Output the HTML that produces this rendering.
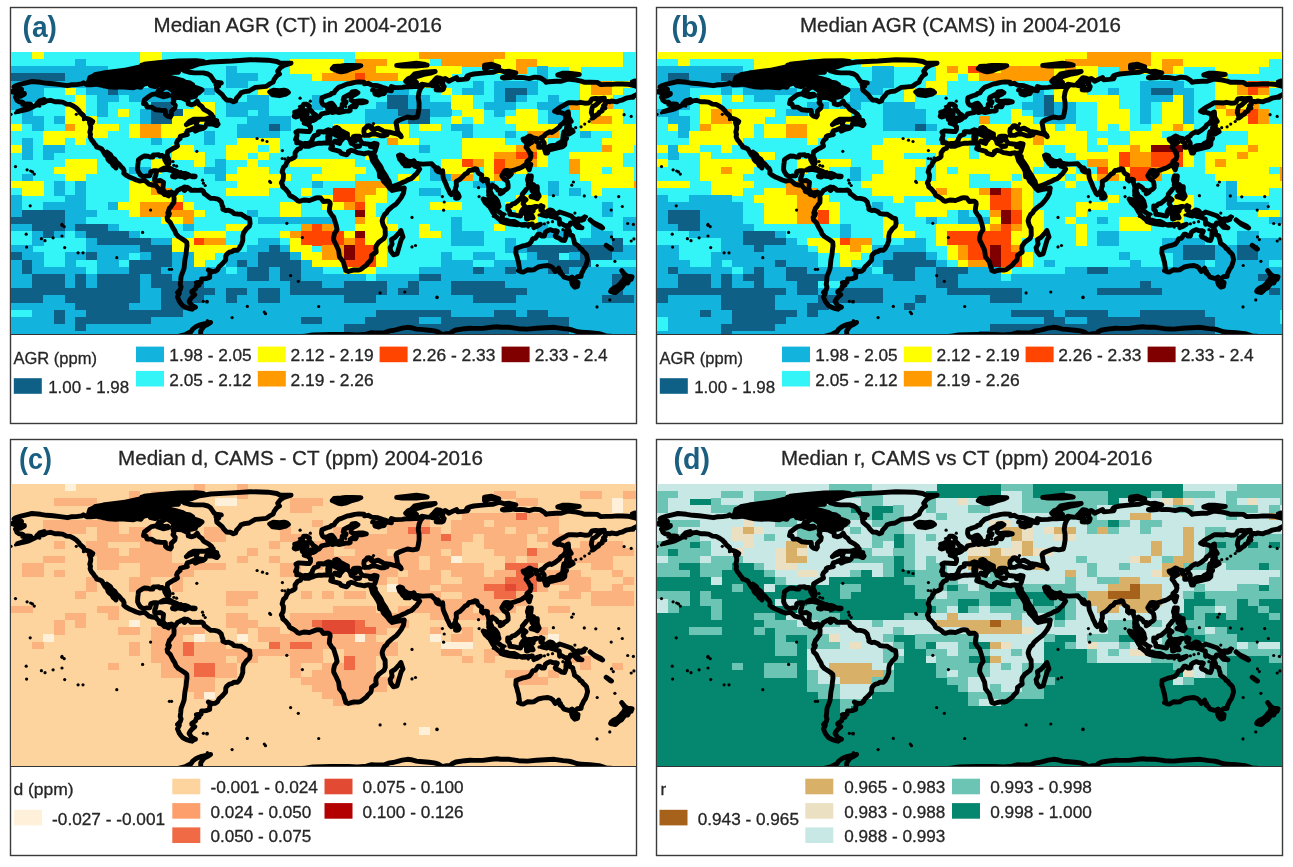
<!DOCTYPE html>
<html><head><meta charset="utf-8"><title>Median AGR maps</title>
<style>html,body{margin:0;padding:0;background:#fff;}body{width:1293px;height:867px;overflow:hidden;}svg{display:block;}</style>
</head><body>
<svg width="1293" height="867" viewBox="0 0 1293 867">
<rect x="0" y="0" width="1293" height="867" fill="#ffffff"/>
<rect x="10.5" y="7.5" width="626" height="416" fill="#fff" stroke="#3a3a3a" stroke-width="1.4"/>
<rect x="656.5" y="7.5" width="626" height="416" fill="#fff" stroke="#3a3a3a" stroke-width="1.4"/>
<rect x="10.5" y="439.5" width="626" height="416" fill="#fff" stroke="#3a3a3a" stroke-width="1.4"/>
<rect x="656.5" y="439.5" width="626" height="416" fill="#fff" stroke="#3a3a3a" stroke-width="1.4"/>
<defs><clipPath id="clipa"><rect x="11" y="52" width="625" height="282"/></clipPath><clipPath id="clipb"><rect x="657" y="52" width="625" height="282"/></clipPath><clipPath id="clipc"><rect x="11" y="484" width="625" height="282"/></clipPath><clipPath id="clipd"><rect x="657" y="484" width="625" height="282"/></clipPath></defs>
<g clip-path="url(#clipa)">
<g shape-rendering="crispEdges"><rect x="11" y="52" width="625" height="282" fill="#33f5f8"/>
<rect x="32.48" y="52.00" width="11.04" height="7.46" fill="#ffff00"/>
<rect x="139.88" y="52.00" width="21.78" height="7.46" fill="#ffff00"/>
<rect x="354.68" y="52.00" width="64.74" height="7.46" fill="#ffff00"/>
<rect x="419.12" y="52.00" width="86.22" height="7.46" fill="#ff9a00"/>
<rect x="505.04" y="52.00" width="118.44" height="7.46" fill="#ffff00"/>
<rect x="75.44" y="59.16" width="11.04" height="7.46" fill="#12b4de"/>
<rect x="139.88" y="59.16" width="21.78" height="7.46" fill="#ffff00"/>
<rect x="290.24" y="59.16" width="54.00" height="7.46" fill="#ffff00"/>
<rect x="354.68" y="59.16" width="32.52" height="7.46" fill="#ff9a00"/>
<rect x="386.90" y="59.16" width="43.26" height="7.46" fill="#ffff00"/>
<rect x="440.60" y="59.16" width="54.00" height="7.46" fill="#ff9a00"/>
<rect x="494.30" y="59.16" width="21.78" height="7.46" fill="#ffff00"/>
<rect x="515.78" y="59.16" width="21.78" height="7.46" fill="#ff9a00"/>
<rect x="537.26" y="59.16" width="86.22" height="7.46" fill="#ffff00"/>
<rect x="11.00" y="66.32" width="96.96" height="7.46" fill="#12b4de"/>
<rect x="139.88" y="66.32" width="21.78" height="7.46" fill="#ffff00"/>
<rect x="225.80" y="66.32" width="11.04" height="7.46" fill="#12b4de"/>
<rect x="290.24" y="66.32" width="43.26" height="7.46" fill="#ffff00"/>
<rect x="333.20" y="66.32" width="43.26" height="7.46" fill="#ff9a00"/>
<rect x="376.16" y="66.32" width="86.22" height="7.46" fill="#ffff00"/>
<rect x="494.30" y="66.32" width="21.78" height="7.46" fill="#ffff00"/>
<rect x="515.78" y="66.32" width="11.04" height="7.46" fill="#ff9a00"/>
<rect x="537.26" y="66.32" width="11.04" height="7.46" fill="#12b4de"/>
<rect x="569.48" y="66.32" width="11.04" height="7.46" fill="#ffff00"/>
<rect x="11.00" y="73.48" width="54.00" height="7.46" fill="#0e6087"/>
<rect x="64.70" y="73.48" width="54.00" height="7.46" fill="#12b4de"/>
<rect x="161.36" y="73.48" width="11.04" height="7.46" fill="#12b4de"/>
<rect x="225.80" y="73.48" width="32.52" height="7.46" fill="#12b4de"/>
<rect x="311.72" y="73.48" width="11.04" height="7.46" fill="#ffff00"/>
<rect x="322.46" y="73.48" width="32.52" height="7.46" fill="#ff9a00"/>
<rect x="354.68" y="73.48" width="11.04" height="7.46" fill="#ff4500"/>
<rect x="365.42" y="73.48" width="32.52" height="7.46" fill="#ff9a00"/>
<rect x="397.64" y="73.48" width="54.00" height="7.46" fill="#ffff00"/>
<rect x="537.26" y="73.48" width="11.04" height="7.46" fill="#12b4de"/>
<rect x="11.00" y="80.64" width="96.96" height="7.46" fill="#12b4de"/>
<rect x="107.66" y="80.64" width="11.04" height="7.46" fill="#0e6087"/>
<rect x="118.40" y="80.64" width="11.04" height="7.46" fill="#12b4de"/>
<rect x="161.36" y="80.64" width="21.78" height="7.46" fill="#12b4de"/>
<rect x="225.80" y="80.64" width="21.78" height="7.46" fill="#12b4de"/>
<rect x="408.38" y="80.64" width="32.52" height="7.46" fill="#ffff00"/>
<rect x="472.82" y="80.64" width="11.04" height="7.46" fill="#12b4de"/>
<rect x="494.30" y="80.64" width="43.26" height="7.46" fill="#12b4de"/>
<rect x="580.22" y="80.64" width="11.04" height="7.46" fill="#ffff00"/>
<rect x="590.96" y="80.64" width="21.78" height="7.46" fill="#ff9a00"/>
<rect x="612.44" y="80.64" width="23.86" height="7.46" fill="#ffff00"/>
<rect x="11.00" y="87.80" width="32.52" height="7.46" fill="#12b4de"/>
<rect x="64.70" y="87.80" width="11.04" height="7.46" fill="#ffff00"/>
<rect x="86.18" y="87.80" width="21.78" height="7.46" fill="#12b4de"/>
<rect x="107.66" y="87.80" width="11.04" height="7.46" fill="#0e6087"/>
<rect x="118.40" y="87.80" width="64.74" height="7.46" fill="#12b4de"/>
<rect x="204.32" y="87.80" width="11.04" height="7.46" fill="#12b4de"/>
<rect x="258.02" y="87.80" width="11.04" height="7.46" fill="#ffff00"/>
<rect x="376.16" y="87.80" width="32.52" height="7.46" fill="#12b4de"/>
<rect x="440.60" y="87.80" width="11.04" height="7.46" fill="#ffff00"/>
<rect x="462.08" y="87.80" width="21.78" height="7.46" fill="#12b4de"/>
<rect x="494.30" y="87.80" width="11.04" height="7.46" fill="#12b4de"/>
<rect x="505.04" y="87.80" width="21.78" height="7.46" fill="#0e6087"/>
<rect x="526.52" y="87.80" width="11.04" height="7.46" fill="#12b4de"/>
<rect x="580.22" y="87.80" width="11.04" height="7.46" fill="#ffff00"/>
<rect x="590.96" y="87.80" width="21.78" height="7.46" fill="#ff9a00"/>
<rect x="612.44" y="87.80" width="11.04" height="7.46" fill="#ffff00"/>
<rect x="11.00" y="94.96" width="32.52" height="7.46" fill="#12b4de"/>
<rect x="75.44" y="94.96" width="11.04" height="7.46" fill="#ffff00"/>
<rect x="96.92" y="94.96" width="21.78" height="7.46" fill="#12b4de"/>
<rect x="129.14" y="94.96" width="43.26" height="7.46" fill="#12b4de"/>
<rect x="247.28" y="94.96" width="21.78" height="7.46" fill="#12b4de"/>
<rect x="311.72" y="94.96" width="11.04" height="7.46" fill="#12b4de"/>
<rect x="386.90" y="94.96" width="21.78" height="7.46" fill="#0e6087"/>
<rect x="408.38" y="94.96" width="21.78" height="7.46" fill="#12b4de"/>
<rect x="451.34" y="94.96" width="21.78" height="7.46" fill="#ffff00"/>
<rect x="494.30" y="94.96" width="11.04" height="7.46" fill="#12b4de"/>
<rect x="505.04" y="94.96" width="11.04" height="7.46" fill="#0e6087"/>
<rect x="515.78" y="94.96" width="11.04" height="7.46" fill="#12b4de"/>
<rect x="548.00" y="94.96" width="11.04" height="7.46" fill="#12b4de"/>
<rect x="580.22" y="94.96" width="32.52" height="7.46" fill="#ffff00"/>
<rect x="11.00" y="102.12" width="11.04" height="7.46" fill="#12b4de"/>
<rect x="64.70" y="102.12" width="21.78" height="7.46" fill="#ffff00"/>
<rect x="96.92" y="102.12" width="11.04" height="7.46" fill="#12b4de"/>
<rect x="150.62" y="102.12" width="21.78" height="7.46" fill="#0e6087"/>
<rect x="193.58" y="102.12" width="21.78" height="7.46" fill="#ffff00"/>
<rect x="225.80" y="102.12" width="43.26" height="7.46" fill="#12b4de"/>
<rect x="311.72" y="102.12" width="11.04" height="7.46" fill="#12b4de"/>
<rect x="376.16" y="102.12" width="11.04" height="7.46" fill="#12b4de"/>
<rect x="386.90" y="102.12" width="21.78" height="7.46" fill="#0e6087"/>
<rect x="408.38" y="102.12" width="43.26" height="7.46" fill="#12b4de"/>
<rect x="451.34" y="102.12" width="21.78" height="7.46" fill="#ffff00"/>
<rect x="483.56" y="102.12" width="32.52" height="7.46" fill="#12b4de"/>
<rect x="537.26" y="102.12" width="32.52" height="7.46" fill="#12b4de"/>
<rect x="569.48" y="102.12" width="11.04" height="7.46" fill="#ff9a00"/>
<rect x="580.22" y="102.12" width="21.78" height="7.46" fill="#ffff00"/>
<rect x="601.70" y="102.12" width="11.04" height="7.46" fill="#ff9a00"/>
<rect x="21.74" y="109.28" width="11.04" height="7.46" fill="#12b4de"/>
<rect x="64.70" y="109.28" width="21.78" height="7.46" fill="#ffff00"/>
<rect x="96.92" y="109.28" width="11.04" height="7.46" fill="#12b4de"/>
<rect x="118.40" y="109.28" width="11.04" height="7.46" fill="#ffff00"/>
<rect x="139.88" y="109.28" width="11.04" height="7.46" fill="#12b4de"/>
<rect x="150.62" y="109.28" width="32.52" height="7.46" fill="#0e6087"/>
<rect x="182.84" y="109.28" width="32.52" height="7.46" fill="#ffff00"/>
<rect x="225.80" y="109.28" width="21.78" height="7.46" fill="#12b4de"/>
<rect x="258.02" y="109.28" width="11.04" height="7.46" fill="#12b4de"/>
<rect x="365.42" y="109.28" width="32.52" height="7.46" fill="#12b4de"/>
<rect x="397.64" y="109.28" width="32.52" height="7.46" fill="#0e6087"/>
<rect x="429.86" y="109.28" width="21.78" height="7.46" fill="#12b4de"/>
<rect x="462.08" y="109.28" width="21.78" height="7.46" fill="#ffff00"/>
<rect x="494.30" y="109.28" width="11.04" height="7.46" fill="#12b4de"/>
<rect x="515.78" y="109.28" width="21.78" height="7.46" fill="#ffff00"/>
<rect x="548.00" y="109.28" width="21.78" height="7.46" fill="#12b4de"/>
<rect x="580.22" y="109.28" width="43.26" height="7.46" fill="#ffff00"/>
<rect x="21.74" y="116.44" width="21.78" height="7.46" fill="#12b4de"/>
<rect x="53.96" y="116.44" width="11.04" height="7.46" fill="#12b4de"/>
<rect x="64.70" y="116.44" width="32.52" height="7.46" fill="#ffff00"/>
<rect x="139.88" y="116.44" width="11.04" height="7.46" fill="#12b4de"/>
<rect x="150.62" y="116.44" width="21.78" height="7.46" fill="#0e6087"/>
<rect x="172.10" y="116.44" width="32.52" height="7.46" fill="#ffff00"/>
<rect x="247.28" y="116.44" width="43.26" height="7.46" fill="#12b4de"/>
<rect x="365.42" y="116.44" width="43.26" height="7.46" fill="#12b4de"/>
<rect x="408.38" y="116.44" width="21.78" height="7.46" fill="#0e6087"/>
<rect x="451.34" y="116.44" width="11.04" height="7.46" fill="#ffff00"/>
<rect x="472.82" y="116.44" width="11.04" height="7.46" fill="#ffff00"/>
<rect x="505.04" y="116.44" width="32.52" height="7.46" fill="#ffff00"/>
<rect x="548.00" y="116.44" width="21.78" height="7.46" fill="#12b4de"/>
<rect x="580.22" y="116.44" width="11.04" height="7.46" fill="#ffff00"/>
<rect x="590.96" y="116.44" width="21.78" height="7.46" fill="#ff9a00"/>
<rect x="612.44" y="116.44" width="11.04" height="7.46" fill="#ffff00"/>
<rect x="11.00" y="123.60" width="11.04" height="7.46" fill="#ffff00"/>
<rect x="32.48" y="123.60" width="11.04" height="7.46" fill="#12b4de"/>
<rect x="64.70" y="123.60" width="11.04" height="7.46" fill="#ff9a00"/>
<rect x="75.44" y="123.60" width="43.26" height="7.46" fill="#ffff00"/>
<rect x="129.14" y="123.60" width="11.04" height="7.46" fill="#ffff00"/>
<rect x="139.88" y="123.60" width="21.78" height="7.46" fill="#ff9a00"/>
<rect x="161.36" y="123.60" width="32.52" height="7.46" fill="#ffff00"/>
<rect x="236.54" y="123.60" width="32.52" height="7.46" fill="#12b4de"/>
<rect x="268.76" y="123.60" width="11.04" height="7.46" fill="#0e6087"/>
<rect x="279.50" y="123.60" width="11.04" height="7.46" fill="#12b4de"/>
<rect x="333.20" y="123.60" width="75.48" height="7.46" fill="#ffff00"/>
<rect x="419.12" y="123.60" width="21.78" height="7.46" fill="#ffff00"/>
<rect x="451.34" y="123.60" width="21.78" height="7.46" fill="#12b4de"/>
<rect x="515.78" y="123.60" width="43.26" height="7.46" fill="#ffff00"/>
<rect x="580.22" y="123.60" width="56.08" height="7.46" fill="#ffff00"/>
<rect x="43.22" y="130.76" width="64.74" height="7.46" fill="#ffff00"/>
<rect x="129.14" y="130.76" width="11.04" height="7.46" fill="#ffff00"/>
<rect x="139.88" y="130.76" width="21.78" height="7.46" fill="#ff9a00"/>
<rect x="161.36" y="130.76" width="21.78" height="7.46" fill="#ffff00"/>
<rect x="204.32" y="130.76" width="11.04" height="7.46" fill="#12b4de"/>
<rect x="236.54" y="130.76" width="43.26" height="7.46" fill="#12b4de"/>
<rect x="343.94" y="130.76" width="64.74" height="7.46" fill="#ffff00"/>
<rect x="462.08" y="130.76" width="11.04" height="7.46" fill="#12b4de"/>
<rect x="505.04" y="130.76" width="11.04" height="7.46" fill="#12b4de"/>
<rect x="526.52" y="130.76" width="32.52" height="7.46" fill="#ff9a00"/>
<rect x="580.22" y="130.76" width="11.04" height="7.46" fill="#12b4de"/>
<rect x="612.44" y="130.76" width="23.86" height="7.46" fill="#ffff00"/>
<rect x="21.74" y="137.92" width="11.04" height="7.46" fill="#12b4de"/>
<rect x="43.22" y="137.92" width="21.78" height="7.46" fill="#ffff00"/>
<rect x="75.44" y="137.92" width="11.04" height="7.46" fill="#ffff00"/>
<rect x="150.62" y="137.92" width="11.04" height="7.46" fill="#12b4de"/>
<rect x="204.32" y="137.92" width="11.04" height="7.46" fill="#12b4de"/>
<rect x="236.54" y="137.92" width="43.26" height="7.46" fill="#ffff00"/>
<rect x="386.90" y="137.92" width="11.04" height="7.46" fill="#ff9a00"/>
<rect x="397.64" y="137.92" width="21.78" height="7.46" fill="#ffff00"/>
<rect x="462.08" y="137.92" width="43.26" height="7.46" fill="#ffff00"/>
<rect x="526.52" y="137.92" width="11.04" height="7.46" fill="#ff9a00"/>
<rect x="537.26" y="137.92" width="11.04" height="7.46" fill="#ffff00"/>
<rect x="601.70" y="137.92" width="34.60" height="7.46" fill="#ffff00"/>
<rect x="11.00" y="145.08" width="11.04" height="7.46" fill="#ffff00"/>
<rect x="21.74" y="145.08" width="11.04" height="7.46" fill="#12b4de"/>
<rect x="43.22" y="145.08" width="21.78" height="7.46" fill="#12b4de"/>
<rect x="172.10" y="145.08" width="21.78" height="7.46" fill="#ffff00"/>
<rect x="225.80" y="145.08" width="32.52" height="7.46" fill="#ffff00"/>
<rect x="268.76" y="145.08" width="11.04" height="7.46" fill="#ffff00"/>
<rect x="419.12" y="145.08" width="11.04" height="7.46" fill="#12b4de"/>
<rect x="462.08" y="145.08" width="54.00" height="7.46" fill="#ffff00"/>
<rect x="515.78" y="145.08" width="21.78" height="7.46" fill="#ff9a00"/>
<rect x="537.26" y="145.08" width="11.04" height="7.46" fill="#ffff00"/>
<rect x="601.70" y="145.08" width="11.04" height="7.46" fill="#ff9a00"/>
<rect x="612.44" y="145.08" width="21.78" height="7.46" fill="#ffff00"/>
<rect x="21.74" y="152.24" width="11.04" height="7.46" fill="#12b4de"/>
<rect x="43.22" y="152.24" width="11.04" height="7.46" fill="#12b4de"/>
<rect x="172.10" y="152.24" width="32.52" height="7.46" fill="#ffff00"/>
<rect x="225.80" y="152.24" width="21.78" height="7.46" fill="#ffff00"/>
<rect x="258.02" y="152.24" width="11.04" height="7.46" fill="#ffff00"/>
<rect x="365.42" y="152.24" width="11.04" height="7.46" fill="#ffff00"/>
<rect x="462.08" y="152.24" width="32.52" height="7.46" fill="#ffff00"/>
<rect x="494.30" y="152.24" width="21.78" height="7.46" fill="#ff9a00"/>
<rect x="515.78" y="152.24" width="21.78" height="7.46" fill="#ff4500"/>
<rect x="537.26" y="152.24" width="11.04" height="7.46" fill="#ffff00"/>
<rect x="569.48" y="152.24" width="54.00" height="7.46" fill="#ffff00"/>
<rect x="64.70" y="159.40" width="32.52" height="7.46" fill="#ffff00"/>
<rect x="150.62" y="159.40" width="21.78" height="7.46" fill="#ffff00"/>
<rect x="193.58" y="159.40" width="11.04" height="7.46" fill="#ffff00"/>
<rect x="215.06" y="159.40" width="11.04" height="7.46" fill="#12b4de"/>
<rect x="247.28" y="159.40" width="11.04" height="7.46" fill="#ffff00"/>
<rect x="290.24" y="159.40" width="64.74" height="7.46" fill="#ffff00"/>
<rect x="440.60" y="159.40" width="21.78" height="7.46" fill="#ffff00"/>
<rect x="462.08" y="159.40" width="11.04" height="7.46" fill="#ff4500"/>
<rect x="472.82" y="159.40" width="11.04" height="7.46" fill="#ff9a00"/>
<rect x="483.56" y="159.40" width="11.04" height="7.46" fill="#ffff00"/>
<rect x="494.30" y="159.40" width="11.04" height="7.46" fill="#ff4500"/>
<rect x="505.04" y="159.40" width="32.52" height="7.46" fill="#ff9a00"/>
<rect x="537.26" y="159.40" width="11.04" height="7.46" fill="#ffff00"/>
<rect x="569.48" y="159.40" width="11.04" height="7.46" fill="#ff9a00"/>
<rect x="580.22" y="159.40" width="43.26" height="7.46" fill="#ffff00"/>
<rect x="53.96" y="166.56" width="43.26" height="7.46" fill="#ffff00"/>
<rect x="129.14" y="166.56" width="21.78" height="7.46" fill="#12b4de"/>
<rect x="150.62" y="166.56" width="11.04" height="7.46" fill="#ffff00"/>
<rect x="204.32" y="166.56" width="21.78" height="7.46" fill="#12b4de"/>
<rect x="236.54" y="166.56" width="32.52" height="7.46" fill="#ffff00"/>
<rect x="322.46" y="166.56" width="43.26" height="7.46" fill="#ffff00"/>
<rect x="429.86" y="166.56" width="11.04" height="7.46" fill="#12b4de"/>
<rect x="440.60" y="166.56" width="32.52" height="7.46" fill="#ffff00"/>
<rect x="483.56" y="166.56" width="11.04" height="7.46" fill="#ffff00"/>
<rect x="494.30" y="166.56" width="11.04" height="7.46" fill="#ff4500"/>
<rect x="505.04" y="166.56" width="11.04" height="7.46" fill="#ff9a00"/>
<rect x="515.78" y="166.56" width="11.04" height="7.46" fill="#ffff00"/>
<rect x="569.48" y="166.56" width="11.04" height="7.46" fill="#ff9a00"/>
<rect x="580.22" y="166.56" width="21.78" height="7.46" fill="#ffff00"/>
<rect x="612.44" y="166.56" width="21.78" height="7.46" fill="#ffff00"/>
<rect x="21.74" y="173.72" width="11.04" height="7.46" fill="#12b4de"/>
<rect x="64.70" y="173.72" width="21.78" height="7.46" fill="#ffff00"/>
<rect x="215.06" y="173.72" width="11.04" height="7.46" fill="#12b4de"/>
<rect x="225.80" y="173.72" width="64.74" height="7.46" fill="#ffff00"/>
<rect x="311.72" y="173.72" width="43.26" height="7.46" fill="#ffff00"/>
<rect x="397.64" y="173.72" width="21.78" height="7.46" fill="#ffff00"/>
<rect x="429.86" y="173.72" width="21.78" height="7.46" fill="#12b4de"/>
<rect x="451.34" y="173.72" width="21.78" height="7.46" fill="#ff9a00"/>
<rect x="483.56" y="173.72" width="11.04" height="7.46" fill="#ffff00"/>
<rect x="494.30" y="173.72" width="11.04" height="7.46" fill="#ff9a00"/>
<rect x="580.22" y="173.72" width="54.00" height="7.46" fill="#ffff00"/>
<rect x="11.00" y="180.88" width="32.52" height="7.46" fill="#ffff00"/>
<rect x="53.96" y="180.88" width="11.04" height="7.46" fill="#12b4de"/>
<rect x="75.44" y="180.88" width="11.04" height="7.46" fill="#12b4de"/>
<rect x="129.14" y="180.88" width="21.78" height="7.46" fill="#ffff00"/>
<rect x="150.62" y="180.88" width="11.04" height="7.46" fill="#ff9a00"/>
<rect x="236.54" y="180.88" width="43.26" height="7.46" fill="#ffff00"/>
<rect x="311.72" y="180.88" width="11.04" height="7.46" fill="#12b4de"/>
<rect x="354.68" y="180.88" width="32.52" height="7.46" fill="#ff9a00"/>
<rect x="472.82" y="180.88" width="21.78" height="7.46" fill="#12b4de"/>
<rect x="548.00" y="180.88" width="11.04" height="7.46" fill="#12b4de"/>
<rect x="590.96" y="180.88" width="43.26" height="7.46" fill="#ffff00"/>
<rect x="633.92" y="180.88" width="2.38" height="7.46" fill="#ff9a00"/>
<rect x="21.74" y="188.04" width="21.78" height="7.46" fill="#ffff00"/>
<rect x="53.96" y="188.04" width="11.04" height="7.46" fill="#12b4de"/>
<rect x="75.44" y="188.04" width="11.04" height="7.46" fill="#12b4de"/>
<rect x="129.14" y="188.04" width="21.78" height="7.46" fill="#ffff00"/>
<rect x="150.62" y="188.04" width="21.78" height="7.46" fill="#ff9a00"/>
<rect x="225.80" y="188.04" width="43.26" height="7.46" fill="#ffff00"/>
<rect x="300.98" y="188.04" width="11.04" height="7.46" fill="#ffff00"/>
<rect x="333.20" y="188.04" width="21.78" height="7.46" fill="#ff4500"/>
<rect x="354.68" y="188.04" width="21.78" height="7.46" fill="#ff9a00"/>
<rect x="376.16" y="188.04" width="11.04" height="7.46" fill="#ffff00"/>
<rect x="419.12" y="188.04" width="21.78" height="7.46" fill="#12b4de"/>
<rect x="548.00" y="188.04" width="11.04" height="7.46" fill="#12b4de"/>
<rect x="569.48" y="188.04" width="11.04" height="7.46" fill="#12b4de"/>
<rect x="590.96" y="188.04" width="11.04" height="7.46" fill="#ffff00"/>
<rect x="11.00" y="195.20" width="11.04" height="7.46" fill="#12b4de"/>
<rect x="64.70" y="195.20" width="21.78" height="7.46" fill="#12b4de"/>
<rect x="129.14" y="195.20" width="54.00" height="7.46" fill="#ffff00"/>
<rect x="322.46" y="195.20" width="11.04" height="7.46" fill="#ffff00"/>
<rect x="333.20" y="195.20" width="21.78" height="7.46" fill="#ff4500"/>
<rect x="354.68" y="195.20" width="11.04" height="7.46" fill="#ff9a00"/>
<rect x="365.42" y="195.20" width="21.78" height="7.46" fill="#ffff00"/>
<rect x="515.78" y="195.20" width="32.52" height="7.46" fill="#ffff00"/>
<rect x="11.00" y="202.36" width="11.04" height="7.46" fill="#12b4de"/>
<rect x="43.22" y="202.36" width="43.26" height="7.46" fill="#12b4de"/>
<rect x="107.66" y="202.36" width="11.04" height="7.46" fill="#12b4de"/>
<rect x="118.40" y="202.36" width="21.78" height="7.46" fill="#ffff00"/>
<rect x="139.88" y="202.36" width="32.52" height="7.46" fill="#ff9a00"/>
<rect x="172.10" y="202.36" width="11.04" height="7.46" fill="#ff4500"/>
<rect x="182.84" y="202.36" width="11.04" height="7.46" fill="#ffff00"/>
<rect x="279.50" y="202.36" width="21.78" height="7.46" fill="#ffff00"/>
<rect x="322.46" y="202.36" width="21.78" height="7.46" fill="#ffff00"/>
<rect x="343.94" y="202.36" width="11.04" height="7.46" fill="#ff9a00"/>
<rect x="354.68" y="202.36" width="11.04" height="7.46" fill="#ff4500"/>
<rect x="365.42" y="202.36" width="11.04" height="7.46" fill="#ffff00"/>
<rect x="429.86" y="202.36" width="32.52" height="7.46" fill="#ffff00"/>
<rect x="505.04" y="202.36" width="43.26" height="7.46" fill="#ffff00"/>
<rect x="601.70" y="202.36" width="11.04" height="7.46" fill="#12b4de"/>
<rect x="11.00" y="209.52" width="11.04" height="7.46" fill="#12b4de"/>
<rect x="21.74" y="209.52" width="43.26" height="7.46" fill="#0e6087"/>
<rect x="64.70" y="209.52" width="32.52" height="7.46" fill="#12b4de"/>
<rect x="129.14" y="209.52" width="11.04" height="7.46" fill="#ffff00"/>
<rect x="139.88" y="209.52" width="54.00" height="7.46" fill="#ff9a00"/>
<rect x="193.58" y="209.52" width="11.04" height="7.46" fill="#ffff00"/>
<rect x="247.28" y="209.52" width="11.04" height="7.46" fill="#12b4de"/>
<rect x="279.50" y="209.52" width="21.78" height="7.46" fill="#ffff00"/>
<rect x="354.68" y="209.52" width="11.04" height="7.46" fill="#800000"/>
<rect x="365.42" y="209.52" width="11.04" height="7.46" fill="#ffff00"/>
<rect x="515.78" y="209.52" width="32.52" height="7.46" fill="#ffff00"/>
<rect x="601.70" y="209.52" width="11.04" height="7.46" fill="#12b4de"/>
<rect x="11.00" y="216.68" width="54.00" height="7.46" fill="#0e6087"/>
<rect x="64.70" y="216.68" width="21.78" height="7.46" fill="#12b4de"/>
<rect x="161.36" y="216.68" width="21.78" height="7.46" fill="#ffff00"/>
<rect x="182.84" y="216.68" width="11.04" height="7.46" fill="#ff9a00"/>
<rect x="258.02" y="216.68" width="75.48" height="7.46" fill="#12b4de"/>
<rect x="354.68" y="216.68" width="11.04" height="7.46" fill="#ff9a00"/>
<rect x="365.42" y="216.68" width="21.78" height="7.46" fill="#ffff00"/>
<rect x="451.34" y="216.68" width="11.04" height="7.46" fill="#12b4de"/>
<rect x="526.52" y="216.68" width="11.04" height="7.46" fill="#ffff00"/>
<rect x="623.18" y="216.68" width="13.12" height="7.46" fill="#12b4de"/>
<rect x="11.00" y="223.84" width="21.78" height="7.46" fill="#12b4de"/>
<rect x="32.48" y="223.84" width="32.52" height="7.46" fill="#0e6087"/>
<rect x="64.70" y="223.84" width="11.04" height="7.46" fill="#12b4de"/>
<rect x="75.44" y="223.84" width="32.52" height="7.46" fill="#0e6087"/>
<rect x="107.66" y="223.84" width="11.04" height="7.46" fill="#12b4de"/>
<rect x="182.84" y="223.84" width="11.04" height="7.46" fill="#12b4de"/>
<rect x="225.80" y="223.84" width="21.78" height="7.46" fill="#ffff00"/>
<rect x="300.98" y="223.84" width="11.04" height="7.46" fill="#ff9a00"/>
<rect x="311.72" y="223.84" width="11.04" height="7.46" fill="#ff4500"/>
<rect x="322.46" y="223.84" width="11.04" height="7.46" fill="#ff9a00"/>
<rect x="354.68" y="223.84" width="43.26" height="7.46" fill="#ffff00"/>
<rect x="419.12" y="223.84" width="11.04" height="7.46" fill="#ffff00"/>
<rect x="451.34" y="223.84" width="11.04" height="7.46" fill="#12b4de"/>
<rect x="494.30" y="223.84" width="11.04" height="7.46" fill="#ffff00"/>
<rect x="537.26" y="223.84" width="11.04" height="7.46" fill="#12b4de"/>
<rect x="590.96" y="223.84" width="11.04" height="7.46" fill="#12b4de"/>
<rect x="623.18" y="223.84" width="13.12" height="7.46" fill="#12b4de"/>
<rect x="32.48" y="231.00" width="11.04" height="7.46" fill="#12b4de"/>
<rect x="43.22" y="231.00" width="11.04" height="7.46" fill="#0e6087"/>
<rect x="53.96" y="231.00" width="11.04" height="7.46" fill="#12b4de"/>
<rect x="75.44" y="231.00" width="11.04" height="7.46" fill="#12b4de"/>
<rect x="86.18" y="231.00" width="43.26" height="7.46" fill="#0e6087"/>
<rect x="129.14" y="231.00" width="11.04" height="7.46" fill="#12b4de"/>
<rect x="193.58" y="231.00" width="32.52" height="7.46" fill="#ffff00"/>
<rect x="279.50" y="231.00" width="11.04" height="7.46" fill="#ffff00"/>
<rect x="290.24" y="231.00" width="11.04" height="7.46" fill="#ff9a00"/>
<rect x="300.98" y="231.00" width="43.26" height="7.46" fill="#ff4500"/>
<rect x="343.94" y="231.00" width="11.04" height="7.46" fill="#ffff00"/>
<rect x="354.68" y="231.00" width="11.04" height="7.46" fill="#800000"/>
<rect x="365.42" y="231.00" width="21.78" height="7.46" fill="#ffff00"/>
<rect x="419.12" y="231.00" width="21.78" height="7.46" fill="#ffff00"/>
<rect x="451.34" y="231.00" width="32.52" height="7.46" fill="#12b4de"/>
<rect x="537.26" y="231.00" width="32.52" height="7.46" fill="#12b4de"/>
<rect x="590.96" y="231.00" width="21.78" height="7.46" fill="#12b4de"/>
<rect x="32.48" y="238.16" width="11.04" height="7.46" fill="#12b4de"/>
<rect x="86.18" y="238.16" width="11.04" height="7.46" fill="#12b4de"/>
<rect x="96.92" y="238.16" width="54.00" height="7.46" fill="#0e6087"/>
<rect x="150.62" y="238.16" width="21.78" height="7.46" fill="#12b4de"/>
<rect x="172.10" y="238.16" width="21.78" height="7.46" fill="#ffff00"/>
<rect x="193.58" y="238.16" width="11.04" height="7.46" fill="#ff4500"/>
<rect x="204.32" y="238.16" width="21.78" height="7.46" fill="#ff9a00"/>
<rect x="258.02" y="238.16" width="21.78" height="7.46" fill="#12b4de"/>
<rect x="290.24" y="238.16" width="11.04" height="7.46" fill="#ffff00"/>
<rect x="300.98" y="238.16" width="43.26" height="7.46" fill="#ff4500"/>
<rect x="343.94" y="238.16" width="11.04" height="7.46" fill="#ff9a00"/>
<rect x="354.68" y="238.16" width="11.04" height="7.46" fill="#ff4500"/>
<rect x="365.42" y="238.16" width="21.78" height="7.46" fill="#ffff00"/>
<rect x="451.34" y="238.16" width="32.52" height="7.46" fill="#12b4de"/>
<rect x="505.04" y="238.16" width="11.04" height="7.46" fill="#12b4de"/>
<rect x="580.22" y="238.16" width="32.52" height="7.46" fill="#12b4de"/>
<rect x="612.44" y="238.16" width="11.04" height="7.46" fill="#0e6087"/>
<rect x="11.00" y="245.32" width="21.78" height="7.46" fill="#12b4de"/>
<rect x="86.18" y="245.32" width="54.00" height="7.46" fill="#12b4de"/>
<rect x="139.88" y="245.32" width="32.52" height="7.46" fill="#0e6087"/>
<rect x="172.10" y="245.32" width="64.74" height="7.46" fill="#ffff00"/>
<rect x="247.28" y="245.32" width="21.78" height="7.46" fill="#12b4de"/>
<rect x="268.76" y="245.32" width="11.04" height="7.46" fill="#0e6087"/>
<rect x="279.50" y="245.32" width="11.04" height="7.46" fill="#12b4de"/>
<rect x="290.24" y="245.32" width="21.78" height="7.46" fill="#ffff00"/>
<rect x="322.46" y="245.32" width="21.78" height="7.46" fill="#ff9a00"/>
<rect x="343.94" y="245.32" width="11.04" height="7.46" fill="#800000"/>
<rect x="354.68" y="245.32" width="21.78" height="7.46" fill="#ff4500"/>
<rect x="376.16" y="245.32" width="11.04" height="7.46" fill="#ffff00"/>
<rect x="505.04" y="245.32" width="21.78" height="7.46" fill="#12b4de"/>
<rect x="526.52" y="245.32" width="96.96" height="7.46" fill="#0e6087"/>
<rect x="623.18" y="245.32" width="13.12" height="7.46" fill="#12b4de"/>
<rect x="11.00" y="252.48" width="11.04" height="7.46" fill="#0e6087"/>
<rect x="21.74" y="252.48" width="21.78" height="7.46" fill="#12b4de"/>
<rect x="64.70" y="252.48" width="21.78" height="7.46" fill="#12b4de"/>
<rect x="86.18" y="252.48" width="11.04" height="7.46" fill="#0e6087"/>
<rect x="96.92" y="252.48" width="32.52" height="7.46" fill="#12b4de"/>
<rect x="139.88" y="252.48" width="11.04" height="7.46" fill="#12b4de"/>
<rect x="150.62" y="252.48" width="21.78" height="7.46" fill="#0e6087"/>
<rect x="172.10" y="252.48" width="21.78" height="7.46" fill="#12b4de"/>
<rect x="193.58" y="252.48" width="21.78" height="7.46" fill="#ffff00"/>
<rect x="225.80" y="252.48" width="32.52" height="7.46" fill="#12b4de"/>
<rect x="258.02" y="252.48" width="32.52" height="7.46" fill="#0e6087"/>
<rect x="290.24" y="252.48" width="11.04" height="7.46" fill="#12b4de"/>
<rect x="300.98" y="252.48" width="21.78" height="7.46" fill="#ffff00"/>
<rect x="322.46" y="252.48" width="21.78" height="7.46" fill="#ff9a00"/>
<rect x="343.94" y="252.48" width="11.04" height="7.46" fill="#800000"/>
<rect x="354.68" y="252.48" width="21.78" height="7.46" fill="#ff4500"/>
<rect x="376.16" y="252.48" width="11.04" height="7.46" fill="#ffff00"/>
<rect x="440.60" y="252.48" width="11.04" height="7.46" fill="#12b4de"/>
<rect x="472.82" y="252.48" width="21.78" height="7.46" fill="#12b4de"/>
<rect x="526.52" y="252.48" width="11.04" height="7.46" fill="#12b4de"/>
<rect x="537.26" y="252.48" width="21.78" height="7.46" fill="#0e6087"/>
<rect x="569.48" y="252.48" width="11.04" height="7.46" fill="#12b4de"/>
<rect x="580.22" y="252.48" width="32.52" height="7.46" fill="#0e6087"/>
<rect x="612.44" y="252.48" width="23.86" height="7.46" fill="#12b4de"/>
<rect x="11.00" y="259.64" width="11.04" height="7.46" fill="#12b4de"/>
<rect x="21.74" y="259.64" width="11.04" height="7.46" fill="#0e6087"/>
<rect x="32.48" y="259.64" width="11.04" height="7.46" fill="#12b4de"/>
<rect x="64.70" y="259.64" width="11.04" height="7.46" fill="#12b4de"/>
<rect x="96.92" y="259.64" width="21.78" height="7.46" fill="#12b4de"/>
<rect x="129.14" y="259.64" width="43.26" height="7.46" fill="#0e6087"/>
<rect x="172.10" y="259.64" width="21.78" height="7.46" fill="#12b4de"/>
<rect x="193.58" y="259.64" width="11.04" height="7.46" fill="#ffff00"/>
<rect x="225.80" y="259.64" width="11.04" height="7.46" fill="#12b4de"/>
<rect x="236.54" y="259.64" width="11.04" height="7.46" fill="#0e6087"/>
<rect x="247.28" y="259.64" width="11.04" height="7.46" fill="#12b4de"/>
<rect x="258.02" y="259.64" width="43.26" height="7.46" fill="#0e6087"/>
<rect x="300.98" y="259.64" width="11.04" height="7.46" fill="#12b4de"/>
<rect x="311.72" y="259.64" width="32.52" height="7.46" fill="#ffff00"/>
<rect x="343.94" y="259.64" width="32.52" height="7.46" fill="#ff4500"/>
<rect x="376.16" y="259.64" width="11.04" height="7.46" fill="#ffff00"/>
<rect x="440.60" y="259.64" width="32.52" height="7.46" fill="#12b4de"/>
<rect x="494.30" y="259.64" width="54.00" height="7.46" fill="#12b4de"/>
<rect x="548.00" y="259.64" width="43.26" height="7.46" fill="#0e6087"/>
<rect x="11.00" y="266.80" width="11.04" height="7.46" fill="#12b4de"/>
<rect x="21.74" y="266.80" width="11.04" height="7.46" fill="#0e6087"/>
<rect x="32.48" y="266.80" width="54.00" height="7.46" fill="#12b4de"/>
<rect x="96.92" y="266.80" width="32.52" height="7.46" fill="#12b4de"/>
<rect x="129.14" y="266.80" width="32.52" height="7.46" fill="#0e6087"/>
<rect x="161.36" y="266.80" width="64.74" height="7.46" fill="#12b4de"/>
<rect x="236.54" y="266.80" width="11.04" height="7.46" fill="#12b4de"/>
<rect x="247.28" y="266.80" width="21.78" height="7.46" fill="#0e6087"/>
<rect x="268.76" y="266.80" width="11.04" height="7.46" fill="#12b4de"/>
<rect x="279.50" y="266.80" width="21.78" height="7.46" fill="#0e6087"/>
<rect x="300.98" y="266.80" width="21.78" height="7.46" fill="#12b4de"/>
<rect x="343.94" y="266.80" width="32.52" height="7.46" fill="#ffff00"/>
<rect x="419.12" y="266.80" width="54.00" height="7.46" fill="#12b4de"/>
<rect x="472.82" y="266.80" width="11.04" height="7.46" fill="#0e6087"/>
<rect x="483.56" y="266.80" width="21.78" height="7.46" fill="#12b4de"/>
<rect x="505.04" y="266.80" width="11.04" height="7.46" fill="#0e6087"/>
<rect x="515.78" y="266.80" width="32.52" height="7.46" fill="#12b4de"/>
<rect x="548.00" y="266.80" width="21.78" height="7.46" fill="#0e6087"/>
<rect x="569.48" y="266.80" width="66.82" height="7.46" fill="#12b4de"/>
<rect x="11.00" y="273.96" width="21.78" height="7.46" fill="#12b4de"/>
<rect x="32.48" y="273.96" width="32.52" height="7.46" fill="#0e6087"/>
<rect x="64.70" y="273.96" width="11.04" height="7.46" fill="#12b4de"/>
<rect x="75.44" y="273.96" width="11.04" height="7.46" fill="#0e6087"/>
<rect x="86.18" y="273.96" width="11.04" height="7.46" fill="#12b4de"/>
<rect x="96.92" y="273.96" width="43.26" height="7.46" fill="#0e6087"/>
<rect x="139.88" y="273.96" width="11.04" height="7.46" fill="#12b4de"/>
<rect x="150.62" y="273.96" width="21.78" height="7.46" fill="#0e6087"/>
<rect x="172.10" y="273.96" width="75.48" height="7.46" fill="#12b4de"/>
<rect x="247.28" y="273.96" width="21.78" height="7.46" fill="#0e6087"/>
<rect x="268.76" y="273.96" width="11.04" height="7.46" fill="#12b4de"/>
<rect x="279.50" y="273.96" width="21.78" height="7.46" fill="#0e6087"/>
<rect x="300.98" y="273.96" width="64.74" height="7.46" fill="#12b4de"/>
<rect x="376.16" y="273.96" width="43.26" height="7.46" fill="#12b4de"/>
<rect x="419.12" y="273.96" width="21.78" height="7.46" fill="#0e6087"/>
<rect x="440.60" y="273.96" width="172.14" height="7.46" fill="#12b4de"/>
<rect x="612.44" y="273.96" width="11.04" height="7.46" fill="#0e6087"/>
<rect x="623.18" y="273.96" width="13.12" height="7.46" fill="#12b4de"/>
<rect x="11.00" y="281.12" width="21.78" height="7.46" fill="#12b4de"/>
<rect x="32.48" y="281.12" width="32.52" height="7.46" fill="#0e6087"/>
<rect x="64.70" y="281.12" width="11.04" height="7.46" fill="#12b4de"/>
<rect x="75.44" y="281.12" width="11.04" height="7.46" fill="#0e6087"/>
<rect x="86.18" y="281.12" width="11.04" height="7.46" fill="#12b4de"/>
<rect x="96.92" y="281.12" width="43.26" height="7.46" fill="#0e6087"/>
<rect x="139.88" y="281.12" width="11.04" height="7.46" fill="#12b4de"/>
<rect x="150.62" y="281.12" width="54.00" height="7.46" fill="#0e6087"/>
<rect x="204.32" y="281.12" width="86.22" height="7.46" fill="#12b4de"/>
<rect x="290.24" y="281.12" width="32.52" height="7.46" fill="#0e6087"/>
<rect x="322.46" y="281.12" width="21.78" height="7.46" fill="#12b4de"/>
<rect x="343.94" y="281.12" width="43.26" height="7.46" fill="#0e6087"/>
<rect x="386.90" y="281.12" width="21.78" height="7.46" fill="#12b4de"/>
<rect x="408.38" y="281.12" width="11.04" height="7.46" fill="#0e6087"/>
<rect x="419.12" y="281.12" width="32.52" height="7.46" fill="#12b4de"/>
<rect x="451.34" y="281.12" width="54.00" height="7.46" fill="#0e6087"/>
<rect x="505.04" y="281.12" width="107.70" height="7.46" fill="#12b4de"/>
<rect x="612.44" y="281.12" width="11.04" height="7.46" fill="#0e6087"/>
<rect x="623.18" y="281.12" width="13.12" height="7.46" fill="#12b4de"/>
<rect x="11.00" y="288.28" width="129.18" height="7.46" fill="#0e6087"/>
<rect x="139.88" y="288.28" width="21.78" height="7.46" fill="#12b4de"/>
<rect x="161.36" y="288.28" width="54.00" height="7.46" fill="#0e6087"/>
<rect x="215.06" y="288.28" width="11.04" height="7.46" fill="#12b4de"/>
<rect x="225.80" y="288.28" width="21.78" height="7.46" fill="#0e6087"/>
<rect x="247.28" y="288.28" width="11.04" height="7.46" fill="#12b4de"/>
<rect x="258.02" y="288.28" width="21.78" height="7.46" fill="#0e6087"/>
<rect x="279.50" y="288.28" width="11.04" height="7.46" fill="#12b4de"/>
<rect x="290.24" y="288.28" width="96.96" height="7.46" fill="#0e6087"/>
<rect x="386.90" y="288.28" width="11.04" height="7.46" fill="#12b4de"/>
<rect x="397.64" y="288.28" width="21.78" height="7.46" fill="#0e6087"/>
<rect x="419.12" y="288.28" width="32.52" height="7.46" fill="#12b4de"/>
<rect x="451.34" y="288.28" width="75.48" height="7.46" fill="#0e6087"/>
<rect x="526.52" y="288.28" width="86.22" height="7.46" fill="#12b4de"/>
<rect x="612.44" y="288.28" width="11.04" height="7.46" fill="#0e6087"/>
<rect x="623.18" y="288.28" width="13.12" height="7.46" fill="#12b4de"/>
<rect x="11.00" y="295.44" width="32.52" height="7.46" fill="#0e6087"/>
<rect x="43.22" y="295.44" width="21.78" height="7.46" fill="#12b4de"/>
<rect x="64.70" y="295.44" width="75.48" height="7.46" fill="#0e6087"/>
<rect x="139.88" y="295.44" width="21.78" height="7.46" fill="#12b4de"/>
<rect x="161.36" y="295.44" width="43.26" height="7.46" fill="#0e6087"/>
<rect x="204.32" y="295.44" width="21.78" height="7.46" fill="#12b4de"/>
<rect x="225.80" y="295.44" width="11.04" height="7.46" fill="#0e6087"/>
<rect x="236.54" y="295.44" width="21.78" height="7.46" fill="#12b4de"/>
<rect x="258.02" y="295.44" width="21.78" height="7.46" fill="#0e6087"/>
<rect x="279.50" y="295.44" width="64.74" height="7.46" fill="#12b4de"/>
<rect x="343.94" y="295.44" width="32.52" height="7.46" fill="#0e6087"/>
<rect x="376.16" y="295.44" width="96.96" height="7.46" fill="#12b4de"/>
<rect x="472.82" y="295.44" width="43.26" height="7.46" fill="#0e6087"/>
<rect x="515.78" y="295.44" width="86.22" height="7.46" fill="#12b4de"/>
<rect x="601.70" y="295.44" width="32.52" height="7.46" fill="#0e6087"/>
<rect x="633.92" y="295.44" width="2.38" height="7.46" fill="#12b4de"/>
<rect x="11.00" y="302.60" width="64.74" height="7.46" fill="#12b4de"/>
<rect x="75.44" y="302.60" width="54.00" height="7.46" fill="#0e6087"/>
<rect x="129.14" y="302.60" width="32.52" height="7.46" fill="#12b4de"/>
<rect x="161.36" y="302.60" width="32.52" height="7.46" fill="#0e6087"/>
<rect x="193.58" y="302.60" width="442.72" height="7.46" fill="#12b4de"/>
<rect x="32.48" y="309.76" width="21.78" height="7.46" fill="#12b4de"/>
<rect x="53.96" y="309.76" width="11.04" height="7.46" fill="#0e6087"/>
<rect x="64.70" y="309.76" width="21.78" height="7.46" fill="#12b4de"/>
<rect x="86.18" y="309.76" width="96.96" height="7.46" fill="#0e6087"/>
<rect x="182.84" y="309.76" width="193.62" height="7.46" fill="#12b4de"/>
<rect x="376.16" y="309.76" width="75.48" height="7.46" fill="#0e6087"/>
<rect x="451.34" y="309.76" width="43.26" height="7.46" fill="#12b4de"/>
<rect x="494.30" y="309.76" width="21.78" height="7.46" fill="#0e6087"/>
<rect x="515.78" y="309.76" width="11.04" height="7.46" fill="#12b4de"/>
<rect x="526.52" y="309.76" width="21.78" height="7.46" fill="#0e6087"/>
<rect x="548.00" y="309.76" width="88.30" height="7.46" fill="#12b4de"/>
<rect x="11.00" y="316.92" width="43.26" height="7.46" fill="#12b4de"/>
<rect x="53.96" y="316.92" width="11.04" height="7.46" fill="#0e6087"/>
<rect x="64.70" y="316.92" width="11.04" height="7.46" fill="#12b4de"/>
<rect x="75.44" y="316.92" width="75.48" height="7.46" fill="#0e6087"/>
<rect x="150.62" y="316.92" width="150.66" height="7.46" fill="#12b4de"/>
<rect x="300.98" y="316.92" width="21.78" height="7.46" fill="#0e6087"/>
<rect x="322.46" y="316.92" width="43.26" height="7.46" fill="#12b4de"/>
<rect x="365.42" y="316.92" width="54.00" height="7.46" fill="#0e6087"/>
<rect x="419.12" y="316.92" width="21.78" height="7.46" fill="#12b4de"/>
<rect x="440.60" y="316.92" width="129.18" height="7.46" fill="#0e6087"/>
<rect x="569.48" y="316.92" width="66.82" height="7.46" fill="#12b4de"/>
<rect x="11.00" y="324.08" width="64.74" height="7.46" fill="#12b4de"/>
<rect x="75.44" y="324.08" width="11.04" height="7.46" fill="#0e6087"/>
<rect x="86.18" y="324.08" width="258.06" height="7.46" fill="#12b4de"/>
<rect x="343.94" y="324.08" width="225.84" height="7.46" fill="#0e6087"/>
<rect x="569.48" y="324.08" width="66.82" height="7.46" fill="#12b4de"/>
<rect x="11.00" y="331.24" width="333.24" height="3.06" fill="#12b4de"/>
<rect x="343.94" y="331.24" width="225.84" height="3.06" fill="#0e6087"/>
<rect x="569.48" y="331.24" width="66.82" height="3.06" fill="#12b4de"/></g>
<path fill="#000" stroke="none" d="M85.3,83.3L88.9,76.7L94.2,72.2L106.8,69.9L124.7,67.8L140.8,64.2L151.5,62.4L161.2,61.3L178.4,60.6L198.1,61.1L194.5,64.2L187.3,66.9L178.4,69.5L173.0,71.7L169.4,74.9L176.6,77.6L183.7,80.3L190.9,83.5L194.5,86.5L201.6,89.6L202.0,91.0L198.1,93.7L195.4,96.4L190.9,97.3L184.6,95.5L180.2,94.1L173.0,93.7L167.6,90.1L162.3,87.4L155.1,86.4L147.9,85.7L142.6,86.9L133.6,87.4L124.7,86.4L115.7,86.9L106.8,86.5L97.8,85.1L90.7,84.6L85.3,83.3ZM332.3,68.6L334.1,66.5L341.3,66.0L345.7,65.4L352.0,65.4L360.9,65.6L357.4,67.2L352.0,68.6L346.6,70.8L341.3,71.9L337.7,71.0L332.3,68.6ZM396.7,65.4L405.7,64.5L416.4,63.3L423.6,64.2L427.2,65.1L416.4,66.0L402.1,66.1L396.7,65.4ZM484.5,68.6L491.6,66.5L498.8,66.9L491.6,64.2L484.5,65.1L484.5,68.6ZM557.8,74.9L563.2,73.1L568.6,73.1L579.3,74.4L574.0,75.3L566.8,77.1L557.8,74.9ZM528.5,176.0L531.4,176.0L531.0,179.6L530.1,183.6L534.6,185.9L533.3,184.5L528.5,183.2L527.4,179.6L528.5,176.0ZM531.0,196.6L534.6,194.8L537.3,191.6L539.2,196.1L537.3,198.8L534.6,197.5L531.0,196.6ZM532.8,188.6L534.6,187.1L537.3,186.8L537.3,190.4L535.5,191.3L533.3,192.5L531.9,190.4L532.8,188.6ZM405.7,81.2L408.4,78.5L411.1,77.6L412.9,75.8L414.6,74.0L420.0,72.8L423.6,72.2L435.2,71.5L430.8,73.1L425.4,74.0L420.0,75.6L416.4,76.7L412.9,79.4L412.9,80.3L416.4,82.4L411.1,82.8L407.5,82.6L405.7,81.2Z"/>
<path fill="none" stroke="#000" stroke-width="4.9" stroke-linejoin="round" stroke-linecap="round" d="M11.9,91.7L15.5,90.7L21.6,89.4L18.2,88.2L14.0,86.9L15.5,85.8L20.8,84.2L26.2,82.8L31.9,81.5L40.5,82.3L46.8,83.3L53.1,83.7L60.2,84.6L67.4,85.7L71.0,84.8L76.3,84.6L81.7,83.9L83.5,82.8L87.1,84.8L90.7,84.8L96.0,84.2L103.2,85.7L108.6,86.9L115.7,87.4L121.1,86.7L126.5,87.4L133.6,87.8L137.2,86.5L140.8,87.4L142.6,84.8L144.4,80.5L147.9,82.1L150.6,85.7L155.1,86.5L159.6,84.2L165.8,84.8L166.7,86.5L162.3,89.2L158.7,90.1L156.9,93.7L151.5,94.6L147.9,97.3L144.4,100.0L143.5,103.6L146.1,104.1L147.0,107.1L151.5,107.1L156.0,109.8L160.5,110.2L165.3,110.5L165.5,114.3L167.6,116.1L170.3,117.0L171.4,115.2L171.2,111.6L174.8,108.0L175.3,105.3L173.0,102.7L173.9,100.9L173.0,97.5L178.4,97.6L181.9,97.8L185.5,99.6L188.2,100.9L188.2,103.9L191.8,104.8L194.5,103.9L197.2,101.2L199.0,104.4L201.6,106.2L203.4,108.9L205.2,110.2L208.8,112.1L211.5,114.3L212.7,116.4L210.6,117.2L205.2,119.3L198.1,119.3L193.6,119.3L190.0,121.1L186.4,124.7L189.1,123.2L194.5,121.5L197.2,121.8L196.3,123.6L196.6,125.4L197.5,126.5L201.6,127.2L203.4,127.5L205.2,126.8L203.4,128.3L199.0,129.3L195.4,131.1L194.1,129.5L197.2,128.1L193.6,128.3L190.9,129.7L187.3,130.9L186.4,133.1L187.3,134.5L184.6,135.1L181.1,136.0L180.2,136.5L180.2,138.5L178.7,139.5L177.5,140.8L176.6,142.9L177.5,146.2L175.7,147.2L173.0,148.5L170.8,149.9L167.6,151.9L167.1,155.5L168.3,158.7L169.4,161.7L168.7,164.1L167.6,164.1L166.2,162.4L164.8,159.9L164.4,157.3L162.3,155.5L159.9,156.0L158.7,154.7L156.0,154.9L153.3,154.9L152.8,157.1L150.6,157.1L147.9,156.2L144.4,156.0L142.6,156.9L139.9,158.5L138.4,159.8L138.1,163.0L137.7,166.2L137.6,169.8L138.6,172.1L140.4,174.8L143.5,176.6L147.0,175.9L149.7,175.7L150.4,173.7L150.8,171.6L154.2,170.7L156.9,170.7L156.3,172.8L155.6,176.0L154.7,177.8L154.6,180.5L156.9,180.9L160.5,180.5L163.5,182.3L163.2,185.9L162.8,188.6L164.0,191.3L166.7,193.1L169.4,192.5L171.2,192.0L173.9,193.4L174.2,194.5L173.7,195.6L172.5,194.3L171.2,193.1L169.8,193.9L168.5,195.9L166.7,194.8L164.4,194.5L162.3,192.3L159.2,191.3L159.0,189.1L156.9,186.8L156.0,185.5L152.4,185.0L148.8,184.1L146.1,181.4L143.5,180.3L139.9,181.1L136.3,180.0L133.6,178.7L130.0,177.3L125.9,175.0L123.8,173.4L124.1,170.7L123.2,168.7L121.4,167.1L119.3,164.4L116.8,162.3L114.8,159.4L111.8,157.4L110.3,154.4L107.1,152.2L107.7,154.9L109.8,157.8L112.1,160.8L113.4,163.0L114.8,166.0L115.9,168.0L115.2,167.1L113.0,165.3L111.8,162.8L109.5,161.2L108.0,159.4L107.1,156.4L105.0,154.6L103.9,152.6L103.0,151.0L101.8,149.0L100.5,148.3L98.7,147.6L96.7,147.2L96.2,145.6L94.4,143.6L93.3,141.9L92.4,140.8L91.2,139.4L90.1,136.8L90.5,134.3L89.8,132.2L90.7,128.6L90.7,126.3L89.4,122.5L92.1,122.9L92.8,121.5L90.7,120.0L88.0,118.8L84.4,117.9L83.5,115.5L79.9,112.5L79.0,110.7L76.3,108.0L73.7,106.2L70.1,104.4L66.5,104.1L62.6,102.1L58.4,101.8L54.9,101.8L50.4,100.3L46.8,100.9L44.1,102.5L40.9,103.2L41.4,100.9L44.1,99.6L39.6,100.9L37.9,102.7L37.0,103.6L37.9,104.8L35.2,105.7L32.5,107.1L28.9,108.9L25.3,109.8L21.7,110.7L17.6,111.6L20.8,110.7L24.4,108.9L28.0,106.2L30.5,104.1L27.1,103.9L22.6,104.3L22.6,102.1L19.1,101.8L16.9,100.3L16.4,98.7L15.5,97.3L18.2,96.0L20.8,96.2L24.4,94.1L24.4,93.5L20.8,93.5L15.5,93.7L14.4,92.5L11.9,91.7M656.3,91.7L659.9,90.7L666.0,89.4L662.6,88.2L658.4,86.9L659.9,85.8L665.2,84.2L670.6,82.8L676.3,81.5L684.9,82.3L691.2,83.3L697.5,83.7L704.6,84.6L711.8,85.7L715.4,84.8L720.7,84.6L726.1,83.9L727.9,82.8L731.5,84.8L735.1,84.8L740.4,84.2L747.6,85.7L753.0,86.9L760.1,87.4L765.5,86.7L770.9,87.4L778.0,87.8L781.6,86.5L785.2,87.4L787.0,84.8L788.8,80.5L792.3,82.1L795.0,85.7L799.5,86.5L804.0,84.2L810.2,84.8L811.1,86.5L806.7,89.2L803.1,90.1L801.3,93.7L795.9,94.6L792.3,97.3L788.8,100.0L787.9,103.6L790.5,104.1L791.4,107.1L795.9,107.1L800.4,109.8L804.9,110.2L809.7,110.5L809.9,114.3L812.0,116.1L814.7,117.0L815.8,115.2L815.6,111.6L819.2,108.0L819.7,105.3L817.4,102.7L818.3,100.9L817.4,97.5L822.8,97.6L826.3,97.8L829.9,99.6L832.6,100.9L832.6,103.9L836.2,104.8L838.9,103.9L841.6,101.2L843.4,104.4L846.0,106.2L847.8,108.9L849.6,110.2L853.2,112.1L855.9,114.3L857.1,116.4L855.0,117.2L849.6,119.3L842.5,119.3L838.0,119.3L834.4,121.1L830.8,124.7L833.5,123.2L838.9,121.5L841.6,121.8L840.7,123.6L841.0,125.4L841.9,126.5L846.0,127.2L847.8,127.5L849.6,126.8L847.8,128.3L843.4,129.3L839.8,131.1L838.5,129.5L841.6,128.1L838.0,128.3L835.3,129.7L831.7,130.9L830.8,133.1L831.7,134.5L829.0,135.1L825.5,136.0L824.6,136.5L824.6,138.5L823.1,139.5L821.9,140.8L821.0,142.9L821.9,146.2L820.1,147.2L817.4,148.5L815.2,149.9L812.0,151.9L811.5,155.5L812.7,158.7L813.8,161.7L813.1,164.1L812.0,164.1L810.6,162.4L809.2,159.9L808.8,157.3L806.7,155.5L804.3,156.0L803.1,154.7L800.4,154.9L797.7,154.9L797.2,157.1L795.0,157.1L792.3,156.2L788.8,156.0L787.0,156.9L784.3,158.5L782.8,159.8L782.5,163.0L782.1,166.2L782.0,169.8L783.0,172.1L784.8,174.8L787.9,176.6L791.4,175.9L794.1,175.7L794.8,173.7L795.2,171.6L798.6,170.7L801.3,170.7L800.7,172.8L800.0,176.0L799.1,177.8L799.0,180.5L801.3,180.9L804.9,180.5L807.9,182.3L807.6,185.9L807.2,188.6L808.4,191.3L811.1,193.1L813.8,192.5L815.6,192.0L818.3,193.4L818.6,194.5L818.1,195.6L816.9,194.3L815.6,193.1L814.2,193.9L812.9,195.9L811.1,194.8L808.8,194.5L806.7,192.3L803.6,191.3L803.4,189.1L801.3,186.8L800.4,185.5L796.8,185.0L793.2,184.1L790.5,181.4L787.9,180.3L784.3,181.1L780.7,180.0L778.0,178.7L774.4,177.3L770.3,175.0L768.2,173.4L768.5,170.7L767.6,168.7L765.8,167.1L763.7,164.4L761.2,162.3L759.2,159.4L756.2,157.4L754.7,154.4L751.5,152.2L752.1,154.9L754.2,157.8L756.5,160.8L757.8,163.0L759.2,166.0L760.3,168.0L759.6,167.1L757.4,165.3L756.2,162.8L753.9,161.2L752.4,159.4L751.5,156.4L749.4,154.6L748.3,152.6L747.4,151.0L746.2,149.0L744.9,148.3L743.1,147.6L741.1,147.2L740.6,145.6L738.8,143.6L737.7,141.9L736.8,140.8L735.6,139.4L734.5,136.8L734.9,134.3L734.2,132.2L735.1,128.6L735.1,126.3L733.8,122.5L736.5,122.9L737.2,121.5L735.1,120.0L732.4,118.8L728.8,117.9L727.9,115.5L724.3,112.5L723.4,110.7L720.7,108.0L718.1,106.2L714.5,104.4L710.9,104.1L707.0,102.1L702.8,101.8L699.3,101.8L694.8,100.3L691.2,100.9L688.5,102.5L685.3,103.2L685.8,100.9L688.5,99.6L684.0,100.9L682.2,102.7L681.4,103.6L682.2,104.8L679.6,105.7L676.9,107.1L673.3,108.9L669.7,109.8L666.1,110.7L662.0,111.6L665.2,110.7L668.8,108.9L672.4,106.2L674.9,104.1L671.5,103.9L667.0,104.3L667.0,102.1L663.5,101.8L661.3,100.3L660.8,98.7L659.9,97.3L662.6,96.0L665.2,96.2L668.8,94.1L668.8,93.5L665.2,93.5L659.9,93.7L658.8,92.5L656.3,91.7M181.9,69.2L190.9,66.9L198.1,64.2L210.6,62.0L232.1,61.0L250.0,59.7L267.9,60.2L276.8,61.5L280.4,63.3L291.1,63.1L284.0,65.4L280.4,67.8L277.7,71.3L279.5,74.0L276.8,75.8L274.1,79.4L273.2,82.1L269.7,83.9L266.1,86.4L258.9,87.1L255.3,87.4L249.1,91.0L244.6,91.6L241.0,92.8L239.2,95.5L236.5,98.2L235.6,100.9L233.3,101.8L230.3,100.3L226.7,100.0L224.0,97.3L222.2,94.6L219.5,92.3L216.8,90.1L216.5,87.4L218.6,86.2L216.0,84.8L221.3,83.0L216.0,82.1L214.2,81.2L212.4,78.5L210.6,75.8L207.9,74.0L203.4,72.9L194.5,72.9L189.1,72.2L184.6,71.0L181.9,69.2M202.0,89.9L199.0,92.8L196.3,94.1L195.4,96.4L190.9,97.3L184.6,95.5L181.1,93.7L176.6,94.1L173.0,93.7L178.4,91.9L181.1,90.1L181.9,88.7L176.6,87.1L171.2,85.3L165.8,84.2L160.5,83.5L154.2,82.6L152.4,81.2L157.8,79.4L160.5,77.2L169.4,77.2L176.6,79.0L181.9,80.3L185.5,82.1L190.0,83.0L192.7,84.8L193.6,86.9L199.8,88.9L202.0,89.9M178.4,72.2L169.4,72.6L160.5,72.2L153.3,71.3L156.0,69.5L147.9,66.9L144.4,64.2L160.5,62.4L178.4,61.0L196.3,60.6L203.4,61.5L194.5,64.2L187.3,66.0L178.4,67.8L173.0,70.4L178.4,72.2M151.5,67.8L141.7,65.1L147.9,63.8L156.9,66.0L151.5,67.8M169.4,75.8L158.7,75.8L147.9,75.3L140.8,72.6L147.9,71.7L155.1,72.0L165.8,73.5L169.4,75.8M102.3,83.9L103.2,81.4L106.8,79.6L112.1,78.5L119.3,78.8L123.8,78.5L125.6,80.8L131.8,82.6L129.1,85.1L122.9,85.3L118.4,86.4L110.3,86.5L103.2,85.7L102.3,83.9M88.9,80.6L89.8,77.6L94.2,75.8L101.4,76.3L105.0,77.6L105.9,79.7L99.6,81.4L95.1,81.5L88.9,80.6M103.2,73.1L112.1,72.4L124.7,73.3L122.0,75.3L115.7,75.8L110.3,75.8L103.2,74.6L103.2,73.1M126.5,72.2L137.2,71.7L138.1,74.6L133.6,75.3L126.5,74.6L126.5,72.2M139.0,81.2L133.6,80.3L130.0,79.0L130.9,77.1L138.1,76.7L139.9,78.8L139.0,81.2M144.4,80.3L141.7,78.5L141.7,76.7L150.6,76.7L149.7,78.5L146.1,80.3L144.4,80.3M139.0,86.5L135.4,85.7L138.1,84.2L140.8,84.8L139.0,86.5M158.7,95.0L167.6,94.1L168.5,95.5L163.2,96.8L157.8,95.0L156.9,93.7L158.7,91.9L161.4,92.3L158.7,95.0M206.5,124.0L212.4,124.0L216.8,125.6L218.1,124.1L216.8,122.3L216.8,120.6L213.3,119.8L213.3,117.0L210.6,118.8L207.9,121.5L206.5,124.0M272.3,94.6L269.7,91.9L273.2,90.3L279.5,90.7L284.0,90.1L286.7,90.8L288.4,92.5L285.8,94.1L279.5,95.7L275.0,95.0L272.3,94.6M174.2,194.5L175.1,193.8L177.5,190.4L180.2,189.1L182.8,188.0L184.6,187.0L185.2,189.5L184.3,190.5L185.5,189.5L187.3,187.3L190.0,189.1L190.9,190.4L194.5,190.2L198.1,190.4L201.6,190.0L203.4,191.3L204.3,193.9L206.1,194.8L208.8,197.0L210.6,198.4L214.2,198.4L217.7,199.1L219.5,200.2L221.3,202.0L222.2,205.6L223.1,207.4L222.8,209.2L225.8,210.6L228.5,210.2L232.1,211.8L233.9,213.6L237.4,214.0L241.0,214.2L243.7,215.8L246.4,217.8L249.6,218.6L250.1,223.5L249.4,226.2L246.4,228.9L244.6,231.5L243.7,232.4L242.8,236.0L242.8,240.5L241.6,244.1L240.1,246.8L239.2,248.5L237.4,250.3L233.9,250.3L232.1,251.6L229.4,252.1L226.7,254.4L225.8,256.2L225.6,260.2L223.1,262.9L221.3,264.7L219.0,266.8L217.7,269.5L215.4,271.3L212.4,271.6L210.2,270.7L208.3,270.0L210.6,272.7L209.7,274.5L209.7,277.5L206.1,278.6L201.6,279.0L201.1,282.2L196.3,282.6L198.1,284.9L199.0,285.2L196.3,286.1L195.7,288.8L191.8,291.5L191.8,292.4L194.8,294.7L191.8,297.4L190.4,299.0L189.1,301.5L190.0,302.8L191.8,305.5L195.4,307.3L193.9,307.6L192.1,309.2L189.1,308.5L186.4,307.6L182.8,305.8L181.1,303.7L179.3,301.3L177.5,296.9L179.3,293.3L177.5,292.4L180.2,289.7L181.1,287.0L180.2,284.3L180.7,280.8L181.1,276.3L182.8,271.8L184.1,268.2L184.6,262.9L185.0,259.3L186.1,253.9L186.4,250.3L187.0,245.9L186.8,242.3L184.6,240.5L181.9,238.7L178.4,236.5L176.0,233.9L174.8,230.6L173.0,228.0L170.3,222.6L167.6,219.9L167.1,217.4L168.9,215.2L169.4,213.6L167.8,213.1L168.5,211.0L169.4,208.3L171.2,206.5L172.1,204.7L173.9,202.4L174.1,198.4L173.7,195.6M160.6,170.0L164.0,168.2L165.8,167.8L168.9,168.0L171.2,168.9L173.9,170.3L177.1,171.6L179.8,173.0L176.9,173.5L173.9,173.5L174.8,172.5L172.1,170.7L168.5,169.8L166.2,169.4L163.2,169.8L160.6,170.0M179.4,176.0L182.5,173.5L185.5,173.5L188.2,174.6L190.2,175.9L187.3,176.6L185.2,177.7L182.8,176.6L179.4,176.4L179.4,176.0M172.5,176.2L176.0,176.6L175.1,177.1L172.6,176.6L172.5,176.2M192.3,176.0L195.2,176.2L195.0,176.9L192.3,176.9L192.3,176.0M371.0,155.6L374.0,159.4L375.3,156.4L375.4,158.9L377.9,162.6L379.2,164.4L381.0,167.1L382.4,170.7L384.2,173.4L386.0,176.0L387.8,179.6L389.0,181.1L390.3,186.6L393.2,186.2L396.7,185.0L399.4,184.1L403.0,182.3L405.7,181.2L408.4,179.6L411.1,178.7L412.9,177.3L414.6,175.3L416.1,174.3L417.3,172.6L419.7,169.1L417.9,167.1L414.6,166.2L413.6,165.1L413.4,162.1L412.0,163.5L409.3,165.8L406.6,165.8L405.0,165.8L404.8,163.5L403.9,162.6L403.0,163.5L402.1,162.3L401.2,160.8L399.6,159.0L398.5,155.6L400.3,154.9L402.5,155.8L403.5,158.0L404.8,159.2L407.5,160.8L409.3,161.4L412.0,161.5L413.8,160.7L415.5,163.2L419.1,163.7L422.7,164.1L427.2,163.9L431.7,163.7L432.5,164.8L434.3,166.6L435.2,167.1L437.0,168.4L437.9,168.0L438.5,168.9L435.9,169.2L436.5,170.5L437.9,171.6L439.7,172.1L442.0,171.0L442.6,170.7L442.9,173.4L442.9,175.2L443.3,177.8L444.7,181.4L446.0,184.1L446.9,186.8L448.1,189.1L449.2,191.6L450.1,193.4L451.3,194.7L452.6,193.2L454.0,192.5L454.6,190.7L455.5,190.7L455.6,187.7L456.4,185.9L456.2,181.4L457.6,180.7L459.9,179.4L462.1,177.3L464.8,174.3L467.4,173.0L468.2,171.6L469.2,170.5L471.0,170.3L471.9,169.8L473.7,170.0L474.8,168.7L476.9,169.1L477.8,172.1L479.1,173.7L481.8,175.2L481.4,179.6L483.2,180.9L485.4,179.1L487.5,179.6L487.3,182.3L488.4,185.0L488.9,187.7L488.6,191.3L488.9,194.5L488.6,195.2L490.7,197.5L492.2,200.2L492.9,202.9L493.9,204.2L496.1,205.8L497.9,206.8L499.1,206.7L498.4,204.2L497.7,201.1L495.6,198.1L494.3,197.0L492.3,196.1L491.6,193.9L490.2,191.3L490.5,188.6L491.6,186.2L492.5,185.0L493.2,186.4L494.8,186.4L497.0,188.6L497.9,190.2L499.7,190.5L500.6,190.4L500.2,193.8L501.5,193.1L503.2,192.2L504.1,190.5L506.8,189.1L508.1,187.7L508.1,185.0L507.5,181.8L505.9,180.0L504.1,179.1L502.7,177.3L501.8,175.7L503.4,173.0L505.0,170.7L506.8,170.5L509.0,170.7L509.5,172.8L510.4,171.2L511.3,170.9L514.0,170.1L516.7,169.2L519.4,168.4L522.0,167.1L524.7,165.3L526.7,163.5L526.9,161.5L528.3,160.5L530.1,159.0L531.0,155.8L530.1,154.0L530.8,153.3L529.2,151.9L528.3,150.1L526.0,147.2L526.5,145.6L528.3,144.7L530.1,143.5L531.9,142.4L530.1,142.0L528.3,141.7L526.3,142.8L524.7,141.1L523.5,140.1L523.1,139.0L524.7,139.0L526.5,137.9L528.3,136.7L529.6,136.0L531.4,136.8L530.1,138.5L530.6,139.4L531.9,138.5L533.7,137.9L535.8,138.3L536.9,138.6L536.4,140.2L536.4,141.7L539.0,142.9L538.7,145.6L538.7,147.4L540.8,147.2L542.6,146.5L544.1,146.0L544.2,144.7L544.2,142.9L542.6,140.6L541.7,138.3L540.8,137.9L544.4,135.8L544.8,134.9L546.6,133.4L548.0,132.7L549.8,131.8L551.6,132.6L554.3,130.9L557.0,129.0L559.6,126.8L560.5,125.0L563.2,123.2L564.1,122.3L565.7,119.7L565.7,117.0L565.0,114.3L563.2,113.4L560.5,112.5L558.7,111.6L557.8,112.5L554.6,111.2L557.8,108.9L561.4,106.6L564.1,105.3L566.8,103.6L568.6,102.8L573.1,102.8L577.5,103.0L580.2,102.3L584.7,103.2L588.3,103.0L590.1,102.1L591.9,98.9L595.4,98.5L599.0,98.7L604.4,98.2L599.9,100.9L595.4,105.3L592.8,106.2L591.9,108.9L591.3,112.5L592.4,115.2L593.1,117.9L595.4,116.1L596.3,115.2L598.7,113.8L599.0,112.5L602.2,110.9L602.6,108.4L604.9,108.0L603.5,105.9L605.3,104.4L605.3,101.9L608.0,101.4L609.8,101.8L611.5,101.0L616.9,101.8L620.5,100.3L622.3,100.0L625.9,98.2L630.3,97.3L633.0,97.3L633.4,96.2L636.6,94.6L638.4,93.2L642.0,93.7L645.6,93.9L647.3,92.8L650.9,91.9L653.3,90.8L649.1,89.6L645.6,89.2L640.2,88.3L636.6,86.5L634.8,85.8L627.7,84.2L622.3,84.0L616.9,83.9L611.5,84.4L606.2,84.4L600.8,84.6L597.2,82.4L590.1,82.1L584.7,82.3L581.1,81.2L574.0,79.7L568.6,79.0L561.4,81.2L556.1,81.2L548.9,81.7L546.2,82.4L544.4,80.3L541.7,78.7L539.9,77.6L534.6,77.2L529.2,78.7L523.8,77.6L520.3,77.4L515.8,77.6L513.1,77.2L510.4,76.7L511.3,77.6L507.7,77.8L504.1,78.1L502.4,77.6L505.9,76.7L513.1,73.8L515.8,72.8L509.5,71.3L504.1,71.7L499.3,70.1L493.4,72.2L488.0,72.6L482.7,73.1L473.7,74.0L470.1,74.9L467.4,75.8L466.6,77.1L468.3,77.6L467.4,78.8L463.0,79.4L457.6,79.7L456.7,77.6L452.2,79.6L448.7,81.2L446.9,79.4L445.1,78.5L444.2,78.8L442.9,79.9L442.9,82.4L442.4,84.8L444.2,86.5L443.3,89.2L441.5,90.1L439.7,89.4L438.8,90.1L436.1,89.8L437.9,86.5L435.2,86.5L433.4,85.3L431.7,83.0L433.4,81.5L435.2,79.4L437.0,77.6L439.7,78.1L441.5,78.8L442.4,80.3L440.6,82.1L442.4,81.2L436.1,83.0L435.2,84.2L432.5,85.7L430.8,85.1L427.2,85.1L421.8,84.2L418.2,86.5L414.6,86.5L410.2,86.9L407.5,86.5L402.1,87.4L395.0,87.6L391.4,86.5L390.5,88.0L391.4,90.8L387.8,90.1L385.1,90.7L384.2,93.5L380.6,94.2L378.8,95.0L375.3,94.2L374.9,93.7L377.1,91.9L372.6,90.1L375.3,90.7L380.6,91.0L386.0,90.7L386.0,88.3L382.4,87.4L377.9,85.7L371.7,85.1L368.1,83.3L364.5,83.9L364.0,82.3L358.8,81.9L354.7,82.4L350.2,83.5L346.6,84.2L343.0,85.7L341.3,86.4L338.6,87.4L337.7,88.3L335.0,91.0L334.1,92.8L331.8,93.3L330.5,94.6L327.8,95.5L325.1,96.4L321.9,97.8L321.6,100.0L321.6,101.8L322.6,104.1L324.2,105.3L326.9,105.2L329.6,103.6L331.6,103.2L332.3,103.6L333.7,105.3L335.0,107.1L335.5,109.6L338.2,109.8L341.3,108.6L342.2,106.2L342.2,104.4L345.7,103.2L346.1,101.8L343.2,100.0L343.9,97.5L347.5,95.5L351.1,93.7L352.0,91.9L355.6,91.4L357.9,92.8L356.5,93.7L352.9,95.5L351.1,97.3L351.1,100.0L352.9,101.4L355.6,101.4L359.2,101.0L362.7,100.9L366.3,101.8L362.7,102.7L359.2,102.7L355.6,102.8L354.7,104.4L356.3,105.5L355.6,106.8L354.7,106.8L352.0,106.1L350.2,107.5L350.2,110.4L348.4,111.1L345.7,111.1L341.3,112.0L338.6,112.5L335.9,111.6L332.3,112.5L330.5,111.6L330.2,110.7L331.1,108.6L331.4,105.9L327.3,107.5L328.0,109.8L328.0,112.7L325.1,113.2L321.6,113.8L320.7,115.2L318.9,117.2L317.1,117.7L315.5,119.3L313.0,120.6L310.1,120.2L309.9,122.0L307.2,121.8L304.6,122.2L304.2,123.2L308.1,124.5L310.5,126.8L310.5,129.5L309.4,131.5L307.2,131.5L303.7,131.3L298.3,130.9L296.0,132.2L296.7,133.1L297.0,135.8L295.6,139.4L296.9,139.9L296.7,142.9L299.4,142.6L301.3,143.3L302.6,144.7L304.7,143.5L308.9,143.5L310.8,141.9L312.1,140.2L312.6,138.5L314.2,135.8L318.3,134.2L318.3,131.8L321.6,131.7L324.2,132.0L326.0,130.8L328.4,129.7L330.5,130.4L331.4,132.2L332.3,133.1L335.0,134.7L338.0,136.1L340.5,137.6L340.7,141.1L342.2,139.4L343.0,138.5L343.0,136.7L345.7,137.4L344.8,136.5L341.3,134.9L338.6,133.6L337.3,133.1L334.6,129.9L334.6,128.1L337.0,127.4L337.0,128.3L338.6,128.3L340.4,130.4L343.0,131.7L345.7,133.1L347.5,134.0L347.3,136.7L348.4,138.1L350.4,140.6L351.1,143.3L352.9,143.8L353.8,142.0L353.8,141.1L355.6,140.8L353.4,138.5L353.4,136.7L355.6,136.1L359.2,136.1L360.1,136.7L359.5,137.7L360.1,140.2L361.3,142.0L362.7,143.3L367.2,144.0L370.8,144.5L374.4,143.3L377.1,143.8L376.7,145.6L376.2,147.4L375.3,150.4L374.0,153.1L370.4,153.1M-273.4,155.6L-270.4,159.4L-269.1,156.4L-269.0,158.9L-266.4,162.6L-265.2,164.4L-263.4,167.1L-262.0,170.7L-260.2,173.4L-258.4,176.0L-256.6,179.6L-255.4,181.1L-254.1,186.6L-251.2,186.2L-247.7,185.0L-245.0,184.1L-241.4,182.3L-238.7,181.2L-236.0,179.6L-233.3,178.7L-231.5,177.3L-229.8,175.3L-228.3,174.3L-227.1,172.6L-224.7,169.1L-226.5,167.1L-229.8,166.2L-230.8,165.1L-231.0,162.1L-232.4,163.5L-235.1,165.8L-237.8,165.8L-239.4,165.8L-239.6,163.5L-240.5,162.6L-241.4,163.5L-242.3,162.3L-243.2,160.8L-244.8,159.0L-245.9,155.6L-244.1,154.9L-241.9,155.8L-240.9,158.0L-239.6,159.2L-236.9,160.8L-235.1,161.4L-232.4,161.5L-230.7,160.7L-228.9,163.2L-225.3,163.7L-221.7,164.1L-217.2,163.9L-212.8,163.7L-211.9,164.8L-210.1,166.6L-209.2,167.1L-207.4,168.4L-206.5,168.0L-205.9,168.9L-208.5,169.2L-207.9,170.5L-206.5,171.6L-204.7,172.1L-202.4,171.0L-201.8,170.7L-201.5,173.4L-201.5,175.2L-201.1,177.8L-199.7,181.4L-198.4,184.1L-197.5,186.8L-196.3,189.1L-195.2,191.6L-194.3,193.4L-193.1,194.7L-191.8,193.2L-190.4,192.5L-189.8,190.7L-188.9,190.7L-188.8,187.7L-188.0,185.9L-188.2,181.4L-186.8,180.7L-184.5,179.4L-182.3,177.3L-179.6,174.3L-177.0,173.0L-176.2,171.6L-175.2,170.5L-173.4,170.3L-172.5,169.8L-170.7,170.0L-169.6,168.7L-167.5,169.1L-166.6,172.1L-165.3,173.7L-162.6,175.2L-163.0,179.6L-161.2,180.9L-159.1,179.1L-156.9,179.6L-157.1,182.3L-156.0,185.0L-155.5,187.7L-155.8,191.3L-155.5,194.5L-155.8,195.2L-153.7,197.5L-152.2,200.2L-151.5,202.9L-150.5,204.2L-148.3,205.8L-146.5,206.8L-145.3,206.7L-146.0,204.2L-146.7,201.1L-148.8,198.1L-150.1,197.0L-152.1,196.1L-152.8,193.9L-154.2,191.3L-153.9,188.6L-152.8,186.2L-151.9,185.0L-151.2,186.4L-149.6,186.4L-147.4,188.6L-146.5,190.2L-144.7,190.5L-143.8,190.4L-144.2,193.8L-142.9,193.1L-141.2,192.2L-140.3,190.5L-137.6,189.1L-136.3,187.7L-136.3,185.0L-136.9,181.8L-138.5,180.0L-140.3,179.1L-141.7,177.3L-142.6,175.7L-141.0,173.0L-139.4,170.7L-137.6,170.5L-135.4,170.7L-134.9,172.8L-134.0,171.2L-133.1,170.9L-130.4,170.1L-127.7,169.2L-125.0,168.4L-122.4,167.1L-119.7,165.3L-117.7,163.5L-117.5,161.5L-116.1,160.5L-114.3,159.0L-113.4,155.8L-114.3,154.0L-113.6,153.3L-115.2,151.9L-116.1,150.1L-118.4,147.2L-117.9,145.6L-116.1,144.7L-114.3,143.5L-112.5,142.4L-114.3,142.0L-116.1,141.7L-118.1,142.8L-119.7,141.1L-120.9,140.1L-121.3,139.0L-119.7,139.0L-117.9,137.9L-116.1,136.7L-114.8,136.0L-113.0,136.8L-114.3,138.5L-113.8,139.4L-112.5,138.5L-110.7,137.9L-108.6,138.3L-107.5,138.6L-108.0,140.2L-108.0,141.7L-105.4,142.9L-105.7,145.6L-105.7,147.4L-103.6,147.2L-101.8,146.5L-100.3,146.0L-100.2,144.7L-100.2,142.9L-101.8,140.6L-102.7,138.3L-103.6,137.9L-100.0,135.8L-99.6,134.9L-97.8,133.4L-96.4,132.7L-94.6,131.8L-92.8,132.6L-90.1,130.9L-87.5,129.0L-84.8,126.8L-83.9,125.0L-81.2,123.2L-80.3,122.3L-78.7,119.7L-78.7,117.0L-79.4,114.3L-81.2,113.4L-83.9,112.5L-85.7,111.6L-86.6,112.5L-89.8,111.2L-86.6,108.9L-83.0,106.6L-80.3,105.3L-77.6,103.6L-75.8,102.8L-71.3,102.8L-66.9,103.0L-64.2,102.3L-59.7,103.2L-56.1,103.0L-54.3,102.1L-52.5,98.9L-49.0,98.5L-45.4,98.7L-40.0,98.2L-44.5,100.9L-49.0,105.3L-51.6,106.2L-52.5,108.9L-53.1,112.5L-52.0,115.2L-51.3,117.9L-49.0,116.1L-48.1,115.2L-45.7,113.8L-45.4,112.5L-42.2,110.9L-41.8,108.4L-39.5,108.0L-40.9,105.9L-39.1,104.4L-39.1,101.9L-36.4,101.4L-34.6,101.8L-32.9,101.0L-27.5,101.8L-23.9,100.3L-22.1,100.0L-18.5,98.2L-14.1,97.3L-11.4,97.3L-11.0,96.2L-7.8,94.6L-6.0,93.2L-2.4,93.7L1.2,93.9L2.9,92.8L6.5,91.9L8.9,90.8L4.7,89.6L1.2,89.2L-4.2,88.3L-7.8,86.5L-9.6,85.8L-16.7,84.2L-22.1,84.0L-27.5,83.9L-32.9,84.4L-38.2,84.4L-43.6,84.6L-47.2,82.4L-54.3,82.1L-59.7,82.3L-63.3,81.2L-70.4,79.7L-75.8,79.0L-83.0,81.2L-88.3,81.2L-95.5,81.7L-98.2,82.4L-100.0,80.3L-102.7,78.7L-104.5,77.6L-109.8,77.2L-115.2,78.7L-120.6,77.6L-124.1,77.4L-128.6,77.6L-131.3,77.2L-134.0,76.7L-133.1,77.6L-136.7,77.8L-140.3,78.1L-142.0,77.6L-138.5,76.7L-131.3,73.8L-128.6,72.8L-134.9,71.3L-140.3,71.7L-145.1,70.1L-151.0,72.2L-156.4,72.6L-161.7,73.1L-170.7,74.0L-174.3,74.9L-177.0,75.8L-177.8,77.1L-176.1,77.6L-177.0,78.8L-181.4,79.4L-186.8,79.7L-187.7,77.6L-192.2,79.6L-195.7,81.2L-197.5,79.4L-199.3,78.5L-200.2,78.8L-201.5,79.9L-201.5,82.4L-202.0,84.8L-200.2,86.5L-201.1,89.2L-202.9,90.1L-204.7,89.4L-205.6,90.1L-208.3,89.8L-206.5,86.5L-209.2,86.5L-211.0,85.3L-212.8,83.0L-211.0,81.5L-209.2,79.4L-207.4,77.6L-204.7,78.1L-202.9,78.8L-202.0,80.3L-203.8,82.1L-202.0,81.2L-208.3,83.0L-209.2,84.2L-211.9,85.7L-213.6,85.1L-217.2,85.1L-222.6,84.2L-226.2,86.5L-229.8,86.5L-234.2,86.9L-236.9,86.5L-242.3,87.4L-249.4,87.6L-253.0,86.5L-253.9,88.0L-253.0,90.8L-256.6,90.1L-259.3,90.7L-260.2,93.5L-263.8,94.2L-265.6,95.0L-269.1,94.2L-269.5,93.7L-267.3,91.9L-271.8,90.1L-269.1,90.7L-263.8,91.0L-258.4,90.7L-258.4,88.3L-262.0,87.4L-266.4,85.7L-272.7,85.1L-276.3,83.3L-279.9,83.9L-280.4,82.3L-285.6,81.9L-289.7,82.4L-294.2,83.5L-297.8,84.2L-301.4,85.7L-303.1,86.4L-305.8,87.4L-306.7,88.3L-309.4,91.0L-310.3,92.8L-312.6,93.3L-313.9,94.6L-316.6,95.5L-319.3,96.4L-322.5,97.8L-322.8,100.0L-322.8,101.8L-321.8,104.1L-320.2,105.3L-317.5,105.2L-314.8,103.6L-312.8,103.2L-312.1,103.6L-310.7,105.3L-309.4,107.1L-308.9,109.6L-306.2,109.8L-303.1,108.6L-302.2,106.2L-302.2,104.4L-298.7,103.2L-298.3,101.8L-301.2,100.0L-300.5,97.5L-296.9,95.5L-293.3,93.7L-292.4,91.9L-288.8,91.4L-286.5,92.8L-287.9,93.7L-291.5,95.5L-293.3,97.3L-293.3,100.0L-291.5,101.4L-288.8,101.4L-285.2,101.0L-281.7,100.9L-278.1,101.8L-281.7,102.7L-285.2,102.7L-288.8,102.8L-289.7,104.4L-288.1,105.5L-288.8,106.8L-289.7,106.8L-292.4,106.1L-294.2,107.5L-294.2,110.4L-296.0,111.1L-298.7,111.1L-303.1,112.0L-305.8,112.5L-308.5,111.6L-312.1,112.5L-313.9,111.6L-314.2,110.7L-313.3,108.6L-313.0,105.9L-317.1,107.5L-316.4,109.8L-316.4,112.7L-319.3,113.2L-322.8,113.8L-323.7,115.2L-325.5,117.2L-327.3,117.7L-328.9,119.3L-331.4,120.6L-334.3,120.2L-334.5,122.0L-337.2,121.8L-339.8,122.2L-340.2,123.2L-336.3,124.5L-333.9,126.8L-333.9,129.5L-335.0,131.5L-337.2,131.5L-340.7,131.3L-346.1,130.9L-348.4,132.2L-347.7,133.1L-347.4,135.8L-348.8,139.4L-347.5,139.9L-347.7,142.9L-345.0,142.6L-343.1,143.3L-341.8,144.7L-339.7,143.5L-335.5,143.5L-333.6,141.9L-332.3,140.2L-331.8,138.5L-330.2,135.8L-326.1,134.2L-326.1,131.8L-322.8,131.7L-320.2,132.0L-318.4,130.8L-316.0,129.7L-313.9,130.4L-313.0,132.2L-312.1,133.1L-309.4,134.7L-306.4,136.1L-303.9,137.6L-303.7,141.1L-302.2,139.4L-301.4,138.5L-301.4,136.7L-298.7,137.4L-299.6,136.5L-303.1,134.9L-305.8,133.6L-307.1,133.1L-309.8,129.9L-309.8,128.1L-307.4,127.4L-307.4,128.3L-305.8,128.3L-304.0,130.4L-301.4,131.7L-298.7,133.1L-296.9,134.0L-297.1,136.7L-296.0,138.1L-294.0,140.6L-293.3,143.3L-291.5,143.8L-290.6,142.0L-290.6,141.1L-288.8,140.8L-291.0,138.5L-291.0,136.7L-288.8,136.1L-285.2,136.1L-284.4,136.7L-284.9,137.7L-284.4,140.2L-283.1,142.0L-281.7,143.3L-277.2,144.0L-273.6,144.5L-270.0,143.3L-267.3,143.8L-267.7,145.6L-268.2,147.4L-269.1,150.4L-270.4,153.1L-274.0,153.1M364.5,135.4L363.8,131.3L364.2,129.0L366.0,127.7L367.2,125.9L369.0,125.7L371.7,126.8L370.8,127.9L372.6,129.5L374.4,129.5L376.2,128.6L378.1,128.1L379.7,129.1L381.5,129.9L383.9,131.5L387.1,134.7L384.2,135.8L380.6,135.8L377.1,134.5L375.3,134.0L371.7,134.0L369.0,135.4L364.5,135.4M371.0,155.6L372.6,160.8L374.4,163.5L376.2,166.2L377.9,168.9L379.2,171.6L379.6,176.9L381.7,176.9L383.7,181.4L385.1,182.7L387.3,185.0L389.9,188.6L392.3,190.5L396.7,189.3L400.3,188.9L404.3,188.0L403.9,190.4L403.5,193.1L401.2,197.5L398.5,201.1L395.9,204.2L393.7,205.6L391.4,207.4L387.8,210.6L386.9,212.6L384.6,214.5L382.8,218.1L382.1,220.8L383.0,224.4L384.2,227.1L385.1,228.0L385.3,235.1L384.2,238.2L382.4,239.6L378.8,242.3L376.2,245.9L375.8,248.5L376.2,252.1L373.5,253.9L371.5,255.5L371.3,258.4L370.8,260.2L368.1,262.7L366.3,265.2L362.7,267.9L360.1,269.7L358.4,270.0L353.8,270.0L352.0,270.4L348.4,271.5L345.6,270.4L345.4,268.2L344.8,267.3L343.4,262.0L342.2,260.4L340.0,257.5L339.5,257.0L338.6,250.2L336.2,245.0L333.7,240.1L333.7,237.4L334.6,233.3L337.1,229.7L336.2,225.3L334.6,220.1L333.7,217.2L331.4,214.5L329.3,211.0L329.6,207.4L330.2,204.2L330.0,202.4L328.2,201.1L326.0,201.3L323.4,201.5L321.6,199.1L320.7,197.9L318.0,197.7L316.2,197.9L314.4,198.6L310.8,200.0L309.0,200.6L307.2,200.2L303.7,200.0L299.2,201.3L297.4,200.6L295.6,198.8L292.9,197.0L290.2,195.7L289.3,194.8L288.8,193.1L288.1,192.2L286.7,190.4L284.9,188.6L282.7,186.8L282.5,185.0L281.3,182.8L282.2,181.4L283.1,179.6L283.4,176.9L283.4,174.3L282.1,171.9L282.7,169.8L283.6,167.1L285.8,165.3L286.7,162.6L289.0,159.8L292.0,158.7L294.4,157.3L295.1,156.4L295.1,152.8L296.5,151.0L297.4,149.6L300.4,148.3L301.3,146.5L302.1,145.1L303.1,144.9L304.6,146.2L309.0,146.3L310.8,145.4L312.6,144.9L315.3,143.8L318.0,143.3L321.6,143.3L324.2,142.9L327.8,143.1L330.2,142.4L331.1,142.4L332.3,143.3L331.4,144.7L332.5,146.2L330.9,147.8L330.7,148.7L333.2,149.7L336.2,150.3L339.8,151.3L340.9,153.1L343.9,154.2L346.6,154.9L348.6,152.8L348.4,151.5L351.1,150.3L353.8,150.8L357.4,152.6L360.9,153.1L364.5,153.9L366.3,153.1L369.0,152.8L370.4,153.1L371.0,155.6M400.9,230.6L403.0,236.9L401.2,239.6L399.4,245.9L397.1,253.9L393.5,254.8L390.8,251.2L390.1,247.6L392.1,244.1L391.4,239.6L395.0,237.4L398.4,233.7L400.9,230.6M455.6,198.1L455.5,194.8L456.0,191.6L458.1,193.9L459.2,196.6L458.0,198.1L456.0,198.4L455.6,198.1M302.4,119.5L307.2,118.4L315.1,117.5L315.7,114.8L313.2,113.4L312.3,112.1L309.8,109.6L308.9,106.8L309.4,106.1L306.7,104.3L303.7,104.3L302.4,106.6L302.6,108.9L303.8,110.4L307.2,110.9L306.5,112.0L307.2,113.8L304.4,113.8L305.3,115.5L303.1,116.6L307.1,117.2L304.6,117.9L302.4,119.5M301.9,115.7L301.5,112.7L302.4,111.4L299.5,110.2L297.4,111.6L294.7,112.1L295.1,113.8L294.2,116.3L295.4,117.0L297.9,116.4L301.9,115.7M329.4,132.2L329.6,134.0L329.1,135.1L328.0,134.2L329.4,132.2M330.0,135.8L329.8,139.0L327.8,139.4L327.7,136.5L330.0,135.8M334.8,141.1L340.5,140.8L339.6,143.5L335.0,141.9L334.8,141.1M354.7,145.6L359.7,146.2L356.5,146.5L354.7,145.6M370.4,146.5L374.4,145.4L373.1,147.0L370.4,146.5M545.7,153.1L547.5,153.0L548.7,149.7L551.6,149.4L554.4,148.7L557.5,147.8L560.9,147.0L562.9,146.5L564.8,144.7L565.0,140.6L566.6,138.5L565.9,135.2L563.2,134.9L563.0,137.6L562.7,140.2L560.5,142.4L558.4,143.3L556.1,145.3L550.7,145.6L547.1,147.6L544.6,149.6L545.7,153.1M563.2,135.1L565.4,134.3L568.9,134.0L573.1,131.7L572.2,130.0L566.6,127.7L566.1,131.3L563.9,131.7L563.2,135.1M566.8,126.8L569.5,125.9L568.6,121.5L571.3,121.5L568.6,117.0L568.4,112.0L567.2,112.5L566.8,117.9L566.8,126.8M529.2,169.8L530.8,164.4L529.2,164.1L527.6,167.1L529.2,169.8M507.2,174.8L510.4,173.2L511.3,174.1L508.6,176.6L507.2,174.8M528.5,176.0L531.4,176.0L531.0,179.6L530.1,183.6L534.6,185.9L533.3,184.5L528.5,183.2L527.4,179.6L528.5,176.0M531.0,196.6L534.6,194.8L537.3,191.6L539.2,196.1L537.3,198.8L534.6,197.5L531.0,196.6M532.8,188.6L534.6,187.1L537.3,186.8L537.3,190.4L535.5,191.3L533.3,192.5L531.9,190.4L532.8,188.6M528.3,185.0L530.1,185.9L529.6,187.3L528.3,185.0M522.4,194.1L526.5,189.1L525.6,190.4L522.4,194.1M483.2,199.1L487.1,199.9L491.6,204.7L494.3,206.5L497.9,211.0L502.4,214.5L502.4,219.5L499.7,219.7L495.7,216.3L492.5,211.8L489.3,206.1L485.4,202.9L483.2,199.1M500.9,221.3L502.4,219.9L506.5,220.3L510.4,221.5L514.2,221.5L517.6,223.1L517.4,224.7L509.5,223.8L503.2,222.4L500.9,221.3M518.5,224.0L521.2,224.9L524.7,224.4L527.4,224.7L532.4,224.0L527.4,225.1L522.0,225.3L518.5,224.0M533.9,227.6L536.4,225.6L540.5,224.2L537.3,226.2L533.9,227.6M507.7,205.9L510.4,206.1L512.2,204.2L514.9,203.4L519.4,199.7L522.0,196.6L526.0,199.7L523.8,201.5L523.1,203.8L525.4,207.4L522.9,209.2L521.2,211.8L520.6,216.0L517.6,215.6L514.9,214.9L512.2,214.5L509.9,214.4L509.5,211.0L507.7,209.2L507.7,205.9M526.5,219.0L526.5,215.4L525.3,214.0L527.1,209.2L528.3,207.4L531.9,207.4L535.5,206.5L536.7,206.5L533.7,208.3L529.2,208.3L528.7,211.0L530.1,211.0L533.3,210.8L530.3,212.6L531.9,215.4L533.1,217.8L530.1,217.6L528.7,214.2L528.0,219.0L526.5,219.0M540.8,205.6L541.7,207.4L543.0,206.5L541.7,209.2L542.6,210.6L540.8,210.1L540.8,205.6M541.7,214.9L546.7,216.0L544.4,214.9L541.7,214.9M547.1,211.5L549.8,209.9L552.5,210.6L555.2,215.1L559.6,212.0L565.0,213.8L571.3,216.0L573.6,218.6L576.6,219.9L577.2,222.6L578.4,225.3L581.1,227.6L582.0,227.8L577.5,227.2L574.0,223.5L570.4,222.9L569.5,225.6L566.8,225.6L565.0,225.6L561.4,223.5L559.6,224.2L559.3,219.0L554.3,217.2L550.7,216.3L548.9,214.2L551.6,213.3L548.9,212.7L547.1,211.5M578.1,219.0L582.0,219.0L584.7,216.9L583.8,219.5L581.1,220.4L578.1,219.0M590.1,219.9L593.6,222.6L597.2,224.4L600.8,226.2L602.6,228.0L599.0,226.2L595.4,224.4L590.1,219.9M516.1,248.5L515.8,253.0L517.0,256.6L517.6,259.3L518.5,262.0L519.5,269.1L518.5,270.6L521.2,271.8L523.7,272.0L527.4,269.8L531.0,270.0L533.7,269.8L536.4,268.2L538.2,267.0L543.5,265.9L548.0,265.5L550.7,266.4L552.7,267.7L555.2,271.5L556.1,270.9L558.7,268.2L559.5,270.9L560.5,271.5L560.0,272.9L562.3,274.5L562.9,275.9L564.1,277.2L566.8,277.9L569.5,278.6L572.0,277.0L573.1,278.1L574.7,279.2L576.6,277.5L577.5,276.8L581.1,276.3L581.5,273.6L582.5,271.8L583.4,269.7L585.6,266.4L586.5,263.8L587.6,259.6L586.5,254.8L585.6,253.6L582.9,251.2L582.0,249.4L580.2,248.5L578.4,245.9L574.5,243.2L574.0,240.5L573.1,237.8L572.7,235.7L570.4,234.8L569.5,234.2L569.5,231.5L568.2,228.9L567.7,228.3L566.8,229.7L566.1,231.5L565.9,234.2L565.9,236.9L564.6,240.5L561.8,240.1L558.7,238.0L556.1,236.9L555.2,236.0L555.9,234.2L557.3,231.2L555.7,230.6L552.5,230.6L550.0,229.6L547.1,231.0L545.3,232.4L544.4,236.0L541.7,236.0L539.9,234.2L538.2,234.2L536.4,236.9L535.5,238.3L532.8,238.7L531.4,241.4L529.2,244.2L525.6,245.3L522.0,246.2L518.5,247.6L516.1,248.5M571.6,282.0L578.1,282.4L577.5,286.5L574.9,287.2L572.5,284.7L571.6,282.0M621.7,270.7L625.0,274.5L627.5,276.3L632.1,276.6L631.1,279.3L629.3,280.0L627.7,283.1L625.3,283.1L626.2,281.1L623.7,279.3L625.1,277.2L624.4,274.5L621.7,270.7M621.7,281.7L624.4,283.8L622.8,286.1L621.7,287.6L618.7,289.5L615.5,292.6L610.6,291.5L611.2,290.2L613.9,287.9L617.8,286.1L620.5,283.4L621.7,281.7M606.2,245.3L611.5,249.1L610.6,248.9L606.2,245.3M332.3,68.6L334.1,66.5L341.3,66.0L345.7,65.4L352.0,65.4L360.9,65.6L357.4,67.2L352.0,68.6L346.6,70.8L341.3,71.9L337.7,71.0L332.3,68.6M405.7,81.2L408.4,78.5L411.1,77.6L412.9,75.8L414.6,74.0L420.0,72.8L423.6,72.2L435.2,71.5L430.8,73.1L425.4,74.0L420.0,75.6L416.4,76.7L412.9,79.4L412.9,80.3L416.4,82.4L411.1,82.8L407.5,82.6L405.7,81.2M396.7,65.4L405.7,64.5L416.4,63.3L423.6,64.2L427.2,65.1L416.4,66.0L402.1,66.1L396.7,65.4M484.5,68.6L491.6,66.5L498.8,66.9L491.6,64.2L484.5,65.1L484.5,68.6M557.8,74.9L563.2,73.1L568.6,73.1L579.3,74.4L574.0,75.3L566.8,77.1L557.8,74.9M632.3,82.1L638.4,81.7L634.8,81.0L632.3,82.1M-13.2,348.8L26.2,348.8L35.2,347.0L44.1,346.1L53.1,344.3L62.0,343.4L79.9,342.2L97.8,341.6L115.7,342.5L128.2,339.8L133.6,339.8L142.6,339.5L151.5,339.8L160.5,340.2L169.4,340.7L176.6,338.0L178.4,336.3L185.5,334.5L190.9,331.8L192.7,329.1L196.3,326.4L199.0,325.2L201.6,324.3L208.8,322.8L210.6,322.5L207.9,324.3L204.3,325.9L202.5,328.2L200.7,330.9L200.7,334.5L202.5,338.0L203.4,341.6L214.2,347.0L232.1,348.8L250.0,348.8L264.3,345.2L276.8,341.6L285.8,339.8L294.7,337.1L303.7,336.3L312.6,335.0L321.6,334.8L330.5,334.5L339.5,334.5L348.4,334.5L357.4,335.0L366.3,334.1L371.7,332.7L375.3,333.0L384.2,332.7L389.6,330.9L393.2,330.5L398.5,329.1L402.1,328.2L407.5,327.3L411.1,327.7L416.4,329.1L420.0,329.4L429.0,330.3L434.3,330.9L437.9,331.8L441.5,334.1L443.3,334.5L446.9,333.6L450.4,333.6L452.2,331.8L455.8,330.0L464.8,328.7L470.1,328.2L473.7,328.4L482.7,328.4L491.6,327.3L497.0,326.8L500.6,327.3L509.5,327.3L518.5,328.7L527.4,329.1L536.4,328.2L545.3,327.7L554.3,327.3L563.2,328.6L568.6,329.1L572.2,330.0L577.5,331.8L581.1,332.1L590.1,332.7L599.0,333.6L604.4,335.4L608.0,336.3L611.5,336.3L616.9,337.1L617.8,338.9L616.9,340.7L611.5,343.4L608.0,347.0L613.3,348.8L634.8,348.8L638.4,348.8M631.2,348.8L670.6,348.8L679.6,347.0L688.5,346.1L697.5,344.3L706.4,343.4L724.3,342.2L742.2,341.6L760.1,342.5L772.6,339.8L778.0,339.8L787.0,339.5L795.9,339.8L804.9,340.2L813.8,340.7L821.0,338.0L822.8,336.3L829.9,334.5L835.3,331.8L837.1,329.1L840.7,326.4L843.4,325.2L846.0,324.3L853.2,322.8L855.0,322.5L852.3,324.3L848.7,325.9L846.9,328.2L845.1,330.9L845.1,334.5L846.9,338.0L847.8,341.6L858.6,347.0L876.5,348.8L894.4,348.8L908.7,345.2L921.2,341.6L930.2,339.8L939.1,337.1L948.1,336.3L957.0,335.0L966.0,334.8L974.9,334.5L983.9,334.5L992.8,334.5L1001.8,335.0L1010.7,334.1L1016.1,332.7L1019.7,333.0L1028.6,332.7L1034.0,330.9L1037.6,330.5L1042.9,329.1L1046.5,328.2L1051.9,327.3L1055.5,327.7L1060.8,329.1L1064.4,329.4L1073.4,330.3L1078.7,330.9L1082.3,331.8L1085.9,334.1L1087.7,334.5L1091.3,333.6L1094.8,333.6L1096.6,331.8L1100.2,330.0L1109.2,328.7L1114.5,328.2L1118.1,328.4L1127.1,328.4L1136.0,327.3L1141.4,326.8L1145.0,327.3L1153.9,327.3L1162.9,328.7L1171.8,329.1L1180.8,328.2L1189.7,327.7L1198.7,327.3L1207.6,328.6L1213.0,329.1L1216.6,330.0L1221.9,331.8L1225.5,332.1L1234.5,332.7L1243.4,333.6L1248.8,335.4L1252.4,336.3L1255.9,336.3L1261.3,337.1L1262.2,338.9L1261.3,340.7L1255.9,343.4L1252.4,347.0L1257.7,348.8L1279.2,348.8L1282.8,348.8M423.6,85.1L420.9,87.8L419.1,91.9L418.2,97.3L419.1,102.7L419.1,108.0L418.2,113.4L417.3,117.0L412.9,117.9L407.5,117.0L403.9,118.2L399.4,120.0L396.7,121.5L396.0,122.9L396.7,125.9L397.1,129.0L397.6,131.7L399.1,133.6L400.7,135.4L401.2,136.7L399.4,134.9L396.7,134.0L393.2,133.1L389.6,132.2L386.9,131.8L384.2,131.5"/>
<g fill="#000"><circle cx="30.7" cy="171.0" r="1.6"/><circle cx="34.3" cy="174.1" r="1.6"/><circle cx="27.1" cy="169.8" r="1.6"/><circle cx="32.5" cy="171.9" r="1.6"/><circle cx="207.0" cy="301.7" r="1.9"/><circle cx="203.4" cy="301.3" r="1.6"/><circle cx="247.3" cy="306.4" r="1.6"/><circle cx="437.0" cy="297.4" r="1.8"/><circle cx="404.8" cy="292.0" r="1.6"/><circle cx="380.1" cy="292.9" r="1.6"/><circle cx="318.7" cy="306.5" r="1.6"/><circle cx="290.6" cy="275.6" r="1.6"/><circle cx="302.4" cy="237.6" r="1.6"/><circle cx="286.8" cy="223.3" r="1.6"/><circle cx="262.5" cy="140.2" r="1.6"/><circle cx="267.0" cy="141.5" r="1.6"/><circle cx="257.1" cy="138.5" r="1.6"/><circle cx="284.9" cy="158.9" r="1.6"/><circle cx="282.2" cy="158.5" r="1.6"/><circle cx="288.1" cy="157.8" r="1.6"/><circle cx="282.4" cy="150.6" r="1.6"/><circle cx="269.7" cy="181.4" r="1.6"/><circle cx="270.6" cy="182.5" r="1.6"/><circle cx="196.8" cy="151.3" r="1.6"/><circle cx="415.5" cy="245.5" r="1.6"/><circle cx="412.0" cy="246.9" r="1.6"/><circle cx="412.0" cy="217.4" r="1.6"/><circle cx="444.2" cy="202.0" r="1.6"/><circle cx="443.6" cy="210.2" r="1.6"/><circle cx="442.4" cy="196.6" r="1.6"/><circle cx="631.2" cy="241.0" r="1.6"/><circle cx="633.9" cy="238.9" r="1.6"/><circle cx="649.1" cy="233.9" r="1.6"/><circle cx="643.4" cy="247.1" r="1.6"/><circle cx="45.0" cy="240.7" r="1.6"/><circle cx="62.0" cy="225.3" r="1.6"/><circle cx="26.6" cy="247.1" r="1.6"/><circle cx="573.4" cy="182.0" r="1.6"/><circle cx="571.8" cy="185.2" r="1.6"/><circle cx="611.5" cy="236.9" r="1.6"/><circle cx="613.3" cy="239.6" r="1.6"/><circle cx="611.2" cy="210.1" r="1.6"/><circle cx="622.3" cy="206.5" r="1.6"/><circle cx="618.7" cy="196.6" r="1.6"/><circle cx="595.8" cy="196.8" r="1.6"/><circle cx="584.3" cy="195.9" r="1.6"/><circle cx="553.4" cy="195.7" r="1.6"/><circle cx="150.6" cy="210.1" r="1.6"/><circle cx="116.8" cy="257.7" r="1.6"/><circle cx="169.4" cy="269.3" r="1.6"/><circle cx="171.6" cy="269.3" r="1.6"/><circle cx="203.4" cy="183.2" r="1.6"/><circle cx="202.5" cy="180.2" r="1.6"/><circle cx="202.9" cy="190.4" r="1.6"/><circle cx="173.9" cy="165.3" r="1.6"/><circle cx="176.6" cy="166.2" r="1.6"/><circle cx="173.0" cy="161.5" r="1.6"/><circle cx="181.1" cy="171.6" r="1.6"/><circle cx="205.2" cy="185.5" r="1.6"/><circle cx="76.3" cy="114.3" r="1.6"/><circle cx="83.5" cy="119.7" r="1.6"/><circle cx="39.6" cy="106.2" r="1.6"/><circle cx="8.3" cy="107.1" r="1.6"/><circle cx="652.7" cy="107.1" r="1.6"/><circle cx="15.5" cy="112.9" r="1.6"/><circle cx="659.9" cy="112.9" r="1.6"/><circle cx="11.0" cy="114.3" r="1.6"/><circle cx="655.4" cy="114.3" r="1.6"/><circle cx="649.1" cy="115.2" r="1.6"/><circle cx="642.0" cy="116.4" r="1.6"/><circle cx="637.5" cy="116.6" r="1.6"/><circle cx="631.2" cy="116.4" r="1.6"/><circle cx="624.1" cy="114.7" r="1.6"/><circle cx="9.2" cy="95.5" r="1.6"/><circle cx="653.6" cy="95.5" r="1.6"/><circle cx="5.6" cy="95.7" r="1.6"/><circle cx="650.0" cy="95.7" r="1.6"/><circle cx="581.1" cy="126.8" r="1.6"/><circle cx="575.7" cy="127.7" r="1.6"/><circle cx="584.7" cy="124.1" r="1.6"/><circle cx="589.2" cy="121.5" r="1.6"/><circle cx="591.0" cy="119.1" r="1.6"/><circle cx="283.1" cy="91.9" r="1.6"/><circle cx="300.1" cy="98.2" r="1.6"/><circle cx="310.3" cy="101.2" r="1.6"/><circle cx="307.2" cy="103.6" r="1.6"/><circle cx="301.0" cy="106.2" r="1.6"/><circle cx="299.5" cy="106.6" r="1.6"/><circle cx="329.6" cy="109.8" r="1.6"/><circle cx="332.3" cy="109.8" r="1.6"/><circle cx="334.1" cy="110.2" r="1.6"/><circle cx="345.7" cy="106.6" r="1.6"/><circle cx="342.2" cy="108.0" r="1.6"/><circle cx="338.7" cy="87.1" r="1.6"/><circle cx="373.5" cy="123.6" r="1.6"/><circle cx="503.2" cy="213.3" r="1.6"/><circle cx="505.0" cy="214.2" r="1.6"/><circle cx="552.5" cy="221.7" r="1.6"/><circle cx="548.0" cy="222.6" r="1.6"/><circle cx="560.5" cy="223.1" r="1.6"/><circle cx="539.0" cy="215.1" r="1.6"/><circle cx="555.2" cy="212.0" r="1.6"/><circle cx="528.3" cy="227.1" r="1.6"/><circle cx="522.9" cy="224.2" r="1.6"/><circle cx="515.8" cy="221.7" r="1.6"/><circle cx="574.9" cy="213.1" r="1.6"/><circle cx="586.5" cy="216.7" r="1.6"/><circle cx="565.4" cy="213.8" r="1.6"/><circle cx="536.4" cy="205.6" r="1.6"/><circle cx="493.4" cy="216.3" r="1.6"/><circle cx="303.7" cy="144.7" r="1.6"/><circle cx="458.5" cy="195.7" r="1.6"/><circle cx="478.5" cy="187.7" r="1.6"/><circle cx="479.1" cy="196.6" r="1.6"/><circle cx="487.1" cy="205.6" r="1.6"/><circle cx="488.0" cy="206.5" r="1.6"/><circle cx="142.6" cy="232.4" r="1.6"/><circle cx="64.7" cy="247.6" r="1.6"/><circle cx="62.0" cy="236.0" r="1.6"/><circle cx="53.1" cy="237.8" r="1.6"/><circle cx="41.4" cy="238.7" r="1.6"/><circle cx="30.2" cy="205.8" r="1.6"/><circle cx="26.2" cy="234.2" r="1.6"/><circle cx="78.1" cy="252.8" r="1.6"/><circle cx="83.0" cy="252.8" r="1.6"/><circle cx="639.3" cy="158.7" r="1.6"/><circle cx="649.7" cy="163.0" r="1.6"/><circle cx="15.5" cy="166.6" r="1.6"/><circle cx="659.9" cy="166.6" r="1.6"/><circle cx="562.9" cy="229.7" r="1.6"/><circle cx="544.4" cy="223.8" r="1.6"/><circle cx="62.0" cy="224.4" r="1.6"/><circle cx="64.2" cy="226.7" r="1.6"/><circle cx="627.7" cy="223.5" r="1.6"/><circle cx="633.4" cy="224.4" r="1.6"/><circle cx="622.3" cy="287.2" r="1.6"/><circle cx="641.1" cy="287.9" r="1.6"/><circle cx="609.8" cy="299.9" r="1.6"/><circle cx="597.0" cy="306.9" r="1.6"/><circle cx="614.9" cy="261.3" r="1.6"/><circle cx="597.2" cy="265.5" r="1.6"/><circle cx="510.1" cy="327.7" r="1.6"/><circle cx="298.3" cy="281.3" r="1.6"/><circle cx="265.5" cy="313.7" r="1.6"/><circle cx="264.3" cy="312.1" r="1.6"/><circle cx="232.1" cy="317.6" r="1.6"/><circle cx="207.4" cy="320.5" r="1.6"/></g>
</g>
<line x1="11" y1="334.5" x2="636" y2="334.5" stroke="#333" stroke-width="1.2"/>
<g clip-path="url(#clipb)">
<g shape-rendering="crispEdges"><rect x="657" y="52" width="625" height="282" fill="#33f5f8"/>
<rect x="657.00" y="52.00" width="429.90" height="7.46" fill="#ffff00"/>
<rect x="1086.60" y="52.00" width="64.74" height="7.46" fill="#ff9a00"/>
<rect x="1151.04" y="52.00" width="131.26" height="7.46" fill="#ffff00"/>
<rect x="678.48" y="59.16" width="11.04" height="7.46" fill="#ffff00"/>
<rect x="753.66" y="59.16" width="54.00" height="7.46" fill="#ffff00"/>
<rect x="861.06" y="59.16" width="204.36" height="7.46" fill="#ffff00"/>
<rect x="1065.12" y="59.16" width="86.22" height="7.46" fill="#ff9a00"/>
<rect x="1151.04" y="59.16" width="11.04" height="7.46" fill="#ffff00"/>
<rect x="1161.78" y="59.16" width="21.78" height="7.46" fill="#ff9a00"/>
<rect x="1183.26" y="59.16" width="86.22" height="7.46" fill="#ffff00"/>
<rect x="657.00" y="66.32" width="86.22" height="7.46" fill="#12b4de"/>
<rect x="753.66" y="66.32" width="54.00" height="7.46" fill="#ffff00"/>
<rect x="871.80" y="66.32" width="21.78" height="7.46" fill="#12b4de"/>
<rect x="936.24" y="66.32" width="11.04" height="7.46" fill="#ffff00"/>
<rect x="946.98" y="66.32" width="11.04" height="7.46" fill="#ff9a00"/>
<rect x="957.72" y="66.32" width="11.04" height="7.46" fill="#ffff00"/>
<rect x="968.46" y="66.32" width="21.78" height="7.46" fill="#ff4500"/>
<rect x="989.94" y="66.32" width="11.04" height="7.46" fill="#ffff00"/>
<rect x="1000.68" y="66.32" width="54.00" height="7.46" fill="#ff9a00"/>
<rect x="1054.38" y="66.32" width="11.04" height="7.46" fill="#ffff00"/>
<rect x="1065.12" y="66.32" width="11.04" height="7.46" fill="#ff9a00"/>
<rect x="1075.86" y="66.32" width="21.78" height="7.46" fill="#ffff00"/>
<rect x="1118.82" y="66.32" width="21.78" height="7.46" fill="#ff9a00"/>
<rect x="1140.30" y="66.32" width="21.78" height="7.46" fill="#ffff00"/>
<rect x="1161.78" y="66.32" width="11.04" height="7.46" fill="#ff9a00"/>
<rect x="1172.52" y="66.32" width="11.04" height="7.46" fill="#ffff00"/>
<rect x="1215.48" y="66.32" width="43.26" height="7.46" fill="#ffff00"/>
<rect x="657.00" y="73.48" width="11.04" height="7.46" fill="#12b4de"/>
<rect x="667.74" y="73.48" width="21.78" height="7.46" fill="#0e6087"/>
<rect x="689.22" y="73.48" width="32.52" height="7.46" fill="#12b4de"/>
<rect x="721.44" y="73.48" width="32.52" height="7.46" fill="#0e6087"/>
<rect x="753.66" y="73.48" width="21.78" height="7.46" fill="#ffff00"/>
<rect x="871.80" y="73.48" width="21.78" height="7.46" fill="#12b4de"/>
<rect x="936.24" y="73.48" width="21.78" height="7.46" fill="#ffff00"/>
<rect x="968.46" y="73.48" width="11.04" height="7.46" fill="#ffff00"/>
<rect x="979.20" y="73.48" width="75.48" height="7.46" fill="#ff9a00"/>
<rect x="1054.38" y="73.48" width="43.26" height="7.46" fill="#ffff00"/>
<rect x="1215.48" y="73.48" width="11.04" height="7.46" fill="#ffff00"/>
<rect x="657.00" y="80.64" width="118.44" height="7.46" fill="#12b4de"/>
<rect x="861.06" y="80.64" width="32.52" height="7.46" fill="#12b4de"/>
<rect x="925.50" y="80.64" width="21.78" height="7.46" fill="#ffff00"/>
<rect x="1054.38" y="80.64" width="32.52" height="7.46" fill="#ffff00"/>
<rect x="1140.30" y="80.64" width="43.26" height="7.46" fill="#12b4de"/>
<rect x="1215.48" y="80.64" width="21.78" height="7.46" fill="#ffff00"/>
<rect x="1236.96" y="80.64" width="11.04" height="7.46" fill="#ff9a00"/>
<rect x="1247.70" y="80.64" width="21.78" height="7.46" fill="#ff4500"/>
<rect x="1269.18" y="80.64" width="13.12" height="7.46" fill="#ffff00"/>
<rect x="657.00" y="87.80" width="32.52" height="7.46" fill="#12b4de"/>
<rect x="721.44" y="87.80" width="11.04" height="7.46" fill="#12b4de"/>
<rect x="742.92" y="87.80" width="54.00" height="7.46" fill="#12b4de"/>
<rect x="850.32" y="87.80" width="32.52" height="7.46" fill="#12b4de"/>
<rect x="904.02" y="87.80" width="11.04" height="7.46" fill="#ffff00"/>
<rect x="925.50" y="87.80" width="21.78" height="7.46" fill="#ffff00"/>
<rect x="1032.90" y="87.80" width="11.04" height="7.46" fill="#12b4de"/>
<rect x="1054.38" y="87.80" width="32.52" height="7.46" fill="#ffff00"/>
<rect x="1108.08" y="87.80" width="11.04" height="7.46" fill="#12b4de"/>
<rect x="1140.30" y="87.80" width="11.04" height="7.46" fill="#12b4de"/>
<rect x="1151.04" y="87.80" width="21.78" height="7.46" fill="#0e6087"/>
<rect x="1172.52" y="87.80" width="21.78" height="7.46" fill="#12b4de"/>
<rect x="1215.48" y="87.80" width="21.78" height="7.46" fill="#ffff00"/>
<rect x="1236.96" y="87.80" width="11.04" height="7.46" fill="#ff9a00"/>
<rect x="1247.70" y="87.80" width="11.04" height="7.46" fill="#ff4500"/>
<rect x="1258.44" y="87.80" width="11.04" height="7.46" fill="#ff9a00"/>
<rect x="667.74" y="94.96" width="21.78" height="7.46" fill="#12b4de"/>
<rect x="699.96" y="94.96" width="21.78" height="7.46" fill="#ffff00"/>
<rect x="732.18" y="94.96" width="11.04" height="7.46" fill="#ffff00"/>
<rect x="753.66" y="94.96" width="21.78" height="7.46" fill="#12b4de"/>
<rect x="850.32" y="94.96" width="21.78" height="7.46" fill="#12b4de"/>
<rect x="904.02" y="94.96" width="11.04" height="7.46" fill="#ffff00"/>
<rect x="1032.90" y="94.96" width="11.04" height="7.46" fill="#12b4de"/>
<rect x="1043.64" y="94.96" width="11.04" height="7.46" fill="#0e6087"/>
<rect x="1054.38" y="94.96" width="64.74" height="7.46" fill="#ffff00"/>
<rect x="1140.30" y="94.96" width="32.52" height="7.46" fill="#12b4de"/>
<rect x="1172.52" y="94.96" width="11.04" height="7.46" fill="#ffff00"/>
<rect x="1183.26" y="94.96" width="11.04" height="7.46" fill="#12b4de"/>
<rect x="1215.48" y="94.96" width="54.00" height="7.46" fill="#ffff00"/>
<rect x="667.74" y="102.12" width="21.78" height="7.46" fill="#12b4de"/>
<rect x="699.96" y="102.12" width="21.78" height="7.46" fill="#ffff00"/>
<rect x="807.36" y="102.12" width="21.78" height="7.46" fill="#12b4de"/>
<rect x="839.58" y="102.12" width="21.78" height="7.46" fill="#12b4de"/>
<rect x="882.54" y="102.12" width="32.52" height="7.46" fill="#12b4de"/>
<rect x="1022.16" y="102.12" width="21.78" height="7.46" fill="#12b4de"/>
<rect x="1043.64" y="102.12" width="11.04" height="7.46" fill="#0e6087"/>
<rect x="1054.38" y="102.12" width="21.78" height="7.46" fill="#12b4de"/>
<rect x="1097.34" y="102.12" width="21.78" height="7.46" fill="#ffff00"/>
<rect x="1140.30" y="102.12" width="11.04" height="7.46" fill="#12b4de"/>
<rect x="1161.78" y="102.12" width="21.78" height="7.46" fill="#ffff00"/>
<rect x="1183.26" y="102.12" width="11.04" height="7.46" fill="#12b4de"/>
<rect x="1215.48" y="102.12" width="11.04" height="7.46" fill="#ff9a00"/>
<rect x="1226.22" y="102.12" width="21.78" height="7.46" fill="#ffff00"/>
<rect x="1247.70" y="102.12" width="11.04" height="7.46" fill="#ff9a00"/>
<rect x="657.00" y="109.28" width="21.78" height="7.46" fill="#12b4de"/>
<rect x="699.96" y="109.28" width="11.04" height="7.46" fill="#ffff00"/>
<rect x="710.70" y="109.28" width="21.78" height="7.46" fill="#ff9a00"/>
<rect x="732.18" y="109.28" width="43.26" height="7.46" fill="#ffff00"/>
<rect x="785.88" y="109.28" width="21.78" height="7.46" fill="#12b4de"/>
<rect x="818.10" y="109.28" width="32.52" height="7.46" fill="#ffff00"/>
<rect x="882.54" y="109.28" width="43.26" height="7.46" fill="#12b4de"/>
<rect x="1011.42" y="109.28" width="11.04" height="7.46" fill="#ffff00"/>
<rect x="1032.90" y="109.28" width="11.04" height="7.46" fill="#12b4de"/>
<rect x="1043.64" y="109.28" width="11.04" height="7.46" fill="#0e6087"/>
<rect x="1054.38" y="109.28" width="21.78" height="7.46" fill="#12b4de"/>
<rect x="1097.34" y="109.28" width="32.52" height="7.46" fill="#ffff00"/>
<rect x="1140.30" y="109.28" width="11.04" height="7.46" fill="#12b4de"/>
<rect x="1161.78" y="109.28" width="21.78" height="7.46" fill="#ffff00"/>
<rect x="1183.26" y="109.28" width="11.04" height="7.46" fill="#12b4de"/>
<rect x="1215.48" y="109.28" width="11.04" height="7.46" fill="#ffff00"/>
<rect x="1226.22" y="109.28" width="21.78" height="7.46" fill="#ff9a00"/>
<rect x="1247.70" y="109.28" width="11.04" height="7.46" fill="#ff4500"/>
<rect x="1258.44" y="109.28" width="11.04" height="7.46" fill="#ff9a00"/>
<rect x="667.74" y="116.44" width="21.78" height="7.46" fill="#12b4de"/>
<rect x="699.96" y="116.44" width="11.04" height="7.46" fill="#ffff00"/>
<rect x="710.70" y="116.44" width="21.78" height="7.46" fill="#ff9a00"/>
<rect x="732.18" y="116.44" width="32.52" height="7.46" fill="#ffff00"/>
<rect x="785.88" y="116.44" width="64.74" height="7.46" fill="#ffff00"/>
<rect x="882.54" y="116.44" width="43.26" height="7.46" fill="#12b4de"/>
<rect x="979.20" y="116.44" width="11.04" height="7.46" fill="#ff9a00"/>
<rect x="1011.42" y="116.44" width="21.78" height="7.46" fill="#ffff00"/>
<rect x="1043.64" y="116.44" width="32.52" height="7.46" fill="#12b4de"/>
<rect x="1097.34" y="116.44" width="32.52" height="7.46" fill="#ffff00"/>
<rect x="1140.30" y="116.44" width="11.04" height="7.46" fill="#12b4de"/>
<rect x="1161.78" y="116.44" width="21.78" height="7.46" fill="#ffff00"/>
<rect x="1183.26" y="116.44" width="11.04" height="7.46" fill="#12b4de"/>
<rect x="1215.48" y="116.44" width="32.52" height="7.46" fill="#ffff00"/>
<rect x="1247.70" y="116.44" width="11.04" height="7.46" fill="#ff4500"/>
<rect x="1258.44" y="116.44" width="11.04" height="7.46" fill="#ff9a00"/>
<rect x="667.74" y="123.60" width="11.04" height="7.46" fill="#ffff00"/>
<rect x="678.48" y="123.60" width="11.04" height="7.46" fill="#12b4de"/>
<rect x="699.96" y="123.60" width="11.04" height="7.46" fill="#ff9a00"/>
<rect x="710.70" y="123.60" width="43.26" height="7.46" fill="#ffff00"/>
<rect x="764.40" y="123.60" width="21.78" height="7.46" fill="#ffff00"/>
<rect x="785.88" y="123.60" width="21.78" height="7.46" fill="#ff9a00"/>
<rect x="807.36" y="123.60" width="32.52" height="7.46" fill="#ffff00"/>
<rect x="882.54" y="123.60" width="32.52" height="7.46" fill="#12b4de"/>
<rect x="914.76" y="123.60" width="11.04" height="7.46" fill="#0e6087"/>
<rect x="925.50" y="123.60" width="11.04" height="7.46" fill="#12b4de"/>
<rect x="979.20" y="123.60" width="75.48" height="7.46" fill="#ffff00"/>
<rect x="1065.12" y="123.60" width="11.04" height="7.46" fill="#ffff00"/>
<rect x="1097.34" y="123.60" width="11.04" height="7.46" fill="#ffff00"/>
<rect x="1118.82" y="123.60" width="11.04" height="7.46" fill="#ffff00"/>
<rect x="1151.04" y="123.60" width="21.78" height="7.46" fill="#ffff00"/>
<rect x="1172.52" y="123.60" width="11.04" height="7.46" fill="#ff9a00"/>
<rect x="1183.26" y="123.60" width="11.04" height="7.46" fill="#ffff00"/>
<rect x="1215.48" y="123.60" width="66.82" height="7.46" fill="#ffff00"/>
<rect x="678.48" y="130.76" width="11.04" height="7.46" fill="#12b4de"/>
<rect x="689.22" y="130.76" width="64.74" height="7.46" fill="#ffff00"/>
<rect x="764.40" y="130.76" width="21.78" height="7.46" fill="#ffff00"/>
<rect x="785.88" y="130.76" width="21.78" height="7.46" fill="#ff9a00"/>
<rect x="807.36" y="130.76" width="21.78" height="7.46" fill="#ffff00"/>
<rect x="979.20" y="130.76" width="54.00" height="7.46" fill="#ffff00"/>
<rect x="1032.90" y="130.76" width="11.04" height="7.46" fill="#ff9a00"/>
<rect x="1043.64" y="130.76" width="43.26" height="7.46" fill="#ffff00"/>
<rect x="1129.56" y="130.76" width="32.52" height="7.46" fill="#ffff00"/>
<rect x="1247.70" y="130.76" width="34.60" height="7.46" fill="#ffff00"/>
<rect x="689.22" y="137.92" width="54.00" height="7.46" fill="#ffff00"/>
<rect x="807.36" y="137.92" width="11.04" height="7.46" fill="#ffff00"/>
<rect x="882.54" y="137.92" width="43.26" height="7.46" fill="#ffff00"/>
<rect x="946.98" y="137.92" width="86.22" height="7.46" fill="#ffff00"/>
<rect x="1032.90" y="137.92" width="11.04" height="7.46" fill="#ff9a00"/>
<rect x="1043.64" y="137.92" width="43.26" height="7.46" fill="#ffff00"/>
<rect x="1097.34" y="137.92" width="11.04" height="7.46" fill="#ffff00"/>
<rect x="1129.56" y="137.92" width="54.00" height="7.46" fill="#ffff00"/>
<rect x="1247.70" y="137.92" width="34.60" height="7.46" fill="#ffff00"/>
<rect x="657.00" y="145.08" width="11.04" height="7.46" fill="#ffff00"/>
<rect x="667.74" y="145.08" width="11.04" height="7.46" fill="#12b4de"/>
<rect x="678.48" y="145.08" width="21.78" height="7.46" fill="#ffff00"/>
<rect x="721.44" y="145.08" width="11.04" height="7.46" fill="#ffff00"/>
<rect x="871.80" y="145.08" width="96.96" height="7.46" fill="#ffff00"/>
<rect x="979.20" y="145.08" width="64.74" height="7.46" fill="#ffff00"/>
<rect x="1065.12" y="145.08" width="21.78" height="7.46" fill="#ffff00"/>
<rect x="1108.08" y="145.08" width="21.78" height="7.46" fill="#ffff00"/>
<rect x="1129.56" y="145.08" width="11.04" height="7.46" fill="#ff9a00"/>
<rect x="1140.30" y="145.08" width="11.04" height="7.46" fill="#ffff00"/>
<rect x="1151.04" y="145.08" width="32.52" height="7.46" fill="#800000"/>
<rect x="1183.26" y="145.08" width="11.04" height="7.46" fill="#ffff00"/>
<rect x="1226.22" y="145.08" width="21.78" height="7.46" fill="#ffff00"/>
<rect x="1247.70" y="145.08" width="11.04" height="7.46" fill="#ff9a00"/>
<rect x="1258.44" y="145.08" width="23.86" height="7.46" fill="#ffff00"/>
<rect x="667.74" y="152.24" width="11.04" height="7.46" fill="#12b4de"/>
<rect x="699.96" y="152.24" width="11.04" height="7.46" fill="#ffff00"/>
<rect x="753.66" y="152.24" width="21.78" height="7.46" fill="#ffff00"/>
<rect x="871.80" y="152.24" width="32.52" height="7.46" fill="#ffff00"/>
<rect x="936.24" y="152.24" width="32.52" height="7.46" fill="#ffff00"/>
<rect x="979.20" y="152.24" width="64.74" height="7.46" fill="#ffff00"/>
<rect x="1075.86" y="152.24" width="43.26" height="7.46" fill="#ffff00"/>
<rect x="1118.82" y="152.24" width="11.04" height="7.46" fill="#ff4500"/>
<rect x="1129.56" y="152.24" width="21.78" height="7.46" fill="#ff9a00"/>
<rect x="1151.04" y="152.24" width="32.52" height="7.46" fill="#ff4500"/>
<rect x="1183.26" y="152.24" width="11.04" height="7.46" fill="#ffff00"/>
<rect x="1204.74" y="152.24" width="32.52" height="7.46" fill="#ffff00"/>
<rect x="1236.96" y="152.24" width="11.04" height="7.46" fill="#ff9a00"/>
<rect x="1247.70" y="152.24" width="34.60" height="7.46" fill="#ffff00"/>
<rect x="657.00" y="159.40" width="11.04" height="7.46" fill="#ffff00"/>
<rect x="699.96" y="159.40" width="64.74" height="7.46" fill="#ffff00"/>
<rect x="796.62" y="159.40" width="54.00" height="7.46" fill="#ffff00"/>
<rect x="882.54" y="159.40" width="43.26" height="7.46" fill="#ffff00"/>
<rect x="936.24" y="159.40" width="107.70" height="7.46" fill="#ffff00"/>
<rect x="1086.60" y="159.40" width="21.78" height="7.46" fill="#ff9a00"/>
<rect x="1108.08" y="159.40" width="11.04" height="7.46" fill="#ffff00"/>
<rect x="1118.82" y="159.40" width="11.04" height="7.46" fill="#ff4500"/>
<rect x="1129.56" y="159.40" width="21.78" height="7.46" fill="#ff9a00"/>
<rect x="1151.04" y="159.40" width="32.52" height="7.46" fill="#ff4500"/>
<rect x="1183.26" y="159.40" width="11.04" height="7.46" fill="#ffff00"/>
<rect x="1204.74" y="159.40" width="11.04" height="7.46" fill="#ffff00"/>
<rect x="1215.48" y="159.40" width="11.04" height="7.46" fill="#ff9a00"/>
<rect x="1226.22" y="159.40" width="56.08" height="7.46" fill="#ffff00"/>
<rect x="699.96" y="166.56" width="21.78" height="7.46" fill="#ffff00"/>
<rect x="721.44" y="166.56" width="11.04" height="7.46" fill="#ff9a00"/>
<rect x="732.18" y="166.56" width="21.78" height="7.46" fill="#ffff00"/>
<rect x="796.62" y="166.56" width="11.04" height="7.46" fill="#ffff00"/>
<rect x="818.10" y="166.56" width="11.04" height="7.46" fill="#ffff00"/>
<rect x="850.32" y="166.56" width="11.04" height="7.46" fill="#12b4de"/>
<rect x="882.54" y="166.56" width="32.52" height="7.46" fill="#ffff00"/>
<rect x="936.24" y="166.56" width="11.04" height="7.46" fill="#ffff00"/>
<rect x="957.72" y="166.56" width="75.48" height="7.46" fill="#ffff00"/>
<rect x="1065.12" y="166.56" width="11.04" height="7.46" fill="#ffff00"/>
<rect x="1097.34" y="166.56" width="11.04" height="7.46" fill="#ff4500"/>
<rect x="1108.08" y="166.56" width="21.78" height="7.46" fill="#ffff00"/>
<rect x="1129.56" y="166.56" width="21.78" height="7.46" fill="#ff4500"/>
<rect x="1151.04" y="166.56" width="11.04" height="7.46" fill="#ff9a00"/>
<rect x="1161.78" y="166.56" width="11.04" height="7.46" fill="#ffff00"/>
<rect x="1204.74" y="166.56" width="64.74" height="7.46" fill="#ffff00"/>
<rect x="1279.92" y="166.56" width="2.38" height="7.46" fill="#ff9a00"/>
<rect x="699.96" y="173.72" width="43.26" height="7.46" fill="#ffff00"/>
<rect x="850.32" y="173.72" width="11.04" height="7.46" fill="#12b4de"/>
<rect x="871.80" y="173.72" width="43.26" height="7.46" fill="#ffff00"/>
<rect x="936.24" y="173.72" width="32.52" height="7.46" fill="#ffff00"/>
<rect x="989.94" y="173.72" width="21.78" height="7.46" fill="#ffff00"/>
<rect x="1022.16" y="173.72" width="43.26" height="7.46" fill="#ffff00"/>
<rect x="1075.86" y="173.72" width="21.78" height="7.46" fill="#ffff00"/>
<rect x="1097.34" y="173.72" width="21.78" height="7.46" fill="#ff9a00"/>
<rect x="1118.82" y="173.72" width="11.04" height="7.46" fill="#ffff00"/>
<rect x="1129.56" y="173.72" width="21.78" height="7.46" fill="#ff4500"/>
<rect x="1151.04" y="173.72" width="11.04" height="7.46" fill="#ff9a00"/>
<rect x="1215.48" y="173.72" width="64.74" height="7.46" fill="#ffff00"/>
<rect x="1279.92" y="173.72" width="2.38" height="7.46" fill="#ff9a00"/>
<rect x="657.00" y="180.88" width="32.52" height="7.46" fill="#ffff00"/>
<rect x="710.70" y="180.88" width="43.26" height="7.46" fill="#ffff00"/>
<rect x="785.88" y="180.88" width="21.78" height="7.46" fill="#ff9a00"/>
<rect x="861.06" y="180.88" width="107.70" height="7.46" fill="#ffff00"/>
<rect x="1011.42" y="180.88" width="32.52" height="7.46" fill="#ffff00"/>
<rect x="1065.12" y="180.88" width="11.04" height="7.46" fill="#ffff00"/>
<rect x="1226.22" y="180.88" width="11.04" height="7.46" fill="#12b4de"/>
<rect x="1236.96" y="180.88" width="45.34" height="7.46" fill="#ffff00"/>
<rect x="710.70" y="188.04" width="32.52" height="7.46" fill="#ffff00"/>
<rect x="764.40" y="188.04" width="21.78" height="7.46" fill="#ffff00"/>
<rect x="785.88" y="188.04" width="32.52" height="7.46" fill="#ff9a00"/>
<rect x="871.80" y="188.04" width="64.74" height="7.46" fill="#ffff00"/>
<rect x="936.24" y="188.04" width="11.04" height="7.46" fill="#ff9a00"/>
<rect x="946.98" y="188.04" width="32.52" height="7.46" fill="#ffff00"/>
<rect x="979.20" y="188.04" width="11.04" height="7.46" fill="#ff9a00"/>
<rect x="989.94" y="188.04" width="11.04" height="7.46" fill="#800000"/>
<rect x="1000.68" y="188.04" width="11.04" height="7.46" fill="#ff4500"/>
<rect x="1011.42" y="188.04" width="11.04" height="7.46" fill="#ff9a00"/>
<rect x="1022.16" y="188.04" width="11.04" height="7.46" fill="#ffff00"/>
<rect x="1226.22" y="188.04" width="11.04" height="7.46" fill="#12b4de"/>
<rect x="1236.96" y="188.04" width="32.52" height="7.46" fill="#ffff00"/>
<rect x="657.00" y="195.20" width="11.04" height="7.46" fill="#12b4de"/>
<rect x="689.22" y="195.20" width="43.26" height="7.46" fill="#12b4de"/>
<rect x="753.66" y="195.20" width="43.26" height="7.46" fill="#ffff00"/>
<rect x="796.62" y="195.20" width="21.78" height="7.46" fill="#ff9a00"/>
<rect x="818.10" y="195.20" width="11.04" height="7.46" fill="#ffff00"/>
<rect x="893.28" y="195.20" width="11.04" height="7.46" fill="#ffff00"/>
<rect x="936.24" y="195.20" width="54.00" height="7.46" fill="#ffff00"/>
<rect x="989.94" y="195.20" width="21.78" height="7.46" fill="#ff4500"/>
<rect x="1011.42" y="195.20" width="11.04" height="7.46" fill="#ff9a00"/>
<rect x="1022.16" y="195.20" width="11.04" height="7.46" fill="#ffff00"/>
<rect x="1108.08" y="195.20" width="11.04" height="7.46" fill="#ffff00"/>
<rect x="1172.52" y="195.20" width="21.78" height="7.46" fill="#ffff00"/>
<rect x="1226.22" y="195.20" width="11.04" height="7.46" fill="#12b4de"/>
<rect x="657.00" y="202.36" width="86.22" height="7.46" fill="#12b4de"/>
<rect x="764.40" y="202.36" width="32.52" height="7.46" fill="#ffff00"/>
<rect x="796.62" y="202.36" width="21.78" height="7.46" fill="#ff9a00"/>
<rect x="818.10" y="202.36" width="21.78" height="7.46" fill="#ffff00"/>
<rect x="871.80" y="202.36" width="11.04" height="7.46" fill="#12b4de"/>
<rect x="914.76" y="202.36" width="75.48" height="7.46" fill="#ffff00"/>
<rect x="989.94" y="202.36" width="21.78" height="7.46" fill="#ff4500"/>
<rect x="1011.42" y="202.36" width="11.04" height="7.46" fill="#ff9a00"/>
<rect x="1022.16" y="202.36" width="11.04" height="7.46" fill="#ffff00"/>
<rect x="1075.86" y="202.36" width="32.52" height="7.46" fill="#ffff00"/>
<rect x="1172.52" y="202.36" width="21.78" height="7.46" fill="#ffff00"/>
<rect x="1226.22" y="202.36" width="43.26" height="7.46" fill="#12b4de"/>
<rect x="657.00" y="209.52" width="11.04" height="7.46" fill="#12b4de"/>
<rect x="667.74" y="209.52" width="32.52" height="7.46" fill="#0e6087"/>
<rect x="699.96" y="209.52" width="43.26" height="7.46" fill="#12b4de"/>
<rect x="764.40" y="209.52" width="32.52" height="7.46" fill="#ffff00"/>
<rect x="796.62" y="209.52" width="21.78" height="7.46" fill="#ff9a00"/>
<rect x="818.10" y="209.52" width="11.04" height="7.46" fill="#ff4500"/>
<rect x="828.84" y="209.52" width="11.04" height="7.46" fill="#ffff00"/>
<rect x="914.76" y="209.52" width="32.52" height="7.46" fill="#ffff00"/>
<rect x="957.72" y="209.52" width="11.04" height="7.46" fill="#12b4de"/>
<rect x="989.94" y="209.52" width="11.04" height="7.46" fill="#ff9a00"/>
<rect x="1000.68" y="209.52" width="11.04" height="7.46" fill="#800000"/>
<rect x="1011.42" y="209.52" width="11.04" height="7.46" fill="#ff4500"/>
<rect x="1022.16" y="209.52" width="21.78" height="7.46" fill="#ffff00"/>
<rect x="1075.86" y="209.52" width="11.04" height="7.46" fill="#ffff00"/>
<rect x="1172.52" y="209.52" width="21.78" height="7.46" fill="#ffff00"/>
<rect x="1258.44" y="209.52" width="21.78" height="7.46" fill="#ffff00"/>
<rect x="657.00" y="216.68" width="11.04" height="7.46" fill="#12b4de"/>
<rect x="667.74" y="216.68" width="32.52" height="7.46" fill="#0e6087"/>
<rect x="699.96" y="216.68" width="43.26" height="7.46" fill="#12b4de"/>
<rect x="764.40" y="216.68" width="32.52" height="7.46" fill="#ffff00"/>
<rect x="796.62" y="216.68" width="21.78" height="7.46" fill="#ff9a00"/>
<rect x="818.10" y="216.68" width="11.04" height="7.46" fill="#ff4500"/>
<rect x="828.84" y="216.68" width="11.04" height="7.46" fill="#ffff00"/>
<rect x="882.54" y="216.68" width="11.04" height="7.46" fill="#ffff00"/>
<rect x="925.50" y="216.68" width="11.04" height="7.46" fill="#12b4de"/>
<rect x="957.72" y="216.68" width="32.52" height="7.46" fill="#12b4de"/>
<rect x="989.94" y="216.68" width="11.04" height="7.46" fill="#ffff00"/>
<rect x="1000.68" y="216.68" width="11.04" height="7.46" fill="#800000"/>
<rect x="1011.42" y="216.68" width="11.04" height="7.46" fill="#ff4500"/>
<rect x="1022.16" y="216.68" width="21.78" height="7.46" fill="#ffff00"/>
<rect x="1065.12" y="216.68" width="11.04" height="7.46" fill="#ffff00"/>
<rect x="1097.34" y="216.68" width="11.04" height="7.46" fill="#12b4de"/>
<rect x="1118.82" y="216.68" width="32.52" height="7.46" fill="#ffff00"/>
<rect x="1172.52" y="216.68" width="11.04" height="7.46" fill="#ffff00"/>
<rect x="1269.18" y="216.68" width="13.12" height="7.46" fill="#12b4de"/>
<rect x="657.00" y="223.84" width="21.78" height="7.46" fill="#12b4de"/>
<rect x="678.48" y="223.84" width="21.78" height="7.46" fill="#0e6087"/>
<rect x="699.96" y="223.84" width="54.00" height="7.46" fill="#12b4de"/>
<rect x="839.58" y="223.84" width="11.04" height="7.46" fill="#12b4de"/>
<rect x="882.54" y="223.84" width="21.78" height="7.46" fill="#ffff00"/>
<rect x="936.24" y="223.84" width="54.00" height="7.46" fill="#ffff00"/>
<rect x="989.94" y="223.84" width="11.04" height="7.46" fill="#ff9a00"/>
<rect x="1000.68" y="223.84" width="11.04" height="7.46" fill="#ff4500"/>
<rect x="1011.42" y="223.84" width="11.04" height="7.46" fill="#ff9a00"/>
<rect x="1022.16" y="223.84" width="21.78" height="7.46" fill="#ffff00"/>
<rect x="1075.86" y="223.84" width="11.04" height="7.46" fill="#ffff00"/>
<rect x="1118.82" y="223.84" width="32.52" height="7.46" fill="#ffff00"/>
<rect x="689.22" y="231.00" width="54.00" height="7.46" fill="#12b4de"/>
<rect x="742.92" y="231.00" width="32.52" height="7.46" fill="#0e6087"/>
<rect x="775.14" y="231.00" width="11.04" height="7.46" fill="#12b4de"/>
<rect x="839.58" y="231.00" width="11.04" height="7.46" fill="#12b4de"/>
<rect x="882.54" y="231.00" width="32.52" height="7.46" fill="#ffff00"/>
<rect x="936.24" y="231.00" width="11.04" height="7.46" fill="#ffff00"/>
<rect x="946.98" y="231.00" width="64.74" height="7.46" fill="#ff4500"/>
<rect x="1011.42" y="231.00" width="32.52" height="7.46" fill="#ffff00"/>
<rect x="1075.86" y="231.00" width="11.04" height="7.46" fill="#ffff00"/>
<rect x="1097.34" y="231.00" width="21.78" height="7.46" fill="#12b4de"/>
<rect x="1236.96" y="231.00" width="21.78" height="7.46" fill="#12b4de"/>
<rect x="721.44" y="238.16" width="21.78" height="7.46" fill="#12b4de"/>
<rect x="742.92" y="238.16" width="43.26" height="7.46" fill="#0e6087"/>
<rect x="785.88" y="238.16" width="11.04" height="7.46" fill="#12b4de"/>
<rect x="807.36" y="238.16" width="32.52" height="7.46" fill="#ffff00"/>
<rect x="839.58" y="238.16" width="11.04" height="7.46" fill="#ff4500"/>
<rect x="850.32" y="238.16" width="21.78" height="7.46" fill="#ff9a00"/>
<rect x="904.02" y="238.16" width="21.78" height="7.46" fill="#12b4de"/>
<rect x="936.24" y="238.16" width="11.04" height="7.46" fill="#ffff00"/>
<rect x="946.98" y="238.16" width="64.74" height="7.46" fill="#ff4500"/>
<rect x="1011.42" y="238.16" width="11.04" height="7.46" fill="#ffff00"/>
<rect x="1075.86" y="238.16" width="11.04" height="7.46" fill="#ffff00"/>
<rect x="1097.34" y="238.16" width="21.78" height="7.46" fill="#12b4de"/>
<rect x="1161.78" y="238.16" width="43.26" height="7.46" fill="#12b4de"/>
<rect x="1236.96" y="238.16" width="45.34" height="7.46" fill="#12b4de"/>
<rect x="657.00" y="245.32" width="21.78" height="7.46" fill="#12b4de"/>
<rect x="721.44" y="245.32" width="32.52" height="7.46" fill="#12b4de"/>
<rect x="753.66" y="245.32" width="11.04" height="7.46" fill="#0e6087"/>
<rect x="764.40" y="245.32" width="43.26" height="7.46" fill="#12b4de"/>
<rect x="818.10" y="245.32" width="32.52" height="7.46" fill="#ffff00"/>
<rect x="850.32" y="245.32" width="11.04" height="7.46" fill="#ff9a00"/>
<rect x="861.06" y="245.32" width="11.04" height="7.46" fill="#ffff00"/>
<rect x="871.80" y="245.32" width="54.00" height="7.46" fill="#12b4de"/>
<rect x="946.98" y="245.32" width="11.04" height="7.46" fill="#ffff00"/>
<rect x="957.72" y="245.32" width="11.04" height="7.46" fill="#ff9a00"/>
<rect x="968.46" y="245.32" width="21.78" height="7.46" fill="#ff4500"/>
<rect x="989.94" y="245.32" width="11.04" height="7.46" fill="#800000"/>
<rect x="1000.68" y="245.32" width="11.04" height="7.46" fill="#ff4500"/>
<rect x="1011.42" y="245.32" width="11.04" height="7.46" fill="#ff9a00"/>
<rect x="1161.78" y="245.32" width="21.78" height="7.46" fill="#12b4de"/>
<rect x="1183.26" y="245.32" width="32.52" height="7.46" fill="#0e6087"/>
<rect x="1215.48" y="245.32" width="21.78" height="7.46" fill="#12b4de"/>
<rect x="1236.96" y="245.32" width="21.78" height="7.46" fill="#0e6087"/>
<rect x="1258.44" y="245.32" width="23.86" height="7.46" fill="#12b4de"/>
<rect x="657.00" y="252.48" width="21.78" height="7.46" fill="#12b4de"/>
<rect x="710.70" y="252.48" width="107.70" height="7.46" fill="#12b4de"/>
<rect x="839.58" y="252.48" width="21.78" height="7.46" fill="#ffff00"/>
<rect x="871.80" y="252.48" width="21.78" height="7.46" fill="#12b4de"/>
<rect x="893.28" y="252.48" width="32.52" height="7.46" fill="#0e6087"/>
<rect x="925.50" y="252.48" width="11.04" height="7.46" fill="#12b4de"/>
<rect x="946.98" y="252.48" width="11.04" height="7.46" fill="#ffff00"/>
<rect x="957.72" y="252.48" width="11.04" height="7.46" fill="#ff9a00"/>
<rect x="968.46" y="252.48" width="21.78" height="7.46" fill="#ff4500"/>
<rect x="989.94" y="252.48" width="11.04" height="7.46" fill="#800000"/>
<rect x="1000.68" y="252.48" width="21.78" height="7.46" fill="#ff4500"/>
<rect x="1022.16" y="252.48" width="11.04" height="7.46" fill="#ffff00"/>
<rect x="1118.82" y="252.48" width="11.04" height="7.46" fill="#12b4de"/>
<rect x="1172.52" y="252.48" width="11.04" height="7.46" fill="#12b4de"/>
<rect x="1183.26" y="252.48" width="32.52" height="7.46" fill="#0e6087"/>
<rect x="1215.48" y="252.48" width="21.78" height="7.46" fill="#12b4de"/>
<rect x="1236.96" y="252.48" width="21.78" height="7.46" fill="#0e6087"/>
<rect x="1258.44" y="252.48" width="23.86" height="7.46" fill="#12b4de"/>
<rect x="657.00" y="259.64" width="32.52" height="7.46" fill="#12b4de"/>
<rect x="710.70" y="259.64" width="11.04" height="7.46" fill="#12b4de"/>
<rect x="732.18" y="259.64" width="43.26" height="7.46" fill="#12b4de"/>
<rect x="775.14" y="259.64" width="11.04" height="7.46" fill="#0e6087"/>
<rect x="785.88" y="259.64" width="32.52" height="7.46" fill="#12b4de"/>
<rect x="839.58" y="259.64" width="11.04" height="7.46" fill="#ffff00"/>
<rect x="871.80" y="259.64" width="11.04" height="7.46" fill="#12b4de"/>
<rect x="882.54" y="259.64" width="54.00" height="7.46" fill="#0e6087"/>
<rect x="936.24" y="259.64" width="11.04" height="7.46" fill="#12b4de"/>
<rect x="957.72" y="259.64" width="11.04" height="7.46" fill="#ffff00"/>
<rect x="968.46" y="259.64" width="21.78" height="7.46" fill="#ff9a00"/>
<rect x="989.94" y="259.64" width="11.04" height="7.46" fill="#800000"/>
<rect x="1000.68" y="259.64" width="21.78" height="7.46" fill="#ff4500"/>
<rect x="1022.16" y="259.64" width="11.04" height="7.46" fill="#ffff00"/>
<rect x="1043.64" y="259.64" width="11.04" height="7.46" fill="#12b4de"/>
<rect x="1129.56" y="259.64" width="11.04" height="7.46" fill="#12b4de"/>
<rect x="1172.52" y="259.64" width="32.52" height="7.46" fill="#12b4de"/>
<rect x="1215.48" y="259.64" width="54.00" height="7.46" fill="#12b4de"/>
<rect x="657.00" y="266.80" width="11.04" height="7.46" fill="#12b4de"/>
<rect x="667.74" y="266.80" width="11.04" height="7.46" fill="#0e6087"/>
<rect x="678.48" y="266.80" width="54.00" height="7.46" fill="#12b4de"/>
<rect x="742.92" y="266.80" width="11.04" height="7.46" fill="#12b4de"/>
<rect x="753.66" y="266.80" width="11.04" height="7.46" fill="#0e6087"/>
<rect x="764.40" y="266.80" width="21.78" height="7.46" fill="#12b4de"/>
<rect x="785.88" y="266.80" width="21.78" height="7.46" fill="#0e6087"/>
<rect x="807.36" y="266.80" width="64.74" height="7.46" fill="#12b4de"/>
<rect x="882.54" y="266.80" width="32.52" height="7.46" fill="#0e6087"/>
<rect x="914.76" y="266.80" width="21.78" height="7.46" fill="#12b4de"/>
<rect x="936.24" y="266.80" width="32.52" height="7.46" fill="#0e6087"/>
<rect x="968.46" y="266.80" width="32.52" height="7.46" fill="#12b4de"/>
<rect x="1000.68" y="266.80" width="11.04" height="7.46" fill="#ffff00"/>
<rect x="1065.12" y="266.80" width="21.78" height="7.46" fill="#12b4de"/>
<rect x="1086.60" y="266.80" width="21.78" height="7.46" fill="#0e6087"/>
<rect x="1108.08" y="266.80" width="174.22" height="7.46" fill="#12b4de"/>
<rect x="657.00" y="273.96" width="21.78" height="7.46" fill="#12b4de"/>
<rect x="678.48" y="273.96" width="32.52" height="7.46" fill="#0e6087"/>
<rect x="710.70" y="273.96" width="11.04" height="7.46" fill="#12b4de"/>
<rect x="721.44" y="273.96" width="11.04" height="7.46" fill="#0e6087"/>
<rect x="732.18" y="273.96" width="11.04" height="7.46" fill="#12b4de"/>
<rect x="742.92" y="273.96" width="21.78" height="7.46" fill="#0e6087"/>
<rect x="764.40" y="273.96" width="21.78" height="7.46" fill="#12b4de"/>
<rect x="785.88" y="273.96" width="43.26" height="7.46" fill="#0e6087"/>
<rect x="828.84" y="273.96" width="64.74" height="7.46" fill="#12b4de"/>
<rect x="893.28" y="273.96" width="21.78" height="7.46" fill="#0e6087"/>
<rect x="914.76" y="273.96" width="21.78" height="7.46" fill="#12b4de"/>
<rect x="936.24" y="273.96" width="21.78" height="7.46" fill="#0e6087"/>
<rect x="957.72" y="273.96" width="43.26" height="7.46" fill="#12b4de"/>
<rect x="1011.42" y="273.96" width="247.32" height="7.46" fill="#12b4de"/>
<rect x="1258.44" y="273.96" width="11.04" height="7.46" fill="#0e6087"/>
<rect x="1269.18" y="273.96" width="13.12" height="7.46" fill="#12b4de"/>
<rect x="657.00" y="281.12" width="21.78" height="7.46" fill="#12b4de"/>
<rect x="678.48" y="281.12" width="32.52" height="7.46" fill="#0e6087"/>
<rect x="710.70" y="281.12" width="11.04" height="7.46" fill="#12b4de"/>
<rect x="721.44" y="281.12" width="11.04" height="7.46" fill="#0e6087"/>
<rect x="732.18" y="281.12" width="21.78" height="7.46" fill="#12b4de"/>
<rect x="753.66" y="281.12" width="11.04" height="7.46" fill="#0e6087"/>
<rect x="764.40" y="281.12" width="32.52" height="7.46" fill="#12b4de"/>
<rect x="796.62" y="281.12" width="21.78" height="7.46" fill="#0e6087"/>
<rect x="839.58" y="281.12" width="96.96" height="7.46" fill="#12b4de"/>
<rect x="936.24" y="281.12" width="21.78" height="7.46" fill="#0e6087"/>
<rect x="957.72" y="281.12" width="182.88" height="7.46" fill="#12b4de"/>
<rect x="1140.30" y="281.12" width="11.04" height="7.46" fill="#0e6087"/>
<rect x="1151.04" y="281.12" width="131.26" height="7.46" fill="#12b4de"/>
<rect x="657.00" y="288.28" width="129.18" height="7.46" fill="#0e6087"/>
<rect x="785.88" y="288.28" width="11.04" height="7.46" fill="#12b4de"/>
<rect x="796.62" y="288.28" width="21.78" height="7.46" fill="#0e6087"/>
<rect x="818.10" y="288.28" width="21.78" height="7.46" fill="#12b4de"/>
<rect x="839.58" y="288.28" width="43.26" height="7.46" fill="#0e6087"/>
<rect x="882.54" y="288.28" width="64.74" height="7.46" fill="#12b4de"/>
<rect x="946.98" y="288.28" width="75.48" height="7.46" fill="#0e6087"/>
<rect x="1022.16" y="288.28" width="75.48" height="7.46" fill="#12b4de"/>
<rect x="1097.34" y="288.28" width="64.74" height="7.46" fill="#0e6087"/>
<rect x="1161.78" y="288.28" width="107.70" height="7.46" fill="#12b4de"/>
<rect x="1269.18" y="288.28" width="11.04" height="7.46" fill="#0e6087"/>
<rect x="1279.92" y="288.28" width="2.38" height="7.46" fill="#12b4de"/>
<rect x="657.00" y="295.44" width="11.04" height="7.46" fill="#0e6087"/>
<rect x="667.74" y="295.44" width="54.00" height="7.46" fill="#12b4de"/>
<rect x="721.44" y="295.44" width="54.00" height="7.46" fill="#0e6087"/>
<rect x="775.14" y="295.44" width="43.26" height="7.46" fill="#12b4de"/>
<rect x="818.10" y="295.44" width="64.74" height="7.46" fill="#0e6087"/>
<rect x="882.54" y="295.44" width="32.52" height="7.46" fill="#12b4de"/>
<rect x="914.76" y="295.44" width="11.04" height="7.46" fill="#0e6087"/>
<rect x="925.50" y="295.44" width="64.74" height="7.46" fill="#12b4de"/>
<rect x="989.94" y="295.44" width="32.52" height="7.46" fill="#0e6087"/>
<rect x="1022.16" y="295.44" width="260.14" height="7.46" fill="#12b4de"/>
<rect x="657.00" y="302.60" width="64.74" height="7.46" fill="#12b4de"/>
<rect x="721.44" y="302.60" width="54.00" height="7.46" fill="#0e6087"/>
<rect x="775.14" y="302.60" width="32.52" height="7.46" fill="#12b4de"/>
<rect x="807.36" y="302.60" width="21.78" height="7.46" fill="#0e6087"/>
<rect x="828.84" y="302.60" width="75.48" height="7.46" fill="#12b4de"/>
<rect x="904.02" y="302.60" width="11.04" height="7.46" fill="#0e6087"/>
<rect x="914.76" y="302.60" width="367.54" height="7.46" fill="#12b4de"/>
<rect x="657.00" y="309.76" width="43.26" height="7.46" fill="#12b4de"/>
<rect x="699.96" y="309.76" width="11.04" height="7.46" fill="#0e6087"/>
<rect x="710.70" y="309.76" width="21.78" height="7.46" fill="#12b4de"/>
<rect x="732.18" y="309.76" width="64.74" height="7.46" fill="#0e6087"/>
<rect x="796.62" y="309.76" width="11.04" height="7.46" fill="#12b4de"/>
<rect x="807.36" y="309.76" width="11.04" height="7.46" fill="#0e6087"/>
<rect x="818.10" y="309.76" width="193.62" height="7.46" fill="#12b4de"/>
<rect x="1011.42" y="309.76" width="43.26" height="7.46" fill="#0e6087"/>
<rect x="1054.38" y="309.76" width="11.04" height="7.46" fill="#12b4de"/>
<rect x="1065.12" y="309.76" width="43.26" height="7.46" fill="#0e6087"/>
<rect x="1108.08" y="309.76" width="32.52" height="7.46" fill="#12b4de"/>
<rect x="1140.30" y="309.76" width="64.74" height="7.46" fill="#0e6087"/>
<rect x="1204.74" y="309.76" width="75.48" height="7.46" fill="#12b4de"/>
<rect x="667.74" y="316.92" width="64.74" height="7.46" fill="#12b4de"/>
<rect x="732.18" y="316.92" width="54.00" height="7.46" fill="#0e6087"/>
<rect x="785.88" y="316.92" width="258.06" height="7.46" fill="#12b4de"/>
<rect x="1043.64" y="316.92" width="21.78" height="7.46" fill="#0e6087"/>
<rect x="1065.12" y="316.92" width="21.78" height="7.46" fill="#12b4de"/>
<rect x="1086.60" y="316.92" width="129.18" height="7.46" fill="#0e6087"/>
<rect x="1215.48" y="316.92" width="64.74" height="7.46" fill="#12b4de"/>
<rect x="667.74" y="324.08" width="54.00" height="7.46" fill="#12b4de"/>
<rect x="721.44" y="324.08" width="54.00" height="7.46" fill="#0e6087"/>
<rect x="775.14" y="324.08" width="215.10" height="7.46" fill="#12b4de"/>
<rect x="989.94" y="324.08" width="225.84" height="7.46" fill="#0e6087"/>
<rect x="1215.48" y="324.08" width="66.82" height="7.46" fill="#12b4de"/>
<rect x="657.00" y="331.24" width="64.74" height="3.06" fill="#12b4de"/>
<rect x="721.44" y="331.24" width="11.04" height="3.06" fill="#0e6087"/>
<rect x="732.18" y="331.24" width="247.32" height="3.06" fill="#12b4de"/>
<rect x="979.20" y="331.24" width="236.58" height="3.06" fill="#0e6087"/>
<rect x="1215.48" y="331.24" width="66.82" height="3.06" fill="#12b4de"/></g>
<path fill="#000" stroke="none" d="M731.3,83.3L734.9,76.7L740.2,72.2L752.8,69.9L770.7,67.8L786.8,64.2L797.5,62.4L807.2,61.3L824.4,60.6L844.1,61.1L840.5,64.2L833.3,66.9L824.4,69.5L819.0,71.7L815.4,74.9L822.6,77.6L829.7,80.3L836.9,83.5L840.5,86.5L847.6,89.6L848.0,91.0L844.1,93.7L841.4,96.4L836.9,97.3L830.6,95.5L826.2,94.1L819.0,93.7L813.6,90.1L808.3,87.4L801.1,86.4L793.9,85.7L788.6,86.9L779.6,87.4L770.7,86.4L761.7,86.9L752.8,86.5L743.8,85.1L736.7,84.6L731.3,83.3ZM978.3,68.6L980.1,66.5L987.3,66.0L991.7,65.4L998.0,65.4L1006.9,65.6L1003.4,67.2L998.0,68.6L992.6,70.8L987.3,71.9L983.7,71.0L978.3,68.6ZM1042.7,65.4L1051.7,64.5L1062.4,63.3L1069.6,64.2L1073.2,65.1L1062.4,66.0L1048.1,66.1L1042.7,65.4ZM1130.5,68.6L1137.6,66.5L1144.8,66.9L1137.6,64.2L1130.5,65.1L1130.5,68.6ZM1203.8,74.9L1209.2,73.1L1214.6,73.1L1225.3,74.4L1220.0,75.3L1212.8,77.1L1203.8,74.9ZM1174.5,176.0L1177.4,176.0L1177.0,179.6L1176.1,183.6L1180.6,185.9L1179.3,184.5L1174.5,183.2L1173.4,179.6L1174.5,176.0ZM1177.0,196.6L1180.6,194.8L1183.3,191.6L1185.2,196.1L1183.3,198.8L1180.6,197.5L1177.0,196.6ZM1178.8,188.6L1180.6,187.1L1183.3,186.8L1183.3,190.4L1181.5,191.3L1179.3,192.5L1177.9,190.4L1178.8,188.6ZM1051.7,81.2L1054.4,78.5L1057.1,77.6L1058.9,75.8L1060.6,74.0L1066.0,72.8L1069.6,72.2L1081.2,71.5L1076.8,73.1L1071.4,74.0L1066.0,75.6L1062.4,76.7L1058.9,79.4L1058.9,80.3L1062.4,82.4L1057.1,82.8L1053.5,82.6L1051.7,81.2Z"/>
<path fill="none" stroke="#000" stroke-width="4.9" stroke-linejoin="round" stroke-linecap="round" d="M657.9,91.7L661.5,90.7L667.6,89.4L664.2,88.2L660.0,86.9L661.5,85.8L666.8,84.2L672.2,82.8L677.9,81.5L686.5,82.3L692.8,83.3L699.1,83.7L706.2,84.6L713.4,85.7L717.0,84.8L722.3,84.6L727.7,83.9L729.5,82.8L733.1,84.8L736.7,84.8L742.0,84.2L749.2,85.7L754.6,86.9L761.7,87.4L767.1,86.7L772.5,87.4L779.6,87.8L783.2,86.5L786.8,87.4L788.6,84.8L790.4,80.5L793.9,82.1L796.6,85.7L801.1,86.5L805.6,84.2L811.8,84.8L812.7,86.5L808.3,89.2L804.7,90.1L802.9,93.7L797.5,94.6L793.9,97.3L790.4,100.0L789.5,103.6L792.1,104.1L793.0,107.1L797.5,107.1L802.0,109.8L806.5,110.2L811.3,110.5L811.5,114.3L813.6,116.1L816.3,117.0L817.4,115.2L817.2,111.6L820.8,108.0L821.3,105.3L819.0,102.7L819.9,100.9L819.0,97.5L824.4,97.6L827.9,97.8L831.5,99.6L834.2,100.9L834.2,103.9L837.8,104.8L840.5,103.9L843.2,101.2L845.0,104.4L847.6,106.2L849.4,108.9L851.2,110.2L854.8,112.1L857.5,114.3L858.7,116.4L856.6,117.2L851.2,119.3L844.1,119.3L839.6,119.3L836.0,121.1L832.4,124.7L835.1,123.2L840.5,121.5L843.2,121.8L842.3,123.6L842.6,125.4L843.5,126.5L847.6,127.2L849.4,127.5L851.2,126.8L849.4,128.3L845.0,129.3L841.4,131.1L840.1,129.5L843.2,128.1L839.6,128.3L836.9,129.7L833.3,130.9L832.4,133.1L833.3,134.5L830.6,135.1L827.0,136.0L826.2,136.5L826.2,138.5L824.7,139.5L823.5,140.8L822.6,142.9L823.5,146.2L821.7,147.2L819.0,148.5L816.8,149.9L813.6,151.9L813.1,155.5L814.3,158.7L815.4,161.7L814.7,164.1L813.6,164.1L812.2,162.4L810.8,159.9L810.4,157.3L808.3,155.5L805.9,156.0L804.7,154.7L802.0,154.9L799.3,154.9L798.8,157.1L796.6,157.1L793.9,156.2L790.4,156.0L788.6,156.9L785.9,158.5L784.4,159.8L784.1,163.0L783.7,166.2L783.6,169.8L784.6,172.1L786.4,174.8L789.5,176.6L793.0,175.9L795.7,175.7L796.4,173.7L796.8,171.6L800.2,170.7L802.9,170.7L802.3,172.8L801.6,176.0L800.7,177.8L800.6,180.5L802.9,180.9L806.5,180.5L809.5,182.3L809.1,185.9L808.8,188.6L810.0,191.3L812.7,193.1L815.4,192.5L817.2,192.0L819.9,193.4L820.2,194.5L819.7,195.6L818.5,194.3L817.2,193.1L815.8,193.9L814.5,195.9L812.7,194.8L810.4,194.5L808.3,192.3L805.2,191.3L805.0,189.1L802.9,186.8L802.0,185.5L798.4,185.0L794.8,184.1L792.1,181.4L789.5,180.3L785.9,181.1L782.3,180.0L779.6,178.7L776.0,177.3L771.9,175.0L769.8,173.4L770.1,170.7L769.2,168.7L767.4,167.1L765.3,164.4L762.8,162.3L760.8,159.4L757.8,157.4L756.3,154.4L753.1,152.2L753.7,154.9L755.8,157.8L758.1,160.8L759.4,163.0L760.8,166.0L761.9,168.0L761.2,167.1L759.0,165.3L757.8,162.8L755.5,161.2L754.0,159.4L753.1,156.4L751.0,154.6L749.9,152.6L749.0,151.0L747.8,149.0L746.5,148.3L744.7,147.6L742.7,147.2L742.2,145.6L740.4,143.6L739.3,141.9L738.4,140.8L737.2,139.4L736.1,136.8L736.5,134.3L735.8,132.2L736.7,128.6L736.7,126.3L735.4,122.5L738.1,122.9L738.8,121.5L736.7,120.0L734.0,118.8L730.4,117.9L729.5,115.5L725.9,112.5L725.0,110.7L722.3,108.0L719.6,106.2L716.1,104.4L712.5,104.1L708.6,102.1L704.4,101.8L700.9,101.8L696.4,100.3L692.8,100.9L690.1,102.5L686.9,103.2L687.4,100.9L690.1,99.6L685.6,100.9L683.9,102.7L683.0,103.6L683.9,104.8L681.2,105.7L678.5,107.1L674.9,108.9L671.3,109.8L667.7,110.7L663.6,111.6L666.8,110.7L670.4,108.9L674.0,106.2L676.5,104.1L673.1,103.9L668.6,104.3L668.6,102.1L665.1,101.8L662.9,100.3L662.4,98.7L661.5,97.3L664.2,96.0L666.8,96.2L670.4,94.1L670.4,93.5L666.8,93.5L661.5,93.7L660.4,92.5L657.9,91.7M1302.3,91.7L1305.9,90.7L1312.0,89.4L1308.6,88.2L1304.4,86.9L1305.9,85.8L1311.2,84.2L1316.6,82.8L1322.3,81.5L1330.9,82.3L1337.2,83.3L1343.5,83.7L1350.6,84.6L1357.8,85.7L1361.4,84.8L1366.7,84.6L1372.1,83.9L1373.9,82.8L1377.5,84.8L1381.1,84.8L1386.4,84.2L1393.6,85.7L1399.0,86.9L1406.1,87.4L1411.5,86.7L1416.9,87.4L1424.0,87.8L1427.6,86.5L1431.2,87.4L1433.0,84.8L1434.8,80.5L1438.3,82.1L1441.0,85.7L1445.5,86.5L1450.0,84.2L1456.2,84.8L1457.1,86.5L1452.7,89.2L1449.1,90.1L1447.3,93.7L1441.9,94.6L1438.3,97.3L1434.8,100.0L1433.9,103.6L1436.5,104.1L1437.4,107.1L1441.9,107.1L1446.4,109.8L1450.9,110.2L1455.7,110.5L1455.9,114.3L1458.0,116.1L1460.7,117.0L1461.8,115.2L1461.6,111.6L1465.2,108.0L1465.7,105.3L1463.4,102.7L1464.3,100.9L1463.4,97.5L1468.8,97.6L1472.3,97.8L1475.9,99.6L1478.6,100.9L1478.6,103.9L1482.2,104.8L1484.9,103.9L1487.6,101.2L1489.3,104.4L1492.0,106.2L1493.8,108.9L1495.6,110.2L1499.2,112.1L1501.9,114.3L1503.1,116.4L1501.0,117.2L1495.6,119.3L1488.5,119.3L1484.0,119.3L1480.4,121.1L1476.8,124.7L1479.5,123.2L1484.9,121.5L1487.6,121.8L1486.7,123.6L1487.0,125.4L1487.9,126.5L1492.0,127.2L1493.8,127.5L1495.6,126.8L1493.8,128.3L1489.3,129.3L1485.8,131.1L1484.5,129.5L1487.6,128.1L1484.0,128.3L1481.3,129.7L1477.7,130.9L1476.8,133.1L1477.7,134.5L1475.0,135.1L1471.5,136.0L1470.6,136.5L1470.6,138.5L1469.1,139.5L1467.9,140.8L1467.0,142.9L1467.9,146.2L1466.1,147.2L1463.4,148.5L1461.2,149.9L1458.0,151.9L1457.5,155.5L1458.7,158.7L1459.8,161.7L1459.1,164.1L1458.0,164.1L1456.6,162.4L1455.2,159.9L1454.8,157.3L1452.7,155.5L1450.3,156.0L1449.1,154.7L1446.4,154.9L1443.7,154.9L1443.2,157.1L1441.0,157.1L1438.3,156.2L1434.8,156.0L1433.0,156.9L1430.3,158.5L1428.8,159.8L1428.5,163.0L1428.1,166.2L1428.0,169.8L1429.0,172.1L1430.8,174.8L1433.9,176.6L1437.4,175.9L1440.1,175.7L1440.8,173.7L1441.2,171.6L1444.6,170.7L1447.3,170.7L1446.7,172.8L1446.0,176.0L1445.1,177.8L1445.0,180.5L1447.3,180.9L1450.9,180.5L1453.9,182.3L1453.6,185.9L1453.2,188.6L1454.4,191.3L1457.1,193.1L1459.8,192.5L1461.6,192.0L1464.3,193.4L1464.6,194.5L1464.1,195.6L1462.9,194.3L1461.6,193.1L1460.2,193.9L1458.9,195.9L1457.1,194.8L1454.8,194.5L1452.7,192.3L1449.6,191.3L1449.4,189.1L1447.3,186.8L1446.4,185.5L1442.8,185.0L1439.2,184.1L1436.5,181.4L1433.9,180.3L1430.3,181.1L1426.7,180.0L1424.0,178.7L1420.4,177.3L1416.3,175.0L1414.2,173.4L1414.5,170.7L1413.6,168.7L1411.8,167.1L1409.7,164.4L1407.2,162.3L1405.2,159.4L1402.2,157.4L1400.7,154.4L1397.5,152.2L1398.1,154.9L1400.2,157.8L1402.5,160.8L1403.8,163.0L1405.2,166.0L1406.3,168.0L1405.6,167.1L1403.4,165.3L1402.2,162.8L1399.8,161.2L1398.4,159.4L1397.5,156.4L1395.4,154.6L1394.3,152.6L1393.4,151.0L1392.2,149.0L1390.9,148.3L1389.1,147.6L1387.1,147.2L1386.6,145.6L1384.8,143.6L1383.7,141.9L1382.8,140.8L1381.6,139.4L1380.5,136.8L1380.9,134.3L1380.2,132.2L1381.1,128.6L1381.1,126.3L1379.8,122.5L1382.5,122.9L1383.2,121.5L1381.1,120.0L1378.4,118.8L1374.8,117.9L1373.9,115.5L1370.3,112.5L1369.4,110.7L1366.7,108.0L1364.1,106.2L1360.5,104.4L1356.9,104.1L1353.0,102.1L1348.8,101.8L1345.3,101.8L1340.8,100.3L1337.2,100.9L1334.5,102.5L1331.3,103.2L1331.8,100.9L1334.5,99.6L1330.0,100.9L1328.2,102.7L1327.4,103.6L1328.2,104.8L1325.6,105.7L1322.9,107.1L1319.3,108.9L1315.7,109.8L1312.1,110.7L1308.0,111.6L1311.2,110.7L1314.8,108.9L1318.4,106.2L1320.9,104.1L1317.5,103.9L1313.0,104.3L1313.0,102.1L1309.5,101.8L1307.3,100.3L1306.8,98.7L1305.9,97.3L1308.6,96.0L1311.2,96.2L1314.8,94.1L1314.8,93.5L1311.2,93.5L1305.9,93.7L1304.8,92.5L1302.3,91.7M827.9,69.2L836.9,66.9L844.1,64.2L856.6,62.0L878.1,61.0L896.0,59.7L913.9,60.2L922.8,61.5L926.4,63.3L937.1,63.1L930.0,65.4L926.4,67.8L923.7,71.3L925.5,74.0L922.8,75.8L920.1,79.4L919.2,82.1L915.7,83.9L912.1,86.4L904.9,87.1L901.3,87.4L895.1,91.0L890.6,91.6L887.0,92.8L885.2,95.5L882.5,98.2L881.6,100.9L879.3,101.8L876.3,100.3L872.7,100.0L870.0,97.3L868.2,94.6L865.5,92.3L862.9,90.1L862.5,87.4L864.6,86.2L862.0,84.8L867.3,83.0L862.0,82.1L860.2,81.2L858.4,78.5L856.6,75.8L853.9,74.0L849.4,72.9L840.5,72.9L835.1,72.2L830.6,71.0L827.9,69.2M848.0,89.9L845.0,92.8L842.3,94.1L841.4,96.4L836.9,97.3L830.6,95.5L827.0,93.7L822.6,94.1L819.0,93.7L824.4,91.9L827.0,90.1L827.9,88.7L822.6,87.1L817.2,85.3L811.8,84.2L806.5,83.5L800.2,82.6L798.4,81.2L803.8,79.4L806.5,77.2L815.4,77.2L822.6,79.0L827.9,80.3L831.5,82.1L836.0,83.0L838.7,84.8L839.6,86.9L845.8,88.9L848.0,89.9M824.4,72.2L815.4,72.6L806.5,72.2L799.3,71.3L802.0,69.5L793.9,66.9L790.4,64.2L806.5,62.4L824.4,61.0L842.3,60.6L849.4,61.5L840.5,64.2L833.3,66.0L824.4,67.8L819.0,70.4L824.4,72.2M797.5,67.8L787.7,65.1L793.9,63.8L802.9,66.0L797.5,67.8M815.4,75.8L804.7,75.8L793.9,75.3L786.8,72.6L793.9,71.7L801.1,72.0L811.8,73.5L815.4,75.8M748.3,83.9L749.2,81.4L752.8,79.6L758.1,78.5L765.3,78.8L769.8,78.5L771.6,80.8L777.8,82.6L775.1,85.1L768.9,85.3L764.4,86.4L756.3,86.5L749.2,85.7L748.3,83.9M734.9,80.6L735.8,77.6L740.2,75.8L747.4,76.3L751.0,77.6L751.9,79.7L745.6,81.4L741.1,81.5L734.9,80.6M749.2,73.1L758.1,72.4L770.7,73.3L768.0,75.3L761.7,75.8L756.3,75.8L749.2,74.6L749.2,73.1M772.5,72.2L783.2,71.7L784.1,74.6L779.6,75.3L772.5,74.6L772.5,72.2M785.0,81.2L779.6,80.3L776.0,79.0L776.9,77.1L784.1,76.7L785.9,78.8L785.0,81.2M790.4,80.3L787.7,78.5L787.7,76.7L796.6,76.7L795.7,78.5L792.1,80.3L790.4,80.3M785.0,86.5L781.4,85.7L784.1,84.2L786.8,84.8L785.0,86.5M804.7,95.0L813.6,94.1L814.5,95.5L809.1,96.8L803.8,95.0L802.9,93.7L804.7,91.9L807.4,92.3L804.7,95.0M852.5,124.0L858.4,124.0L862.9,125.6L864.1,124.1L862.9,122.3L862.9,120.6L859.3,119.8L859.3,117.0L856.6,118.8L853.9,121.5L852.5,124.0M918.3,94.6L915.7,91.9L919.2,90.3L925.5,90.7L930.0,90.1L932.7,90.8L934.5,92.5L931.8,94.1L925.5,95.7L921.0,95.0L918.3,94.6M820.2,194.5L821.1,193.8L823.5,190.4L826.2,189.1L828.8,188.0L830.6,187.0L831.2,189.5L830.3,190.5L831.5,189.5L833.3,187.3L836.0,189.1L836.9,190.4L840.5,190.2L844.1,190.4L847.6,190.0L849.4,191.3L850.3,193.9L852.1,194.8L854.8,197.0L856.6,198.4L860.2,198.4L863.7,199.1L865.5,200.2L867.3,202.0L868.2,205.6L869.1,207.4L868.8,209.2L871.8,210.6L874.5,210.2L878.1,211.8L879.9,213.6L883.4,214.0L887.0,214.2L889.7,215.8L892.4,217.8L895.6,218.6L896.1,223.5L895.4,226.2L892.4,228.9L890.6,231.5L889.7,232.4L888.8,236.0L888.8,240.5L887.6,244.1L886.1,246.8L885.2,248.5L883.4,250.3L879.9,250.3L878.1,251.6L875.4,252.1L872.7,254.4L871.8,256.2L871.6,260.2L869.1,262.9L867.3,264.7L865.0,266.8L863.7,269.5L861.4,271.3L858.4,271.6L856.2,270.7L854.3,270.0L856.6,272.7L855.7,274.5L855.7,277.5L852.1,278.6L847.6,279.0L847.1,282.2L842.3,282.6L844.1,284.9L845.0,285.2L842.3,286.1L841.7,288.8L837.8,291.5L837.8,292.4L840.8,294.7L837.8,297.4L836.4,299.0L835.1,301.5L836.0,302.8L837.8,305.5L841.4,307.3L839.9,307.6L838.1,309.2L835.1,308.5L832.4,307.6L828.8,305.8L827.0,303.7L825.3,301.3L823.5,296.9L825.3,293.3L823.5,292.4L826.2,289.7L827.0,287.0L826.2,284.3L826.7,280.8L827.0,276.3L828.8,271.8L830.1,268.2L830.6,262.9L831.0,259.3L832.1,253.9L832.4,250.3L833.0,245.9L832.8,242.3L830.6,240.5L827.9,238.7L824.4,236.5L822.0,233.9L820.8,230.6L819.0,228.0L816.3,222.6L813.6,219.9L813.1,217.4L814.9,215.2L815.4,213.6L813.8,213.1L814.5,211.0L815.4,208.3L817.2,206.5L818.1,204.7L819.9,202.4L820.1,198.4L819.7,195.6M806.6,170.0L810.0,168.2L811.8,167.8L814.9,168.0L817.2,168.9L819.9,170.3L823.1,171.6L825.8,173.0L822.9,173.5L819.9,173.5L820.8,172.5L818.1,170.7L814.5,169.8L812.2,169.4L809.1,169.8L806.6,170.0M825.4,176.0L828.5,173.5L831.5,173.5L834.2,174.6L836.2,175.9L833.3,176.6L831.2,177.7L828.8,176.6L825.4,176.4L825.4,176.0M818.5,176.2L822.0,176.6L821.1,177.1L818.6,176.6L818.5,176.2M838.3,176.0L841.2,176.2L841.0,176.9L838.3,176.9L838.3,176.0M1017.0,155.6L1020.0,159.4L1021.3,156.4L1021.4,158.9L1024.0,162.6L1025.2,164.4L1027.0,167.1L1028.4,170.7L1030.2,173.4L1032.0,176.0L1033.8,179.6L1035.0,181.1L1036.3,186.6L1039.2,186.2L1042.7,185.0L1045.4,184.1L1049.0,182.3L1051.7,181.2L1054.4,179.6L1057.1,178.7L1058.9,177.3L1060.6,175.3L1062.1,174.3L1063.3,172.6L1065.7,169.1L1063.9,167.1L1060.6,166.2L1059.6,165.1L1059.4,162.1L1058.0,163.5L1055.3,165.8L1052.6,165.8L1051.0,165.8L1050.8,163.5L1049.9,162.6L1049.0,163.5L1048.1,162.3L1047.2,160.8L1045.6,159.0L1044.5,155.6L1046.3,154.9L1048.5,155.8L1049.5,158.0L1050.8,159.2L1053.5,160.8L1055.3,161.4L1058.0,161.5L1059.8,160.7L1061.5,163.2L1065.1,163.7L1068.7,164.1L1073.2,163.9L1077.7,163.7L1078.5,164.8L1080.3,166.6L1081.2,167.1L1083.0,168.4L1083.9,168.0L1084.5,168.9L1081.9,169.2L1082.5,170.5L1083.9,171.6L1085.7,172.1L1088.0,171.0L1088.6,170.7L1088.9,173.4L1088.9,175.2L1089.3,177.8L1090.7,181.4L1092.0,184.1L1092.9,186.8L1094.1,189.1L1095.2,191.6L1096.1,193.4L1097.3,194.7L1098.6,193.2L1100.0,192.5L1100.6,190.7L1101.5,190.7L1101.6,187.7L1102.4,185.9L1102.2,181.4L1103.6,180.7L1105.9,179.4L1108.1,177.3L1110.8,174.3L1113.5,173.0L1114.2,171.6L1115.2,170.5L1117.0,170.3L1117.9,169.8L1119.7,170.0L1120.8,168.7L1122.9,169.1L1123.8,172.1L1125.1,173.7L1127.8,175.2L1127.4,179.6L1129.2,180.9L1131.3,179.1L1133.5,179.6L1133.3,182.3L1134.4,185.0L1134.9,187.7L1134.6,191.3L1134.9,194.5L1134.6,195.2L1136.7,197.5L1138.2,200.2L1138.9,202.9L1139.9,204.2L1142.1,205.8L1143.9,206.8L1145.1,206.7L1144.4,204.2L1143.7,201.1L1141.6,198.1L1140.3,197.0L1138.3,196.1L1137.6,193.9L1136.2,191.3L1136.5,188.6L1137.6,186.2L1138.5,185.0L1139.2,186.4L1140.8,186.4L1143.0,188.6L1143.9,190.2L1145.7,190.5L1146.6,190.4L1146.2,193.8L1147.5,193.1L1149.2,192.2L1150.1,190.5L1152.8,189.1L1154.1,187.7L1154.1,185.0L1153.5,181.8L1151.9,180.0L1150.1,179.1L1148.7,177.3L1147.8,175.7L1149.4,173.0L1151.0,170.7L1152.8,170.5L1155.0,170.7L1155.5,172.8L1156.4,171.2L1157.3,170.9L1160.0,170.1L1162.7,169.2L1165.4,168.4L1168.0,167.1L1170.7,165.3L1172.7,163.5L1172.9,161.5L1174.3,160.5L1176.1,159.0L1177.0,155.8L1176.1,154.0L1176.8,153.3L1175.2,151.9L1174.3,150.1L1172.0,147.2L1172.5,145.6L1174.3,144.7L1176.1,143.5L1177.9,142.4L1176.1,142.0L1174.3,141.7L1172.3,142.8L1170.7,141.1L1169.5,140.1L1169.1,139.0L1170.7,139.0L1172.5,137.9L1174.3,136.7L1175.6,136.0L1177.4,136.8L1176.1,138.5L1176.6,139.4L1177.9,138.5L1179.7,137.9L1181.8,138.3L1182.9,138.6L1182.4,140.2L1182.4,141.7L1185.0,142.9L1184.7,145.6L1184.7,147.4L1186.8,147.2L1188.6,146.5L1190.1,146.0L1190.2,144.7L1190.2,142.9L1188.6,140.6L1187.7,138.3L1186.8,137.9L1190.4,135.8L1190.8,134.9L1192.6,133.4L1194.0,132.7L1195.8,131.8L1197.6,132.6L1200.3,130.9L1203.0,129.0L1205.6,126.8L1206.5,125.0L1209.2,123.2L1210.1,122.3L1211.7,119.7L1211.7,117.0L1211.0,114.3L1209.2,113.4L1206.5,112.5L1204.7,111.6L1203.8,112.5L1200.6,111.2L1203.8,108.9L1207.4,106.6L1210.1,105.3L1212.8,103.6L1214.6,102.8L1219.1,102.8L1223.5,103.0L1226.2,102.3L1230.7,103.2L1234.3,103.0L1236.1,102.1L1237.9,98.9L1241.4,98.5L1245.0,98.7L1250.4,98.2L1245.9,100.9L1241.4,105.3L1238.8,106.2L1237.9,108.9L1237.3,112.5L1238.4,115.2L1239.1,117.9L1241.4,116.1L1242.3,115.2L1244.7,113.8L1245.0,112.5L1248.2,110.9L1248.6,108.4L1250.9,108.0L1249.5,105.9L1251.3,104.4L1251.3,101.9L1254.0,101.4L1255.8,101.8L1257.5,101.0L1262.9,101.8L1266.5,100.3L1268.3,100.0L1271.9,98.2L1276.3,97.3L1279.0,97.3L1279.4,96.2L1282.6,94.6L1284.4,93.2L1288.0,93.7L1291.6,93.9L1293.3,92.8L1296.9,91.9L1299.3,90.8L1295.1,89.6L1291.6,89.2L1286.2,88.3L1282.6,86.5L1280.8,85.8L1273.7,84.2L1268.3,84.0L1262.9,83.9L1257.5,84.4L1252.2,84.4L1246.8,84.6L1243.2,82.4L1236.1,82.1L1230.7,82.3L1227.1,81.2L1220.0,79.7L1214.6,79.0L1207.4,81.2L1202.1,81.2L1194.9,81.7L1192.2,82.4L1190.4,80.3L1187.7,78.7L1185.9,77.6L1180.6,77.2L1175.2,78.7L1169.8,77.6L1166.3,77.4L1161.8,77.6L1159.1,77.2L1156.4,76.7L1157.3,77.6L1153.7,77.8L1150.1,78.1L1148.4,77.6L1151.9,76.7L1159.1,73.8L1161.8,72.8L1155.5,71.3L1150.1,71.7L1145.3,70.1L1139.4,72.2L1134.0,72.6L1128.7,73.1L1119.7,74.0L1116.1,74.9L1113.5,75.8L1112.6,77.1L1114.3,77.6L1113.5,78.8L1109.0,79.4L1103.6,79.7L1102.7,77.6L1098.2,79.6L1094.7,81.2L1092.9,79.4L1091.1,78.5L1090.2,78.8L1088.9,79.9L1088.9,82.4L1088.4,84.8L1090.2,86.5L1089.3,89.2L1087.5,90.1L1085.7,89.4L1084.8,90.1L1082.1,89.8L1083.9,86.5L1081.2,86.5L1079.4,85.3L1077.7,83.0L1079.4,81.5L1081.2,79.4L1083.0,77.6L1085.7,78.1L1087.5,78.8L1088.4,80.3L1086.6,82.1L1088.4,81.2L1082.1,83.0L1081.2,84.2L1078.5,85.7L1076.8,85.1L1073.2,85.1L1067.8,84.2L1064.2,86.5L1060.6,86.5L1056.2,86.9L1053.5,86.5L1048.1,87.4L1041.0,87.6L1037.4,86.5L1036.5,88.0L1037.4,90.8L1033.8,90.1L1031.1,90.7L1030.2,93.5L1026.6,94.2L1024.8,95.0L1021.3,94.2L1020.9,93.7L1023.1,91.9L1018.6,90.1L1021.3,90.7L1026.6,91.0L1032.0,90.7L1032.0,88.3L1028.4,87.4L1024.0,85.7L1017.7,85.1L1014.1,83.3L1010.5,83.9L1010.0,82.3L1004.8,81.9L1000.7,82.4L996.2,83.5L992.6,84.2L989.0,85.7L987.3,86.4L984.6,87.4L983.7,88.3L981.0,91.0L980.1,92.8L977.8,93.3L976.5,94.6L973.8,95.5L971.1,96.4L967.9,97.8L967.6,100.0L967.6,101.8L968.6,104.1L970.2,105.3L972.9,105.2L975.6,103.6L977.6,103.2L978.3,103.6L979.7,105.3L981.0,107.1L981.5,109.6L984.2,109.8L987.3,108.6L988.2,106.2L988.2,104.4L991.7,103.2L992.1,101.8L989.2,100.0L989.9,97.5L993.5,95.5L997.1,93.7L998.0,91.9L1001.6,91.4L1003.9,92.8L1002.5,93.7L998.9,95.5L997.1,97.3L997.1,100.0L998.9,101.4L1001.6,101.4L1005.2,101.0L1008.7,100.9L1012.3,101.8L1008.7,102.7L1005.2,102.7L1001.6,102.8L1000.7,104.4L1002.3,105.5L1001.6,106.8L1000.7,106.8L998.0,106.1L996.2,107.5L996.2,110.4L994.4,111.1L991.7,111.1L987.3,112.0L984.6,112.5L981.9,111.6L978.3,112.5L976.5,111.6L976.2,110.7L977.1,108.6L977.4,105.9L973.3,107.5L974.0,109.8L974.0,112.7L971.1,113.2L967.6,113.8L966.7,115.2L964.9,117.2L963.1,117.7L961.5,119.3L959.0,120.6L956.1,120.2L955.9,122.0L953.2,121.8L950.6,122.2L950.2,123.2L954.1,124.5L956.5,126.8L956.5,129.5L955.4,131.5L953.2,131.5L949.7,131.3L944.3,130.9L942.0,132.2L942.7,133.1L943.0,135.8L941.6,139.4L942.9,139.9L942.7,142.9L945.4,142.6L947.3,143.3L948.6,144.7L950.7,143.5L954.9,143.5L956.8,141.9L958.1,140.2L958.6,138.5L960.2,135.8L964.3,134.2L964.3,131.8L967.6,131.7L970.2,132.0L972.0,130.8L974.4,129.7L976.5,130.4L977.4,132.2L978.3,133.1L981.0,134.7L984.0,136.1L986.5,137.6L986.7,141.1L988.2,139.4L989.0,138.5L989.0,136.7L991.7,137.4L990.8,136.5L987.3,134.9L984.6,133.6L983.3,133.1L980.6,129.9L980.6,128.1L983.0,127.4L983.0,128.3L984.6,128.3L986.4,130.4L989.0,131.7L991.7,133.1L993.5,134.0L993.3,136.7L994.4,138.1L996.4,140.6L997.1,143.3L998.9,143.8L999.8,142.0L999.8,141.1L1001.6,140.8L999.4,138.5L999.4,136.7L1001.6,136.1L1005.2,136.1L1006.0,136.7L1005.5,137.7L1006.0,140.2L1007.3,142.0L1008.7,143.3L1013.2,144.0L1016.8,144.5L1020.4,143.3L1023.1,143.8L1022.7,145.6L1022.2,147.4L1021.3,150.4L1020.0,153.1L1016.4,153.1M372.6,155.6L375.6,159.4L376.9,156.4L377.0,158.9L379.6,162.6L380.8,164.4L382.6,167.1L384.0,170.7L385.8,173.4L387.6,176.0L389.4,179.6L390.6,181.1L391.9,186.6L394.8,186.2L398.3,185.0L401.0,184.1L404.6,182.3L407.3,181.2L410.0,179.6L412.7,178.7L414.5,177.3L416.2,175.3L417.7,174.3L418.9,172.6L421.3,169.1L419.5,167.1L416.2,166.2L415.2,165.1L415.0,162.1L413.6,163.5L410.9,165.8L408.2,165.8L406.6,165.8L406.4,163.5L405.5,162.6L404.6,163.5L403.7,162.3L402.8,160.8L401.2,159.0L400.1,155.6L401.9,154.9L404.1,155.8L405.1,158.0L406.4,159.2L409.1,160.8L410.9,161.4L413.6,161.5L415.4,160.7L417.1,163.2L420.7,163.7L424.3,164.1L428.8,163.9L433.2,163.7L434.1,164.8L435.9,166.6L436.8,167.1L438.6,168.4L439.5,168.0L440.1,168.9L437.5,169.2L438.1,170.5L439.5,171.6L441.3,172.1L443.6,171.0L444.2,170.7L444.5,173.4L444.5,175.2L444.9,177.8L446.3,181.4L447.6,184.1L448.5,186.8L449.7,189.1L450.8,191.6L451.7,193.4L452.9,194.7L454.2,193.2L455.6,192.5L456.2,190.7L457.1,190.7L457.2,187.7L458.0,185.9L457.8,181.4L459.2,180.7L461.5,179.4L463.7,177.3L466.4,174.3L469.0,173.0L469.8,171.6L470.8,170.5L472.6,170.3L473.5,169.8L475.3,170.0L476.4,168.7L478.5,169.1L479.4,172.1L480.7,173.7L483.4,175.2L483.0,179.6L484.8,180.9L486.9,179.1L489.1,179.6L488.9,182.3L490.0,185.0L490.5,187.7L490.2,191.3L490.5,194.5L490.2,195.2L492.3,197.5L493.8,200.2L494.5,202.9L495.5,204.2L497.7,205.8L499.5,206.8L500.7,206.7L500.0,204.2L499.3,201.1L497.2,198.1L495.9,197.0L493.9,196.1L493.2,193.9L491.8,191.3L492.1,188.6L493.2,186.2L494.1,185.0L494.8,186.4L496.4,186.4L498.6,188.6L499.5,190.2L501.3,190.5L502.2,190.4L501.8,193.8L503.1,193.1L504.9,192.2L505.7,190.5L508.4,189.1L509.7,187.7L509.7,185.0L509.1,181.8L507.5,180.0L505.7,179.1L504.3,177.3L503.4,175.7L505.0,173.0L506.6,170.7L508.4,170.5L510.6,170.7L511.1,172.8L512.0,171.2L512.9,170.9L515.6,170.1L518.3,169.2L521.0,168.4L523.6,167.1L526.3,165.3L528.3,163.5L528.5,161.5L529.9,160.5L531.7,159.0L532.6,155.8L531.7,154.0L532.4,153.3L530.8,151.9L529.9,150.1L527.6,147.2L528.1,145.6L529.9,144.7L531.7,143.5L533.5,142.4L531.7,142.0L529.9,141.7L527.9,142.8L526.3,141.1L525.1,140.1L524.7,139.0L526.3,139.0L528.1,137.9L529.9,136.7L531.2,136.0L533.0,136.8L531.7,138.5L532.2,139.4L533.5,138.5L535.3,137.9L537.4,138.3L538.5,138.6L538.0,140.2L538.0,141.7L540.6,142.9L540.3,145.6L540.3,147.4L542.4,147.2L544.2,146.5L545.7,146.0L545.8,144.7L545.8,142.9L544.2,140.6L543.3,138.3L542.4,137.9L546.0,135.8L546.4,134.9L548.2,133.4L549.6,132.7L551.4,131.8L553.2,132.6L555.9,130.9L558.5,129.0L561.2,126.8L562.1,125.0L564.8,123.2L565.7,122.3L567.3,119.7L567.3,117.0L566.6,114.3L564.8,113.4L562.1,112.5L560.3,111.6L559.4,112.5L556.2,111.2L559.4,108.9L563.0,106.6L565.7,105.3L568.4,103.6L570.2,102.8L574.7,102.8L579.1,103.0L581.8,102.3L586.3,103.2L589.9,103.0L591.7,102.1L593.5,98.9L597.0,98.5L600.6,98.7L606.0,98.2L601.5,100.9L597.0,105.3L594.4,106.2L593.5,108.9L592.9,112.5L594.0,115.2L594.7,117.9L597.0,116.1L597.9,115.2L600.3,113.8L600.6,112.5L603.8,110.9L604.2,108.4L606.5,108.0L605.1,105.9L606.9,104.4L606.9,101.9L609.6,101.4L611.4,101.8L613.1,101.0L618.5,101.8L622.1,100.3L623.9,100.0L627.5,98.2L631.9,97.3L634.6,97.3L635.0,96.2L638.2,94.6L640.0,93.2L643.6,93.7L647.2,93.9L648.9,92.8L652.5,91.9L654.9,90.8L650.7,89.6L647.2,89.2L641.8,88.3L638.2,86.5L636.4,85.8L629.3,84.2L623.9,84.0L618.5,83.9L613.1,84.4L607.8,84.4L602.4,84.6L598.8,82.4L591.7,82.1L586.3,82.3L582.7,81.2L575.6,79.7L570.2,79.0L563.0,81.2L557.7,81.2L550.5,81.7L547.8,82.4L546.0,80.3L543.3,78.7L541.5,77.6L536.2,77.2L530.8,78.7L525.4,77.6L521.9,77.4L517.4,77.6L514.7,77.2L512.0,76.7L512.9,77.6L509.3,77.8L505.7,78.1L504.0,77.6L507.5,76.7L514.7,73.8L517.4,72.8L511.1,71.3L505.7,71.7L500.9,70.1L495.0,72.2L489.6,72.6L484.3,73.1L475.3,74.0L471.7,74.9L469.0,75.8L468.2,77.1L469.9,77.6L469.0,78.8L464.6,79.4L459.2,79.7L458.3,77.6L453.8,79.6L450.3,81.2L448.5,79.4L446.7,78.5L445.8,78.8L444.5,79.9L444.5,82.4L444.0,84.8L445.8,86.5L444.9,89.2L443.1,90.1L441.3,89.4L440.4,90.1L437.7,89.8L439.5,86.5L436.8,86.5L435.0,85.3L433.2,83.0L435.0,81.5L436.8,79.4L438.6,77.6L441.3,78.1L443.1,78.8L444.0,80.3L442.2,82.1L444.0,81.2L437.7,83.0L436.8,84.2L434.1,85.7L432.4,85.1L428.8,85.1L423.4,84.2L419.8,86.5L416.2,86.5L411.8,86.9L409.1,86.5L403.7,87.4L396.6,87.6L393.0,86.5L392.1,88.0L393.0,90.8L389.4,90.1L386.7,90.7L385.8,93.5L382.2,94.2L380.4,95.0L376.9,94.2L376.5,93.7L378.7,91.9L374.2,90.1L376.9,90.7L382.2,91.0L387.6,90.7L387.6,88.3L384.0,87.4L379.6,85.7L373.3,85.1L369.7,83.3L366.1,83.9L365.6,82.3L360.4,81.9L356.3,82.4L351.8,83.5L348.2,84.2L344.6,85.7L342.9,86.4L340.2,87.4L339.3,88.3L336.6,91.0L335.7,92.8L333.4,93.3L332.1,94.6L329.4,95.5L326.7,96.4L323.5,97.8L323.2,100.0L323.2,101.8L324.2,104.1L325.8,105.3L328.5,105.2L331.2,103.6L333.2,103.2L333.9,103.6L335.3,105.3L336.6,107.1L337.1,109.6L339.8,109.8L342.9,108.6L343.8,106.2L343.8,104.4L347.3,103.2L347.7,101.8L344.8,100.0L345.5,97.5L349.1,95.5L352.7,93.7L353.6,91.9L357.2,91.4L359.5,92.8L358.1,93.7L354.5,95.5L352.7,97.3L352.7,100.0L354.5,101.4L357.2,101.4L360.8,101.0L364.3,100.9L367.9,101.8L364.3,102.7L360.8,102.7L357.2,102.8L356.3,104.4L357.9,105.5L357.2,106.8L356.3,106.8L353.6,106.1L351.8,107.5L351.8,110.4L350.0,111.1L347.3,111.1L342.9,112.0L340.2,112.5L337.5,111.6L333.9,112.5L332.1,111.6L331.8,110.7L332.7,108.6L333.0,105.9L328.9,107.5L329.6,109.8L329.6,112.7L326.7,113.2L323.2,113.8L322.3,115.2L320.5,117.2L318.7,117.7L317.1,119.3L314.6,120.6L311.7,120.2L311.5,122.0L308.8,121.8L306.2,122.2L305.8,123.2L309.7,124.5L312.1,126.8L312.1,129.5L311.0,131.5L308.8,131.5L305.3,131.3L299.9,130.9L297.6,132.2L298.3,133.1L298.6,135.8L297.2,139.4L298.5,139.9L298.3,142.9L301.0,142.6L302.9,143.3L304.2,144.7L306.3,143.5L310.5,143.5L312.4,141.9L313.7,140.2L314.2,138.5L315.8,135.8L319.9,134.2L319.9,131.8L323.2,131.7L325.8,132.0L327.6,130.8L330.0,129.7L332.1,130.4L333.0,132.2L333.9,133.1L336.6,134.7L339.6,136.1L342.1,137.6L342.3,141.1L343.8,139.4L344.6,138.5L344.6,136.7L347.3,137.4L346.4,136.5L342.9,134.9L340.2,133.6L338.9,133.1L336.2,129.9L336.2,128.1L338.6,127.4L338.6,128.3L340.2,128.3L342.0,130.4L344.6,131.7L347.3,133.1L349.1,134.0L348.9,136.7L350.0,138.1L352.0,140.6L352.7,143.3L354.5,143.8L355.4,142.0L355.4,141.1L357.2,140.8L355.0,138.5L355.0,136.7L357.2,136.1L360.8,136.1L361.6,136.7L361.1,137.7L361.6,140.2L362.9,142.0L364.3,143.3L368.8,144.0L372.4,144.5L376.0,143.3L378.7,143.8L378.3,145.6L377.8,147.4L376.9,150.4L375.6,153.1L372.0,153.1M1010.5,135.4L1009.8,131.3L1010.2,129.0L1012.0,127.7L1013.2,125.9L1015.0,125.7L1017.7,126.8L1016.8,127.9L1018.6,129.5L1020.4,129.5L1022.2,128.6L1024.1,128.1L1025.7,129.1L1027.5,129.9L1029.9,131.5L1033.1,134.7L1030.2,135.8L1026.6,135.8L1023.1,134.5L1021.3,134.0L1017.7,134.0L1015.0,135.4L1010.5,135.4M1017.0,155.6L1018.6,160.8L1020.4,163.5L1022.2,166.2L1024.0,168.9L1025.2,171.6L1025.6,176.9L1027.7,176.9L1029.7,181.4L1031.1,182.7L1033.3,185.0L1035.9,188.6L1038.3,190.5L1042.7,189.3L1046.3,188.9L1050.3,188.0L1049.9,190.4L1049.5,193.1L1047.2,197.5L1044.5,201.1L1041.8,204.2L1039.7,205.6L1037.4,207.4L1033.8,210.6L1032.9,212.6L1030.6,214.5L1028.8,218.1L1028.1,220.8L1029.0,224.4L1030.2,227.1L1031.1,228.0L1031.3,235.1L1030.2,238.2L1028.4,239.6L1024.8,242.3L1022.2,245.9L1021.8,248.5L1022.2,252.1L1019.5,253.9L1017.5,255.5L1017.3,258.4L1016.8,260.2L1014.1,262.7L1012.3,265.2L1008.7,267.9L1006.0,269.7L1004.4,270.0L999.8,270.0L998.0,270.4L994.4,271.5L991.6,270.4L991.4,268.2L990.8,267.3L989.4,262.0L988.2,260.4L986.0,257.5L985.5,257.0L984.6,250.2L982.2,245.0L979.7,240.1L979.7,237.4L980.6,233.3L983.1,229.7L982.2,225.3L980.6,220.1L979.7,217.2L977.4,214.5L975.3,211.0L975.6,207.4L976.2,204.2L976.0,202.4L974.2,201.1L972.0,201.3L969.4,201.5L967.6,199.1L966.7,197.9L964.0,197.7L962.2,197.9L960.4,198.6L956.8,200.0L955.0,200.6L953.2,200.2L949.7,200.0L945.2,201.3L943.4,200.6L941.6,198.8L938.9,197.0L936.2,195.7L935.3,194.8L934.8,193.1L934.1,192.2L932.7,190.4L930.9,188.6L928.7,186.8L928.5,185.0L927.3,182.8L928.2,181.4L929.1,179.6L929.4,176.9L929.4,174.3L928.1,171.9L928.7,169.8L929.6,167.1L931.8,165.3L932.7,162.6L935.0,159.8L938.0,158.7L940.4,157.3L941.1,156.4L941.1,152.8L942.5,151.0L943.4,149.6L946.4,148.3L947.3,146.5L948.1,145.1L949.1,144.9L950.6,146.2L955.0,146.3L956.8,145.4L958.6,144.9L961.3,143.8L964.0,143.3L967.6,143.3L970.2,142.9L973.8,143.1L976.2,142.4L977.1,142.4L978.3,143.3L977.4,144.7L978.5,146.2L976.9,147.8L976.7,148.7L979.2,149.7L982.2,150.3L985.8,151.3L986.9,153.1L989.9,154.2L992.6,154.9L994.6,152.8L994.4,151.5L997.1,150.3L999.8,150.8L1003.4,152.6L1006.9,153.1L1010.5,153.9L1012.3,153.1L1015.0,152.8L1016.4,153.1L1017.0,155.6M1046.9,230.6L1049.0,236.9L1047.2,239.6L1045.4,245.9L1043.1,253.9L1039.5,254.8L1036.8,251.2L1036.1,247.6L1038.1,244.1L1037.4,239.6L1041.0,237.4L1044.4,233.7L1046.9,230.6M1101.6,198.1L1101.5,194.8L1102.0,191.6L1104.1,193.9L1105.2,196.6L1104.0,198.1L1102.0,198.4L1101.6,198.1M948.4,119.5L953.2,118.4L961.1,117.5L961.7,114.8L959.2,113.4L958.3,112.1L955.8,109.6L954.9,106.8L955.4,106.1L952.7,104.3L949.7,104.3L948.4,106.6L948.6,108.9L949.8,110.4L953.2,110.9L952.5,112.0L953.2,113.8L950.4,113.8L951.3,115.5L949.1,116.6L953.1,117.2L950.6,117.9L948.4,119.5M947.9,115.7L947.5,112.7L948.4,111.4L945.5,110.2L943.4,111.6L940.7,112.1L941.1,113.8L940.2,116.3L941.4,117.0L943.9,116.4L947.9,115.7M975.4,132.2L975.6,134.0L975.1,135.1L974.0,134.2L975.4,132.2M976.0,135.8L975.8,139.0L973.8,139.4L973.7,136.5L976.0,135.8M980.8,141.1L986.5,140.8L985.6,143.5L981.0,141.9L980.8,141.1M1000.7,145.6L1005.7,146.2L1002.5,146.5L1000.7,145.6M1016.4,146.5L1020.4,145.4L1019.1,147.0L1016.4,146.5M1191.7,153.1L1193.5,153.0L1194.7,149.7L1197.6,149.4L1200.4,148.7L1203.5,147.8L1206.9,147.0L1208.9,146.5L1210.8,144.7L1211.0,140.6L1212.6,138.5L1211.9,135.2L1209.2,134.9L1209.0,137.6L1208.7,140.2L1206.5,142.4L1204.4,143.3L1202.1,145.3L1196.7,145.6L1193.1,147.6L1190.6,149.6L1191.7,153.1M1209.2,135.1L1211.4,134.3L1214.9,134.0L1219.1,131.7L1218.2,130.0L1212.6,127.7L1212.1,131.3L1209.9,131.7L1209.2,135.1M1212.8,126.8L1215.5,125.9L1214.6,121.5L1217.3,121.5L1214.6,117.0L1214.4,112.0L1213.2,112.5L1212.8,117.9L1212.8,126.8M1175.2,169.8L1176.8,164.4L1175.2,164.1L1173.6,167.1L1175.2,169.8M1153.2,174.8L1156.4,173.2L1157.3,174.1L1154.6,176.6L1153.2,174.8M1174.5,176.0L1177.4,176.0L1177.0,179.6L1176.1,183.6L1180.6,185.9L1179.3,184.5L1174.5,183.2L1173.4,179.6L1174.5,176.0M1177.0,196.6L1180.6,194.8L1183.3,191.6L1185.2,196.1L1183.3,198.8L1180.6,197.5L1177.0,196.6M1178.8,188.6L1180.6,187.1L1183.3,186.8L1183.3,190.4L1181.5,191.3L1179.3,192.5L1177.9,190.4L1178.8,188.6M1174.3,185.0L1176.1,185.9L1175.6,187.3L1174.3,185.0M1168.4,194.1L1172.5,189.1L1171.6,190.4L1168.4,194.1M1129.2,199.1L1133.1,199.9L1137.6,204.7L1140.3,206.5L1143.9,211.0L1148.4,214.5L1148.4,219.5L1145.7,219.7L1141.7,216.3L1138.5,211.8L1135.3,206.1L1131.3,202.9L1129.2,199.1M1146.9,221.3L1148.4,219.9L1152.5,220.3L1156.4,221.5L1160.2,221.5L1163.6,223.1L1163.4,224.7L1155.5,223.8L1149.2,222.4L1146.9,221.3M1164.5,224.0L1167.2,224.9L1170.7,224.4L1173.4,224.7L1178.4,224.0L1173.4,225.1L1168.0,225.3L1164.5,224.0M1179.9,227.6L1182.4,225.6L1186.5,224.2L1183.3,226.2L1179.9,227.6M1153.7,205.9L1156.4,206.1L1158.2,204.2L1160.9,203.4L1165.4,199.7L1168.0,196.6L1172.0,199.7L1169.8,201.5L1169.1,203.8L1171.4,207.4L1168.9,209.2L1167.2,211.8L1166.6,216.0L1163.6,215.6L1160.9,214.9L1158.2,214.5L1155.9,214.4L1155.5,211.0L1153.7,209.2L1153.7,205.9M1172.5,219.0L1172.5,215.4L1171.3,214.0L1173.1,209.2L1174.3,207.4L1177.9,207.4L1181.5,206.5L1182.7,206.5L1179.7,208.3L1175.2,208.3L1174.7,211.0L1176.1,211.0L1179.3,210.8L1176.3,212.6L1177.9,215.4L1179.1,217.8L1176.1,217.6L1174.7,214.2L1174.0,219.0L1172.5,219.0M1186.8,205.6L1187.7,207.4L1189.0,206.5L1187.7,209.2L1188.6,210.6L1186.8,210.1L1186.8,205.6M1187.7,214.9L1192.7,216.0L1190.4,214.9L1187.7,214.9M1193.1,211.5L1195.8,209.9L1198.5,210.6L1201.2,215.1L1205.6,212.0L1211.0,213.8L1217.3,216.0L1219.6,218.6L1222.6,219.9L1223.2,222.6L1224.4,225.3L1227.1,227.6L1228.0,227.8L1223.5,227.2L1220.0,223.5L1216.4,222.9L1215.5,225.6L1212.8,225.6L1211.0,225.6L1207.4,223.5L1205.6,224.2L1205.3,219.0L1200.3,217.2L1196.7,216.3L1194.9,214.2L1197.6,213.3L1194.9,212.7L1193.1,211.5M1224.1,219.0L1228.0,219.0L1230.7,216.9L1229.8,219.5L1227.1,220.4L1224.1,219.0M1236.1,219.9L1239.6,222.6L1243.2,224.4L1246.8,226.2L1248.6,228.0L1245.0,226.2L1241.4,224.4L1236.1,219.9M1162.1,248.5L1161.8,253.0L1163.0,256.6L1163.6,259.3L1164.5,262.0L1165.5,269.1L1164.5,270.6L1167.2,271.8L1169.7,272.0L1173.4,269.8L1177.0,270.0L1179.7,269.8L1182.4,268.2L1184.2,267.0L1189.5,265.9L1194.0,265.5L1196.7,266.4L1198.7,267.7L1201.2,271.5L1202.1,270.9L1204.7,268.2L1205.5,270.9L1206.5,271.5L1206.0,272.9L1208.3,274.5L1208.9,275.9L1210.1,277.2L1212.8,277.9L1215.5,278.6L1218.0,277.0L1219.1,278.1L1220.7,279.2L1222.6,277.5L1223.5,276.8L1227.1,276.3L1227.5,273.6L1228.5,271.8L1229.4,269.7L1231.6,266.4L1232.5,263.8L1233.6,259.6L1232.5,254.8L1231.6,253.6L1228.9,251.2L1228.0,249.4L1226.2,248.5L1224.4,245.9L1220.5,243.2L1220.0,240.5L1219.1,237.8L1218.7,235.7L1216.4,234.8L1215.5,234.2L1215.5,231.5L1214.2,228.9L1213.7,228.3L1212.8,229.7L1212.1,231.5L1211.9,234.2L1211.9,236.9L1210.6,240.5L1207.8,240.1L1204.7,238.0L1202.1,236.9L1201.2,236.0L1201.9,234.2L1203.3,231.2L1201.7,230.6L1198.5,230.6L1196.0,229.6L1193.1,231.0L1191.3,232.4L1190.4,236.0L1187.7,236.0L1185.9,234.2L1184.2,234.2L1182.4,236.9L1181.5,238.3L1178.8,238.7L1177.4,241.4L1175.2,244.2L1171.6,245.3L1168.0,246.2L1164.5,247.6L1162.1,248.5M1217.6,282.0L1224.1,282.4L1223.5,286.5L1220.8,287.2L1218.5,284.7L1217.6,282.0M1267.7,270.7L1271.0,274.5L1273.5,276.3L1278.1,276.6L1277.1,279.3L1275.3,280.0L1273.7,283.1L1271.3,283.1L1272.2,281.1L1269.7,279.3L1271.1,277.2L1270.4,274.5L1267.7,270.7M1267.7,281.7L1270.4,283.8L1268.8,286.1L1267.7,287.6L1264.7,289.5L1261.5,292.6L1256.7,291.5L1257.2,290.2L1259.9,287.9L1263.8,286.1L1266.5,283.4L1267.7,281.7M1252.2,245.3L1257.5,249.1L1256.7,248.9L1252.2,245.3M978.3,68.6L980.1,66.5L987.3,66.0L991.7,65.4L998.0,65.4L1006.9,65.6L1003.4,67.2L998.0,68.6L992.6,70.8L987.3,71.9L983.7,71.0L978.3,68.6M1051.7,81.2L1054.4,78.5L1057.1,77.6L1058.9,75.8L1060.6,74.0L1066.0,72.8L1069.6,72.2L1081.2,71.5L1076.8,73.1L1071.4,74.0L1066.0,75.6L1062.4,76.7L1058.9,79.4L1058.9,80.3L1062.4,82.4L1057.1,82.8L1053.5,82.6L1051.7,81.2M1042.7,65.4L1051.7,64.5L1062.4,63.3L1069.6,64.2L1073.2,65.1L1062.4,66.0L1048.1,66.1L1042.7,65.4M1130.5,68.6L1137.6,66.5L1144.8,66.9L1137.6,64.2L1130.5,65.1L1130.5,68.6M1203.8,74.9L1209.2,73.1L1214.6,73.1L1225.3,74.4L1220.0,75.3L1212.8,77.1L1203.8,74.9M1278.3,82.1L1284.4,81.7L1280.8,81.0L1278.3,82.1M632.8,348.8L672.2,348.8L681.2,347.0L690.1,346.1L699.1,344.3L708.0,343.4L725.9,342.2L743.8,341.6L761.7,342.5L774.2,339.8L779.6,339.8L788.6,339.5L797.5,339.8L806.5,340.2L815.4,340.7L822.6,338.0L824.4,336.3L831.5,334.5L836.9,331.8L838.7,329.1L842.3,326.4L845.0,325.2L847.6,324.3L854.8,322.8L856.6,322.5L853.9,324.3L850.3,325.9L848.5,328.2L846.7,330.9L846.7,334.5L848.5,338.0L849.4,341.6L860.2,347.0L878.1,348.8L896.0,348.8L910.3,345.2L922.8,341.6L931.8,339.8L940.7,337.1L949.7,336.3L958.6,335.0L967.6,334.8L976.5,334.5L985.5,334.5L994.4,334.5L1003.4,335.0L1012.3,334.1L1017.7,332.7L1021.3,333.0L1030.2,332.7L1035.6,330.9L1039.2,330.5L1044.5,329.1L1048.1,328.2L1053.5,327.3L1057.1,327.7L1062.4,329.1L1066.0,329.4L1075.0,330.3L1080.3,330.9L1083.9,331.8L1087.5,334.1L1089.3,334.5L1092.9,333.6L1096.4,333.6L1098.2,331.8L1101.8,330.0L1110.8,328.7L1116.1,328.2L1119.7,328.4L1128.7,328.4L1137.6,327.3L1143.0,326.8L1146.6,327.3L1155.5,327.3L1164.5,328.7L1173.4,329.1L1182.4,328.2L1191.3,327.7L1200.3,327.3L1209.2,328.6L1214.6,329.1L1218.2,330.0L1223.5,331.8L1227.1,332.1L1236.1,332.7L1245.0,333.6L1250.4,335.4L1254.0,336.3L1257.5,336.3L1262.9,337.1L1263.8,338.9L1262.9,340.7L1257.5,343.4L1254.0,347.0L1259.3,348.8L1280.8,348.8L1284.4,348.8M1277.2,348.8L1316.6,348.8L1325.6,347.0L1334.5,346.1L1343.5,344.3L1352.4,343.4L1370.3,342.2L1388.2,341.6L1406.1,342.5L1418.6,339.8L1424.0,339.8L1433.0,339.5L1441.9,339.8L1450.9,340.2L1459.8,340.7L1467.0,338.0L1468.8,336.3L1475.9,334.5L1481.3,331.8L1483.1,329.1L1486.7,326.4L1489.3,325.2L1492.0,324.3L1499.2,322.8L1501.0,322.5L1498.3,324.3L1494.7,325.9L1492.9,328.2L1491.1,330.9L1491.1,334.5L1492.9,338.0L1493.8,341.6L1504.6,347.0L1522.5,348.8L1540.4,348.8L1554.7,345.2L1567.2,341.6L1576.2,339.8L1585.1,337.1L1594.1,336.3L1603.0,335.0L1612.0,334.8L1620.9,334.5L1629.9,334.5L1638.8,334.5L1647.8,335.0L1656.7,334.1L1662.1,332.7L1665.7,333.0L1674.6,332.7L1680.0,330.9L1683.6,330.5L1688.9,329.1L1692.5,328.2L1697.9,327.3L1701.5,327.7L1706.8,329.1L1710.4,329.4L1719.4,330.3L1724.7,330.9L1728.3,331.8L1731.9,334.1L1733.7,334.5L1737.3,333.6L1740.8,333.6L1742.6,331.8L1746.2,330.0L1755.2,328.7L1760.5,328.2L1764.1,328.4L1773.1,328.4L1782.0,327.3L1787.4,326.8L1791.0,327.3L1799.9,327.3L1808.9,328.7L1817.8,329.1L1826.8,328.2L1835.7,327.7L1844.7,327.3L1853.6,328.6L1859.0,329.1L1862.6,330.0L1867.9,331.8L1871.5,332.1L1880.5,332.7L1889.4,333.6L1894.8,335.4L1898.4,336.3L1901.9,336.3L1907.3,337.1L1908.2,338.9L1907.3,340.7L1901.9,343.4L1898.4,347.0L1903.7,348.8L1925.2,348.8L1928.8,348.8M1069.6,85.1L1066.9,87.8L1065.1,91.9L1064.2,97.3L1065.1,102.7L1065.1,108.0L1064.2,113.4L1063.3,117.0L1058.9,117.9L1053.5,117.0L1049.9,118.2L1045.4,120.0L1042.7,121.5L1042.0,122.9L1042.7,125.9L1043.1,129.0L1043.6,131.7L1045.1,133.6L1046.7,135.4L1047.2,136.7L1045.4,134.9L1042.7,134.0L1039.2,133.1L1035.6,132.2L1032.9,131.8L1030.2,131.5"/>
<g fill="#000"><circle cx="676.7" cy="171.0" r="1.6"/><circle cx="680.3" cy="174.1" r="1.6"/><circle cx="673.1" cy="169.8" r="1.6"/><circle cx="678.5" cy="171.9" r="1.6"/><circle cx="853.0" cy="301.7" r="1.9"/><circle cx="849.4" cy="301.3" r="1.6"/><circle cx="893.3" cy="306.4" r="1.6"/><circle cx="1083.0" cy="297.4" r="1.8"/><circle cx="1050.8" cy="292.0" r="1.6"/><circle cx="1026.1" cy="292.9" r="1.6"/><circle cx="964.7" cy="306.5" r="1.6"/><circle cx="936.6" cy="275.6" r="1.6"/><circle cx="948.4" cy="237.6" r="1.6"/><circle cx="932.8" cy="223.3" r="1.6"/><circle cx="908.5" cy="140.2" r="1.6"/><circle cx="913.0" cy="141.5" r="1.6"/><circle cx="903.1" cy="138.5" r="1.6"/><circle cx="930.9" cy="158.9" r="1.6"/><circle cx="928.2" cy="158.5" r="1.6"/><circle cx="934.1" cy="157.8" r="1.6"/><circle cx="928.4" cy="150.6" r="1.6"/><circle cx="915.7" cy="181.4" r="1.6"/><circle cx="916.5" cy="182.5" r="1.6"/><circle cx="842.8" cy="151.3" r="1.6"/><circle cx="1061.5" cy="245.5" r="1.6"/><circle cx="1058.0" cy="246.9" r="1.6"/><circle cx="1058.0" cy="217.4" r="1.6"/><circle cx="1090.2" cy="202.0" r="1.6"/><circle cx="1089.6" cy="210.2" r="1.6"/><circle cx="1088.4" cy="196.6" r="1.6"/><circle cx="1277.2" cy="241.0" r="1.6"/><circle cx="1279.9" cy="238.9" r="1.6"/><circle cx="1295.1" cy="233.9" r="1.6"/><circle cx="1289.4" cy="247.1" r="1.6"/><circle cx="691.0" cy="240.7" r="1.6"/><circle cx="708.0" cy="225.3" r="1.6"/><circle cx="672.6" cy="247.1" r="1.6"/><circle cx="1219.4" cy="182.0" r="1.6"/><circle cx="1217.8" cy="185.2" r="1.6"/><circle cx="1257.5" cy="236.9" r="1.6"/><circle cx="1259.3" cy="239.6" r="1.6"/><circle cx="1257.2" cy="210.1" r="1.6"/><circle cx="1268.3" cy="206.5" r="1.6"/><circle cx="1264.7" cy="196.6" r="1.6"/><circle cx="1241.8" cy="196.8" r="1.6"/><circle cx="1230.3" cy="195.9" r="1.6"/><circle cx="1199.4" cy="195.7" r="1.6"/><circle cx="796.6" cy="210.1" r="1.6"/><circle cx="762.8" cy="257.7" r="1.6"/><circle cx="815.4" cy="269.3" r="1.6"/><circle cx="817.6" cy="269.3" r="1.6"/><circle cx="849.4" cy="183.2" r="1.6"/><circle cx="848.5" cy="180.2" r="1.6"/><circle cx="848.9" cy="190.4" r="1.6"/><circle cx="819.9" cy="165.3" r="1.6"/><circle cx="822.6" cy="166.2" r="1.6"/><circle cx="819.0" cy="161.5" r="1.6"/><circle cx="827.0" cy="171.6" r="1.6"/><circle cx="851.2" cy="185.5" r="1.6"/><circle cx="722.3" cy="114.3" r="1.6"/><circle cx="729.5" cy="119.7" r="1.6"/><circle cx="685.6" cy="106.2" r="1.6"/><circle cx="654.3" cy="107.1" r="1.6"/><circle cx="1298.7" cy="107.1" r="1.6"/><circle cx="661.5" cy="112.9" r="1.6"/><circle cx="1305.9" cy="112.9" r="1.6"/><circle cx="657.0" cy="114.3" r="1.6"/><circle cx="1301.4" cy="114.3" r="1.6"/><circle cx="1295.1" cy="115.2" r="1.6"/><circle cx="1288.0" cy="116.4" r="1.6"/><circle cx="1283.5" cy="116.6" r="1.6"/><circle cx="1277.2" cy="116.4" r="1.6"/><circle cx="1270.1" cy="114.7" r="1.6"/><circle cx="655.2" cy="95.5" r="1.6"/><circle cx="1299.6" cy="95.5" r="1.6"/><circle cx="651.6" cy="95.7" r="1.6"/><circle cx="1296.0" cy="95.7" r="1.6"/><circle cx="1227.1" cy="126.8" r="1.6"/><circle cx="1221.7" cy="127.7" r="1.6"/><circle cx="1230.7" cy="124.1" r="1.6"/><circle cx="1235.2" cy="121.5" r="1.6"/><circle cx="1237.0" cy="119.1" r="1.6"/><circle cx="929.1" cy="91.9" r="1.6"/><circle cx="946.1" cy="98.2" r="1.6"/><circle cx="956.3" cy="101.2" r="1.6"/><circle cx="953.2" cy="103.6" r="1.6"/><circle cx="947.0" cy="106.2" r="1.6"/><circle cx="945.5" cy="106.6" r="1.6"/><circle cx="975.6" cy="109.8" r="1.6"/><circle cx="978.3" cy="109.8" r="1.6"/><circle cx="980.1" cy="110.2" r="1.6"/><circle cx="991.7" cy="106.6" r="1.6"/><circle cx="988.2" cy="108.0" r="1.6"/><circle cx="984.7" cy="87.1" r="1.6"/><circle cx="1019.5" cy="123.6" r="1.6"/><circle cx="1149.2" cy="213.3" r="1.6"/><circle cx="1151.0" cy="214.2" r="1.6"/><circle cx="1198.5" cy="221.7" r="1.6"/><circle cx="1194.0" cy="222.6" r="1.6"/><circle cx="1206.5" cy="223.1" r="1.6"/><circle cx="1185.0" cy="215.1" r="1.6"/><circle cx="1201.2" cy="212.0" r="1.6"/><circle cx="1174.3" cy="227.1" r="1.6"/><circle cx="1168.9" cy="224.2" r="1.6"/><circle cx="1161.8" cy="221.7" r="1.6"/><circle cx="1220.8" cy="213.1" r="1.6"/><circle cx="1232.5" cy="216.7" r="1.6"/><circle cx="1211.4" cy="213.8" r="1.6"/><circle cx="1182.4" cy="205.6" r="1.6"/><circle cx="1139.4" cy="216.3" r="1.6"/><circle cx="949.7" cy="144.7" r="1.6"/><circle cx="1104.5" cy="195.7" r="1.6"/><circle cx="1124.5" cy="187.7" r="1.6"/><circle cx="1125.1" cy="196.6" r="1.6"/><circle cx="1133.1" cy="205.6" r="1.6"/><circle cx="1134.0" cy="206.5" r="1.6"/><circle cx="788.6" cy="232.4" r="1.6"/><circle cx="710.7" cy="247.6" r="1.6"/><circle cx="708.0" cy="236.0" r="1.6"/><circle cx="699.1" cy="237.8" r="1.6"/><circle cx="687.4" cy="238.7" r="1.6"/><circle cx="676.2" cy="205.8" r="1.6"/><circle cx="672.2" cy="234.2" r="1.6"/><circle cx="724.1" cy="252.8" r="1.6"/><circle cx="729.0" cy="252.8" r="1.6"/><circle cx="1285.3" cy="158.7" r="1.6"/><circle cx="1295.7" cy="163.0" r="1.6"/><circle cx="661.5" cy="166.6" r="1.6"/><circle cx="1305.9" cy="166.6" r="1.6"/><circle cx="1208.9" cy="229.7" r="1.6"/><circle cx="1190.4" cy="223.8" r="1.6"/><circle cx="708.0" cy="224.4" r="1.6"/><circle cx="710.2" cy="226.7" r="1.6"/><circle cx="1273.7" cy="223.5" r="1.6"/><circle cx="1279.4" cy="224.4" r="1.6"/><circle cx="1268.3" cy="287.2" r="1.6"/><circle cx="1287.1" cy="287.9" r="1.6"/><circle cx="1255.8" cy="299.9" r="1.6"/><circle cx="1243.0" cy="306.9" r="1.6"/><circle cx="1260.9" cy="261.3" r="1.6"/><circle cx="1243.2" cy="265.5" r="1.6"/><circle cx="1156.1" cy="327.7" r="1.6"/><circle cx="944.3" cy="281.3" r="1.6"/><circle cx="911.5" cy="313.7" r="1.6"/><circle cx="910.3" cy="312.1" r="1.6"/><circle cx="878.1" cy="317.6" r="1.6"/><circle cx="853.4" cy="320.5" r="1.6"/></g>
</g>
<line x1="657" y1="334.5" x2="1282" y2="334.5" stroke="#333" stroke-width="1.2"/>
<g clip-path="url(#clipc)">
<g shape-rendering="crispEdges"><rect x="11" y="484" width="625" height="282" fill="#fdd49e"/>
<rect x="64.70" y="484.00" width="11.04" height="7.46" fill="#fef0d9"/>
<rect x="193.58" y="484.00" width="11.04" height="7.46" fill="#fcb27e"/>
<rect x="236.54" y="484.00" width="11.04" height="7.46" fill="#fcb27e"/>
<rect x="129.14" y="491.16" width="11.04" height="7.46" fill="#fcb27e"/>
<rect x="150.62" y="491.16" width="11.04" height="7.46" fill="#fcb27e"/>
<rect x="236.54" y="491.16" width="11.04" height="7.46" fill="#fcb27e"/>
<rect x="494.30" y="491.16" width="21.78" height="7.46" fill="#fcb27e"/>
<rect x="580.22" y="491.16" width="21.78" height="7.46" fill="#fcb27e"/>
<rect x="623.18" y="491.16" width="13.12" height="7.46" fill="#fcb27e"/>
<rect x="53.96" y="498.32" width="43.26" height="7.46" fill="#fcb27e"/>
<rect x="129.14" y="498.32" width="11.04" height="7.46" fill="#fcb27e"/>
<rect x="150.62" y="498.32" width="11.04" height="7.46" fill="#fcb27e"/>
<rect x="215.06" y="498.32" width="21.78" height="7.46" fill="#fef0d9"/>
<rect x="290.24" y="498.32" width="32.52" height="7.46" fill="#fcb27e"/>
<rect x="515.78" y="498.32" width="21.78" height="7.46" fill="#fcb27e"/>
<rect x="612.44" y="498.32" width="11.04" height="7.46" fill="#fef0d9"/>
<rect x="290.24" y="505.48" width="21.78" height="7.46" fill="#fcb27e"/>
<rect x="612.44" y="505.48" width="11.04" height="7.46" fill="#fef0d9"/>
<rect x="96.92" y="512.64" width="21.78" height="7.46" fill="#fcb27e"/>
<rect x="408.38" y="512.64" width="11.04" height="7.46" fill="#fcb27e"/>
<rect x="462.08" y="512.64" width="54.00" height="7.46" fill="#fcb27e"/>
<rect x="515.78" y="512.64" width="11.04" height="7.46" fill="#ef6a45"/>
<rect x="526.52" y="512.64" width="32.52" height="7.46" fill="#fcb27e"/>
<rect x="43.22" y="519.80" width="75.48" height="7.46" fill="#fcb27e"/>
<rect x="311.72" y="519.80" width="11.04" height="7.46" fill="#fcb27e"/>
<rect x="386.90" y="519.80" width="43.26" height="7.46" fill="#fcb27e"/>
<rect x="451.34" y="519.80" width="32.52" height="7.46" fill="#fcb27e"/>
<rect x="494.30" y="519.80" width="64.74" height="7.46" fill="#fcb27e"/>
<rect x="43.22" y="526.96" width="43.26" height="7.46" fill="#fcb27e"/>
<rect x="96.92" y="526.96" width="21.78" height="7.46" fill="#fcb27e"/>
<rect x="129.14" y="526.96" width="21.78" height="7.46" fill="#fcb27e"/>
<rect x="204.32" y="526.96" width="21.78" height="7.46" fill="#fcb27e"/>
<rect x="279.50" y="526.96" width="11.04" height="7.46" fill="#fcb27e"/>
<rect x="333.20" y="526.96" width="21.78" height="7.46" fill="#fcb27e"/>
<rect x="386.90" y="526.96" width="21.78" height="7.46" fill="#fcb27e"/>
<rect x="408.38" y="526.96" width="21.78" height="7.46" fill="#ef6a45"/>
<rect x="429.86" y="526.96" width="11.04" height="7.46" fill="#fcb27e"/>
<rect x="451.34" y="526.96" width="54.00" height="7.46" fill="#fcb27e"/>
<rect x="515.78" y="526.96" width="21.78" height="7.46" fill="#fcb27e"/>
<rect x="548.00" y="526.96" width="11.04" height="7.46" fill="#fcb27e"/>
<rect x="96.92" y="534.12" width="54.00" height="7.46" fill="#fcb27e"/>
<rect x="204.32" y="534.12" width="21.78" height="7.46" fill="#fcb27e"/>
<rect x="279.50" y="534.12" width="32.52" height="7.46" fill="#fcb27e"/>
<rect x="322.46" y="534.12" width="118.44" height="7.46" fill="#fcb27e"/>
<rect x="440.60" y="534.12" width="11.04" height="7.46" fill="#ef6a45"/>
<rect x="451.34" y="534.12" width="21.78" height="7.46" fill="#fcb27e"/>
<rect x="483.56" y="534.12" width="43.26" height="7.46" fill="#fcb27e"/>
<rect x="537.26" y="534.12" width="32.52" height="7.46" fill="#fcb27e"/>
<rect x="53.96" y="541.28" width="11.04" height="7.46" fill="#fcb27e"/>
<rect x="86.18" y="541.28" width="21.78" height="7.46" fill="#fcb27e"/>
<rect x="139.88" y="541.28" width="32.52" height="7.46" fill="#fcb27e"/>
<rect x="268.76" y="541.28" width="11.04" height="7.46" fill="#fcb27e"/>
<rect x="300.98" y="541.28" width="32.52" height="7.46" fill="#fcb27e"/>
<rect x="343.94" y="541.28" width="118.44" height="7.46" fill="#fcb27e"/>
<rect x="483.56" y="541.28" width="43.26" height="7.46" fill="#fcb27e"/>
<rect x="548.00" y="541.28" width="21.78" height="7.46" fill="#fcb27e"/>
<rect x="580.22" y="541.28" width="43.26" height="7.46" fill="#fcb27e"/>
<rect x="86.18" y="548.44" width="32.52" height="7.46" fill="#fcb27e"/>
<rect x="129.14" y="548.44" width="43.26" height="7.46" fill="#fcb27e"/>
<rect x="247.28" y="548.44" width="11.04" height="7.46" fill="#fcb27e"/>
<rect x="311.72" y="548.44" width="21.78" height="7.46" fill="#fcb27e"/>
<rect x="354.68" y="548.44" width="32.52" height="7.46" fill="#fcb27e"/>
<rect x="397.64" y="548.44" width="43.26" height="7.46" fill="#fcb27e"/>
<rect x="451.34" y="548.44" width="11.04" height="7.46" fill="#fcb27e"/>
<rect x="494.30" y="548.44" width="32.52" height="7.46" fill="#fcb27e"/>
<rect x="526.52" y="548.44" width="11.04" height="7.46" fill="#ef6a45"/>
<rect x="537.26" y="548.44" width="96.96" height="7.46" fill="#fcb27e"/>
<rect x="43.22" y="555.60" width="21.78" height="7.46" fill="#fcb27e"/>
<rect x="96.92" y="555.60" width="75.48" height="7.46" fill="#fcb27e"/>
<rect x="236.54" y="555.60" width="11.04" height="7.46" fill="#fcb27e"/>
<rect x="268.76" y="555.60" width="11.04" height="7.46" fill="#fcb27e"/>
<rect x="311.72" y="555.60" width="107.70" height="7.46" fill="#fcb27e"/>
<rect x="429.86" y="555.60" width="21.78" height="7.46" fill="#fcb27e"/>
<rect x="451.34" y="555.60" width="11.04" height="7.46" fill="#fef0d9"/>
<rect x="505.04" y="555.60" width="11.04" height="7.46" fill="#fcb27e"/>
<rect x="526.52" y="555.60" width="86.22" height="7.46" fill="#fcb27e"/>
<rect x="21.74" y="562.76" width="21.78" height="7.46" fill="#fcb27e"/>
<rect x="96.92" y="562.76" width="21.78" height="7.46" fill="#fcb27e"/>
<rect x="139.88" y="562.76" width="86.22" height="7.46" fill="#fcb27e"/>
<rect x="279.50" y="562.76" width="21.78" height="7.46" fill="#fcb27e"/>
<rect x="311.72" y="562.76" width="11.04" height="7.46" fill="#fcb27e"/>
<rect x="333.20" y="562.76" width="32.52" height="7.46" fill="#fcb27e"/>
<rect x="386.90" y="562.76" width="32.52" height="7.46" fill="#fcb27e"/>
<rect x="429.86" y="562.76" width="54.00" height="7.46" fill="#fcb27e"/>
<rect x="505.04" y="562.76" width="32.52" height="7.46" fill="#ef6a45"/>
<rect x="590.96" y="562.76" width="21.78" height="7.46" fill="#fcb27e"/>
<rect x="21.74" y="569.92" width="21.78" height="7.46" fill="#fcb27e"/>
<rect x="53.96" y="569.92" width="11.04" height="7.46" fill="#fcb27e"/>
<rect x="139.88" y="569.92" width="54.00" height="7.46" fill="#fcb27e"/>
<rect x="279.50" y="569.92" width="21.78" height="7.46" fill="#fcb27e"/>
<rect x="365.42" y="569.92" width="32.52" height="7.46" fill="#fcb27e"/>
<rect x="408.38" y="569.92" width="32.52" height="7.46" fill="#fcb27e"/>
<rect x="451.34" y="569.92" width="32.52" height="7.46" fill="#fcb27e"/>
<rect x="494.30" y="569.92" width="21.78" height="7.46" fill="#fcb27e"/>
<rect x="515.78" y="569.92" width="21.78" height="7.46" fill="#ef6a45"/>
<rect x="537.26" y="569.92" width="43.26" height="7.46" fill="#fcb27e"/>
<rect x="612.44" y="569.92" width="11.04" height="7.46" fill="#fcb27e"/>
<rect x="86.18" y="577.08" width="11.04" height="7.46" fill="#fcb27e"/>
<rect x="129.14" y="577.08" width="21.78" height="7.46" fill="#fcb27e"/>
<rect x="172.10" y="577.08" width="11.04" height="7.46" fill="#fcb27e"/>
<rect x="376.16" y="577.08" width="11.04" height="7.46" fill="#fcb27e"/>
<rect x="397.64" y="577.08" width="43.26" height="7.46" fill="#fcb27e"/>
<rect x="462.08" y="577.08" width="43.26" height="7.46" fill="#fcb27e"/>
<rect x="505.04" y="577.08" width="32.52" height="7.46" fill="#ef6a45"/>
<rect x="537.26" y="577.08" width="54.00" height="7.46" fill="#fcb27e"/>
<rect x="623.18" y="577.08" width="11.04" height="7.46" fill="#fcb27e"/>
<rect x="86.18" y="584.24" width="11.04" height="7.46" fill="#fcb27e"/>
<rect x="129.14" y="584.24" width="21.78" height="7.46" fill="#fcb27e"/>
<rect x="172.10" y="584.24" width="11.04" height="7.46" fill="#fcb27e"/>
<rect x="386.90" y="584.24" width="11.04" height="7.46" fill="#fef0d9"/>
<rect x="397.64" y="584.24" width="32.52" height="7.46" fill="#fcb27e"/>
<rect x="440.60" y="584.24" width="43.26" height="7.46" fill="#fcb27e"/>
<rect x="483.56" y="584.24" width="21.78" height="7.46" fill="#ef6a45"/>
<rect x="505.04" y="584.24" width="11.04" height="7.46" fill="#e34a33"/>
<rect x="515.78" y="584.24" width="21.78" height="7.46" fill="#ef6a45"/>
<rect x="537.26" y="584.24" width="11.04" height="7.46" fill="#fcb27e"/>
<rect x="569.48" y="584.24" width="21.78" height="7.46" fill="#fcb27e"/>
<rect x="612.44" y="584.24" width="11.04" height="7.46" fill="#fcb27e"/>
<rect x="75.44" y="591.40" width="11.04" height="7.46" fill="#fcb27e"/>
<rect x="225.80" y="591.40" width="32.52" height="7.46" fill="#fcb27e"/>
<rect x="300.98" y="591.40" width="11.04" height="7.46" fill="#fcb27e"/>
<rect x="322.46" y="591.40" width="11.04" height="7.46" fill="#fcb27e"/>
<rect x="343.94" y="591.40" width="21.78" height="7.46" fill="#fcb27e"/>
<rect x="419.12" y="591.40" width="21.78" height="7.46" fill="#fcb27e"/>
<rect x="462.08" y="591.40" width="32.52" height="7.46" fill="#fcb27e"/>
<rect x="494.30" y="591.40" width="21.78" height="7.46" fill="#ef6a45"/>
<rect x="515.78" y="591.40" width="11.04" height="7.46" fill="#fcb27e"/>
<rect x="558.74" y="591.40" width="21.78" height="7.46" fill="#fcb27e"/>
<rect x="590.96" y="591.40" width="43.26" height="7.46" fill="#fcb27e"/>
<rect x="225.80" y="598.56" width="21.78" height="7.46" fill="#fcb27e"/>
<rect x="419.12" y="598.56" width="107.70" height="7.46" fill="#fcb27e"/>
<rect x="590.96" y="598.56" width="43.26" height="7.46" fill="#fcb27e"/>
<rect x="11.00" y="605.72" width="21.78" height="7.46" fill="#fcb27e"/>
<rect x="96.92" y="605.72" width="21.78" height="7.46" fill="#fcb27e"/>
<rect x="333.20" y="605.72" width="43.26" height="7.46" fill="#fcb27e"/>
<rect x="397.64" y="605.72" width="75.48" height="7.46" fill="#fcb27e"/>
<rect x="483.56" y="605.72" width="32.52" height="7.46" fill="#fcb27e"/>
<rect x="548.00" y="605.72" width="21.78" height="7.46" fill="#fcb27e"/>
<rect x="64.70" y="612.88" width="21.78" height="7.46" fill="#fcb27e"/>
<rect x="107.66" y="612.88" width="11.04" height="7.46" fill="#fcb27e"/>
<rect x="225.80" y="612.88" width="21.78" height="7.46" fill="#fcb27e"/>
<rect x="290.24" y="612.88" width="107.70" height="7.46" fill="#fcb27e"/>
<rect x="429.86" y="612.88" width="64.74" height="7.46" fill="#fcb27e"/>
<rect x="53.96" y="620.04" width="11.04" height="7.46" fill="#fcb27e"/>
<rect x="75.44" y="620.04" width="11.04" height="7.46" fill="#fcb27e"/>
<rect x="129.14" y="620.04" width="11.04" height="7.46" fill="#fef0d9"/>
<rect x="225.80" y="620.04" width="32.52" height="7.46" fill="#fcb27e"/>
<rect x="290.24" y="620.04" width="21.78" height="7.46" fill="#fcb27e"/>
<rect x="311.72" y="620.04" width="11.04" height="7.46" fill="#ef6a45"/>
<rect x="322.46" y="620.04" width="32.52" height="7.46" fill="#e34a33"/>
<rect x="354.68" y="620.04" width="11.04" height="7.46" fill="#ef6a45"/>
<rect x="365.42" y="620.04" width="43.26" height="7.46" fill="#fcb27e"/>
<rect x="53.96" y="627.20" width="11.04" height="7.46" fill="#fcb27e"/>
<rect x="118.40" y="627.20" width="21.78" height="7.46" fill="#fcb27e"/>
<rect x="150.62" y="627.20" width="54.00" height="7.46" fill="#fcb27e"/>
<rect x="236.54" y="627.20" width="11.04" height="7.46" fill="#fcb27e"/>
<rect x="258.02" y="627.20" width="21.78" height="7.46" fill="#fcb27e"/>
<rect x="290.24" y="627.20" width="32.52" height="7.46" fill="#fcb27e"/>
<rect x="322.46" y="627.20" width="32.52" height="7.46" fill="#e34a33"/>
<rect x="354.68" y="627.20" width="21.78" height="7.46" fill="#ef6a45"/>
<rect x="376.16" y="627.20" width="11.04" height="7.46" fill="#fcb27e"/>
<rect x="429.86" y="627.20" width="11.04" height="7.46" fill="#fcb27e"/>
<rect x="462.08" y="627.20" width="11.04" height="7.46" fill="#fcb27e"/>
<rect x="537.26" y="627.20" width="11.04" height="7.46" fill="#fcb27e"/>
<rect x="43.22" y="634.36" width="11.04" height="7.46" fill="#fef0d9"/>
<rect x="150.62" y="634.36" width="32.52" height="7.46" fill="#fcb27e"/>
<rect x="193.58" y="634.36" width="11.04" height="7.46" fill="#fef0d9"/>
<rect x="236.54" y="634.36" width="11.04" height="7.46" fill="#fef0d9"/>
<rect x="258.02" y="634.36" width="96.96" height="7.46" fill="#fcb27e"/>
<rect x="354.68" y="634.36" width="11.04" height="7.46" fill="#fef0d9"/>
<rect x="365.42" y="634.36" width="11.04" height="7.46" fill="#fcb27e"/>
<rect x="429.86" y="634.36" width="11.04" height="7.46" fill="#fef0d9"/>
<rect x="451.34" y="634.36" width="21.78" height="7.46" fill="#fcb27e"/>
<rect x="548.00" y="634.36" width="11.04" height="7.46" fill="#fef0d9"/>
<rect x="32.48" y="641.52" width="11.04" height="7.46" fill="#fcb27e"/>
<rect x="129.14" y="641.52" width="11.04" height="7.46" fill="#fcb27e"/>
<rect x="150.62" y="641.52" width="32.52" height="7.46" fill="#fcb27e"/>
<rect x="182.84" y="641.52" width="11.04" height="7.46" fill="#ef6a45"/>
<rect x="193.58" y="641.52" width="32.52" height="7.46" fill="#fcb27e"/>
<rect x="268.76" y="641.52" width="11.04" height="7.46" fill="#ef6a45"/>
<rect x="279.50" y="641.52" width="11.04" height="7.46" fill="#fcb27e"/>
<rect x="290.24" y="641.52" width="21.78" height="7.46" fill="#ef6a45"/>
<rect x="311.72" y="641.52" width="86.22" height="7.46" fill="#fcb27e"/>
<rect x="440.60" y="641.52" width="32.52" height="7.46" fill="#fef0d9"/>
<rect x="129.14" y="648.68" width="11.04" height="7.46" fill="#fcb27e"/>
<rect x="150.62" y="648.68" width="32.52" height="7.46" fill="#fcb27e"/>
<rect x="182.84" y="648.68" width="11.04" height="7.46" fill="#ef6a45"/>
<rect x="193.58" y="648.68" width="129.18" height="7.46" fill="#fcb27e"/>
<rect x="343.94" y="648.68" width="54.00" height="7.46" fill="#fcb27e"/>
<rect x="440.60" y="648.68" width="21.78" height="7.46" fill="#fcb27e"/>
<rect x="483.56" y="648.68" width="21.78" height="7.46" fill="#fcb27e"/>
<rect x="150.62" y="655.84" width="75.48" height="7.46" fill="#fcb27e"/>
<rect x="236.54" y="655.84" width="21.78" height="7.46" fill="#fcb27e"/>
<rect x="290.24" y="655.84" width="32.52" height="7.46" fill="#fcb27e"/>
<rect x="343.94" y="655.84" width="11.04" height="7.46" fill="#ef6a45"/>
<rect x="354.68" y="655.84" width="21.78" height="7.46" fill="#fcb27e"/>
<rect x="462.08" y="655.84" width="11.04" height="7.46" fill="#fcb27e"/>
<rect x="483.56" y="655.84" width="11.04" height="7.46" fill="#fcb27e"/>
<rect x="569.48" y="655.84" width="21.78" height="7.46" fill="#fcb27e"/>
<rect x="107.66" y="663.00" width="11.04" height="7.46" fill="#fcb27e"/>
<rect x="161.36" y="663.00" width="32.52" height="7.46" fill="#fcb27e"/>
<rect x="193.58" y="663.00" width="21.78" height="7.46" fill="#ef6a45"/>
<rect x="215.06" y="663.00" width="21.78" height="7.46" fill="#fcb27e"/>
<rect x="290.24" y="663.00" width="11.04" height="7.46" fill="#fcb27e"/>
<rect x="322.46" y="663.00" width="21.78" height="7.46" fill="#fcb27e"/>
<rect x="343.94" y="663.00" width="11.04" height="7.46" fill="#ef6a45"/>
<rect x="354.68" y="663.00" width="21.78" height="7.46" fill="#fcb27e"/>
<rect x="580.22" y="663.00" width="11.04" height="7.46" fill="#fcb27e"/>
<rect x="612.44" y="663.00" width="11.04" height="7.46" fill="#fcb27e"/>
<rect x="161.36" y="670.16" width="32.52" height="7.46" fill="#fcb27e"/>
<rect x="193.58" y="670.16" width="21.78" height="7.46" fill="#ef6a45"/>
<rect x="215.06" y="670.16" width="21.78" height="7.46" fill="#fcb27e"/>
<rect x="290.24" y="670.16" width="11.04" height="7.46" fill="#fcb27e"/>
<rect x="311.72" y="670.16" width="64.74" height="7.46" fill="#fcb27e"/>
<rect x="505.04" y="670.16" width="32.52" height="7.46" fill="#fcb27e"/>
<rect x="548.00" y="670.16" width="11.04" height="7.46" fill="#fcb27e"/>
<rect x="182.84" y="677.32" width="32.52" height="7.46" fill="#fcb27e"/>
<rect x="300.98" y="677.32" width="96.96" height="7.46" fill="#fcb27e"/>
<rect x="515.78" y="677.32" width="32.52" height="7.46" fill="#fcb27e"/>
<rect x="182.84" y="684.48" width="32.52" height="7.46" fill="#fcb27e"/>
<rect x="311.72" y="684.48" width="75.48" height="7.46" fill="#fcb27e"/>
<rect x="193.58" y="691.64" width="11.04" height="7.46" fill="#fcb27e"/>
<rect x="204.32" y="691.64" width="11.04" height="7.46" fill="#fef0d9"/>
<rect x="322.46" y="691.64" width="43.26" height="7.46" fill="#fcb27e"/>
<rect x="333.20" y="698.80" width="21.78" height="7.46" fill="#fcb27e"/>
<rect x="419.12" y="727.44" width="11.04" height="7.46" fill="#fef0d9"/></g>
<path fill="#000" stroke="none" d="M85.3,515.3L88.9,508.7L94.2,504.2L106.8,501.9L124.7,499.8L140.8,496.2L151.5,494.4L161.2,493.3L178.4,492.6L198.1,493.1L194.5,496.2L187.3,498.9L178.4,501.5L173.0,503.7L169.4,506.9L176.6,509.6L183.7,512.3L190.9,515.5L194.5,518.5L201.6,521.6L202.0,523.0L198.1,525.7L195.4,528.4L190.9,529.3L184.6,527.5L180.2,526.1L173.0,525.7L167.6,522.1L162.3,519.4L155.1,518.4L147.9,517.7L142.6,518.9L133.6,519.4L124.7,518.4L115.7,518.9L106.8,518.5L97.8,517.1L90.7,516.6L85.3,515.3ZM332.3,500.6L334.1,498.5L341.3,498.0L345.7,497.4L352.0,497.4L360.9,497.6L357.4,499.2L352.0,500.6L346.6,502.8L341.3,503.9L337.7,503.0L332.3,500.6ZM396.7,497.4L405.7,496.5L416.4,495.3L423.6,496.2L427.2,497.1L416.4,498.0L402.1,498.1L396.7,497.4ZM484.5,500.6L491.6,498.5L498.8,498.9L491.6,496.2L484.5,497.1L484.5,500.6ZM557.8,506.9L563.2,505.1L568.6,505.1L579.3,506.4L574.0,507.3L566.8,509.1L557.8,506.9ZM528.5,608.0L531.4,608.0L531.0,611.6L530.1,615.6L534.6,617.9L533.3,616.5L528.5,615.2L527.4,611.6L528.5,608.0ZM531.0,628.6L534.6,626.8L537.3,623.6L539.2,628.1L537.3,630.8L534.6,629.5L531.0,628.6ZM532.8,620.6L534.6,619.1L537.3,618.8L537.3,622.4L535.5,623.3L533.3,624.5L531.9,622.4L532.8,620.6ZM405.7,513.2L408.4,510.5L411.1,509.6L412.9,507.8L414.6,506.0L420.0,504.8L423.6,504.2L435.2,503.5L430.8,505.1L425.4,506.0L420.0,507.6L416.4,508.7L412.9,511.4L412.9,512.3L416.4,514.4L411.1,514.8L407.5,514.6L405.7,513.2Z"/>
<path fill="none" stroke="#000" stroke-width="4.9" stroke-linejoin="round" stroke-linecap="round" d="M11.9,523.7L15.5,522.7L21.6,521.4L18.2,520.2L14.0,518.9L15.5,517.8L20.8,516.2L26.2,514.8L31.9,513.5L40.5,514.3L46.8,515.3L53.1,515.7L60.2,516.6L67.4,517.7L71.0,516.8L76.3,516.6L81.7,515.9L83.5,514.8L87.1,516.8L90.7,516.8L96.0,516.2L103.2,517.7L108.6,518.9L115.7,519.4L121.1,518.7L126.5,519.4L133.6,519.8L137.2,518.5L140.8,519.4L142.6,516.8L144.4,512.5L147.9,514.1L150.6,517.7L155.1,518.5L159.6,516.2L165.8,516.8L166.7,518.5L162.3,521.2L158.7,522.1L156.9,525.7L151.5,526.6L147.9,529.3L144.4,532.0L143.5,535.6L146.1,536.1L147.0,539.1L151.5,539.1L156.0,541.8L160.5,542.2L165.3,542.5L165.5,546.3L167.6,548.1L170.3,549.0L171.4,547.2L171.2,543.6L174.8,540.0L175.3,537.3L173.0,534.7L173.9,532.9L173.0,529.5L178.4,529.6L181.9,529.8L185.5,531.6L188.2,532.9L188.2,535.9L191.8,536.8L194.5,535.9L197.2,533.2L199.0,536.4L201.6,538.2L203.4,540.9L205.2,542.2L208.8,544.1L211.5,546.3L212.7,548.4L210.6,549.2L205.2,551.3L198.1,551.3L193.6,551.3L190.0,553.1L186.4,556.7L189.1,555.2L194.5,553.5L197.2,553.8L196.3,555.6L196.6,557.4L197.5,558.5L201.6,559.2L203.4,559.5L205.2,558.8L203.4,560.3L199.0,561.3L195.4,563.1L194.1,561.5L197.2,560.1L193.6,560.3L190.9,561.7L187.3,562.9L186.4,565.1L187.3,566.5L184.6,567.1L181.1,568.0L180.2,568.5L180.2,570.5L178.7,571.5L177.5,572.8L176.6,574.9L177.5,578.2L175.7,579.2L173.0,580.5L170.8,581.9L167.6,583.9L167.1,587.5L168.3,590.7L169.4,593.7L168.7,596.1L167.6,596.1L166.2,594.4L164.8,591.9L164.4,589.3L162.3,587.5L159.9,588.0L158.7,586.7L156.0,586.9L153.3,586.9L152.8,589.1L150.6,589.1L147.9,588.2L144.4,588.0L142.6,588.9L139.9,590.5L138.4,591.8L138.1,595.0L137.7,598.2L137.6,601.8L138.6,604.1L140.4,606.8L143.5,608.6L147.0,607.9L149.7,607.7L150.4,605.7L150.8,603.6L154.2,602.7L156.9,602.7L156.3,604.8L155.6,608.0L154.7,609.8L154.6,612.5L156.9,612.9L160.5,612.5L163.5,614.3L163.2,617.9L162.8,620.6L164.0,623.3L166.7,625.1L169.4,624.5L171.2,624.0L173.9,625.4L174.2,626.5L173.7,627.6L172.5,626.3L171.2,625.1L169.8,625.9L168.5,627.9L166.7,626.8L164.4,626.5L162.3,624.3L159.2,623.3L159.0,621.1L156.9,618.8L156.0,617.5L152.4,617.0L148.8,616.1L146.1,613.4L143.5,612.3L139.9,613.1L136.3,612.0L133.6,610.7L130.0,609.3L125.9,607.0L123.8,605.4L124.1,602.7L123.2,600.7L121.4,599.1L119.3,596.4L116.8,594.3L114.8,591.4L111.8,589.4L110.3,586.4L107.1,584.2L107.7,586.9L109.8,589.8L112.1,592.8L113.4,595.0L114.8,598.0L115.9,600.0L115.2,599.1L113.0,597.3L111.8,594.8L109.5,593.2L108.0,591.4L107.1,588.4L105.0,586.6L103.9,584.6L103.0,583.0L101.8,581.0L100.5,580.3L98.7,579.6L96.7,579.2L96.2,577.6L94.4,575.6L93.3,573.9L92.4,572.8L91.2,571.4L90.1,568.8L90.5,566.3L89.8,564.2L90.7,560.6L90.7,558.3L89.4,554.5L92.1,554.9L92.8,553.5L90.7,552.0L88.0,550.8L84.4,549.9L83.5,547.5L79.9,544.5L79.0,542.7L76.3,540.0L73.7,538.2L70.1,536.4L66.5,536.1L62.6,534.1L58.4,533.8L54.9,533.8L50.4,532.3L46.8,532.9L44.1,534.5L40.9,535.2L41.4,532.9L44.1,531.6L39.6,532.9L37.9,534.7L37.0,535.6L37.9,536.8L35.2,537.7L32.5,539.1L28.9,540.9L25.3,541.8L21.7,542.7L17.6,543.6L20.8,542.7L24.4,540.9L28.0,538.2L30.5,536.1L27.1,535.9L22.6,536.3L22.6,534.1L19.1,533.8L16.9,532.3L16.4,530.7L15.5,529.3L18.2,528.0L20.8,528.2L24.4,526.1L24.4,525.5L20.8,525.5L15.5,525.7L14.4,524.5L11.9,523.7M656.3,523.7L659.9,522.7L666.0,521.4L662.6,520.2L658.4,518.9L659.9,517.8L665.2,516.2L670.6,514.8L676.3,513.5L684.9,514.3L691.2,515.3L697.5,515.7L704.6,516.6L711.8,517.7L715.4,516.8L720.7,516.6L726.1,515.9L727.9,514.8L731.5,516.8L735.1,516.8L740.4,516.2L747.6,517.7L753.0,518.9L760.1,519.4L765.5,518.7L770.9,519.4L778.0,519.8L781.6,518.5L785.2,519.4L787.0,516.8L788.8,512.5L792.3,514.1L795.0,517.7L799.5,518.5L804.0,516.2L810.2,516.8L811.1,518.5L806.7,521.2L803.1,522.1L801.3,525.7L795.9,526.6L792.3,529.3L788.8,532.0L787.9,535.6L790.5,536.1L791.4,539.1L795.9,539.1L800.4,541.8L804.9,542.2L809.7,542.5L809.9,546.3L812.0,548.1L814.7,549.0L815.8,547.2L815.6,543.6L819.2,540.0L819.7,537.3L817.4,534.7L818.3,532.9L817.4,529.5L822.8,529.6L826.3,529.8L829.9,531.6L832.6,532.9L832.6,535.9L836.2,536.8L838.9,535.9L841.6,533.2L843.4,536.4L846.0,538.2L847.8,540.9L849.6,542.2L853.2,544.1L855.9,546.3L857.1,548.4L855.0,549.2L849.6,551.3L842.5,551.3L838.0,551.3L834.4,553.1L830.8,556.7L833.5,555.2L838.9,553.5L841.6,553.8L840.7,555.6L841.0,557.4L841.9,558.5L846.0,559.2L847.8,559.5L849.6,558.8L847.8,560.3L843.4,561.3L839.8,563.1L838.5,561.5L841.6,560.1L838.0,560.3L835.3,561.7L831.7,562.9L830.8,565.1L831.7,566.5L829.0,567.1L825.5,568.0L824.6,568.5L824.6,570.5L823.1,571.5L821.9,572.8L821.0,574.9L821.9,578.2L820.1,579.2L817.4,580.5L815.2,581.9L812.0,583.9L811.5,587.5L812.7,590.7L813.8,593.7L813.1,596.1L812.0,596.1L810.6,594.4L809.2,591.9L808.8,589.3L806.7,587.5L804.3,588.0L803.1,586.7L800.4,586.9L797.7,586.9L797.2,589.1L795.0,589.1L792.3,588.2L788.8,588.0L787.0,588.9L784.3,590.5L782.8,591.8L782.5,595.0L782.1,598.2L782.0,601.8L783.0,604.1L784.8,606.8L787.9,608.6L791.4,607.9L794.1,607.7L794.8,605.7L795.2,603.6L798.6,602.7L801.3,602.7L800.7,604.8L800.0,608.0L799.1,609.8L799.0,612.5L801.3,612.9L804.9,612.5L807.9,614.3L807.6,617.9L807.2,620.6L808.4,623.3L811.1,625.1L813.8,624.5L815.6,624.0L818.3,625.4L818.6,626.5L818.1,627.6L816.9,626.3L815.6,625.1L814.2,625.9L812.9,627.9L811.1,626.8L808.8,626.5L806.7,624.3L803.6,623.3L803.4,621.1L801.3,618.8L800.4,617.5L796.8,617.0L793.2,616.1L790.5,613.4L787.9,612.3L784.3,613.1L780.7,612.0L778.0,610.7L774.4,609.3L770.3,607.0L768.2,605.4L768.5,602.7L767.6,600.7L765.8,599.1L763.7,596.4L761.2,594.3L759.2,591.4L756.2,589.4L754.7,586.4L751.5,584.2L752.1,586.9L754.2,589.8L756.5,592.8L757.8,595.0L759.2,598.0L760.3,600.0L759.6,599.1L757.4,597.3L756.2,594.8L753.9,593.2L752.4,591.4L751.5,588.4L749.4,586.6L748.3,584.6L747.4,583.0L746.2,581.0L744.9,580.3L743.1,579.6L741.1,579.2L740.6,577.6L738.8,575.6L737.7,573.9L736.8,572.8L735.6,571.4L734.5,568.8L734.9,566.3L734.2,564.2L735.1,560.6L735.1,558.3L733.8,554.5L736.5,554.9L737.2,553.5L735.1,552.0L732.4,550.8L728.8,549.9L727.9,547.5L724.3,544.5L723.4,542.7L720.7,540.0L718.1,538.2L714.5,536.4L710.9,536.1L707.0,534.1L702.8,533.8L699.3,533.8L694.8,532.3L691.2,532.9L688.5,534.5L685.3,535.2L685.8,532.9L688.5,531.6L684.0,532.9L682.2,534.7L681.4,535.6L682.2,536.8L679.6,537.7L676.9,539.1L673.3,540.9L669.7,541.8L666.1,542.7L662.0,543.6L665.2,542.7L668.8,540.9L672.4,538.2L674.9,536.1L671.5,535.9L667.0,536.3L667.0,534.1L663.5,533.8L661.3,532.3L660.8,530.7L659.9,529.3L662.6,528.0L665.2,528.2L668.8,526.1L668.8,525.5L665.2,525.5L659.9,525.7L658.8,524.5L656.3,523.7M181.9,501.2L190.9,498.9L198.1,496.2L210.6,494.0L232.1,492.9L250.0,491.7L267.9,492.2L276.8,493.5L280.4,495.3L291.1,495.1L284.0,497.4L280.4,499.8L277.7,503.3L279.5,506.0L276.8,507.8L274.1,511.4L273.2,514.1L269.7,515.9L266.1,518.4L258.9,519.1L255.3,519.4L249.1,523.0L244.6,523.6L241.0,524.8L239.2,527.5L236.5,530.2L235.6,532.9L233.3,533.8L230.3,532.3L226.7,532.0L224.0,529.3L222.2,526.6L219.5,524.3L216.8,522.1L216.5,519.4L218.6,518.2L216.0,516.8L221.3,515.0L216.0,514.1L214.2,513.2L212.4,510.5L210.6,507.8L207.9,506.0L203.4,504.9L194.5,504.9L189.1,504.2L184.6,503.0L181.9,501.2M202.0,521.9L199.0,524.8L196.3,526.1L195.4,528.4L190.9,529.3L184.6,527.5L181.1,525.7L176.6,526.1L173.0,525.7L178.4,523.9L181.1,522.1L181.9,520.7L176.6,519.1L171.2,517.3L165.8,516.2L160.5,515.5L154.2,514.6L152.4,513.2L157.8,511.4L160.5,509.2L169.4,509.2L176.6,511.0L181.9,512.3L185.5,514.1L190.0,515.0L192.7,516.8L193.6,518.9L199.8,520.9L202.0,521.9M178.4,504.2L169.4,504.6L160.5,504.2L153.3,503.3L156.0,501.5L147.9,498.9L144.4,496.2L160.5,494.4L178.4,492.9L196.3,492.6L203.4,493.5L194.5,496.2L187.3,498.0L178.4,499.8L173.0,502.4L178.4,504.2M151.5,499.8L141.7,497.1L147.9,495.8L156.9,498.0L151.5,499.8M169.4,507.8L158.7,507.8L147.9,507.3L140.8,504.6L147.9,503.7L155.1,504.0L165.8,505.5L169.4,507.8M102.3,515.9L103.2,513.4L106.8,511.6L112.1,510.5L119.3,510.9L123.8,510.5L125.6,512.8L131.8,514.6L129.1,517.1L122.9,517.3L118.4,518.4L110.3,518.5L103.2,517.7L102.3,515.9M88.9,512.6L89.8,509.6L94.2,507.8L101.4,508.3L105.0,509.6L105.9,511.7L99.6,513.4L95.1,513.5L88.9,512.6M103.2,505.1L112.1,504.4L124.7,505.3L122.0,507.3L115.7,507.8L110.3,507.8L103.2,506.6L103.2,505.1M126.5,504.2L137.2,503.7L138.1,506.6L133.6,507.3L126.5,506.6L126.5,504.2M139.0,513.2L133.6,512.3L130.0,511.0L130.9,509.1L138.1,508.7L139.9,510.9L139.0,513.2M144.4,512.3L141.7,510.5L141.7,508.7L150.6,508.7L149.7,510.5L146.1,512.3L144.4,512.3M139.0,518.5L135.4,517.7L138.1,516.2L140.8,516.8L139.0,518.5M158.7,527.0L167.6,526.1L168.5,527.5L163.2,528.8L157.8,527.0L156.9,525.7L158.7,523.9L161.4,524.3L158.7,527.0M206.5,556.0L212.4,556.0L216.8,557.6L218.1,556.1L216.8,554.3L216.8,552.6L213.3,551.8L213.3,549.0L210.6,550.8L207.9,553.5L206.5,556.0M272.3,526.6L269.7,523.9L273.2,522.3L279.5,522.7L284.0,522.1L286.7,522.8L288.4,524.5L285.8,526.1L279.5,527.7L275.0,527.0L272.3,526.6M174.2,626.5L175.1,625.8L177.5,622.4L180.2,621.1L182.8,620.0L184.6,619.0L185.2,621.5L184.3,622.5L185.5,621.5L187.3,619.3L190.0,621.1L190.9,622.4L194.5,622.2L198.1,622.4L201.6,622.0L203.4,623.3L204.3,625.9L206.1,626.8L208.8,629.0L210.6,630.4L214.2,630.4L217.7,631.1L219.5,632.2L221.3,634.0L222.2,637.6L223.1,639.4L222.8,641.2L225.8,642.6L228.5,642.2L232.1,643.8L233.9,645.6L237.4,646.0L241.0,646.2L243.7,647.8L246.4,649.8L249.6,650.6L250.1,655.5L249.4,658.2L246.4,660.9L244.6,663.5L243.7,664.4L242.8,668.0L242.8,672.5L241.6,676.1L240.1,678.8L239.2,680.5L237.4,682.3L233.9,682.3L232.1,683.6L229.4,684.1L226.7,686.4L225.8,688.2L225.6,692.2L223.1,694.9L221.3,696.7L219.0,698.8L217.7,701.5L215.4,703.3L212.4,703.6L210.2,702.7L208.3,702.0L210.6,704.7L209.7,706.5L209.7,709.5L206.1,710.6L201.6,711.0L201.1,714.2L196.3,714.6L198.1,716.9L199.0,717.2L196.3,718.1L195.7,720.8L191.8,723.5L191.8,724.4L194.8,726.7L191.8,729.4L190.4,731.0L189.1,733.5L190.0,734.8L191.8,737.5L195.4,739.3L193.9,739.6L192.1,741.2L189.1,740.5L186.4,739.6L182.8,737.8L181.1,735.7L179.3,733.3L177.5,728.9L179.3,725.3L177.5,724.4L180.2,721.7L181.1,719.0L180.2,716.3L180.7,712.8L181.1,708.3L182.8,703.8L184.1,700.2L184.6,694.9L185.0,691.3L186.1,685.9L186.4,682.3L187.0,677.9L186.8,674.3L184.6,672.5L181.9,670.7L178.4,668.5L176.0,665.9L174.8,662.6L173.0,660.0L170.3,654.6L167.6,651.9L167.1,649.4L168.9,647.2L169.4,645.6L167.8,645.1L168.5,643.0L169.4,640.3L171.2,638.5L172.1,636.7L173.9,634.4L174.1,630.4L173.7,627.6M160.6,602.0L164.0,600.2L165.8,599.8L168.9,600.0L171.2,600.9L173.9,602.3L177.1,603.6L179.8,605.0L176.9,605.5L173.9,605.5L174.8,604.5L172.1,602.7L168.5,601.8L166.2,601.4L163.2,601.8L160.6,602.0M179.4,608.0L182.5,605.5L185.5,605.5L188.2,606.6L190.2,607.9L187.3,608.6L185.2,609.7L182.8,608.6L179.4,608.4L179.4,608.0M172.5,608.2L176.0,608.6L175.1,609.1L172.6,608.6L172.5,608.2M192.3,608.0L195.2,608.2L195.0,608.9L192.3,608.9L192.3,608.0M371.0,587.6L374.0,591.4L375.3,588.4L375.4,590.9L377.9,594.6L379.2,596.4L381.0,599.1L382.4,602.7L384.2,605.4L386.0,608.0L387.8,611.6L389.0,613.1L390.3,618.6L393.2,618.2L396.7,617.0L399.4,616.1L403.0,614.3L405.7,613.2L408.4,611.6L411.1,610.7L412.9,609.3L414.6,607.3L416.1,606.3L417.3,604.6L419.7,601.1L417.9,599.1L414.6,598.2L413.6,597.1L413.4,594.1L412.0,595.5L409.3,597.8L406.6,597.8L405.0,597.8L404.8,595.5L403.9,594.6L403.0,595.5L402.1,594.3L401.2,592.8L399.6,591.0L398.5,587.6L400.3,586.9L402.5,587.8L403.5,590.0L404.8,591.2L407.5,592.8L409.3,593.4L412.0,593.5L413.8,592.7L415.5,595.2L419.1,595.7L422.7,596.1L427.2,595.9L431.7,595.7L432.5,596.8L434.3,598.6L435.2,599.1L437.0,600.4L437.9,600.0L438.5,600.9L435.9,601.2L436.5,602.5L437.9,603.6L439.7,604.1L442.0,603.0L442.6,602.7L442.9,605.4L442.9,607.2L443.3,609.8L444.7,613.4L446.0,616.1L446.9,618.8L448.1,621.1L449.2,623.6L450.1,625.4L451.3,626.7L452.6,625.2L454.0,624.5L454.6,622.7L455.5,622.7L455.6,619.7L456.4,617.9L456.2,613.4L457.6,612.7L459.9,611.4L462.1,609.3L464.8,606.3L467.4,605.0L468.2,603.6L469.2,602.5L471.0,602.3L471.9,601.8L473.7,602.0L474.8,600.7L476.9,601.1L477.8,604.1L479.1,605.7L481.8,607.2L481.4,611.6L483.2,612.9L485.4,611.1L487.5,611.6L487.3,614.3L488.4,617.0L488.9,619.7L488.6,623.3L488.9,626.5L488.6,627.2L490.7,629.5L492.2,632.2L492.9,634.9L493.9,636.1L496.1,637.8L497.9,638.8L499.1,638.7L498.4,636.1L497.7,633.1L495.6,630.1L494.3,629.0L492.3,628.1L491.6,625.9L490.2,623.3L490.5,620.6L491.6,618.2L492.5,617.0L493.2,618.4L494.8,618.4L497.0,620.6L497.9,622.2L499.7,622.5L500.6,622.4L500.2,625.8L501.5,625.1L503.2,624.2L504.1,622.5L506.8,621.1L508.1,619.7L508.1,617.0L507.5,613.8L505.9,612.0L504.1,611.1L502.7,609.3L501.8,607.7L503.4,605.0L505.0,602.7L506.8,602.5L509.0,602.7L509.5,604.8L510.4,603.2L511.3,602.9L514.0,602.1L516.7,601.2L519.4,600.4L522.0,599.1L524.7,597.3L526.7,595.5L526.9,593.5L528.3,592.5L530.1,591.0L531.0,587.8L530.1,586.0L530.8,585.3L529.2,583.9L528.3,582.1L526.0,579.2L526.5,577.6L528.3,576.7L530.1,575.5L531.9,574.4L530.1,574.0L528.3,573.7L526.3,574.8L524.7,573.1L523.5,572.1L523.1,571.0L524.7,571.0L526.5,569.9L528.3,568.7L529.6,568.0L531.4,568.8L530.1,570.5L530.6,571.4L531.9,570.5L533.7,569.9L535.8,570.3L536.9,570.6L536.4,572.2L536.4,573.7L539.0,574.9L538.7,577.6L538.7,579.4L540.8,579.2L542.6,578.5L544.1,578.0L544.2,576.7L544.2,574.9L542.6,572.6L541.7,570.3L540.8,569.9L544.4,567.8L544.8,566.9L546.6,565.4L548.0,564.7L549.8,563.8L551.6,564.5L554.3,562.9L557.0,561.0L559.6,558.8L560.5,557.0L563.2,555.2L564.1,554.3L565.7,551.7L565.7,549.0L565.0,546.3L563.2,545.4L560.5,544.5L558.7,543.6L557.8,544.5L554.6,543.2L557.8,540.9L561.4,538.6L564.1,537.3L566.8,535.6L568.6,534.8L573.1,534.8L577.5,535.0L580.2,534.3L584.7,535.2L588.3,535.0L590.1,534.1L591.9,530.9L595.4,530.5L599.0,530.7L604.4,530.2L599.9,532.9L595.4,537.3L592.8,538.2L591.9,540.9L591.3,544.5L592.4,547.2L593.1,549.9L595.4,548.1L596.3,547.2L598.7,545.8L599.0,544.5L602.2,542.9L602.6,540.4L604.9,540.0L603.5,537.9L605.3,536.4L605.3,533.9L608.0,533.4L609.8,533.8L611.5,533.0L616.9,533.8L620.5,532.3L622.3,532.0L625.9,530.2L630.3,529.3L633.0,529.3L633.4,528.2L636.6,526.6L638.4,525.2L642.0,525.7L645.6,525.9L647.3,524.8L650.9,523.9L653.3,522.8L649.1,521.6L645.6,521.2L640.2,520.3L636.6,518.5L634.8,517.8L627.7,516.2L622.3,516.0L616.9,515.9L611.5,516.4L606.2,516.4L600.8,516.6L597.2,514.4L590.1,514.1L584.7,514.3L581.1,513.2L574.0,511.7L568.6,511.0L561.4,513.2L556.1,513.2L548.9,513.7L546.2,514.4L544.4,512.3L541.7,510.7L539.9,509.6L534.6,509.2L529.2,510.7L523.8,509.6L520.3,509.4L515.8,509.6L513.1,509.2L510.4,508.7L511.3,509.6L507.7,509.8L504.1,510.1L502.4,509.6L505.9,508.7L513.1,505.8L515.8,504.8L509.5,503.3L504.1,503.7L499.3,502.1L493.4,504.2L488.0,504.6L482.7,505.1L473.7,506.0L470.1,506.9L467.4,507.8L466.6,509.1L468.3,509.6L467.4,510.9L463.0,511.4L457.6,511.7L456.7,509.6L452.2,511.6L448.7,513.2L446.9,511.4L445.1,510.5L444.2,510.9L442.9,511.9L442.9,514.4L442.4,516.8L444.2,518.5L443.3,521.2L441.5,522.1L439.7,521.4L438.8,522.1L436.1,521.8L437.9,518.5L435.2,518.5L433.4,517.3L431.7,515.0L433.4,513.5L435.2,511.4L437.0,509.6L439.7,510.1L441.5,510.9L442.4,512.3L440.6,514.1L442.4,513.2L436.1,515.0L435.2,516.2L432.5,517.7L430.8,517.1L427.2,517.1L421.8,516.2L418.2,518.5L414.6,518.5L410.2,518.9L407.5,518.5L402.1,519.4L395.0,519.6L391.4,518.5L390.5,520.0L391.4,522.8L387.8,522.1L385.1,522.7L384.2,525.5L380.6,526.2L378.8,527.0L375.3,526.2L374.9,525.7L377.1,523.9L372.6,522.1L375.3,522.7L380.6,523.0L386.0,522.7L386.0,520.3L382.4,519.4L377.9,517.7L371.7,517.1L368.1,515.3L364.5,515.9L364.0,514.3L358.8,513.9L354.7,514.4L350.2,515.5L346.6,516.2L343.0,517.7L341.3,518.4L338.6,519.4L337.7,520.3L335.0,523.0L334.1,524.8L331.8,525.3L330.5,526.6L327.8,527.5L325.1,528.4L321.9,529.8L321.6,532.0L321.6,533.8L322.6,536.1L324.2,537.3L326.9,537.2L329.6,535.6L331.6,535.2L332.3,535.6L333.7,537.3L335.0,539.1L335.5,541.6L338.2,541.8L341.3,540.6L342.2,538.2L342.2,536.4L345.7,535.2L346.1,533.8L343.2,532.0L343.9,529.5L347.5,527.5L351.1,525.7L352.0,523.9L355.6,523.4L357.9,524.8L356.5,525.7L352.9,527.5L351.1,529.3L351.1,532.0L352.9,533.4L355.6,533.4L359.2,533.0L362.7,532.9L366.3,533.8L362.7,534.7L359.2,534.7L355.6,534.8L354.7,536.4L356.3,537.5L355.6,538.8L354.7,538.8L352.0,538.1L350.2,539.5L350.2,542.4L348.4,543.1L345.7,543.1L341.3,544.0L338.6,544.5L335.9,543.6L332.3,544.5L330.5,543.6L330.2,542.7L331.1,540.6L331.4,537.9L327.3,539.5L328.0,541.8L328.0,544.7L325.1,545.2L321.6,545.8L320.7,547.2L318.9,549.2L317.1,549.7L315.5,551.3L313.0,552.6L310.1,552.2L309.9,554.0L307.2,553.8L304.6,554.2L304.2,555.2L308.1,556.5L310.5,558.8L310.5,561.5L309.4,563.5L307.2,563.5L303.7,563.3L298.3,562.9L296.0,564.2L296.7,565.1L297.0,567.8L295.6,571.4L296.9,571.9L296.7,574.9L299.4,574.6L301.3,575.3L302.6,576.7L304.7,575.5L308.9,575.5L310.8,573.9L312.1,572.2L312.6,570.5L314.2,567.8L318.3,566.2L318.3,563.8L321.6,563.7L324.2,564.0L326.0,562.8L328.4,561.7L330.5,562.4L331.4,564.2L332.3,565.1L335.0,566.7L338.0,568.1L340.5,569.6L340.7,573.1L342.2,571.4L343.0,570.5L343.0,568.7L345.7,569.4L344.8,568.5L341.3,566.9L338.6,565.6L337.3,565.1L334.6,561.9L334.6,560.1L337.0,559.4L337.0,560.3L338.6,560.3L340.4,562.4L343.0,563.7L345.7,565.1L347.5,566.0L347.3,568.7L348.4,570.1L350.4,572.6L351.1,575.3L352.9,575.8L353.8,574.0L353.8,573.1L355.6,572.8L353.4,570.5L353.4,568.7L355.6,568.1L359.2,568.1L360.1,568.7L359.5,569.7L360.1,572.2L361.3,574.0L362.7,575.3L367.2,576.0L370.8,576.5L374.4,575.3L377.1,575.8L376.7,577.6L376.2,579.4L375.3,582.5L374.0,585.1L370.4,585.1M-273.4,587.6L-270.4,591.4L-269.1,588.4L-269.0,590.9L-266.4,594.6L-265.2,596.4L-263.4,599.1L-262.0,602.7L-260.2,605.4L-258.4,608.0L-256.6,611.6L-255.4,613.1L-254.1,618.6L-251.2,618.2L-247.7,617.0L-245.0,616.1L-241.4,614.3L-238.7,613.2L-236.0,611.6L-233.3,610.7L-231.5,609.3L-229.8,607.3L-228.3,606.3L-227.1,604.6L-224.7,601.1L-226.5,599.1L-229.8,598.2L-230.8,597.1L-231.0,594.1L-232.4,595.5L-235.1,597.8L-237.8,597.8L-239.4,597.8L-239.6,595.5L-240.5,594.6L-241.4,595.5L-242.3,594.3L-243.2,592.8L-244.8,591.0L-245.9,587.6L-244.1,586.9L-241.9,587.8L-240.9,590.0L-239.6,591.2L-236.9,592.8L-235.1,593.4L-232.4,593.5L-230.7,592.7L-228.9,595.2L-225.3,595.7L-221.7,596.1L-217.2,595.9L-212.8,595.7L-211.9,596.8L-210.1,598.6L-209.2,599.1L-207.4,600.4L-206.5,600.0L-205.9,600.9L-208.5,601.2L-207.9,602.5L-206.5,603.6L-204.7,604.1L-202.4,603.0L-201.8,602.7L-201.5,605.4L-201.5,607.2L-201.1,609.8L-199.7,613.4L-198.4,616.1L-197.5,618.8L-196.3,621.1L-195.2,623.6L-194.3,625.4L-193.1,626.7L-191.8,625.2L-190.4,624.5L-189.8,622.7L-188.9,622.7L-188.8,619.7L-188.0,617.9L-188.2,613.4L-186.8,612.7L-184.5,611.4L-182.3,609.3L-179.6,606.3L-177.0,605.0L-176.2,603.6L-175.2,602.5L-173.4,602.3L-172.5,601.8L-170.7,602.0L-169.6,600.7L-167.5,601.1L-166.6,604.1L-165.3,605.7L-162.6,607.2L-163.0,611.6L-161.2,612.9L-159.1,611.1L-156.9,611.6L-157.1,614.3L-156.0,617.0L-155.5,619.7L-155.8,623.3L-155.5,626.5L-155.8,627.2L-153.7,629.5L-152.2,632.2L-151.5,634.9L-150.5,636.1L-148.3,637.8L-146.5,638.8L-145.3,638.7L-146.0,636.1L-146.7,633.1L-148.8,630.1L-150.1,629.0L-152.1,628.1L-152.8,625.9L-154.2,623.3L-153.9,620.6L-152.8,618.2L-151.9,617.0L-151.2,618.4L-149.6,618.4L-147.4,620.6L-146.5,622.2L-144.7,622.5L-143.8,622.4L-144.2,625.8L-142.9,625.1L-141.2,624.2L-140.3,622.5L-137.6,621.1L-136.3,619.7L-136.3,617.0L-136.9,613.8L-138.5,612.0L-140.3,611.1L-141.7,609.3L-142.6,607.7L-141.0,605.0L-139.4,602.7L-137.6,602.5L-135.4,602.7L-134.9,604.8L-134.0,603.2L-133.1,602.9L-130.4,602.1L-127.7,601.2L-125.0,600.4L-122.4,599.1L-119.7,597.3L-117.7,595.5L-117.5,593.5L-116.1,592.5L-114.3,591.0L-113.4,587.8L-114.3,586.0L-113.6,585.3L-115.2,583.9L-116.1,582.1L-118.4,579.2L-117.9,577.6L-116.1,576.7L-114.3,575.5L-112.5,574.4L-114.3,574.0L-116.1,573.7L-118.1,574.8L-119.7,573.1L-120.9,572.1L-121.3,571.0L-119.7,571.0L-117.9,569.9L-116.1,568.7L-114.8,568.0L-113.0,568.8L-114.3,570.5L-113.8,571.4L-112.5,570.5L-110.7,569.9L-108.6,570.3L-107.5,570.6L-108.0,572.2L-108.0,573.7L-105.4,574.9L-105.7,577.6L-105.7,579.4L-103.6,579.2L-101.8,578.5L-100.3,578.0L-100.2,576.7L-100.2,574.9L-101.8,572.6L-102.7,570.3L-103.6,569.9L-100.0,567.8L-99.6,566.9L-97.8,565.4L-96.4,564.7L-94.6,563.8L-92.8,564.5L-90.1,562.9L-87.5,561.0L-84.8,558.8L-83.9,557.0L-81.2,555.2L-80.3,554.3L-78.7,551.7L-78.7,549.0L-79.4,546.3L-81.2,545.4L-83.9,544.5L-85.7,543.6L-86.6,544.5L-89.8,543.2L-86.6,540.9L-83.0,538.6L-80.3,537.3L-77.6,535.6L-75.8,534.8L-71.3,534.8L-66.9,535.0L-64.2,534.3L-59.7,535.2L-56.1,535.0L-54.3,534.1L-52.5,530.9L-49.0,530.5L-45.4,530.7L-40.0,530.2L-44.5,532.9L-49.0,537.3L-51.6,538.2L-52.5,540.9L-53.1,544.5L-52.0,547.2L-51.3,549.9L-49.0,548.1L-48.1,547.2L-45.7,545.8L-45.4,544.5L-42.2,542.9L-41.8,540.4L-39.5,540.0L-40.9,537.9L-39.1,536.4L-39.1,533.9L-36.4,533.4L-34.6,533.8L-32.9,533.0L-27.5,533.8L-23.9,532.3L-22.1,532.0L-18.5,530.2L-14.1,529.3L-11.4,529.3L-11.0,528.2L-7.8,526.6L-6.0,525.2L-2.4,525.7L1.2,525.9L2.9,524.8L6.5,523.9L8.9,522.8L4.7,521.6L1.2,521.2L-4.2,520.3L-7.8,518.5L-9.6,517.8L-16.7,516.2L-22.1,516.0L-27.5,515.9L-32.9,516.4L-38.2,516.4L-43.6,516.6L-47.2,514.4L-54.3,514.1L-59.7,514.3L-63.3,513.2L-70.4,511.7L-75.8,511.0L-83.0,513.2L-88.3,513.2L-95.5,513.7L-98.2,514.4L-100.0,512.3L-102.7,510.7L-104.5,509.6L-109.8,509.2L-115.2,510.7L-120.6,509.6L-124.1,509.4L-128.6,509.6L-131.3,509.2L-134.0,508.7L-133.1,509.6L-136.7,509.8L-140.3,510.1L-142.0,509.6L-138.5,508.7L-131.3,505.8L-128.6,504.8L-134.9,503.3L-140.3,503.7L-145.1,502.1L-151.0,504.2L-156.4,504.6L-161.7,505.1L-170.7,506.0L-174.3,506.9L-177.0,507.8L-177.8,509.1L-176.1,509.6L-177.0,510.9L-181.4,511.4L-186.8,511.7L-187.7,509.6L-192.2,511.6L-195.7,513.2L-197.5,511.4L-199.3,510.5L-200.2,510.9L-201.5,511.9L-201.5,514.4L-202.0,516.8L-200.2,518.5L-201.1,521.2L-202.9,522.1L-204.7,521.4L-205.6,522.1L-208.3,521.8L-206.5,518.5L-209.2,518.5L-211.0,517.3L-212.8,515.0L-211.0,513.5L-209.2,511.4L-207.4,509.6L-204.7,510.1L-202.9,510.9L-202.0,512.3L-203.8,514.1L-202.0,513.2L-208.3,515.0L-209.2,516.2L-211.9,517.7L-213.6,517.1L-217.2,517.1L-222.6,516.2L-226.2,518.5L-229.8,518.5L-234.2,518.9L-236.9,518.5L-242.3,519.4L-249.4,519.6L-253.0,518.5L-253.9,520.0L-253.0,522.8L-256.6,522.1L-259.3,522.7L-260.2,525.5L-263.8,526.2L-265.6,527.0L-269.1,526.2L-269.5,525.7L-267.3,523.9L-271.8,522.1L-269.1,522.7L-263.8,523.0L-258.4,522.7L-258.4,520.3L-262.0,519.4L-266.4,517.7L-272.7,517.1L-276.3,515.3L-279.9,515.9L-280.4,514.3L-285.6,513.9L-289.7,514.4L-294.2,515.5L-297.8,516.2L-301.4,517.7L-303.1,518.4L-305.8,519.4L-306.7,520.3L-309.4,523.0L-310.3,524.8L-312.6,525.3L-313.9,526.6L-316.6,527.5L-319.3,528.4L-322.5,529.8L-322.8,532.0L-322.8,533.8L-321.8,536.1L-320.2,537.3L-317.5,537.2L-314.8,535.6L-312.8,535.2L-312.1,535.6L-310.7,537.3L-309.4,539.1L-308.9,541.6L-306.2,541.8L-303.1,540.6L-302.2,538.2L-302.2,536.4L-298.7,535.2L-298.3,533.8L-301.2,532.0L-300.5,529.5L-296.9,527.5L-293.3,525.7L-292.4,523.9L-288.8,523.4L-286.5,524.8L-287.9,525.7L-291.5,527.5L-293.3,529.3L-293.3,532.0L-291.5,533.4L-288.8,533.4L-285.2,533.0L-281.7,532.9L-278.1,533.8L-281.7,534.7L-285.2,534.7L-288.8,534.8L-289.7,536.4L-288.1,537.5L-288.8,538.8L-289.7,538.8L-292.4,538.1L-294.2,539.5L-294.2,542.4L-296.0,543.1L-298.7,543.1L-303.1,544.0L-305.8,544.5L-308.5,543.6L-312.1,544.5L-313.9,543.6L-314.2,542.7L-313.3,540.6L-313.0,537.9L-317.1,539.5L-316.4,541.8L-316.4,544.7L-319.3,545.2L-322.8,545.8L-323.7,547.2L-325.5,549.2L-327.3,549.7L-328.9,551.3L-331.4,552.6L-334.3,552.2L-334.5,554.0L-337.2,553.8L-339.8,554.2L-340.2,555.2L-336.3,556.5L-333.9,558.8L-333.9,561.5L-335.0,563.5L-337.2,563.5L-340.7,563.3L-346.1,562.9L-348.4,564.2L-347.7,565.1L-347.4,567.8L-348.8,571.4L-347.5,571.9L-347.7,574.9L-345.0,574.6L-343.1,575.3L-341.8,576.7L-339.7,575.5L-335.5,575.5L-333.6,573.9L-332.3,572.2L-331.8,570.5L-330.2,567.8L-326.1,566.2L-326.1,563.8L-322.8,563.7L-320.2,564.0L-318.4,562.8L-316.0,561.7L-313.9,562.4L-313.0,564.2L-312.1,565.1L-309.4,566.7L-306.4,568.1L-303.9,569.6L-303.7,573.1L-302.2,571.4L-301.4,570.5L-301.4,568.7L-298.7,569.4L-299.6,568.5L-303.1,566.9L-305.8,565.6L-307.1,565.1L-309.8,561.9L-309.8,560.1L-307.4,559.4L-307.4,560.3L-305.8,560.3L-304.0,562.4L-301.4,563.7L-298.7,565.1L-296.9,566.0L-297.1,568.7L-296.0,570.1L-294.0,572.6L-293.3,575.3L-291.5,575.8L-290.6,574.0L-290.6,573.1L-288.8,572.8L-291.0,570.5L-291.0,568.7L-288.8,568.1L-285.2,568.1L-284.4,568.7L-284.9,569.7L-284.4,572.2L-283.1,574.0L-281.7,575.3L-277.2,576.0L-273.6,576.5L-270.0,575.3L-267.3,575.8L-267.7,577.6L-268.2,579.4L-269.1,582.5L-270.4,585.1L-274.0,585.1M364.5,567.4L363.8,563.3L364.2,561.0L366.0,559.7L367.2,557.9L369.0,557.7L371.7,558.8L370.8,559.9L372.6,561.5L374.4,561.5L376.2,560.6L378.1,560.1L379.7,561.1L381.5,561.9L383.9,563.5L387.1,566.7L384.2,567.8L380.6,567.8L377.1,566.5L375.3,566.0L371.7,566.0L369.0,567.4L364.5,567.4M371.0,587.6L372.6,592.8L374.4,595.5L376.2,598.2L377.9,600.9L379.2,603.6L379.6,608.9L381.7,608.9L383.7,613.4L385.1,614.7L387.3,617.0L389.9,620.6L392.3,622.5L396.7,621.3L400.3,620.9L404.3,620.0L403.9,622.4L403.5,625.1L401.2,629.5L398.5,633.1L395.9,636.1L393.7,637.6L391.4,639.4L387.8,642.6L386.9,644.6L384.6,646.5L382.8,650.1L382.1,652.8L383.0,656.4L384.2,659.1L385.1,660.0L385.3,667.1L384.2,670.2L382.4,671.6L378.8,674.3L376.2,677.9L375.8,680.5L376.2,684.1L373.5,685.9L371.5,687.5L371.3,690.4L370.8,692.2L368.1,694.7L366.3,697.2L362.7,699.9L360.1,701.7L358.4,702.0L353.8,702.0L352.0,702.4L348.4,703.5L345.6,702.4L345.4,700.2L344.8,699.3L343.4,694.0L342.2,692.4L340.0,689.5L339.5,689.0L338.6,682.2L336.2,677.0L333.7,672.1L333.7,669.4L334.6,665.3L337.1,661.7L336.2,657.3L334.6,652.1L333.7,649.2L331.4,646.5L329.3,643.0L329.6,639.4L330.2,636.1L330.0,634.4L328.2,633.1L326.0,633.3L323.4,633.5L321.6,631.1L320.7,629.9L318.0,629.7L316.2,629.9L314.4,630.6L310.8,632.0L309.0,632.6L307.2,632.2L303.7,632.0L299.2,633.3L297.4,632.6L295.6,630.8L292.9,629.0L290.2,627.7L289.3,626.8L288.8,625.1L288.1,624.2L286.7,622.4L284.9,620.6L282.7,618.8L282.5,617.0L281.3,614.8L282.2,613.4L283.1,611.6L283.4,608.9L283.4,606.3L282.1,603.9L282.7,601.8L283.6,599.1L285.8,597.3L286.7,594.6L289.0,591.8L292.0,590.7L294.4,589.3L295.1,588.4L295.1,584.8L296.5,583.0L297.4,581.6L300.4,580.3L301.3,578.5L302.1,577.1L303.1,576.9L304.6,578.2L309.0,578.3L310.8,577.4L312.6,576.9L315.3,575.8L318.0,575.3L321.6,575.3L324.2,574.9L327.8,575.1L330.2,574.4L331.1,574.4L332.3,575.3L331.4,576.7L332.5,578.2L330.9,579.8L330.7,580.7L333.2,581.7L336.2,582.3L339.8,583.3L340.9,585.1L343.9,586.2L346.6,586.9L348.6,584.8L348.4,583.5L351.1,582.3L353.8,582.8L357.4,584.6L360.9,585.1L364.5,585.9L366.3,585.1L369.0,584.8L370.4,585.1L371.0,587.6M400.9,662.6L403.0,668.9L401.2,671.6L399.4,677.9L397.1,685.9L393.5,686.8L390.8,683.2L390.1,679.6L392.1,676.1L391.4,671.6L395.0,669.4L398.4,665.7L400.9,662.6M455.6,630.1L455.5,626.8L456.0,623.6L458.1,625.9L459.2,628.6L458.0,630.1L456.0,630.4L455.6,630.1M302.4,551.5L307.2,550.4L315.1,549.5L315.7,546.8L313.2,545.4L312.3,544.1L309.8,541.6L308.9,538.8L309.4,538.1L306.7,536.3L303.7,536.3L302.4,538.6L302.6,540.9L303.8,542.4L307.2,542.9L306.5,544.0L307.2,545.8L304.4,545.8L305.3,547.5L303.1,548.6L307.1,549.2L304.6,549.9L302.4,551.5M301.9,547.7L301.5,544.7L302.4,543.4L299.5,542.2L297.4,543.6L294.7,544.1L295.1,545.8L294.2,548.3L295.4,549.0L297.9,548.4L301.9,547.7M329.4,564.2L329.6,566.0L329.1,567.1L328.0,566.2L329.4,564.2M330.0,567.8L329.8,571.0L327.8,571.4L327.7,568.5L330.0,567.8M334.8,573.1L340.5,572.8L339.6,575.5L335.0,573.9L334.8,573.1M354.7,577.6L359.7,578.2L356.5,578.5L354.7,577.6M370.4,578.5L374.4,577.4L373.1,579.0L370.4,578.5M545.7,585.1L547.5,585.0L548.7,581.7L551.6,581.4L554.4,580.7L557.5,579.8L560.9,579.0L562.9,578.5L564.8,576.7L565.0,572.6L566.6,570.5L565.9,567.2L563.2,566.9L563.0,569.6L562.7,572.2L560.5,574.4L558.4,575.3L556.1,577.3L550.7,577.6L547.1,579.6L544.6,581.6L545.7,585.1M563.2,567.1L565.4,566.3L568.9,566.0L573.1,563.7L572.2,562.0L566.6,559.7L566.1,563.3L563.9,563.7L563.2,567.1M566.8,558.8L569.5,557.9L568.6,553.5L571.3,553.5L568.6,549.0L568.4,544.0L567.2,544.5L566.8,549.9L566.8,558.8M529.2,601.8L530.8,596.4L529.2,596.1L527.6,599.1L529.2,601.8M507.2,606.8L510.4,605.2L511.3,606.1L508.6,608.6L507.2,606.8M528.5,608.0L531.4,608.0L531.0,611.6L530.1,615.6L534.6,617.9L533.3,616.5L528.5,615.2L527.4,611.6L528.5,608.0M531.0,628.6L534.6,626.8L537.3,623.6L539.2,628.1L537.3,630.8L534.6,629.5L531.0,628.6M532.8,620.6L534.6,619.1L537.3,618.8L537.3,622.4L535.5,623.3L533.3,624.5L531.9,622.4L532.8,620.6M528.3,617.0L530.1,617.9L529.6,619.3L528.3,617.0M522.4,626.1L526.5,621.1L525.6,622.4L522.4,626.1M483.2,631.1L487.1,631.9L491.6,636.7L494.3,638.5L497.9,643.0L502.4,646.5L502.4,651.5L499.7,651.7L495.7,648.3L492.5,643.8L489.3,638.1L485.4,634.9L483.2,631.1M500.9,653.3L502.4,651.9L506.5,652.3L510.4,653.5L514.2,653.5L517.6,655.1L517.4,656.7L509.5,655.8L503.2,654.4L500.9,653.3M518.5,656.0L521.2,656.9L524.7,656.4L527.4,656.7L532.4,656.0L527.4,657.1L522.0,657.3L518.5,656.0M533.9,659.6L536.4,657.6L540.5,656.2L537.3,658.2L533.9,659.6M507.7,637.9L510.4,638.1L512.2,636.1L514.9,635.4L519.4,631.7L522.0,628.6L526.0,631.7L523.8,633.5L523.1,635.8L525.4,639.4L522.9,641.2L521.2,643.8L520.6,648.0L517.6,647.6L514.9,646.9L512.2,646.5L509.9,646.4L509.5,643.0L507.7,641.2L507.7,637.9M526.5,651.0L526.5,647.4L525.3,646.0L527.1,641.2L528.3,639.4L531.9,639.4L535.5,638.5L536.7,638.5L533.7,640.3L529.2,640.3L528.7,643.0L530.1,643.0L533.3,642.8L530.3,644.6L531.9,647.4L533.1,649.8L530.1,649.6L528.7,646.2L528.0,651.0L526.5,651.0M540.8,637.6L541.7,639.4L543.0,638.5L541.7,641.2L542.6,642.6L540.8,642.1L540.8,637.6M541.7,646.9L546.7,648.0L544.4,646.9L541.7,646.9M547.1,643.5L549.8,641.9L552.5,642.6L555.2,647.1L559.6,644.0L565.0,645.8L571.3,648.0L573.6,650.6L576.6,651.9L577.2,654.6L578.4,657.3L581.1,659.6L582.0,659.8L577.5,659.2L574.0,655.5L570.4,654.9L569.5,657.6L566.8,657.6L565.0,657.6L561.4,655.5L559.6,656.2L559.3,651.0L554.3,649.2L550.7,648.3L548.9,646.2L551.6,645.3L548.9,644.7L547.1,643.5M578.1,651.0L582.0,651.0L584.7,648.9L583.8,651.5L581.1,652.4L578.1,651.0M590.1,651.9L593.6,654.6L597.2,656.4L600.8,658.2L602.6,660.0L599.0,658.2L595.4,656.4L590.1,651.9M516.1,680.5L515.8,685.0L517.0,688.6L517.6,691.3L518.5,694.0L519.5,701.1L518.5,702.6L521.2,703.8L523.7,704.0L527.4,701.8L531.0,702.0L533.7,701.8L536.4,700.2L538.2,699.0L543.5,697.9L548.0,697.5L550.7,698.4L552.7,699.7L555.2,703.5L556.1,702.9L558.7,700.2L559.5,702.9L560.5,703.5L560.0,704.9L562.3,706.5L562.9,707.9L564.1,709.2L566.8,709.9L569.5,710.6L572.0,709.0L573.1,710.1L574.7,711.2L576.6,709.5L577.5,708.8L581.1,708.3L581.5,705.6L582.5,703.8L583.4,701.7L585.6,698.4L586.5,695.8L587.6,691.6L586.5,686.8L585.6,685.6L582.9,683.2L582.0,681.4L580.2,680.5L578.4,677.9L574.5,675.2L574.0,672.5L573.1,669.8L572.7,667.7L570.4,666.8L569.5,666.2L569.5,663.5L568.2,660.9L567.7,660.3L566.8,661.7L566.1,663.5L565.9,666.2L565.9,668.9L564.6,672.5L561.8,672.1L558.7,670.0L556.1,668.9L555.2,668.0L555.9,666.2L557.3,663.2L555.7,662.6L552.5,662.6L550.0,661.6L547.1,663.0L545.3,664.4L544.4,668.0L541.7,668.0L539.9,666.2L538.2,666.2L536.4,668.9L535.5,670.3L532.8,670.7L531.4,673.4L529.2,676.2L525.6,677.3L522.0,678.2L518.5,679.6L516.1,680.5M571.6,714.0L578.1,714.4L577.5,718.5L574.9,719.2L572.5,716.7L571.6,714.0M621.7,702.7L625.0,706.5L627.5,708.3L632.1,708.6L631.1,711.3L629.3,712.0L627.7,715.1L625.3,715.1L626.2,713.1L623.7,711.3L625.1,709.2L624.4,706.5L621.7,702.7M621.7,713.7L624.4,715.8L622.8,718.1L621.7,719.6L618.7,721.5L615.5,724.6L610.6,723.5L611.2,722.2L613.9,719.9L617.8,718.1L620.5,715.4L621.7,713.7M606.2,677.3L611.5,681.1L610.6,680.9L606.2,677.3M332.3,500.6L334.1,498.5L341.3,498.0L345.7,497.4L352.0,497.4L360.9,497.6L357.4,499.2L352.0,500.6L346.6,502.8L341.3,503.9L337.7,503.0L332.3,500.6M405.7,513.2L408.4,510.5L411.1,509.6L412.9,507.8L414.6,506.0L420.0,504.8L423.6,504.2L435.2,503.5L430.8,505.1L425.4,506.0L420.0,507.6L416.4,508.7L412.9,511.4L412.9,512.3L416.4,514.4L411.1,514.8L407.5,514.6L405.7,513.2M396.7,497.4L405.7,496.5L416.4,495.3L423.6,496.2L427.2,497.1L416.4,498.0L402.1,498.1L396.7,497.4M484.5,500.6L491.6,498.5L498.8,498.9L491.6,496.2L484.5,497.1L484.5,500.6M557.8,506.9L563.2,505.1L568.6,505.1L579.3,506.4L574.0,507.3L566.8,509.1L557.8,506.9M632.3,514.1L638.4,513.7L634.8,513.0L632.3,514.1M-13.2,780.8L26.2,780.8L35.2,779.0L44.1,778.1L53.1,776.3L62.0,775.4L79.9,774.2L97.8,773.6L115.7,774.5L128.2,771.8L133.6,771.8L142.6,771.5L151.5,771.8L160.5,772.2L169.4,772.7L176.6,770.0L178.4,768.3L185.5,766.5L190.9,763.8L192.7,761.1L196.3,758.4L199.0,757.2L201.6,756.3L208.8,754.8L210.6,754.5L207.9,756.3L204.3,757.9L202.5,760.2L200.7,762.9L200.7,766.5L202.5,770.0L203.4,773.6L214.2,779.0L232.1,780.8L250.0,780.8L264.3,777.2L276.8,773.6L285.8,771.8L294.7,769.1L303.7,768.3L312.6,767.0L321.6,766.8L330.5,766.5L339.5,766.5L348.4,766.5L357.4,767.0L366.3,766.1L371.7,764.7L375.3,765.0L384.2,764.7L389.6,762.9L393.2,762.5L398.5,761.1L402.1,760.2L407.5,759.3L411.1,759.7L416.4,761.1L420.0,761.5L429.0,762.3L434.3,762.9L437.9,763.8L441.5,766.1L443.3,766.5L446.9,765.6L450.4,765.6L452.2,763.8L455.8,762.0L464.8,760.7L470.1,760.2L473.7,760.4L482.7,760.4L491.6,759.3L497.0,758.8L500.6,759.3L509.5,759.3L518.5,760.7L527.4,761.1L536.4,760.2L545.3,759.7L554.3,759.3L563.2,760.6L568.6,761.1L572.2,762.0L577.5,763.8L581.1,764.1L590.1,764.7L599.0,765.6L604.4,767.4L608.0,768.3L611.5,768.3L616.9,769.1L617.8,770.9L616.9,772.7L611.5,775.4L608.0,779.0L613.3,780.8L634.8,780.8L638.4,780.8M631.2,780.8L670.6,780.8L679.6,779.0L688.5,778.1L697.5,776.3L706.4,775.4L724.3,774.2L742.2,773.6L760.1,774.5L772.6,771.8L778.0,771.8L787.0,771.5L795.9,771.8L804.9,772.2L813.8,772.7L821.0,770.0L822.8,768.3L829.9,766.5L835.3,763.8L837.1,761.1L840.7,758.4L843.4,757.2L846.0,756.3L853.2,754.8L855.0,754.5L852.3,756.3L848.7,757.9L846.9,760.2L845.1,762.9L845.1,766.5L846.9,770.0L847.8,773.6L858.6,779.0L876.5,780.8L894.4,780.8L908.7,777.2L921.2,773.6L930.2,771.8L939.1,769.1L948.1,768.3L957.0,767.0L966.0,766.8L974.9,766.5L983.9,766.5L992.8,766.5L1001.8,767.0L1010.7,766.1L1016.1,764.7L1019.7,765.0L1028.6,764.7L1034.0,762.9L1037.6,762.5L1042.9,761.1L1046.5,760.2L1051.9,759.3L1055.5,759.7L1060.8,761.1L1064.4,761.5L1073.4,762.3L1078.7,762.9L1082.3,763.8L1085.9,766.1L1087.7,766.5L1091.3,765.6L1094.8,765.6L1096.6,763.8L1100.2,762.0L1109.2,760.7L1114.5,760.2L1118.1,760.4L1127.1,760.4L1136.0,759.3L1141.4,758.8L1145.0,759.3L1153.9,759.3L1162.9,760.7L1171.8,761.1L1180.8,760.2L1189.7,759.7L1198.7,759.3L1207.6,760.6L1213.0,761.1L1216.6,762.0L1221.9,763.8L1225.5,764.1L1234.5,764.7L1243.4,765.6L1248.8,767.4L1252.4,768.3L1255.9,768.3L1261.3,769.1L1262.2,770.9L1261.3,772.7L1255.9,775.4L1252.4,779.0L1257.7,780.8L1279.2,780.8L1282.8,780.8M423.6,517.1L420.9,519.8L419.1,523.9L418.2,529.3L419.1,534.7L419.1,540.0L418.2,545.4L417.3,549.0L412.9,549.9L407.5,549.0L403.9,550.2L399.4,552.0L396.7,553.5L396.0,554.9L396.7,557.9L397.1,561.0L397.6,563.7L399.1,565.6L400.7,567.4L401.2,568.7L399.4,566.9L396.7,566.0L393.2,565.1L389.6,564.2L386.9,563.8L384.2,563.5"/>
<g fill="#000"><circle cx="30.7" cy="603.0" r="1.6"/><circle cx="34.3" cy="606.1" r="1.6"/><circle cx="27.1" cy="601.8" r="1.6"/><circle cx="32.5" cy="603.9" r="1.6"/><circle cx="207.0" cy="733.7" r="1.9"/><circle cx="203.4" cy="733.3" r="1.6"/><circle cx="247.3" cy="738.4" r="1.6"/><circle cx="437.0" cy="729.4" r="1.8"/><circle cx="404.8" cy="724.0" r="1.6"/><circle cx="380.1" cy="724.9" r="1.6"/><circle cx="318.7" cy="738.5" r="1.6"/><circle cx="290.6" cy="707.6" r="1.6"/><circle cx="302.4" cy="669.6" r="1.6"/><circle cx="286.8" cy="655.3" r="1.6"/><circle cx="262.5" cy="572.2" r="1.6"/><circle cx="267.0" cy="573.5" r="1.6"/><circle cx="257.1" cy="570.5" r="1.6"/><circle cx="284.9" cy="590.9" r="1.6"/><circle cx="282.2" cy="590.5" r="1.6"/><circle cx="288.1" cy="589.8" r="1.6"/><circle cx="282.4" cy="582.6" r="1.6"/><circle cx="269.7" cy="613.4" r="1.6"/><circle cx="270.6" cy="614.5" r="1.6"/><circle cx="196.8" cy="583.3" r="1.6"/><circle cx="415.5" cy="677.5" r="1.6"/><circle cx="412.0" cy="678.9" r="1.6"/><circle cx="412.0" cy="649.4" r="1.6"/><circle cx="444.2" cy="634.0" r="1.6"/><circle cx="443.6" cy="642.2" r="1.6"/><circle cx="442.4" cy="628.6" r="1.6"/><circle cx="631.2" cy="673.0" r="1.6"/><circle cx="633.9" cy="670.9" r="1.6"/><circle cx="649.1" cy="665.9" r="1.6"/><circle cx="643.4" cy="679.1" r="1.6"/><circle cx="45.0" cy="672.7" r="1.6"/><circle cx="62.0" cy="657.3" r="1.6"/><circle cx="26.6" cy="679.1" r="1.6"/><circle cx="573.4" cy="614.0" r="1.6"/><circle cx="571.8" cy="617.2" r="1.6"/><circle cx="611.5" cy="668.9" r="1.6"/><circle cx="613.3" cy="671.6" r="1.6"/><circle cx="611.2" cy="642.1" r="1.6"/><circle cx="622.3" cy="638.5" r="1.6"/><circle cx="618.7" cy="628.6" r="1.6"/><circle cx="595.8" cy="628.8" r="1.6"/><circle cx="584.3" cy="627.9" r="1.6"/><circle cx="553.4" cy="627.7" r="1.6"/><circle cx="150.6" cy="642.1" r="1.6"/><circle cx="116.8" cy="689.7" r="1.6"/><circle cx="169.4" cy="701.3" r="1.6"/><circle cx="171.6" cy="701.3" r="1.6"/><circle cx="203.4" cy="615.2" r="1.6"/><circle cx="202.5" cy="612.2" r="1.6"/><circle cx="202.9" cy="622.4" r="1.6"/><circle cx="173.9" cy="597.3" r="1.6"/><circle cx="176.6" cy="598.2" r="1.6"/><circle cx="173.0" cy="593.5" r="1.6"/><circle cx="181.1" cy="603.6" r="1.6"/><circle cx="205.2" cy="617.5" r="1.6"/><circle cx="76.3" cy="546.3" r="1.6"/><circle cx="83.5" cy="551.7" r="1.6"/><circle cx="39.6" cy="538.2" r="1.6"/><circle cx="8.3" cy="539.1" r="1.6"/><circle cx="652.7" cy="539.1" r="1.6"/><circle cx="15.5" cy="544.9" r="1.6"/><circle cx="659.9" cy="544.9" r="1.6"/><circle cx="11.0" cy="546.3" r="1.6"/><circle cx="655.4" cy="546.3" r="1.6"/><circle cx="649.1" cy="547.2" r="1.6"/><circle cx="642.0" cy="548.4" r="1.6"/><circle cx="637.5" cy="548.6" r="1.6"/><circle cx="631.2" cy="548.4" r="1.6"/><circle cx="624.1" cy="546.6" r="1.6"/><circle cx="9.2" cy="527.5" r="1.6"/><circle cx="653.6" cy="527.5" r="1.6"/><circle cx="5.6" cy="527.7" r="1.6"/><circle cx="650.0" cy="527.7" r="1.6"/><circle cx="581.1" cy="558.8" r="1.6"/><circle cx="575.7" cy="559.7" r="1.6"/><circle cx="584.7" cy="556.1" r="1.6"/><circle cx="589.2" cy="553.5" r="1.6"/><circle cx="591.0" cy="551.1" r="1.6"/><circle cx="283.1" cy="523.9" r="1.6"/><circle cx="300.1" cy="530.2" r="1.6"/><circle cx="310.3" cy="533.2" r="1.6"/><circle cx="307.2" cy="535.6" r="1.6"/><circle cx="301.0" cy="538.2" r="1.6"/><circle cx="299.5" cy="538.6" r="1.6"/><circle cx="329.6" cy="541.8" r="1.6"/><circle cx="332.3" cy="541.8" r="1.6"/><circle cx="334.1" cy="542.2" r="1.6"/><circle cx="345.7" cy="538.6" r="1.6"/><circle cx="342.2" cy="540.0" r="1.6"/><circle cx="338.7" cy="519.1" r="1.6"/><circle cx="373.5" cy="555.6" r="1.6"/><circle cx="503.2" cy="645.3" r="1.6"/><circle cx="505.0" cy="646.2" r="1.6"/><circle cx="552.5" cy="653.7" r="1.6"/><circle cx="548.0" cy="654.6" r="1.6"/><circle cx="560.5" cy="655.1" r="1.6"/><circle cx="539.0" cy="647.1" r="1.6"/><circle cx="555.2" cy="644.0" r="1.6"/><circle cx="528.3" cy="659.1" r="1.6"/><circle cx="522.9" cy="656.2" r="1.6"/><circle cx="515.8" cy="653.7" r="1.6"/><circle cx="574.9" cy="645.1" r="1.6"/><circle cx="586.5" cy="648.7" r="1.6"/><circle cx="565.4" cy="645.8" r="1.6"/><circle cx="536.4" cy="637.6" r="1.6"/><circle cx="493.4" cy="648.3" r="1.6"/><circle cx="303.7" cy="576.7" r="1.6"/><circle cx="458.5" cy="627.7" r="1.6"/><circle cx="478.5" cy="619.7" r="1.6"/><circle cx="479.1" cy="628.6" r="1.6"/><circle cx="487.1" cy="637.6" r="1.6"/><circle cx="488.0" cy="638.5" r="1.6"/><circle cx="142.6" cy="664.4" r="1.6"/><circle cx="64.7" cy="679.6" r="1.6"/><circle cx="62.0" cy="668.0" r="1.6"/><circle cx="53.1" cy="669.8" r="1.6"/><circle cx="41.4" cy="670.7" r="1.6"/><circle cx="30.2" cy="637.8" r="1.6"/><circle cx="26.2" cy="666.2" r="1.6"/><circle cx="78.1" cy="684.8" r="1.6"/><circle cx="83.0" cy="684.8" r="1.6"/><circle cx="639.3" cy="590.7" r="1.6"/><circle cx="649.7" cy="595.0" r="1.6"/><circle cx="15.5" cy="598.6" r="1.6"/><circle cx="659.9" cy="598.6" r="1.6"/><circle cx="562.9" cy="661.7" r="1.6"/><circle cx="544.4" cy="655.8" r="1.6"/><circle cx="62.0" cy="656.4" r="1.6"/><circle cx="64.2" cy="658.7" r="1.6"/><circle cx="627.7" cy="655.5" r="1.6"/><circle cx="633.4" cy="656.4" r="1.6"/><circle cx="622.3" cy="719.2" r="1.6"/><circle cx="641.1" cy="719.9" r="1.6"/><circle cx="609.8" cy="731.9" r="1.6"/><circle cx="597.0" cy="738.9" r="1.6"/><circle cx="614.9" cy="693.3" r="1.6"/><circle cx="597.2" cy="697.5" r="1.6"/><circle cx="510.1" cy="759.7" r="1.6"/><circle cx="298.3" cy="713.3" r="1.6"/><circle cx="265.5" cy="745.7" r="1.6"/><circle cx="264.3" cy="744.1" r="1.6"/><circle cx="232.1" cy="749.6" r="1.6"/><circle cx="207.4" cy="752.5" r="1.6"/></g>
</g>
<line x1="11" y1="766.5" x2="636" y2="766.5" stroke="#333" stroke-width="1.2"/>
<g clip-path="url(#clipd)">
<g shape-rendering="crispEdges"><rect x="657" y="484" width="625" height="282" fill="#05866f"/>
<rect x="657.00" y="484.00" width="172.14" height="7.46" fill="#c7e8e4"/>
<rect x="828.84" y="484.00" width="43.26" height="7.46" fill="#6cc4b4"/>
<rect x="871.80" y="484.00" width="64.74" height="7.46" fill="#c7e8e4"/>
<rect x="1000.68" y="484.00" width="32.52" height="7.46" fill="#6cc4b4"/>
<rect x="1183.26" y="484.00" width="54.00" height="7.46" fill="#c7e8e4"/>
<rect x="1236.96" y="484.00" width="45.34" height="7.46" fill="#6cc4b4"/>
<rect x="657.00" y="491.16" width="21.78" height="7.46" fill="#6cc4b4"/>
<rect x="678.48" y="491.16" width="43.26" height="7.46" fill="#c7e8e4"/>
<rect x="721.44" y="491.16" width="21.78" height="7.46" fill="#6cc4b4"/>
<rect x="742.92" y="491.16" width="11.04" height="7.46" fill="#c7e8e4"/>
<rect x="753.66" y="491.16" width="32.52" height="7.46" fill="#6cc4b4"/>
<rect x="785.88" y="491.16" width="32.52" height="7.46" fill="#c7e8e4"/>
<rect x="818.10" y="491.16" width="64.74" height="7.46" fill="#6cc4b4"/>
<rect x="882.54" y="491.16" width="43.26" height="7.46" fill="#c7e8e4"/>
<rect x="1000.68" y="491.16" width="21.78" height="7.46" fill="#c7e8e4"/>
<rect x="1022.16" y="491.16" width="11.04" height="7.46" fill="#6cc4b4"/>
<rect x="1065.12" y="491.16" width="43.26" height="7.46" fill="#6cc4b4"/>
<rect x="1151.04" y="491.16" width="11.04" height="7.46" fill="#6cc4b4"/>
<rect x="1183.26" y="491.16" width="32.52" height="7.46" fill="#6cc4b4"/>
<rect x="1215.48" y="491.16" width="11.04" height="7.46" fill="#c7e8e4"/>
<rect x="1226.22" y="491.16" width="56.08" height="7.46" fill="#6cc4b4"/>
<rect x="657.00" y="498.32" width="11.04" height="7.46" fill="#6cc4b4"/>
<rect x="667.74" y="498.32" width="21.78" height="7.46" fill="#c7e8e4"/>
<rect x="710.70" y="498.32" width="11.04" height="7.46" fill="#6cc4b4"/>
<rect x="721.44" y="498.32" width="32.52" height="7.46" fill="#c7e8e4"/>
<rect x="753.66" y="498.32" width="32.52" height="7.46" fill="#6cc4b4"/>
<rect x="785.88" y="498.32" width="75.48" height="7.46" fill="#c7e8e4"/>
<rect x="861.06" y="498.32" width="21.78" height="7.46" fill="#6cc4b4"/>
<rect x="882.54" y="498.32" width="43.26" height="7.46" fill="#c7e8e4"/>
<rect x="925.50" y="498.32" width="11.04" height="7.46" fill="#6cc4b4"/>
<rect x="936.24" y="498.32" width="21.78" height="7.46" fill="#c7e8e4"/>
<rect x="957.72" y="498.32" width="11.04" height="7.46" fill="#ece0c2"/>
<rect x="968.46" y="498.32" width="54.00" height="7.46" fill="#c7e8e4"/>
<rect x="1022.16" y="498.32" width="86.22" height="7.46" fill="#6cc4b4"/>
<rect x="1118.82" y="498.32" width="43.26" height="7.46" fill="#c7e8e4"/>
<rect x="1161.78" y="498.32" width="11.04" height="7.46" fill="#ece0c2"/>
<rect x="1172.52" y="498.32" width="11.04" height="7.46" fill="#d8b067"/>
<rect x="1183.26" y="498.32" width="11.04" height="7.46" fill="#ece0c2"/>
<rect x="1194.00" y="498.32" width="32.52" height="7.46" fill="#c7e8e4"/>
<rect x="1226.22" y="498.32" width="11.04" height="7.46" fill="#6cc4b4"/>
<rect x="1236.96" y="498.32" width="11.04" height="7.46" fill="#c7e8e4"/>
<rect x="1247.70" y="498.32" width="11.04" height="7.46" fill="#ece0c2"/>
<rect x="1258.44" y="498.32" width="21.78" height="7.46" fill="#c7e8e4"/>
<rect x="1279.92" y="498.32" width="2.38" height="7.46" fill="#6cc4b4"/>
<rect x="657.00" y="505.48" width="11.04" height="7.46" fill="#6cc4b4"/>
<rect x="667.74" y="505.48" width="43.26" height="7.46" fill="#c7e8e4"/>
<rect x="710.70" y="505.48" width="86.22" height="7.46" fill="#6cc4b4"/>
<rect x="796.62" y="505.48" width="11.04" height="7.46" fill="#c7e8e4"/>
<rect x="807.36" y="505.48" width="43.26" height="7.46" fill="#6cc4b4"/>
<rect x="861.06" y="505.48" width="11.04" height="7.46" fill="#6cc4b4"/>
<rect x="893.28" y="505.48" width="11.04" height="7.46" fill="#6cc4b4"/>
<rect x="904.02" y="505.48" width="21.78" height="7.46" fill="#c7e8e4"/>
<rect x="925.50" y="505.48" width="11.04" height="7.46" fill="#6cc4b4"/>
<rect x="936.24" y="505.48" width="32.52" height="7.46" fill="#c7e8e4"/>
<rect x="968.46" y="505.48" width="21.78" height="7.46" fill="#6cc4b4"/>
<rect x="989.94" y="505.48" width="32.52" height="7.46" fill="#c7e8e4"/>
<rect x="1022.16" y="505.48" width="75.48" height="7.46" fill="#6cc4b4"/>
<rect x="1097.34" y="505.48" width="75.48" height="7.46" fill="#c7e8e4"/>
<rect x="1172.52" y="505.48" width="21.78" height="7.46" fill="#6cc4b4"/>
<rect x="1194.00" y="505.48" width="21.78" height="7.46" fill="#c7e8e4"/>
<rect x="1215.48" y="505.48" width="43.26" height="7.46" fill="#6cc4b4"/>
<rect x="1258.44" y="505.48" width="11.04" height="7.46" fill="#c7e8e4"/>
<rect x="1269.18" y="505.48" width="11.04" height="7.46" fill="#6cc4b4"/>
<rect x="1279.92" y="505.48" width="2.38" height="7.46" fill="#c7e8e4"/>
<rect x="657.00" y="512.64" width="86.22" height="7.46" fill="#c7e8e4"/>
<rect x="742.92" y="512.64" width="11.04" height="7.46" fill="#ece0c2"/>
<rect x="753.66" y="512.64" width="21.78" height="7.46" fill="#c7e8e4"/>
<rect x="775.14" y="512.64" width="21.78" height="7.46" fill="#6cc4b4"/>
<rect x="796.62" y="512.64" width="11.04" height="7.46" fill="#c7e8e4"/>
<rect x="807.36" y="512.64" width="64.74" height="7.46" fill="#6cc4b4"/>
<rect x="882.54" y="512.64" width="21.78" height="7.46" fill="#6cc4b4"/>
<rect x="904.02" y="512.64" width="32.52" height="7.46" fill="#c7e8e4"/>
<rect x="936.24" y="512.64" width="11.04" height="7.46" fill="#6cc4b4"/>
<rect x="946.98" y="512.64" width="107.70" height="7.46" fill="#c7e8e4"/>
<rect x="1054.38" y="512.64" width="43.26" height="7.46" fill="#6cc4b4"/>
<rect x="1097.34" y="512.64" width="32.52" height="7.46" fill="#c7e8e4"/>
<rect x="1129.56" y="512.64" width="21.78" height="7.46" fill="#d8b067"/>
<rect x="1151.04" y="512.64" width="75.48" height="7.46" fill="#c7e8e4"/>
<rect x="1226.22" y="512.64" width="11.04" height="7.46" fill="#6cc4b4"/>
<rect x="1236.96" y="512.64" width="32.52" height="7.46" fill="#c7e8e4"/>
<rect x="1269.18" y="512.64" width="13.12" height="7.46" fill="#d8b067"/>
<rect x="657.00" y="519.80" width="43.26" height="7.46" fill="#6cc4b4"/>
<rect x="699.96" y="519.80" width="43.26" height="7.46" fill="#c7e8e4"/>
<rect x="742.92" y="519.80" width="11.04" height="7.46" fill="#ece0c2"/>
<rect x="753.66" y="519.80" width="21.78" height="7.46" fill="#c7e8e4"/>
<rect x="775.14" y="519.80" width="21.78" height="7.46" fill="#6cc4b4"/>
<rect x="796.62" y="519.80" width="11.04" height="7.46" fill="#c7e8e4"/>
<rect x="807.36" y="519.80" width="21.78" height="7.46" fill="#6cc4b4"/>
<rect x="828.84" y="519.80" width="11.04" height="7.46" fill="#c7e8e4"/>
<rect x="839.58" y="519.80" width="11.04" height="7.46" fill="#6cc4b4"/>
<rect x="850.32" y="519.80" width="21.78" height="7.46" fill="#c7e8e4"/>
<rect x="871.80" y="519.80" width="32.52" height="7.46" fill="#6cc4b4"/>
<rect x="904.02" y="519.80" width="86.22" height="7.46" fill="#c7e8e4"/>
<rect x="989.94" y="519.80" width="21.78" height="7.46" fill="#ece0c2"/>
<rect x="1011.42" y="519.80" width="75.48" height="7.46" fill="#c7e8e4"/>
<rect x="1086.60" y="519.80" width="21.78" height="7.46" fill="#6cc4b4"/>
<rect x="1118.82" y="519.80" width="11.04" height="7.46" fill="#6cc4b4"/>
<rect x="1129.56" y="519.80" width="11.04" height="7.46" fill="#c7e8e4"/>
<rect x="1140.30" y="519.80" width="21.78" height="7.46" fill="#6cc4b4"/>
<rect x="1161.78" y="519.80" width="120.52" height="7.46" fill="#c7e8e4"/>
<rect x="657.00" y="526.96" width="11.04" height="7.46" fill="#c7e8e4"/>
<rect x="667.74" y="526.96" width="11.04" height="7.46" fill="#6cc4b4"/>
<rect x="678.48" y="526.96" width="54.00" height="7.46" fill="#c7e8e4"/>
<rect x="732.18" y="526.96" width="11.04" height="7.46" fill="#ece0c2"/>
<rect x="742.92" y="526.96" width="11.04" height="7.46" fill="#d8b067"/>
<rect x="753.66" y="526.96" width="11.04" height="7.46" fill="#ece0c2"/>
<rect x="764.40" y="526.96" width="32.52" height="7.46" fill="#c7e8e4"/>
<rect x="796.62" y="526.96" width="21.78" height="7.46" fill="#6cc4b4"/>
<rect x="818.10" y="526.96" width="32.52" height="7.46" fill="#c7e8e4"/>
<rect x="850.32" y="526.96" width="11.04" height="7.46" fill="#6cc4b4"/>
<rect x="861.06" y="526.96" width="21.78" height="7.46" fill="#c7e8e4"/>
<rect x="882.54" y="526.96" width="21.78" height="7.46" fill="#6cc4b4"/>
<rect x="904.02" y="526.96" width="96.96" height="7.46" fill="#c7e8e4"/>
<rect x="1000.68" y="526.96" width="21.78" height="7.46" fill="#d8b067"/>
<rect x="1022.16" y="526.96" width="11.04" height="7.46" fill="#ece0c2"/>
<rect x="1032.90" y="526.96" width="11.04" height="7.46" fill="#c7e8e4"/>
<rect x="1043.64" y="526.96" width="11.04" height="7.46" fill="#ece0c2"/>
<rect x="1054.38" y="526.96" width="21.78" height="7.46" fill="#d8b067"/>
<rect x="1075.86" y="526.96" width="11.04" height="7.46" fill="#c7e8e4"/>
<rect x="1086.60" y="526.96" width="11.04" height="7.46" fill="#6cc4b4"/>
<rect x="1097.34" y="526.96" width="11.04" height="7.46" fill="#d8b067"/>
<rect x="1108.08" y="526.96" width="11.04" height="7.46" fill="#6cc4b4"/>
<rect x="1118.82" y="526.96" width="21.78" height="7.46" fill="#c7e8e4"/>
<rect x="1140.30" y="526.96" width="11.04" height="7.46" fill="#6cc4b4"/>
<rect x="1151.04" y="526.96" width="32.52" height="7.46" fill="#c7e8e4"/>
<rect x="1183.26" y="526.96" width="11.04" height="7.46" fill="#d8b067"/>
<rect x="1194.00" y="526.96" width="11.04" height="7.46" fill="#c7e8e4"/>
<rect x="1204.74" y="526.96" width="21.78" height="7.46" fill="#6cc4b4"/>
<rect x="1226.22" y="526.96" width="56.08" height="7.46" fill="#c7e8e4"/>
<rect x="657.00" y="534.12" width="21.78" height="7.46" fill="#c7e8e4"/>
<rect x="678.48" y="534.12" width="21.78" height="7.46" fill="#6cc4b4"/>
<rect x="699.96" y="534.12" width="32.52" height="7.46" fill="#c7e8e4"/>
<rect x="732.18" y="534.12" width="21.78" height="7.46" fill="#ece0c2"/>
<rect x="753.66" y="534.12" width="11.04" height="7.46" fill="#c7e8e4"/>
<rect x="764.40" y="534.12" width="11.04" height="7.46" fill="#6cc4b4"/>
<rect x="775.14" y="534.12" width="21.78" height="7.46" fill="#c7e8e4"/>
<rect x="796.62" y="534.12" width="21.78" height="7.46" fill="#6cc4b4"/>
<rect x="818.10" y="534.12" width="54.00" height="7.46" fill="#c7e8e4"/>
<rect x="871.80" y="534.12" width="21.78" height="7.46" fill="#6cc4b4"/>
<rect x="904.02" y="534.12" width="11.04" height="7.46" fill="#6cc4b4"/>
<rect x="914.76" y="534.12" width="11.04" height="7.46" fill="#c7e8e4"/>
<rect x="925.50" y="534.12" width="11.04" height="7.46" fill="#6cc4b4"/>
<rect x="936.24" y="534.12" width="75.48" height="7.46" fill="#c7e8e4"/>
<rect x="1011.42" y="534.12" width="11.04" height="7.46" fill="#d8b067"/>
<rect x="1022.16" y="534.12" width="11.04" height="7.46" fill="#ece0c2"/>
<rect x="1032.90" y="534.12" width="21.78" height="7.46" fill="#c7e8e4"/>
<rect x="1054.38" y="534.12" width="21.78" height="7.46" fill="#ece0c2"/>
<rect x="1075.86" y="534.12" width="107.70" height="7.46" fill="#c7e8e4"/>
<rect x="1183.26" y="534.12" width="11.04" height="7.46" fill="#d8b067"/>
<rect x="1194.00" y="534.12" width="11.04" height="7.46" fill="#c7e8e4"/>
<rect x="1204.74" y="534.12" width="77.56" height="7.46" fill="#6cc4b4"/>
<rect x="657.00" y="541.28" width="32.52" height="7.46" fill="#6cc4b4"/>
<rect x="699.96" y="541.28" width="11.04" height="7.46" fill="#6cc4b4"/>
<rect x="710.70" y="541.28" width="32.52" height="7.46" fill="#c7e8e4"/>
<rect x="742.92" y="541.28" width="11.04" height="7.46" fill="#ece0c2"/>
<rect x="753.66" y="541.28" width="32.52" height="7.46" fill="#c7e8e4"/>
<rect x="785.88" y="541.28" width="21.78" height="7.46" fill="#d8b067"/>
<rect x="807.36" y="541.28" width="64.74" height="7.46" fill="#c7e8e4"/>
<rect x="871.80" y="541.28" width="11.04" height="7.46" fill="#6cc4b4"/>
<rect x="882.54" y="541.28" width="11.04" height="7.46" fill="#c7e8e4"/>
<rect x="904.02" y="541.28" width="11.04" height="7.46" fill="#6cc4b4"/>
<rect x="914.76" y="541.28" width="54.00" height="7.46" fill="#c7e8e4"/>
<rect x="968.46" y="541.28" width="21.78" height="7.46" fill="#ece0c2"/>
<rect x="989.94" y="541.28" width="21.78" height="7.46" fill="#c7e8e4"/>
<rect x="1011.42" y="541.28" width="11.04" height="7.46" fill="#ece0c2"/>
<rect x="1022.16" y="541.28" width="11.04" height="7.46" fill="#d8b067"/>
<rect x="1032.90" y="541.28" width="118.44" height="7.46" fill="#c7e8e4"/>
<rect x="1151.04" y="541.28" width="11.04" height="7.46" fill="#d8b067"/>
<rect x="1161.78" y="541.28" width="21.78" height="7.46" fill="#c7e8e4"/>
<rect x="1183.26" y="541.28" width="11.04" height="7.46" fill="#d8b067"/>
<rect x="1194.00" y="541.28" width="11.04" height="7.46" fill="#c7e8e4"/>
<rect x="1204.74" y="541.28" width="11.04" height="7.46" fill="#6cc4b4"/>
<rect x="1226.22" y="541.28" width="21.78" height="7.46" fill="#6cc4b4"/>
<rect x="1258.44" y="541.28" width="11.04" height="7.46" fill="#6cc4b4"/>
<rect x="1279.92" y="541.28" width="2.38" height="7.46" fill="#6cc4b4"/>
<rect x="657.00" y="548.44" width="11.04" height="7.46" fill="#6cc4b4"/>
<rect x="678.48" y="548.44" width="32.52" height="7.46" fill="#6cc4b4"/>
<rect x="710.70" y="548.44" width="21.78" height="7.46" fill="#c7e8e4"/>
<rect x="732.18" y="548.44" width="11.04" height="7.46" fill="#ece0c2"/>
<rect x="742.92" y="548.44" width="32.52" height="7.46" fill="#c7e8e4"/>
<rect x="775.14" y="548.44" width="11.04" height="7.46" fill="#ece0c2"/>
<rect x="785.88" y="548.44" width="11.04" height="7.46" fill="#d8b067"/>
<rect x="796.62" y="548.44" width="11.04" height="7.46" fill="#ece0c2"/>
<rect x="807.36" y="548.44" width="43.26" height="7.46" fill="#c7e8e4"/>
<rect x="850.32" y="548.44" width="21.78" height="7.46" fill="#6cc4b4"/>
<rect x="871.80" y="548.44" width="21.78" height="7.46" fill="#c7e8e4"/>
<rect x="893.28" y="548.44" width="21.78" height="7.46" fill="#6cc4b4"/>
<rect x="914.76" y="548.44" width="54.00" height="7.46" fill="#c7e8e4"/>
<rect x="968.46" y="548.44" width="21.78" height="7.46" fill="#ece0c2"/>
<rect x="989.94" y="548.44" width="11.04" height="7.46" fill="#d8b067"/>
<rect x="1000.68" y="548.44" width="21.78" height="7.46" fill="#ece0c2"/>
<rect x="1022.16" y="548.44" width="11.04" height="7.46" fill="#d8b067"/>
<rect x="1032.90" y="548.44" width="21.78" height="7.46" fill="#ece0c2"/>
<rect x="1054.38" y="548.44" width="96.96" height="7.46" fill="#c7e8e4"/>
<rect x="1151.04" y="548.44" width="11.04" height="7.46" fill="#d8b067"/>
<rect x="1161.78" y="548.44" width="21.78" height="7.46" fill="#c7e8e4"/>
<rect x="1183.26" y="548.44" width="11.04" height="7.46" fill="#d8b067"/>
<rect x="1194.00" y="548.44" width="11.04" height="7.46" fill="#c7e8e4"/>
<rect x="1204.74" y="548.44" width="77.56" height="7.46" fill="#6cc4b4"/>
<rect x="657.00" y="555.60" width="11.04" height="7.46" fill="#c7e8e4"/>
<rect x="667.74" y="555.60" width="32.52" height="7.46" fill="#6cc4b4"/>
<rect x="699.96" y="555.60" width="11.04" height="7.46" fill="#c7e8e4"/>
<rect x="710.70" y="555.60" width="32.52" height="7.46" fill="#6cc4b4"/>
<rect x="742.92" y="555.60" width="32.52" height="7.46" fill="#c7e8e4"/>
<rect x="775.14" y="555.60" width="11.04" height="7.46" fill="#ece0c2"/>
<rect x="785.88" y="555.60" width="21.78" height="7.46" fill="#d8b067"/>
<rect x="807.36" y="555.60" width="43.26" height="7.46" fill="#c7e8e4"/>
<rect x="850.32" y="555.60" width="43.26" height="7.46" fill="#6cc4b4"/>
<rect x="904.02" y="555.60" width="11.04" height="7.46" fill="#6cc4b4"/>
<rect x="914.76" y="555.60" width="11.04" height="7.46" fill="#c7e8e4"/>
<rect x="925.50" y="555.60" width="11.04" height="7.46" fill="#6cc4b4"/>
<rect x="936.24" y="555.60" width="32.52" height="7.46" fill="#c7e8e4"/>
<rect x="968.46" y="555.60" width="43.26" height="7.46" fill="#d8b067"/>
<rect x="1011.42" y="555.60" width="64.74" height="7.46" fill="#c7e8e4"/>
<rect x="1075.86" y="555.60" width="11.04" height="7.46" fill="#6cc4b4"/>
<rect x="1086.60" y="555.60" width="43.26" height="7.46" fill="#c7e8e4"/>
<rect x="1129.56" y="555.60" width="11.04" height="7.46" fill="#ece0c2"/>
<rect x="1140.30" y="555.60" width="11.04" height="7.46" fill="#d8b067"/>
<rect x="1151.04" y="555.60" width="11.04" height="7.46" fill="#c7e8e4"/>
<rect x="1161.78" y="555.60" width="11.04" height="7.46" fill="#6cc4b4"/>
<rect x="1172.52" y="555.60" width="21.78" height="7.46" fill="#d8b067"/>
<rect x="1194.00" y="555.60" width="21.78" height="7.46" fill="#c7e8e4"/>
<rect x="1215.48" y="555.60" width="66.82" height="7.46" fill="#6cc4b4"/>
<rect x="657.00" y="562.76" width="21.78" height="7.46" fill="#6cc4b4"/>
<rect x="699.96" y="562.76" width="32.52" height="7.46" fill="#6cc4b4"/>
<rect x="753.66" y="562.76" width="11.04" height="7.46" fill="#6cc4b4"/>
<rect x="764.40" y="562.76" width="11.04" height="7.46" fill="#c7e8e4"/>
<rect x="775.14" y="562.76" width="21.78" height="7.46" fill="#ece0c2"/>
<rect x="796.62" y="562.76" width="86.22" height="7.46" fill="#c7e8e4"/>
<rect x="882.54" y="562.76" width="11.04" height="7.46" fill="#6cc4b4"/>
<rect x="904.02" y="562.76" width="11.04" height="7.46" fill="#6cc4b4"/>
<rect x="914.76" y="562.76" width="11.04" height="7.46" fill="#c7e8e4"/>
<rect x="925.50" y="562.76" width="21.78" height="7.46" fill="#6cc4b4"/>
<rect x="946.98" y="562.76" width="21.78" height="7.46" fill="#c7e8e4"/>
<rect x="968.46" y="562.76" width="43.26" height="7.46" fill="#d8b067"/>
<rect x="1011.42" y="562.76" width="21.78" height="7.46" fill="#c7e8e4"/>
<rect x="1032.90" y="562.76" width="11.04" height="7.46" fill="#d8b067"/>
<rect x="1043.64" y="562.76" width="43.26" height="7.46" fill="#c7e8e4"/>
<rect x="1086.60" y="562.76" width="11.04" height="7.46" fill="#6cc4b4"/>
<rect x="1097.34" y="562.76" width="21.78" height="7.46" fill="#c7e8e4"/>
<rect x="1118.82" y="562.76" width="11.04" height="7.46" fill="#6cc4b4"/>
<rect x="1129.56" y="562.76" width="32.52" height="7.46" fill="#c7e8e4"/>
<rect x="1161.78" y="562.76" width="21.78" height="7.46" fill="#d8b067"/>
<rect x="1183.26" y="562.76" width="32.52" height="7.46" fill="#6cc4b4"/>
<rect x="1215.48" y="562.76" width="11.04" height="7.46" fill="#c7e8e4"/>
<rect x="1226.22" y="562.76" width="32.52" height="7.46" fill="#6cc4b4"/>
<rect x="1269.18" y="562.76" width="13.12" height="7.46" fill="#6cc4b4"/>
<rect x="657.00" y="569.92" width="32.52" height="7.46" fill="#6cc4b4"/>
<rect x="699.96" y="569.92" width="21.78" height="7.46" fill="#6cc4b4"/>
<rect x="764.40" y="569.92" width="11.04" height="7.46" fill="#6cc4b4"/>
<rect x="775.14" y="569.92" width="21.78" height="7.46" fill="#c7e8e4"/>
<rect x="796.62" y="569.92" width="21.78" height="7.46" fill="#ece0c2"/>
<rect x="818.10" y="569.92" width="32.52" height="7.46" fill="#c7e8e4"/>
<rect x="850.32" y="569.92" width="11.04" height="7.46" fill="#6cc4b4"/>
<rect x="871.80" y="569.92" width="11.04" height="7.46" fill="#c7e8e4"/>
<rect x="882.54" y="569.92" width="11.04" height="7.46" fill="#6cc4b4"/>
<rect x="914.76" y="569.92" width="32.52" height="7.46" fill="#6cc4b4"/>
<rect x="946.98" y="569.92" width="43.26" height="7.46" fill="#c7e8e4"/>
<rect x="989.94" y="569.92" width="11.04" height="7.46" fill="#6cc4b4"/>
<rect x="1000.68" y="569.92" width="64.74" height="7.46" fill="#c7e8e4"/>
<rect x="1065.12" y="569.92" width="11.04" height="7.46" fill="#d8b067"/>
<rect x="1075.86" y="569.92" width="11.04" height="7.46" fill="#c7e8e4"/>
<rect x="1086.60" y="569.92" width="11.04" height="7.46" fill="#6cc4b4"/>
<rect x="1097.34" y="569.92" width="54.00" height="7.46" fill="#c7e8e4"/>
<rect x="1151.04" y="569.92" width="11.04" height="7.46" fill="#ece0c2"/>
<rect x="1161.78" y="569.92" width="21.78" height="7.46" fill="#d8b067"/>
<rect x="1183.26" y="569.92" width="96.96" height="7.46" fill="#c7e8e4"/>
<rect x="1279.92" y="569.92" width="2.38" height="7.46" fill="#6cc4b4"/>
<rect x="710.70" y="577.08" width="11.04" height="7.46" fill="#c7e8e4"/>
<rect x="775.14" y="577.08" width="11.04" height="7.46" fill="#6cc4b4"/>
<rect x="785.88" y="577.08" width="43.26" height="7.46" fill="#c7e8e4"/>
<rect x="904.02" y="577.08" width="54.00" height="7.46" fill="#6cc4b4"/>
<rect x="957.72" y="577.08" width="21.78" height="7.46" fill="#c7e8e4"/>
<rect x="979.20" y="577.08" width="21.78" height="7.46" fill="#6cc4b4"/>
<rect x="1000.68" y="577.08" width="64.74" height="7.46" fill="#c7e8e4"/>
<rect x="1065.12" y="577.08" width="11.04" height="7.46" fill="#6cc4b4"/>
<rect x="1075.86" y="577.08" width="21.78" height="7.46" fill="#c7e8e4"/>
<rect x="1097.34" y="577.08" width="21.78" height="7.46" fill="#6cc4b4"/>
<rect x="1118.82" y="577.08" width="21.78" height="7.46" fill="#d8b067"/>
<rect x="1140.30" y="577.08" width="129.18" height="7.46" fill="#c7e8e4"/>
<rect x="1269.18" y="577.08" width="13.12" height="7.46" fill="#6cc4b4"/>
<rect x="732.18" y="584.24" width="11.04" height="7.46" fill="#6cc4b4"/>
<rect x="764.40" y="584.24" width="11.04" height="7.46" fill="#c7e8e4"/>
<rect x="839.58" y="584.24" width="21.78" height="7.46" fill="#6cc4b4"/>
<rect x="914.76" y="584.24" width="32.52" height="7.46" fill="#6cc4b4"/>
<rect x="957.72" y="584.24" width="11.04" height="7.46" fill="#6cc4b4"/>
<rect x="968.46" y="584.24" width="11.04" height="7.46" fill="#c7e8e4"/>
<rect x="979.20" y="584.24" width="96.96" height="7.46" fill="#6cc4b4"/>
<rect x="1075.86" y="584.24" width="32.52" height="7.46" fill="#c7e8e4"/>
<rect x="1108.08" y="584.24" width="21.78" height="7.46" fill="#d8b067"/>
<rect x="1129.56" y="584.24" width="11.04" height="7.46" fill="#a6611a"/>
<rect x="1140.30" y="584.24" width="21.78" height="7.46" fill="#d8b067"/>
<rect x="1161.78" y="584.24" width="32.52" height="7.46" fill="#c7e8e4"/>
<rect x="1194.00" y="584.24" width="11.04" height="7.46" fill="#6cc4b4"/>
<rect x="1204.74" y="584.24" width="32.52" height="7.46" fill="#c7e8e4"/>
<rect x="1236.96" y="584.24" width="21.78" height="7.46" fill="#6cc4b4"/>
<rect x="1269.18" y="584.24" width="13.12" height="7.46" fill="#6cc4b4"/>
<rect x="657.00" y="591.40" width="32.52" height="7.46" fill="#6cc4b4"/>
<rect x="699.96" y="591.40" width="11.04" height="7.46" fill="#6cc4b4"/>
<rect x="839.58" y="591.40" width="11.04" height="7.46" fill="#6cc4b4"/>
<rect x="914.76" y="591.40" width="21.78" height="7.46" fill="#6cc4b4"/>
<rect x="936.24" y="591.40" width="11.04" height="7.46" fill="#c7e8e4"/>
<rect x="946.98" y="591.40" width="43.26" height="7.46" fill="#6cc4b4"/>
<rect x="1054.38" y="591.40" width="32.52" height="7.46" fill="#6cc4b4"/>
<rect x="1086.60" y="591.40" width="21.78" height="7.46" fill="#d8b067"/>
<rect x="1108.08" y="591.40" width="32.52" height="7.46" fill="#a6611a"/>
<rect x="1140.30" y="591.40" width="21.78" height="7.46" fill="#d8b067"/>
<rect x="1161.78" y="591.40" width="21.78" height="7.46" fill="#c7e8e4"/>
<rect x="1183.26" y="591.40" width="11.04" height="7.46" fill="#6cc4b4"/>
<rect x="1204.74" y="591.40" width="77.56" height="7.46" fill="#6cc4b4"/>
<rect x="657.00" y="598.56" width="11.04" height="7.46" fill="#c7e8e4"/>
<rect x="667.74" y="598.56" width="21.78" height="7.46" fill="#6cc4b4"/>
<rect x="699.96" y="598.56" width="21.78" height="7.46" fill="#6cc4b4"/>
<rect x="775.14" y="598.56" width="21.78" height="7.46" fill="#c7e8e4"/>
<rect x="807.36" y="598.56" width="11.04" height="7.46" fill="#6cc4b4"/>
<rect x="925.50" y="598.56" width="32.52" height="7.46" fill="#6cc4b4"/>
<rect x="979.20" y="598.56" width="11.04" height="7.46" fill="#6cc4b4"/>
<rect x="1011.42" y="598.56" width="21.78" height="7.46" fill="#6cc4b4"/>
<rect x="1054.38" y="598.56" width="21.78" height="7.46" fill="#6cc4b4"/>
<rect x="1075.86" y="598.56" width="11.04" height="7.46" fill="#c7e8e4"/>
<rect x="1086.60" y="598.56" width="75.48" height="7.46" fill="#d8b067"/>
<rect x="1161.78" y="598.56" width="21.78" height="7.46" fill="#c7e8e4"/>
<rect x="1215.48" y="598.56" width="21.78" height="7.46" fill="#6cc4b4"/>
<rect x="1247.70" y="598.56" width="11.04" height="7.46" fill="#6cc4b4"/>
<rect x="657.00" y="605.72" width="11.04" height="7.46" fill="#c7e8e4"/>
<rect x="667.74" y="605.72" width="11.04" height="7.46" fill="#6cc4b4"/>
<rect x="710.70" y="605.72" width="11.04" height="7.46" fill="#6cc4b4"/>
<rect x="796.62" y="605.72" width="32.52" height="7.46" fill="#6cc4b4"/>
<rect x="936.24" y="605.72" width="11.04" height="7.46" fill="#6cc4b4"/>
<rect x="946.98" y="605.72" width="11.04" height="7.46" fill="#c7e8e4"/>
<rect x="968.46" y="605.72" width="11.04" height="7.46" fill="#6cc4b4"/>
<rect x="979.20" y="605.72" width="11.04" height="7.46" fill="#c7e8e4"/>
<rect x="989.94" y="605.72" width="64.74" height="7.46" fill="#6cc4b4"/>
<rect x="1065.12" y="605.72" width="11.04" height="7.46" fill="#6cc4b4"/>
<rect x="1075.86" y="605.72" width="21.78" height="7.46" fill="#c7e8e4"/>
<rect x="1097.34" y="605.72" width="21.78" height="7.46" fill="#d8b067"/>
<rect x="1118.82" y="605.72" width="11.04" height="7.46" fill="#c7e8e4"/>
<rect x="1129.56" y="605.72" width="21.78" height="7.46" fill="#d8b067"/>
<rect x="1151.04" y="605.72" width="32.52" height="7.46" fill="#c7e8e4"/>
<rect x="1194.00" y="605.72" width="21.78" height="7.46" fill="#6cc4b4"/>
<rect x="1215.48" y="605.72" width="11.04" height="7.46" fill="#c7e8e4"/>
<rect x="1226.22" y="605.72" width="11.04" height="7.46" fill="#6cc4b4"/>
<rect x="1258.44" y="605.72" width="11.04" height="7.46" fill="#6cc4b4"/>
<rect x="710.70" y="612.88" width="11.04" height="7.46" fill="#6cc4b4"/>
<rect x="753.66" y="612.88" width="21.78" height="7.46" fill="#6cc4b4"/>
<rect x="785.88" y="612.88" width="21.78" height="7.46" fill="#c7e8e4"/>
<rect x="807.36" y="612.88" width="32.52" height="7.46" fill="#6cc4b4"/>
<rect x="904.02" y="612.88" width="21.78" height="7.46" fill="#6cc4b4"/>
<rect x="925.50" y="612.88" width="21.78" height="7.46" fill="#c7e8e4"/>
<rect x="946.98" y="612.88" width="11.04" height="7.46" fill="#d8b067"/>
<rect x="957.72" y="612.88" width="54.00" height="7.46" fill="#c7e8e4"/>
<rect x="1011.42" y="612.88" width="11.04" height="7.46" fill="#6cc4b4"/>
<rect x="1022.16" y="612.88" width="21.78" height="7.46" fill="#c7e8e4"/>
<rect x="1043.64" y="612.88" width="11.04" height="7.46" fill="#6cc4b4"/>
<rect x="1065.12" y="612.88" width="11.04" height="7.46" fill="#6cc4b4"/>
<rect x="1075.86" y="612.88" width="96.96" height="7.46" fill="#c7e8e4"/>
<rect x="1194.00" y="612.88" width="11.04" height="7.46" fill="#6cc4b4"/>
<rect x="1226.22" y="612.88" width="11.04" height="7.46" fill="#6cc4b4"/>
<rect x="1269.18" y="612.88" width="11.04" height="7.46" fill="#6cc4b4"/>
<rect x="764.40" y="620.04" width="32.52" height="7.46" fill="#6cc4b4"/>
<rect x="796.62" y="620.04" width="21.78" height="7.46" fill="#c7e8e4"/>
<rect x="818.10" y="620.04" width="21.78" height="7.46" fill="#6cc4b4"/>
<rect x="839.58" y="620.04" width="32.52" height="7.46" fill="#c7e8e4"/>
<rect x="871.80" y="620.04" width="11.04" height="7.46" fill="#6cc4b4"/>
<rect x="882.54" y="620.04" width="54.00" height="7.46" fill="#c7e8e4"/>
<rect x="936.24" y="620.04" width="54.00" height="7.46" fill="#d8b067"/>
<rect x="989.94" y="620.04" width="11.04" height="7.46" fill="#a6611a"/>
<rect x="1000.68" y="620.04" width="21.78" height="7.46" fill="#d8b067"/>
<rect x="1022.16" y="620.04" width="32.52" height="7.46" fill="#c7e8e4"/>
<rect x="1054.38" y="620.04" width="11.04" height="7.46" fill="#6cc4b4"/>
<rect x="1065.12" y="620.04" width="43.26" height="7.46" fill="#c7e8e4"/>
<rect x="1108.08" y="620.04" width="32.52" height="7.46" fill="#6cc4b4"/>
<rect x="1140.30" y="620.04" width="11.04" height="7.46" fill="#c7e8e4"/>
<rect x="1151.04" y="620.04" width="11.04" height="7.46" fill="#6cc4b4"/>
<rect x="1161.78" y="620.04" width="11.04" height="7.46" fill="#c7e8e4"/>
<rect x="1172.52" y="620.04" width="32.52" height="7.46" fill="#6cc4b4"/>
<rect x="689.22" y="627.20" width="32.52" height="7.46" fill="#6cc4b4"/>
<rect x="753.66" y="627.20" width="11.04" height="7.46" fill="#6cc4b4"/>
<rect x="775.14" y="627.20" width="43.26" height="7.46" fill="#6cc4b4"/>
<rect x="818.10" y="627.20" width="75.48" height="7.46" fill="#c7e8e4"/>
<rect x="893.28" y="627.20" width="11.04" height="7.46" fill="#6cc4b4"/>
<rect x="904.02" y="627.20" width="64.74" height="7.46" fill="#c7e8e4"/>
<rect x="968.46" y="627.20" width="54.00" height="7.46" fill="#d8b067"/>
<rect x="1022.16" y="627.20" width="11.04" height="7.46" fill="#ece0c2"/>
<rect x="1032.90" y="627.20" width="75.48" height="7.46" fill="#c7e8e4"/>
<rect x="1108.08" y="627.20" width="32.52" height="7.46" fill="#6cc4b4"/>
<rect x="1140.30" y="627.20" width="32.52" height="7.46" fill="#c7e8e4"/>
<rect x="1172.52" y="627.20" width="11.04" height="7.46" fill="#6cc4b4"/>
<rect x="1194.00" y="627.20" width="11.04" height="7.46" fill="#6cc4b4"/>
<rect x="1204.74" y="627.20" width="11.04" height="7.46" fill="#c7e8e4"/>
<rect x="1215.48" y="627.20" width="11.04" height="7.46" fill="#6cc4b4"/>
<rect x="775.14" y="634.36" width="11.04" height="7.46" fill="#6cc4b4"/>
<rect x="807.36" y="634.36" width="21.78" height="7.46" fill="#6cc4b4"/>
<rect x="828.84" y="634.36" width="11.04" height="7.46" fill="#ece0c2"/>
<rect x="839.58" y="634.36" width="43.26" height="7.46" fill="#c7e8e4"/>
<rect x="882.54" y="634.36" width="11.04" height="7.46" fill="#6cc4b4"/>
<rect x="914.76" y="634.36" width="64.74" height="7.46" fill="#6cc4b4"/>
<rect x="979.20" y="634.36" width="64.74" height="7.46" fill="#c7e8e4"/>
<rect x="1043.64" y="634.36" width="11.04" height="7.46" fill="#6cc4b4"/>
<rect x="1075.86" y="634.36" width="11.04" height="7.46" fill="#c7e8e4"/>
<rect x="1086.60" y="634.36" width="32.52" height="7.46" fill="#6cc4b4"/>
<rect x="1140.30" y="634.36" width="21.78" height="7.46" fill="#c7e8e4"/>
<rect x="1161.78" y="634.36" width="21.78" height="7.46" fill="#6cc4b4"/>
<rect x="1204.74" y="634.36" width="32.52" height="7.46" fill="#6cc4b4"/>
<rect x="775.14" y="641.52" width="21.78" height="7.46" fill="#6cc4b4"/>
<rect x="807.36" y="641.52" width="32.52" height="7.46" fill="#6cc4b4"/>
<rect x="839.58" y="641.52" width="11.04" height="7.46" fill="#c7e8e4"/>
<rect x="850.32" y="641.52" width="11.04" height="7.46" fill="#ece0c2"/>
<rect x="861.06" y="641.52" width="32.52" height="7.46" fill="#c7e8e4"/>
<rect x="893.28" y="641.52" width="11.04" height="7.46" fill="#6cc4b4"/>
<rect x="914.76" y="641.52" width="11.04" height="7.46" fill="#6cc4b4"/>
<rect x="936.24" y="641.52" width="21.78" height="7.46" fill="#c7e8e4"/>
<rect x="957.72" y="641.52" width="11.04" height="7.46" fill="#6cc4b4"/>
<rect x="989.94" y="641.52" width="11.04" height="7.46" fill="#d8b067"/>
<rect x="1000.68" y="641.52" width="11.04" height="7.46" fill="#ece0c2"/>
<rect x="1011.42" y="641.52" width="32.52" height="7.46" fill="#c7e8e4"/>
<rect x="1065.12" y="641.52" width="11.04" height="7.46" fill="#6cc4b4"/>
<rect x="1075.86" y="641.52" width="11.04" height="7.46" fill="#c7e8e4"/>
<rect x="1086.60" y="641.52" width="11.04" height="7.46" fill="#ece0c2"/>
<rect x="1097.34" y="641.52" width="21.78" height="7.46" fill="#c7e8e4"/>
<rect x="1118.82" y="641.52" width="11.04" height="7.46" fill="#6cc4b4"/>
<rect x="1129.56" y="641.52" width="32.52" height="7.46" fill="#c7e8e4"/>
<rect x="1161.78" y="641.52" width="75.48" height="7.46" fill="#6cc4b4"/>
<rect x="1236.96" y="641.52" width="11.04" height="7.46" fill="#c7e8e4"/>
<rect x="1247.70" y="641.52" width="11.04" height="7.46" fill="#6cc4b4"/>
<rect x="1258.44" y="641.52" width="21.78" height="7.46" fill="#c7e8e4"/>
<rect x="775.14" y="648.68" width="21.78" height="7.46" fill="#6cc4b4"/>
<rect x="807.36" y="648.68" width="75.48" height="7.46" fill="#c7e8e4"/>
<rect x="882.54" y="648.68" width="11.04" height="7.46" fill="#6cc4b4"/>
<rect x="893.28" y="648.68" width="11.04" height="7.46" fill="#c7e8e4"/>
<rect x="925.50" y="648.68" width="21.78" height="7.46" fill="#6cc4b4"/>
<rect x="946.98" y="648.68" width="11.04" height="7.46" fill="#c7e8e4"/>
<rect x="957.72" y="648.68" width="32.52" height="7.46" fill="#6cc4b4"/>
<rect x="989.94" y="648.68" width="21.78" height="7.46" fill="#c7e8e4"/>
<rect x="1011.42" y="648.68" width="11.04" height="7.46" fill="#6cc4b4"/>
<rect x="1022.16" y="648.68" width="21.78" height="7.46" fill="#c7e8e4"/>
<rect x="1086.60" y="648.68" width="11.04" height="7.46" fill="#6cc4b4"/>
<rect x="1097.34" y="648.68" width="11.04" height="7.46" fill="#c7e8e4"/>
<rect x="1108.08" y="648.68" width="11.04" height="7.46" fill="#6cc4b4"/>
<rect x="1118.82" y="648.68" width="11.04" height="7.46" fill="#c7e8e4"/>
<rect x="1129.56" y="648.68" width="21.78" height="7.46" fill="#ece0c2"/>
<rect x="1151.04" y="648.68" width="129.18" height="7.46" fill="#6cc4b4"/>
<rect x="807.36" y="655.84" width="75.48" height="7.46" fill="#c7e8e4"/>
<rect x="882.54" y="655.84" width="21.78" height="7.46" fill="#6cc4b4"/>
<rect x="925.50" y="655.84" width="11.04" height="7.46" fill="#c7e8e4"/>
<rect x="936.24" y="655.84" width="32.52" height="7.46" fill="#6cc4b4"/>
<rect x="989.94" y="655.84" width="11.04" height="7.46" fill="#d8b067"/>
<rect x="1000.68" y="655.84" width="43.26" height="7.46" fill="#c7e8e4"/>
<rect x="1086.60" y="655.84" width="11.04" height="7.46" fill="#6cc4b4"/>
<rect x="1097.34" y="655.84" width="54.00" height="7.46" fill="#c7e8e4"/>
<rect x="1151.04" y="655.84" width="75.48" height="7.46" fill="#6cc4b4"/>
<rect x="1269.18" y="655.84" width="13.12" height="7.46" fill="#6cc4b4"/>
<rect x="732.18" y="663.00" width="11.04" height="7.46" fill="#6cc4b4"/>
<rect x="764.40" y="663.00" width="32.52" height="7.46" fill="#6cc4b4"/>
<rect x="807.36" y="663.00" width="21.78" height="7.46" fill="#c7e8e4"/>
<rect x="828.84" y="663.00" width="43.26" height="7.46" fill="#d8b067"/>
<rect x="871.80" y="663.00" width="21.78" height="7.46" fill="#c7e8e4"/>
<rect x="936.24" y="663.00" width="54.00" height="7.46" fill="#6cc4b4"/>
<rect x="989.94" y="663.00" width="11.04" height="7.46" fill="#c7e8e4"/>
<rect x="1000.68" y="663.00" width="11.04" height="7.46" fill="#6cc4b4"/>
<rect x="1011.42" y="663.00" width="11.04" height="7.46" fill="#c7e8e4"/>
<rect x="1022.16" y="663.00" width="21.78" height="7.46" fill="#6cc4b4"/>
<rect x="1172.52" y="663.00" width="21.78" height="7.46" fill="#6cc4b4"/>
<rect x="1194.00" y="663.00" width="11.04" height="7.46" fill="#c7e8e4"/>
<rect x="1204.74" y="663.00" width="21.78" height="7.46" fill="#6cc4b4"/>
<rect x="764.40" y="670.16" width="32.52" height="7.46" fill="#6cc4b4"/>
<rect x="807.36" y="670.16" width="11.04" height="7.46" fill="#6cc4b4"/>
<rect x="818.10" y="670.16" width="11.04" height="7.46" fill="#c7e8e4"/>
<rect x="828.84" y="670.16" width="54.00" height="7.46" fill="#d8b067"/>
<rect x="882.54" y="670.16" width="11.04" height="7.46" fill="#6cc4b4"/>
<rect x="936.24" y="670.16" width="11.04" height="7.46" fill="#6cc4b4"/>
<rect x="946.98" y="670.16" width="11.04" height="7.46" fill="#c7e8e4"/>
<rect x="957.72" y="670.16" width="32.52" height="7.46" fill="#6cc4b4"/>
<rect x="989.94" y="670.16" width="32.52" height="7.46" fill="#c7e8e4"/>
<rect x="1022.16" y="670.16" width="21.78" height="7.46" fill="#6cc4b4"/>
<rect x="1183.26" y="670.16" width="11.04" height="7.46" fill="#ece0c2"/>
<rect x="1194.00" y="670.16" width="11.04" height="7.46" fill="#c7e8e4"/>
<rect x="1204.74" y="670.16" width="21.78" height="7.46" fill="#6cc4b4"/>
<rect x="807.36" y="677.32" width="11.04" height="7.46" fill="#6cc4b4"/>
<rect x="818.10" y="677.32" width="21.78" height="7.46" fill="#c7e8e4"/>
<rect x="839.58" y="677.32" width="32.52" height="7.46" fill="#d8b067"/>
<rect x="871.80" y="677.32" width="21.78" height="7.46" fill="#6cc4b4"/>
<rect x="946.98" y="677.32" width="21.78" height="7.46" fill="#6cc4b4"/>
<rect x="968.46" y="677.32" width="54.00" height="7.46" fill="#c7e8e4"/>
<rect x="1022.16" y="677.32" width="32.52" height="7.46" fill="#6cc4b4"/>
<rect x="1172.52" y="677.32" width="11.04" height="7.46" fill="#c7e8e4"/>
<rect x="1183.26" y="677.32" width="11.04" height="7.46" fill="#6cc4b4"/>
<rect x="807.36" y="684.48" width="32.52" height="7.46" fill="#6cc4b4"/>
<rect x="839.58" y="684.48" width="32.52" height="7.46" fill="#c7e8e4"/>
<rect x="871.80" y="684.48" width="21.78" height="7.46" fill="#6cc4b4"/>
<rect x="957.72" y="684.48" width="11.04" height="7.46" fill="#6cc4b4"/>
<rect x="968.46" y="684.48" width="21.78" height="7.46" fill="#c7e8e4"/>
<rect x="989.94" y="684.48" width="11.04" height="7.46" fill="#6cc4b4"/>
<rect x="1000.68" y="684.48" width="21.78" height="7.46" fill="#c7e8e4"/>
<rect x="1022.16" y="684.48" width="21.78" height="7.46" fill="#6cc4b4"/>
<rect x="818.10" y="691.64" width="21.78" height="7.46" fill="#6cc4b4"/>
<rect x="839.58" y="691.64" width="32.52" height="7.46" fill="#c7e8e4"/>
<rect x="968.46" y="691.64" width="75.48" height="7.46" fill="#6cc4b4"/>
<rect x="839.58" y="698.80" width="21.78" height="7.46" fill="#6cc4b4"/>
<rect x="968.46" y="698.80" width="11.04" height="7.46" fill="#6cc4b4"/>
<rect x="979.20" y="698.80" width="21.78" height="7.46" fill="#c7e8e4"/>
<rect x="839.58" y="705.96" width="11.04" height="7.46" fill="#6cc4b4"/></g>
<path fill="#000" stroke="none" d="M731.3,515.3L734.9,508.7L740.2,504.2L752.8,501.9L770.7,499.8L786.8,496.2L797.5,494.4L807.2,493.3L824.4,492.6L844.1,493.1L840.5,496.2L833.3,498.9L824.4,501.5L819.0,503.7L815.4,506.9L822.6,509.6L829.7,512.3L836.9,515.5L840.5,518.5L847.6,521.6L848.0,523.0L844.1,525.7L841.4,528.4L836.9,529.3L830.6,527.5L826.2,526.1L819.0,525.7L813.6,522.1L808.3,519.4L801.1,518.4L793.9,517.7L788.6,518.9L779.6,519.4L770.7,518.4L761.7,518.9L752.8,518.5L743.8,517.1L736.7,516.6L731.3,515.3ZM978.3,500.6L980.1,498.5L987.3,498.0L991.7,497.4L998.0,497.4L1006.9,497.6L1003.4,499.2L998.0,500.6L992.6,502.8L987.3,503.9L983.7,503.0L978.3,500.6ZM1042.7,497.4L1051.7,496.5L1062.4,495.3L1069.6,496.2L1073.2,497.1L1062.4,498.0L1048.1,498.1L1042.7,497.4ZM1130.5,500.6L1137.6,498.5L1144.8,498.9L1137.6,496.2L1130.5,497.1L1130.5,500.6ZM1203.8,506.9L1209.2,505.1L1214.6,505.1L1225.3,506.4L1220.0,507.3L1212.8,509.1L1203.8,506.9ZM1174.5,608.0L1177.4,608.0L1177.0,611.6L1176.1,615.6L1180.6,617.9L1179.3,616.5L1174.5,615.2L1173.4,611.6L1174.5,608.0ZM1177.0,628.6L1180.6,626.8L1183.3,623.6L1185.2,628.1L1183.3,630.8L1180.6,629.5L1177.0,628.6ZM1178.8,620.6L1180.6,619.1L1183.3,618.8L1183.3,622.4L1181.5,623.3L1179.3,624.5L1177.9,622.4L1178.8,620.6ZM1051.7,513.2L1054.4,510.5L1057.1,509.6L1058.9,507.8L1060.6,506.0L1066.0,504.8L1069.6,504.2L1081.2,503.5L1076.8,505.1L1071.4,506.0L1066.0,507.6L1062.4,508.7L1058.9,511.4L1058.9,512.3L1062.4,514.4L1057.1,514.8L1053.5,514.6L1051.7,513.2Z"/>
<path fill="none" stroke="#000" stroke-width="4.9" stroke-linejoin="round" stroke-linecap="round" d="M657.9,523.7L661.5,522.7L667.6,521.4L664.2,520.2L660.0,518.9L661.5,517.8L666.8,516.2L672.2,514.8L677.9,513.5L686.5,514.3L692.8,515.3L699.1,515.7L706.2,516.6L713.4,517.7L717.0,516.8L722.3,516.6L727.7,515.9L729.5,514.8L733.1,516.8L736.7,516.8L742.0,516.2L749.2,517.7L754.6,518.9L761.7,519.4L767.1,518.7L772.5,519.4L779.6,519.8L783.2,518.5L786.8,519.4L788.6,516.8L790.4,512.5L793.9,514.1L796.6,517.7L801.1,518.5L805.6,516.2L811.8,516.8L812.7,518.5L808.3,521.2L804.7,522.1L802.9,525.7L797.5,526.6L793.9,529.3L790.4,532.0L789.5,535.6L792.1,536.1L793.0,539.1L797.5,539.1L802.0,541.8L806.5,542.2L811.3,542.5L811.5,546.3L813.6,548.1L816.3,549.0L817.4,547.2L817.2,543.6L820.8,540.0L821.3,537.3L819.0,534.7L819.9,532.9L819.0,529.5L824.4,529.6L827.9,529.8L831.5,531.6L834.2,532.9L834.2,535.9L837.8,536.8L840.5,535.9L843.2,533.2L845.0,536.4L847.6,538.2L849.4,540.9L851.2,542.2L854.8,544.1L857.5,546.3L858.7,548.4L856.6,549.2L851.2,551.3L844.1,551.3L839.6,551.3L836.0,553.1L832.4,556.7L835.1,555.2L840.5,553.5L843.2,553.8L842.3,555.6L842.6,557.4L843.5,558.5L847.6,559.2L849.4,559.5L851.2,558.8L849.4,560.3L845.0,561.3L841.4,563.1L840.1,561.5L843.2,560.1L839.6,560.3L836.9,561.7L833.3,562.9L832.4,565.1L833.3,566.5L830.6,567.1L827.0,568.0L826.2,568.5L826.2,570.5L824.7,571.5L823.5,572.8L822.6,574.9L823.5,578.2L821.7,579.2L819.0,580.5L816.8,581.9L813.6,583.9L813.1,587.5L814.3,590.7L815.4,593.7L814.7,596.1L813.6,596.1L812.2,594.4L810.8,591.9L810.4,589.3L808.3,587.5L805.9,588.0L804.7,586.7L802.0,586.9L799.3,586.9L798.8,589.1L796.6,589.1L793.9,588.2L790.4,588.0L788.6,588.9L785.9,590.5L784.4,591.8L784.1,595.0L783.7,598.2L783.6,601.8L784.6,604.1L786.4,606.8L789.5,608.6L793.0,607.9L795.7,607.7L796.4,605.7L796.8,603.6L800.2,602.7L802.9,602.7L802.3,604.8L801.6,608.0L800.7,609.8L800.6,612.5L802.9,612.9L806.5,612.5L809.5,614.3L809.1,617.9L808.8,620.6L810.0,623.3L812.7,625.1L815.4,624.5L817.2,624.0L819.9,625.4L820.2,626.5L819.7,627.6L818.5,626.3L817.2,625.1L815.8,625.9L814.5,627.9L812.7,626.8L810.4,626.5L808.3,624.3L805.2,623.3L805.0,621.1L802.9,618.8L802.0,617.5L798.4,617.0L794.8,616.1L792.1,613.4L789.5,612.3L785.9,613.1L782.3,612.0L779.6,610.7L776.0,609.3L771.9,607.0L769.8,605.4L770.1,602.7L769.2,600.7L767.4,599.1L765.3,596.4L762.8,594.3L760.8,591.4L757.8,589.4L756.3,586.4L753.1,584.2L753.7,586.9L755.8,589.8L758.1,592.8L759.4,595.0L760.8,598.0L761.9,600.0L761.2,599.1L759.0,597.3L757.8,594.8L755.5,593.2L754.0,591.4L753.1,588.4L751.0,586.6L749.9,584.6L749.0,583.0L747.8,581.0L746.5,580.3L744.7,579.6L742.7,579.2L742.2,577.6L740.4,575.6L739.3,573.9L738.4,572.8L737.2,571.4L736.1,568.8L736.5,566.3L735.8,564.2L736.7,560.6L736.7,558.3L735.4,554.5L738.1,554.9L738.8,553.5L736.7,552.0L734.0,550.8L730.4,549.9L729.5,547.5L725.9,544.5L725.0,542.7L722.3,540.0L719.6,538.2L716.1,536.4L712.5,536.1L708.6,534.1L704.4,533.8L700.9,533.8L696.4,532.3L692.8,532.9L690.1,534.5L686.9,535.2L687.4,532.9L690.1,531.6L685.6,532.9L683.9,534.7L683.0,535.6L683.9,536.8L681.2,537.7L678.5,539.1L674.9,540.9L671.3,541.8L667.7,542.7L663.6,543.6L666.8,542.7L670.4,540.9L674.0,538.2L676.5,536.1L673.1,535.9L668.6,536.3L668.6,534.1L665.1,533.8L662.9,532.3L662.4,530.7L661.5,529.3L664.2,528.0L666.8,528.2L670.4,526.1L670.4,525.5L666.8,525.5L661.5,525.7L660.4,524.5L657.9,523.7M1302.3,523.7L1305.9,522.7L1312.0,521.4L1308.6,520.2L1304.4,518.9L1305.9,517.8L1311.2,516.2L1316.6,514.8L1322.3,513.5L1330.9,514.3L1337.2,515.3L1343.5,515.7L1350.6,516.6L1357.8,517.7L1361.4,516.8L1366.7,516.6L1372.1,515.9L1373.9,514.8L1377.5,516.8L1381.1,516.8L1386.4,516.2L1393.6,517.7L1399.0,518.9L1406.1,519.4L1411.5,518.7L1416.9,519.4L1424.0,519.8L1427.6,518.5L1431.2,519.4L1433.0,516.8L1434.8,512.5L1438.3,514.1L1441.0,517.7L1445.5,518.5L1450.0,516.2L1456.2,516.8L1457.1,518.5L1452.7,521.2L1449.1,522.1L1447.3,525.7L1441.9,526.6L1438.3,529.3L1434.8,532.0L1433.9,535.6L1436.5,536.1L1437.4,539.1L1441.9,539.1L1446.4,541.8L1450.9,542.2L1455.7,542.5L1455.9,546.3L1458.0,548.1L1460.7,549.0L1461.8,547.2L1461.6,543.6L1465.2,540.0L1465.7,537.3L1463.4,534.7L1464.3,532.9L1463.4,529.5L1468.8,529.6L1472.3,529.8L1475.9,531.6L1478.6,532.9L1478.6,535.9L1482.2,536.8L1484.9,535.9L1487.6,533.2L1489.3,536.4L1492.0,538.2L1493.8,540.9L1495.6,542.2L1499.2,544.1L1501.9,546.3L1503.1,548.4L1501.0,549.2L1495.6,551.3L1488.5,551.3L1484.0,551.3L1480.4,553.1L1476.8,556.7L1479.5,555.2L1484.9,553.5L1487.6,553.8L1486.7,555.6L1487.0,557.4L1487.9,558.5L1492.0,559.2L1493.8,559.5L1495.6,558.8L1493.8,560.3L1489.3,561.3L1485.8,563.1L1484.5,561.5L1487.6,560.1L1484.0,560.3L1481.3,561.7L1477.7,562.9L1476.8,565.1L1477.7,566.5L1475.0,567.1L1471.5,568.0L1470.6,568.5L1470.6,570.5L1469.1,571.5L1467.9,572.8L1467.0,574.9L1467.9,578.2L1466.1,579.2L1463.4,580.5L1461.2,581.9L1458.0,583.9L1457.5,587.5L1458.7,590.7L1459.8,593.7L1459.1,596.1L1458.0,596.1L1456.6,594.4L1455.2,591.9L1454.8,589.3L1452.7,587.5L1450.3,588.0L1449.1,586.7L1446.4,586.9L1443.7,586.9L1443.2,589.1L1441.0,589.1L1438.3,588.2L1434.8,588.0L1433.0,588.9L1430.3,590.5L1428.8,591.8L1428.5,595.0L1428.1,598.2L1428.0,601.8L1429.0,604.1L1430.8,606.8L1433.9,608.6L1437.4,607.9L1440.1,607.7L1440.8,605.7L1441.2,603.6L1444.6,602.7L1447.3,602.7L1446.7,604.8L1446.0,608.0L1445.1,609.8L1445.0,612.5L1447.3,612.9L1450.9,612.5L1453.9,614.3L1453.6,617.9L1453.2,620.6L1454.4,623.3L1457.1,625.1L1459.8,624.5L1461.6,624.0L1464.3,625.4L1464.6,626.5L1464.1,627.6L1462.9,626.3L1461.6,625.1L1460.2,625.9L1458.9,627.9L1457.1,626.8L1454.8,626.5L1452.7,624.3L1449.6,623.3L1449.4,621.1L1447.3,618.8L1446.4,617.5L1442.8,617.0L1439.2,616.1L1436.5,613.4L1433.9,612.3L1430.3,613.1L1426.7,612.0L1424.0,610.7L1420.4,609.3L1416.3,607.0L1414.2,605.4L1414.5,602.7L1413.6,600.7L1411.8,599.1L1409.7,596.4L1407.2,594.3L1405.2,591.4L1402.2,589.4L1400.7,586.4L1397.5,584.2L1398.1,586.9L1400.2,589.8L1402.5,592.8L1403.8,595.0L1405.2,598.0L1406.3,600.0L1405.6,599.1L1403.4,597.3L1402.2,594.8L1399.8,593.2L1398.4,591.4L1397.5,588.4L1395.4,586.6L1394.3,584.6L1393.4,583.0L1392.2,581.0L1390.9,580.3L1389.1,579.6L1387.1,579.2L1386.6,577.6L1384.8,575.6L1383.7,573.9L1382.8,572.8L1381.6,571.4L1380.5,568.8L1380.9,566.3L1380.2,564.2L1381.1,560.6L1381.1,558.3L1379.8,554.5L1382.5,554.9L1383.2,553.5L1381.1,552.0L1378.4,550.8L1374.8,549.9L1373.9,547.5L1370.3,544.5L1369.4,542.7L1366.7,540.0L1364.1,538.2L1360.5,536.4L1356.9,536.1L1353.0,534.1L1348.8,533.8L1345.3,533.8L1340.8,532.3L1337.2,532.9L1334.5,534.5L1331.3,535.2L1331.8,532.9L1334.5,531.6L1330.0,532.9L1328.2,534.7L1327.4,535.6L1328.2,536.8L1325.6,537.7L1322.9,539.1L1319.3,540.9L1315.7,541.8L1312.1,542.7L1308.0,543.6L1311.2,542.7L1314.8,540.9L1318.4,538.2L1320.9,536.1L1317.5,535.9L1313.0,536.3L1313.0,534.1L1309.5,533.8L1307.3,532.3L1306.8,530.7L1305.9,529.3L1308.6,528.0L1311.2,528.2L1314.8,526.1L1314.8,525.5L1311.2,525.5L1305.9,525.7L1304.8,524.5L1302.3,523.7M827.9,501.2L836.9,498.9L844.1,496.2L856.6,494.0L878.1,492.9L896.0,491.7L913.9,492.2L922.8,493.5L926.4,495.3L937.1,495.1L930.0,497.4L926.4,499.8L923.7,503.3L925.5,506.0L922.8,507.8L920.1,511.4L919.2,514.1L915.7,515.9L912.1,518.4L904.9,519.1L901.3,519.4L895.1,523.0L890.6,523.6L887.0,524.8L885.2,527.5L882.5,530.2L881.6,532.9L879.3,533.8L876.3,532.3L872.7,532.0L870.0,529.3L868.2,526.6L865.5,524.3L862.9,522.1L862.5,519.4L864.6,518.2L862.0,516.8L867.3,515.0L862.0,514.1L860.2,513.2L858.4,510.5L856.6,507.8L853.9,506.0L849.4,504.9L840.5,504.9L835.1,504.2L830.6,503.0L827.9,501.2M848.0,521.9L845.0,524.8L842.3,526.1L841.4,528.4L836.9,529.3L830.6,527.5L827.0,525.7L822.6,526.1L819.0,525.7L824.4,523.9L827.0,522.1L827.9,520.7L822.6,519.1L817.2,517.3L811.8,516.2L806.5,515.5L800.2,514.6L798.4,513.2L803.8,511.4L806.5,509.2L815.4,509.2L822.6,511.0L827.9,512.3L831.5,514.1L836.0,515.0L838.7,516.8L839.6,518.9L845.8,520.9L848.0,521.9M824.4,504.2L815.4,504.6L806.5,504.2L799.3,503.3L802.0,501.5L793.9,498.9L790.4,496.2L806.5,494.4L824.4,492.9L842.3,492.6L849.4,493.5L840.5,496.2L833.3,498.0L824.4,499.8L819.0,502.4L824.4,504.2M797.5,499.8L787.7,497.1L793.9,495.8L802.9,498.0L797.5,499.8M815.4,507.8L804.7,507.8L793.9,507.3L786.8,504.6L793.9,503.7L801.1,504.0L811.8,505.5L815.4,507.8M748.3,515.9L749.2,513.4L752.8,511.6L758.1,510.5L765.3,510.9L769.8,510.5L771.6,512.8L777.8,514.6L775.1,517.1L768.9,517.3L764.4,518.4L756.3,518.5L749.2,517.7L748.3,515.9M734.9,512.6L735.8,509.6L740.2,507.8L747.4,508.3L751.0,509.6L751.9,511.7L745.6,513.4L741.1,513.5L734.9,512.6M749.2,505.1L758.1,504.4L770.7,505.3L768.0,507.3L761.7,507.8L756.3,507.8L749.2,506.6L749.2,505.1M772.5,504.2L783.2,503.7L784.1,506.6L779.6,507.3L772.5,506.6L772.5,504.2M785.0,513.2L779.6,512.3L776.0,511.0L776.9,509.1L784.1,508.7L785.9,510.9L785.0,513.2M790.4,512.3L787.7,510.5L787.7,508.7L796.6,508.7L795.7,510.5L792.1,512.3L790.4,512.3M785.0,518.5L781.4,517.7L784.1,516.2L786.8,516.8L785.0,518.5M804.7,527.0L813.6,526.1L814.5,527.5L809.1,528.8L803.8,527.0L802.9,525.7L804.7,523.9L807.4,524.3L804.7,527.0M852.5,556.0L858.4,556.0L862.9,557.6L864.1,556.1L862.9,554.3L862.9,552.6L859.3,551.8L859.3,549.0L856.6,550.8L853.9,553.5L852.5,556.0M918.3,526.6L915.7,523.9L919.2,522.3L925.5,522.7L930.0,522.1L932.7,522.8L934.5,524.5L931.8,526.1L925.5,527.7L921.0,527.0L918.3,526.6M820.2,626.5L821.1,625.8L823.5,622.4L826.2,621.1L828.8,620.0L830.6,619.0L831.2,621.5L830.3,622.5L831.5,621.5L833.3,619.3L836.0,621.1L836.9,622.4L840.5,622.2L844.1,622.4L847.6,622.0L849.4,623.3L850.3,625.9L852.1,626.8L854.8,629.0L856.6,630.4L860.2,630.4L863.7,631.1L865.5,632.2L867.3,634.0L868.2,637.6L869.1,639.4L868.8,641.2L871.8,642.6L874.5,642.2L878.1,643.8L879.9,645.6L883.4,646.0L887.0,646.2L889.7,647.8L892.4,649.8L895.6,650.6L896.1,655.5L895.4,658.2L892.4,660.9L890.6,663.5L889.7,664.4L888.8,668.0L888.8,672.5L887.6,676.1L886.1,678.8L885.2,680.5L883.4,682.3L879.9,682.3L878.1,683.6L875.4,684.1L872.7,686.4L871.8,688.2L871.6,692.2L869.1,694.9L867.3,696.7L865.0,698.8L863.7,701.5L861.4,703.3L858.4,703.6L856.2,702.7L854.3,702.0L856.6,704.7L855.7,706.5L855.7,709.5L852.1,710.6L847.6,711.0L847.1,714.2L842.3,714.6L844.1,716.9L845.0,717.2L842.3,718.1L841.7,720.8L837.8,723.5L837.8,724.4L840.8,726.7L837.8,729.4L836.4,731.0L835.1,733.5L836.0,734.8L837.8,737.5L841.4,739.3L839.9,739.6L838.1,741.2L835.1,740.5L832.4,739.6L828.8,737.8L827.0,735.7L825.3,733.3L823.5,728.9L825.3,725.3L823.5,724.4L826.2,721.7L827.0,719.0L826.2,716.3L826.7,712.8L827.0,708.3L828.8,703.8L830.1,700.2L830.6,694.9L831.0,691.3L832.1,685.9L832.4,682.3L833.0,677.9L832.8,674.3L830.6,672.5L827.9,670.7L824.4,668.5L822.0,665.9L820.8,662.6L819.0,660.0L816.3,654.6L813.6,651.9L813.1,649.4L814.9,647.2L815.4,645.6L813.8,645.1L814.5,643.0L815.4,640.3L817.2,638.5L818.1,636.7L819.9,634.4L820.1,630.4L819.7,627.6M806.6,602.0L810.0,600.2L811.8,599.8L814.9,600.0L817.2,600.9L819.9,602.3L823.1,603.6L825.8,605.0L822.9,605.5L819.9,605.5L820.8,604.5L818.1,602.7L814.5,601.8L812.2,601.4L809.1,601.8L806.6,602.0M825.4,608.0L828.5,605.5L831.5,605.5L834.2,606.6L836.2,607.9L833.3,608.6L831.2,609.7L828.8,608.6L825.4,608.4L825.4,608.0M818.5,608.2L822.0,608.6L821.1,609.1L818.6,608.6L818.5,608.2M838.3,608.0L841.2,608.2L841.0,608.9L838.3,608.9L838.3,608.0M1017.0,587.6L1020.0,591.4L1021.3,588.4L1021.4,590.9L1024.0,594.6L1025.2,596.4L1027.0,599.1L1028.4,602.7L1030.2,605.4L1032.0,608.0L1033.8,611.6L1035.0,613.1L1036.3,618.6L1039.2,618.2L1042.7,617.0L1045.4,616.1L1049.0,614.3L1051.7,613.2L1054.4,611.6L1057.1,610.7L1058.9,609.3L1060.6,607.3L1062.1,606.3L1063.3,604.6L1065.7,601.1L1063.9,599.1L1060.6,598.2L1059.6,597.1L1059.4,594.1L1058.0,595.5L1055.3,597.8L1052.6,597.8L1051.0,597.8L1050.8,595.5L1049.9,594.6L1049.0,595.5L1048.1,594.3L1047.2,592.8L1045.6,591.0L1044.5,587.6L1046.3,586.9L1048.5,587.8L1049.5,590.0L1050.8,591.2L1053.5,592.8L1055.3,593.4L1058.0,593.5L1059.8,592.7L1061.5,595.2L1065.1,595.7L1068.7,596.1L1073.2,595.9L1077.7,595.7L1078.5,596.8L1080.3,598.6L1081.2,599.1L1083.0,600.4L1083.9,600.0L1084.5,600.9L1081.9,601.2L1082.5,602.5L1083.9,603.6L1085.7,604.1L1088.0,603.0L1088.6,602.7L1088.9,605.4L1088.9,607.2L1089.3,609.8L1090.7,613.4L1092.0,616.1L1092.9,618.8L1094.1,621.1L1095.2,623.6L1096.1,625.4L1097.3,626.7L1098.6,625.2L1100.0,624.5L1100.6,622.7L1101.5,622.7L1101.6,619.7L1102.4,617.9L1102.2,613.4L1103.6,612.7L1105.9,611.4L1108.1,609.3L1110.8,606.3L1113.5,605.0L1114.2,603.6L1115.2,602.5L1117.0,602.3L1117.9,601.8L1119.7,602.0L1120.8,600.7L1122.9,601.1L1123.8,604.1L1125.1,605.7L1127.8,607.2L1127.4,611.6L1129.2,612.9L1131.3,611.1L1133.5,611.6L1133.3,614.3L1134.4,617.0L1134.9,619.7L1134.6,623.3L1134.9,626.5L1134.6,627.2L1136.7,629.5L1138.2,632.2L1138.9,634.9L1139.9,636.1L1142.1,637.8L1143.9,638.8L1145.1,638.7L1144.4,636.1L1143.7,633.1L1141.6,630.1L1140.3,629.0L1138.3,628.1L1137.6,625.9L1136.2,623.3L1136.5,620.6L1137.6,618.2L1138.5,617.0L1139.2,618.4L1140.8,618.4L1143.0,620.6L1143.9,622.2L1145.7,622.5L1146.6,622.4L1146.2,625.8L1147.5,625.1L1149.2,624.2L1150.1,622.5L1152.8,621.1L1154.1,619.7L1154.1,617.0L1153.5,613.8L1151.9,612.0L1150.1,611.1L1148.7,609.3L1147.8,607.7L1149.4,605.0L1151.0,602.7L1152.8,602.5L1155.0,602.7L1155.5,604.8L1156.4,603.2L1157.3,602.9L1160.0,602.1L1162.7,601.2L1165.4,600.4L1168.0,599.1L1170.7,597.3L1172.7,595.5L1172.9,593.5L1174.3,592.5L1176.1,591.0L1177.0,587.8L1176.1,586.0L1176.8,585.3L1175.2,583.9L1174.3,582.1L1172.0,579.2L1172.5,577.6L1174.3,576.7L1176.1,575.5L1177.9,574.4L1176.1,574.0L1174.3,573.7L1172.3,574.8L1170.7,573.1L1169.5,572.1L1169.1,571.0L1170.7,571.0L1172.5,569.9L1174.3,568.7L1175.6,568.0L1177.4,568.8L1176.1,570.5L1176.6,571.4L1177.9,570.5L1179.7,569.9L1181.8,570.3L1182.9,570.6L1182.4,572.2L1182.4,573.7L1185.0,574.9L1184.7,577.6L1184.7,579.4L1186.8,579.2L1188.6,578.5L1190.1,578.0L1190.2,576.7L1190.2,574.9L1188.6,572.6L1187.7,570.3L1186.8,569.9L1190.4,567.8L1190.8,566.9L1192.6,565.4L1194.0,564.7L1195.8,563.8L1197.6,564.5L1200.3,562.9L1203.0,561.0L1205.6,558.8L1206.5,557.0L1209.2,555.2L1210.1,554.3L1211.7,551.7L1211.7,549.0L1211.0,546.3L1209.2,545.4L1206.5,544.5L1204.7,543.6L1203.8,544.5L1200.6,543.2L1203.8,540.9L1207.4,538.6L1210.1,537.3L1212.8,535.6L1214.6,534.8L1219.1,534.8L1223.5,535.0L1226.2,534.3L1230.7,535.2L1234.3,535.0L1236.1,534.1L1237.9,530.9L1241.4,530.5L1245.0,530.7L1250.4,530.2L1245.9,532.9L1241.4,537.3L1238.8,538.2L1237.9,540.9L1237.3,544.5L1238.4,547.2L1239.1,549.9L1241.4,548.1L1242.3,547.2L1244.7,545.8L1245.0,544.5L1248.2,542.9L1248.6,540.4L1250.9,540.0L1249.5,537.9L1251.3,536.4L1251.3,533.9L1254.0,533.4L1255.8,533.8L1257.5,533.0L1262.9,533.8L1266.5,532.3L1268.3,532.0L1271.9,530.2L1276.3,529.3L1279.0,529.3L1279.4,528.2L1282.6,526.6L1284.4,525.2L1288.0,525.7L1291.6,525.9L1293.3,524.8L1296.9,523.9L1299.3,522.8L1295.1,521.6L1291.6,521.2L1286.2,520.3L1282.6,518.5L1280.8,517.8L1273.7,516.2L1268.3,516.0L1262.9,515.9L1257.5,516.4L1252.2,516.4L1246.8,516.6L1243.2,514.4L1236.1,514.1L1230.7,514.3L1227.1,513.2L1220.0,511.7L1214.6,511.0L1207.4,513.2L1202.1,513.2L1194.9,513.7L1192.2,514.4L1190.4,512.3L1187.7,510.7L1185.9,509.6L1180.6,509.2L1175.2,510.7L1169.8,509.6L1166.3,509.4L1161.8,509.6L1159.1,509.2L1156.4,508.7L1157.3,509.6L1153.7,509.8L1150.1,510.1L1148.4,509.6L1151.9,508.7L1159.1,505.8L1161.8,504.8L1155.5,503.3L1150.1,503.7L1145.3,502.1L1139.4,504.2L1134.0,504.6L1128.7,505.1L1119.7,506.0L1116.1,506.9L1113.5,507.8L1112.6,509.1L1114.3,509.6L1113.5,510.9L1109.0,511.4L1103.6,511.7L1102.7,509.6L1098.2,511.6L1094.7,513.2L1092.9,511.4L1091.1,510.5L1090.2,510.9L1088.9,511.9L1088.9,514.4L1088.4,516.8L1090.2,518.5L1089.3,521.2L1087.5,522.1L1085.7,521.4L1084.8,522.1L1082.1,521.8L1083.9,518.5L1081.2,518.5L1079.4,517.3L1077.7,515.0L1079.4,513.5L1081.2,511.4L1083.0,509.6L1085.7,510.1L1087.5,510.9L1088.4,512.3L1086.6,514.1L1088.4,513.2L1082.1,515.0L1081.2,516.2L1078.5,517.7L1076.8,517.1L1073.2,517.1L1067.8,516.2L1064.2,518.5L1060.6,518.5L1056.2,518.9L1053.5,518.5L1048.1,519.4L1041.0,519.6L1037.4,518.5L1036.5,520.0L1037.4,522.8L1033.8,522.1L1031.1,522.7L1030.2,525.5L1026.6,526.2L1024.8,527.0L1021.3,526.2L1020.9,525.7L1023.1,523.9L1018.6,522.1L1021.3,522.7L1026.6,523.0L1032.0,522.7L1032.0,520.3L1028.4,519.4L1024.0,517.7L1017.7,517.1L1014.1,515.3L1010.5,515.9L1010.0,514.3L1004.8,513.9L1000.7,514.4L996.2,515.5L992.6,516.2L989.0,517.7L987.3,518.4L984.6,519.4L983.7,520.3L981.0,523.0L980.1,524.8L977.8,525.3L976.5,526.6L973.8,527.5L971.1,528.4L967.9,529.8L967.6,532.0L967.6,533.8L968.6,536.1L970.2,537.3L972.9,537.2L975.6,535.6L977.6,535.2L978.3,535.6L979.7,537.3L981.0,539.1L981.5,541.6L984.2,541.8L987.3,540.6L988.2,538.2L988.2,536.4L991.7,535.2L992.1,533.8L989.2,532.0L989.9,529.5L993.5,527.5L997.1,525.7L998.0,523.9L1001.6,523.4L1003.9,524.8L1002.5,525.7L998.9,527.5L997.1,529.3L997.1,532.0L998.9,533.4L1001.6,533.4L1005.2,533.0L1008.7,532.9L1012.3,533.8L1008.7,534.7L1005.2,534.7L1001.6,534.8L1000.7,536.4L1002.3,537.5L1001.6,538.8L1000.7,538.8L998.0,538.1L996.2,539.5L996.2,542.4L994.4,543.1L991.7,543.1L987.3,544.0L984.6,544.5L981.9,543.6L978.3,544.5L976.5,543.6L976.2,542.7L977.1,540.6L977.4,537.9L973.3,539.5L974.0,541.8L974.0,544.7L971.1,545.2L967.6,545.8L966.7,547.2L964.9,549.2L963.1,549.7L961.5,551.3L959.0,552.6L956.1,552.2L955.9,554.0L953.2,553.8L950.6,554.2L950.2,555.2L954.1,556.5L956.5,558.8L956.5,561.5L955.4,563.5L953.2,563.5L949.7,563.3L944.3,562.9L942.0,564.2L942.7,565.1L943.0,567.8L941.6,571.4L942.9,571.9L942.7,574.9L945.4,574.6L947.3,575.3L948.6,576.7L950.7,575.5L954.9,575.5L956.8,573.9L958.1,572.2L958.6,570.5L960.2,567.8L964.3,566.2L964.3,563.8L967.6,563.7L970.2,564.0L972.0,562.8L974.4,561.7L976.5,562.4L977.4,564.2L978.3,565.1L981.0,566.7L984.0,568.1L986.5,569.6L986.7,573.1L988.2,571.4L989.0,570.5L989.0,568.7L991.7,569.4L990.8,568.5L987.3,566.9L984.6,565.6L983.3,565.1L980.6,561.9L980.6,560.1L983.0,559.4L983.0,560.3L984.6,560.3L986.4,562.4L989.0,563.7L991.7,565.1L993.5,566.0L993.3,568.7L994.4,570.1L996.4,572.6L997.1,575.3L998.9,575.8L999.8,574.0L999.8,573.1L1001.6,572.8L999.4,570.5L999.4,568.7L1001.6,568.1L1005.2,568.1L1006.0,568.7L1005.5,569.7L1006.0,572.2L1007.3,574.0L1008.7,575.3L1013.2,576.0L1016.8,576.5L1020.4,575.3L1023.1,575.8L1022.7,577.6L1022.2,579.4L1021.3,582.5L1020.0,585.1L1016.4,585.1M372.6,587.6L375.6,591.4L376.9,588.4L377.0,590.9L379.6,594.6L380.8,596.4L382.6,599.1L384.0,602.7L385.8,605.4L387.6,608.0L389.4,611.6L390.6,613.1L391.9,618.6L394.8,618.2L398.3,617.0L401.0,616.1L404.6,614.3L407.3,613.2L410.0,611.6L412.7,610.7L414.5,609.3L416.2,607.3L417.7,606.3L418.9,604.6L421.3,601.1L419.5,599.1L416.2,598.2L415.2,597.1L415.0,594.1L413.6,595.5L410.9,597.8L408.2,597.8L406.6,597.8L406.4,595.5L405.5,594.6L404.6,595.5L403.7,594.3L402.8,592.8L401.2,591.0L400.1,587.6L401.9,586.9L404.1,587.8L405.1,590.0L406.4,591.2L409.1,592.8L410.9,593.4L413.6,593.5L415.4,592.7L417.1,595.2L420.7,595.7L424.3,596.1L428.8,595.9L433.2,595.7L434.1,596.8L435.9,598.6L436.8,599.1L438.6,600.4L439.5,600.0L440.1,600.9L437.5,601.2L438.1,602.5L439.5,603.6L441.3,604.1L443.6,603.0L444.2,602.7L444.5,605.4L444.5,607.2L444.9,609.8L446.3,613.4L447.6,616.1L448.5,618.8L449.7,621.1L450.8,623.6L451.7,625.4L452.9,626.7L454.2,625.2L455.6,624.5L456.2,622.7L457.1,622.7L457.2,619.7L458.0,617.9L457.8,613.4L459.2,612.7L461.5,611.4L463.7,609.3L466.4,606.3L469.0,605.0L469.8,603.6L470.8,602.5L472.6,602.3L473.5,601.8L475.3,602.0L476.4,600.7L478.5,601.1L479.4,604.1L480.7,605.7L483.4,607.2L483.0,611.6L484.8,612.9L486.9,611.1L489.1,611.6L488.9,614.3L490.0,617.0L490.5,619.7L490.2,623.3L490.5,626.5L490.2,627.2L492.3,629.5L493.8,632.2L494.5,634.9L495.5,636.1L497.7,637.8L499.5,638.8L500.7,638.7L500.0,636.1L499.3,633.1L497.2,630.1L495.9,629.0L493.9,628.1L493.2,625.9L491.8,623.3L492.1,620.6L493.2,618.2L494.1,617.0L494.8,618.4L496.4,618.4L498.6,620.6L499.5,622.2L501.3,622.5L502.2,622.4L501.8,625.8L503.1,625.1L504.9,624.2L505.7,622.5L508.4,621.1L509.7,619.7L509.7,617.0L509.1,613.8L507.5,612.0L505.7,611.1L504.3,609.3L503.4,607.7L505.0,605.0L506.6,602.7L508.4,602.5L510.6,602.7L511.1,604.8L512.0,603.2L512.9,602.9L515.6,602.1L518.3,601.2L521.0,600.4L523.6,599.1L526.3,597.3L528.3,595.5L528.5,593.5L529.9,592.5L531.7,591.0L532.6,587.8L531.7,586.0L532.4,585.3L530.8,583.9L529.9,582.1L527.6,579.2L528.1,577.6L529.9,576.7L531.7,575.5L533.5,574.4L531.7,574.0L529.9,573.7L527.9,574.8L526.3,573.1L525.1,572.1L524.7,571.0L526.3,571.0L528.1,569.9L529.9,568.7L531.2,568.0L533.0,568.8L531.7,570.5L532.2,571.4L533.5,570.5L535.3,569.9L537.4,570.3L538.5,570.6L538.0,572.2L538.0,573.7L540.6,574.9L540.3,577.6L540.3,579.4L542.4,579.2L544.2,578.5L545.7,578.0L545.8,576.7L545.8,574.9L544.2,572.6L543.3,570.3L542.4,569.9L546.0,567.8L546.4,566.9L548.2,565.4L549.6,564.7L551.4,563.8L553.2,564.5L555.9,562.9L558.5,561.0L561.2,558.8L562.1,557.0L564.8,555.2L565.7,554.3L567.3,551.7L567.3,549.0L566.6,546.3L564.8,545.4L562.1,544.5L560.3,543.6L559.4,544.5L556.2,543.2L559.4,540.9L563.0,538.6L565.7,537.3L568.4,535.6L570.2,534.8L574.7,534.8L579.1,535.0L581.8,534.3L586.3,535.2L589.9,535.0L591.7,534.1L593.5,530.9L597.0,530.5L600.6,530.7L606.0,530.2L601.5,532.9L597.0,537.3L594.4,538.2L593.5,540.9L592.9,544.5L594.0,547.2L594.7,549.9L597.0,548.1L597.9,547.2L600.3,545.8L600.6,544.5L603.8,542.9L604.2,540.4L606.5,540.0L605.1,537.9L606.9,536.4L606.9,533.9L609.6,533.4L611.4,533.8L613.1,533.0L618.5,533.8L622.1,532.3L623.9,532.0L627.5,530.2L631.9,529.3L634.6,529.3L635.0,528.2L638.2,526.6L640.0,525.2L643.6,525.7L647.2,525.9L648.9,524.8L652.5,523.9L654.9,522.8L650.7,521.6L647.2,521.2L641.8,520.3L638.2,518.5L636.4,517.8L629.3,516.2L623.9,516.0L618.5,515.9L613.1,516.4L607.8,516.4L602.4,516.6L598.8,514.4L591.7,514.1L586.3,514.3L582.7,513.2L575.6,511.7L570.2,511.0L563.0,513.2L557.7,513.2L550.5,513.7L547.8,514.4L546.0,512.3L543.3,510.7L541.5,509.6L536.2,509.2L530.8,510.7L525.4,509.6L521.9,509.4L517.4,509.6L514.7,509.2L512.0,508.7L512.9,509.6L509.3,509.8L505.7,510.1L504.0,509.6L507.5,508.7L514.7,505.8L517.4,504.8L511.1,503.3L505.7,503.7L500.9,502.1L495.0,504.2L489.6,504.6L484.3,505.1L475.3,506.0L471.7,506.9L469.0,507.8L468.2,509.1L469.9,509.6L469.0,510.9L464.6,511.4L459.2,511.7L458.3,509.6L453.8,511.6L450.3,513.2L448.5,511.4L446.7,510.5L445.8,510.9L444.5,511.9L444.5,514.4L444.0,516.8L445.8,518.5L444.9,521.2L443.1,522.1L441.3,521.4L440.4,522.1L437.7,521.8L439.5,518.5L436.8,518.5L435.0,517.3L433.2,515.0L435.0,513.5L436.8,511.4L438.6,509.6L441.3,510.1L443.1,510.9L444.0,512.3L442.2,514.1L444.0,513.2L437.7,515.0L436.8,516.2L434.1,517.7L432.4,517.1L428.8,517.1L423.4,516.2L419.8,518.5L416.2,518.5L411.8,518.9L409.1,518.5L403.7,519.4L396.6,519.6L393.0,518.5L392.1,520.0L393.0,522.8L389.4,522.1L386.7,522.7L385.8,525.5L382.2,526.2L380.4,527.0L376.9,526.2L376.5,525.7L378.7,523.9L374.2,522.1L376.9,522.7L382.2,523.0L387.6,522.7L387.6,520.3L384.0,519.4L379.6,517.7L373.3,517.1L369.7,515.3L366.1,515.9L365.6,514.3L360.4,513.9L356.3,514.4L351.8,515.5L348.2,516.2L344.6,517.7L342.9,518.4L340.2,519.4L339.3,520.3L336.6,523.0L335.7,524.8L333.4,525.3L332.1,526.6L329.4,527.5L326.7,528.4L323.5,529.8L323.2,532.0L323.2,533.8L324.2,536.1L325.8,537.3L328.5,537.2L331.2,535.6L333.2,535.2L333.9,535.6L335.3,537.3L336.6,539.1L337.1,541.6L339.8,541.8L342.9,540.6L343.8,538.2L343.8,536.4L347.3,535.2L347.7,533.8L344.8,532.0L345.5,529.5L349.1,527.5L352.7,525.7L353.6,523.9L357.2,523.4L359.5,524.8L358.1,525.7L354.5,527.5L352.7,529.3L352.7,532.0L354.5,533.4L357.2,533.4L360.8,533.0L364.3,532.9L367.9,533.8L364.3,534.7L360.8,534.7L357.2,534.8L356.3,536.4L357.9,537.5L357.2,538.8L356.3,538.8L353.6,538.1L351.8,539.5L351.8,542.4L350.0,543.1L347.3,543.1L342.9,544.0L340.2,544.5L337.5,543.6L333.9,544.5L332.1,543.6L331.8,542.7L332.7,540.6L333.0,537.9L328.9,539.5L329.6,541.8L329.6,544.7L326.7,545.2L323.2,545.8L322.3,547.2L320.5,549.2L318.7,549.7L317.1,551.3L314.6,552.6L311.7,552.2L311.5,554.0L308.8,553.8L306.2,554.2L305.8,555.2L309.7,556.5L312.1,558.8L312.1,561.5L311.0,563.5L308.8,563.5L305.3,563.3L299.9,562.9L297.6,564.2L298.3,565.1L298.6,567.8L297.2,571.4L298.5,571.9L298.3,574.9L301.0,574.6L302.9,575.3L304.2,576.7L306.3,575.5L310.5,575.5L312.4,573.9L313.7,572.2L314.2,570.5L315.8,567.8L319.9,566.2L319.9,563.8L323.2,563.7L325.8,564.0L327.6,562.8L330.0,561.7L332.1,562.4L333.0,564.2L333.9,565.1L336.6,566.7L339.6,568.1L342.1,569.6L342.3,573.1L343.8,571.4L344.6,570.5L344.6,568.7L347.3,569.4L346.4,568.5L342.9,566.9L340.2,565.6L338.9,565.1L336.2,561.9L336.2,560.1L338.6,559.4L338.6,560.3L340.2,560.3L342.0,562.4L344.6,563.7L347.3,565.1L349.1,566.0L348.9,568.7L350.0,570.1L352.0,572.6L352.7,575.3L354.5,575.8L355.4,574.0L355.4,573.1L357.2,572.8L355.0,570.5L355.0,568.7L357.2,568.1L360.8,568.1L361.6,568.7L361.1,569.7L361.6,572.2L362.9,574.0L364.3,575.3L368.8,576.0L372.4,576.5L376.0,575.3L378.7,575.8L378.3,577.6L377.8,579.4L376.9,582.5L375.6,585.1L372.0,585.1M1010.5,567.4L1009.8,563.3L1010.2,561.0L1012.0,559.7L1013.2,557.9L1015.0,557.7L1017.7,558.8L1016.8,559.9L1018.6,561.5L1020.4,561.5L1022.2,560.6L1024.1,560.1L1025.7,561.1L1027.5,561.9L1029.9,563.5L1033.1,566.7L1030.2,567.8L1026.6,567.8L1023.1,566.5L1021.3,566.0L1017.7,566.0L1015.0,567.4L1010.5,567.4M1017.0,587.6L1018.6,592.8L1020.4,595.5L1022.2,598.2L1024.0,600.9L1025.2,603.6L1025.6,608.9L1027.7,608.9L1029.7,613.4L1031.1,614.7L1033.3,617.0L1035.9,620.6L1038.3,622.5L1042.7,621.3L1046.3,620.9L1050.3,620.0L1049.9,622.4L1049.5,625.1L1047.2,629.5L1044.5,633.1L1041.8,636.1L1039.7,637.6L1037.4,639.4L1033.8,642.6L1032.9,644.6L1030.6,646.5L1028.8,650.1L1028.1,652.8L1029.0,656.4L1030.2,659.1L1031.1,660.0L1031.3,667.1L1030.2,670.2L1028.4,671.6L1024.8,674.3L1022.2,677.9L1021.8,680.5L1022.2,684.1L1019.5,685.9L1017.5,687.5L1017.3,690.4L1016.8,692.2L1014.1,694.7L1012.3,697.2L1008.7,699.9L1006.0,701.7L1004.4,702.0L999.8,702.0L998.0,702.4L994.4,703.5L991.6,702.4L991.4,700.2L990.8,699.3L989.4,694.0L988.2,692.4L986.0,689.5L985.5,689.0L984.6,682.2L982.2,677.0L979.7,672.1L979.7,669.4L980.6,665.3L983.1,661.7L982.2,657.3L980.6,652.1L979.7,649.2L977.4,646.5L975.3,643.0L975.6,639.4L976.2,636.1L976.0,634.4L974.2,633.1L972.0,633.3L969.4,633.5L967.6,631.1L966.7,629.9L964.0,629.7L962.2,629.9L960.4,630.6L956.8,632.0L955.0,632.6L953.2,632.2L949.7,632.0L945.2,633.3L943.4,632.6L941.6,630.8L938.9,629.0L936.2,627.7L935.3,626.8L934.8,625.1L934.1,624.2L932.7,622.4L930.9,620.6L928.7,618.8L928.5,617.0L927.3,614.8L928.2,613.4L929.1,611.6L929.4,608.9L929.4,606.3L928.1,603.9L928.7,601.8L929.6,599.1L931.8,597.3L932.7,594.6L935.0,591.8L938.0,590.7L940.4,589.3L941.1,588.4L941.1,584.8L942.5,583.0L943.4,581.6L946.4,580.3L947.3,578.5L948.1,577.1L949.1,576.9L950.6,578.2L955.0,578.3L956.8,577.4L958.6,576.9L961.3,575.8L964.0,575.3L967.6,575.3L970.2,574.9L973.8,575.1L976.2,574.4L977.1,574.4L978.3,575.3L977.4,576.7L978.5,578.2L976.9,579.8L976.7,580.7L979.2,581.7L982.2,582.3L985.8,583.3L986.9,585.1L989.9,586.2L992.6,586.9L994.6,584.8L994.4,583.5L997.1,582.3L999.8,582.8L1003.4,584.6L1006.9,585.1L1010.5,585.9L1012.3,585.1L1015.0,584.8L1016.4,585.1L1017.0,587.6M1046.9,662.6L1049.0,668.9L1047.2,671.6L1045.4,677.9L1043.1,685.9L1039.5,686.8L1036.8,683.2L1036.1,679.6L1038.1,676.1L1037.4,671.6L1041.0,669.4L1044.4,665.7L1046.9,662.6M1101.6,630.1L1101.5,626.8L1102.0,623.6L1104.1,625.9L1105.2,628.6L1104.0,630.1L1102.0,630.4L1101.6,630.1M948.4,551.5L953.2,550.4L961.1,549.5L961.7,546.8L959.2,545.4L958.3,544.1L955.8,541.6L954.9,538.8L955.4,538.1L952.7,536.3L949.7,536.3L948.4,538.6L948.6,540.9L949.8,542.4L953.2,542.9L952.5,544.0L953.2,545.8L950.4,545.8L951.3,547.5L949.1,548.6L953.1,549.2L950.6,549.9L948.4,551.5M947.9,547.7L947.5,544.7L948.4,543.4L945.5,542.2L943.4,543.6L940.7,544.1L941.1,545.8L940.2,548.3L941.4,549.0L943.9,548.4L947.9,547.7M975.4,564.2L975.6,566.0L975.1,567.1L974.0,566.2L975.4,564.2M976.0,567.8L975.8,571.0L973.8,571.4L973.7,568.5L976.0,567.8M980.8,573.1L986.5,572.8L985.6,575.5L981.0,573.9L980.8,573.1M1000.7,577.6L1005.7,578.2L1002.5,578.5L1000.7,577.6M1016.4,578.5L1020.4,577.4L1019.1,579.0L1016.4,578.5M1191.7,585.1L1193.5,585.0L1194.7,581.7L1197.6,581.4L1200.4,580.7L1203.5,579.8L1206.9,579.0L1208.9,578.5L1210.8,576.7L1211.0,572.6L1212.6,570.5L1211.9,567.2L1209.2,566.9L1209.0,569.6L1208.7,572.2L1206.5,574.4L1204.4,575.3L1202.1,577.3L1196.7,577.6L1193.1,579.6L1190.6,581.6L1191.7,585.1M1209.2,567.1L1211.4,566.3L1214.9,566.0L1219.1,563.7L1218.2,562.0L1212.6,559.7L1212.1,563.3L1209.9,563.7L1209.2,567.1M1212.8,558.8L1215.5,557.9L1214.6,553.5L1217.3,553.5L1214.6,549.0L1214.4,544.0L1213.2,544.5L1212.8,549.9L1212.8,558.8M1175.2,601.8L1176.8,596.4L1175.2,596.1L1173.6,599.1L1175.2,601.8M1153.2,606.8L1156.4,605.2L1157.3,606.1L1154.6,608.6L1153.2,606.8M1174.5,608.0L1177.4,608.0L1177.0,611.6L1176.1,615.6L1180.6,617.9L1179.3,616.5L1174.5,615.2L1173.4,611.6L1174.5,608.0M1177.0,628.6L1180.6,626.8L1183.3,623.6L1185.2,628.1L1183.3,630.8L1180.6,629.5L1177.0,628.6M1178.8,620.6L1180.6,619.1L1183.3,618.8L1183.3,622.4L1181.5,623.3L1179.3,624.5L1177.9,622.4L1178.8,620.6M1174.3,617.0L1176.1,617.9L1175.6,619.3L1174.3,617.0M1168.4,626.1L1172.5,621.1L1171.6,622.4L1168.4,626.1M1129.2,631.1L1133.1,631.9L1137.6,636.7L1140.3,638.5L1143.9,643.0L1148.4,646.5L1148.4,651.5L1145.7,651.7L1141.7,648.3L1138.5,643.8L1135.3,638.1L1131.3,634.9L1129.2,631.1M1146.9,653.3L1148.4,651.9L1152.5,652.3L1156.4,653.5L1160.2,653.5L1163.6,655.1L1163.4,656.7L1155.5,655.8L1149.2,654.4L1146.9,653.3M1164.5,656.0L1167.2,656.9L1170.7,656.4L1173.4,656.7L1178.4,656.0L1173.4,657.1L1168.0,657.3L1164.5,656.0M1179.9,659.6L1182.4,657.6L1186.5,656.2L1183.3,658.2L1179.9,659.6M1153.7,637.9L1156.4,638.1L1158.2,636.1L1160.9,635.4L1165.4,631.7L1168.0,628.6L1172.0,631.7L1169.8,633.5L1169.1,635.8L1171.4,639.4L1168.9,641.2L1167.2,643.8L1166.6,648.0L1163.6,647.6L1160.9,646.9L1158.2,646.5L1155.9,646.4L1155.5,643.0L1153.7,641.2L1153.7,637.9M1172.5,651.0L1172.5,647.4L1171.3,646.0L1173.1,641.2L1174.3,639.4L1177.9,639.4L1181.5,638.5L1182.7,638.5L1179.7,640.3L1175.2,640.3L1174.7,643.0L1176.1,643.0L1179.3,642.8L1176.3,644.6L1177.9,647.4L1179.1,649.8L1176.1,649.6L1174.7,646.2L1174.0,651.0L1172.5,651.0M1186.8,637.6L1187.7,639.4L1189.0,638.5L1187.7,641.2L1188.6,642.6L1186.8,642.1L1186.8,637.6M1187.7,646.9L1192.7,648.0L1190.4,646.9L1187.7,646.9M1193.1,643.5L1195.8,641.9L1198.5,642.6L1201.2,647.1L1205.6,644.0L1211.0,645.8L1217.3,648.0L1219.6,650.6L1222.6,651.9L1223.2,654.6L1224.4,657.3L1227.1,659.6L1228.0,659.8L1223.5,659.2L1220.0,655.5L1216.4,654.9L1215.5,657.6L1212.8,657.6L1211.0,657.6L1207.4,655.5L1205.6,656.2L1205.3,651.0L1200.3,649.2L1196.7,648.3L1194.9,646.2L1197.6,645.3L1194.9,644.7L1193.1,643.5M1224.1,651.0L1228.0,651.0L1230.7,648.9L1229.8,651.5L1227.1,652.4L1224.1,651.0M1236.1,651.9L1239.6,654.6L1243.2,656.4L1246.8,658.2L1248.6,660.0L1245.0,658.2L1241.4,656.4L1236.1,651.9M1162.1,680.5L1161.8,685.0L1163.0,688.6L1163.6,691.3L1164.5,694.0L1165.5,701.1L1164.5,702.6L1167.2,703.8L1169.7,704.0L1173.4,701.8L1177.0,702.0L1179.7,701.8L1182.4,700.2L1184.2,699.0L1189.5,697.9L1194.0,697.5L1196.7,698.4L1198.7,699.7L1201.2,703.5L1202.1,702.9L1204.7,700.2L1205.5,702.9L1206.5,703.5L1206.0,704.9L1208.3,706.5L1208.9,707.9L1210.1,709.2L1212.8,709.9L1215.5,710.6L1218.0,709.0L1219.1,710.1L1220.7,711.2L1222.6,709.5L1223.5,708.8L1227.1,708.3L1227.5,705.6L1228.5,703.8L1229.4,701.7L1231.6,698.4L1232.5,695.8L1233.6,691.6L1232.5,686.8L1231.6,685.6L1228.9,683.2L1228.0,681.4L1226.2,680.5L1224.4,677.9L1220.5,675.2L1220.0,672.5L1219.1,669.8L1218.7,667.7L1216.4,666.8L1215.5,666.2L1215.5,663.5L1214.2,660.9L1213.7,660.3L1212.8,661.7L1212.1,663.5L1211.9,666.2L1211.9,668.9L1210.6,672.5L1207.8,672.1L1204.7,670.0L1202.1,668.9L1201.2,668.0L1201.9,666.2L1203.3,663.2L1201.7,662.6L1198.5,662.6L1196.0,661.6L1193.1,663.0L1191.3,664.4L1190.4,668.0L1187.7,668.0L1185.9,666.2L1184.2,666.2L1182.4,668.9L1181.5,670.3L1178.8,670.7L1177.4,673.4L1175.2,676.2L1171.6,677.3L1168.0,678.2L1164.5,679.6L1162.1,680.5M1217.6,714.0L1224.1,714.4L1223.5,718.5L1220.8,719.2L1218.5,716.7L1217.6,714.0M1267.7,702.7L1271.0,706.5L1273.5,708.3L1278.1,708.6L1277.1,711.3L1275.3,712.0L1273.7,715.1L1271.3,715.1L1272.2,713.1L1269.7,711.3L1271.1,709.2L1270.4,706.5L1267.7,702.7M1267.7,713.7L1270.4,715.8L1268.8,718.1L1267.7,719.6L1264.7,721.5L1261.5,724.6L1256.7,723.5L1257.2,722.2L1259.9,719.9L1263.8,718.1L1266.5,715.4L1267.7,713.7M1252.2,677.3L1257.5,681.1L1256.7,680.9L1252.2,677.3M978.3,500.6L980.1,498.5L987.3,498.0L991.7,497.4L998.0,497.4L1006.9,497.6L1003.4,499.2L998.0,500.6L992.6,502.8L987.3,503.9L983.7,503.0L978.3,500.6M1051.7,513.2L1054.4,510.5L1057.1,509.6L1058.9,507.8L1060.6,506.0L1066.0,504.8L1069.6,504.2L1081.2,503.5L1076.8,505.1L1071.4,506.0L1066.0,507.6L1062.4,508.7L1058.9,511.4L1058.9,512.3L1062.4,514.4L1057.1,514.8L1053.5,514.6L1051.7,513.2M1042.7,497.4L1051.7,496.5L1062.4,495.3L1069.6,496.2L1073.2,497.1L1062.4,498.0L1048.1,498.1L1042.7,497.4M1130.5,500.6L1137.6,498.5L1144.8,498.9L1137.6,496.2L1130.5,497.1L1130.5,500.6M1203.8,506.9L1209.2,505.1L1214.6,505.1L1225.3,506.4L1220.0,507.3L1212.8,509.1L1203.8,506.9M1278.3,514.1L1284.4,513.7L1280.8,513.0L1278.3,514.1M632.8,780.8L672.2,780.8L681.2,779.0L690.1,778.1L699.1,776.3L708.0,775.4L725.9,774.2L743.8,773.6L761.7,774.5L774.2,771.8L779.6,771.8L788.6,771.5L797.5,771.8L806.5,772.2L815.4,772.7L822.6,770.0L824.4,768.3L831.5,766.5L836.9,763.8L838.7,761.1L842.3,758.4L845.0,757.2L847.6,756.3L854.8,754.8L856.6,754.5L853.9,756.3L850.3,757.9L848.5,760.2L846.7,762.9L846.7,766.5L848.5,770.0L849.4,773.6L860.2,779.0L878.1,780.8L896.0,780.8L910.3,777.2L922.8,773.6L931.8,771.8L940.7,769.1L949.7,768.3L958.6,767.0L967.6,766.8L976.5,766.5L985.5,766.5L994.4,766.5L1003.4,767.0L1012.3,766.1L1017.7,764.7L1021.3,765.0L1030.2,764.7L1035.6,762.9L1039.2,762.5L1044.5,761.1L1048.1,760.2L1053.5,759.3L1057.1,759.7L1062.4,761.1L1066.0,761.5L1075.0,762.3L1080.3,762.9L1083.9,763.8L1087.5,766.1L1089.3,766.5L1092.9,765.6L1096.4,765.6L1098.2,763.8L1101.8,762.0L1110.8,760.7L1116.1,760.2L1119.7,760.4L1128.7,760.4L1137.6,759.3L1143.0,758.8L1146.6,759.3L1155.5,759.3L1164.5,760.7L1173.4,761.1L1182.4,760.2L1191.3,759.7L1200.3,759.3L1209.2,760.6L1214.6,761.1L1218.2,762.0L1223.5,763.8L1227.1,764.1L1236.1,764.7L1245.0,765.6L1250.4,767.4L1254.0,768.3L1257.5,768.3L1262.9,769.1L1263.8,770.9L1262.9,772.7L1257.5,775.4L1254.0,779.0L1259.3,780.8L1280.8,780.8L1284.4,780.8M1277.2,780.8L1316.6,780.8L1325.6,779.0L1334.5,778.1L1343.5,776.3L1352.4,775.4L1370.3,774.2L1388.2,773.6L1406.1,774.5L1418.6,771.8L1424.0,771.8L1433.0,771.5L1441.9,771.8L1450.9,772.2L1459.8,772.7L1467.0,770.0L1468.8,768.3L1475.9,766.5L1481.3,763.8L1483.1,761.1L1486.7,758.4L1489.3,757.2L1492.0,756.3L1499.2,754.8L1501.0,754.5L1498.3,756.3L1494.7,757.9L1492.9,760.2L1491.1,762.9L1491.1,766.5L1492.9,770.0L1493.8,773.6L1504.6,779.0L1522.5,780.8L1540.4,780.8L1554.7,777.2L1567.2,773.6L1576.2,771.8L1585.1,769.1L1594.1,768.3L1603.0,767.0L1612.0,766.8L1620.9,766.5L1629.9,766.5L1638.8,766.5L1647.8,767.0L1656.7,766.1L1662.1,764.7L1665.7,765.0L1674.6,764.7L1680.0,762.9L1683.6,762.5L1688.9,761.1L1692.5,760.2L1697.9,759.3L1701.5,759.7L1706.8,761.1L1710.4,761.5L1719.4,762.3L1724.7,762.9L1728.3,763.8L1731.9,766.1L1733.7,766.5L1737.3,765.6L1740.8,765.6L1742.6,763.8L1746.2,762.0L1755.2,760.7L1760.5,760.2L1764.1,760.4L1773.1,760.4L1782.0,759.3L1787.4,758.8L1791.0,759.3L1799.9,759.3L1808.9,760.7L1817.8,761.1L1826.8,760.2L1835.7,759.7L1844.7,759.3L1853.6,760.6L1859.0,761.1L1862.6,762.0L1867.9,763.8L1871.5,764.1L1880.5,764.7L1889.4,765.6L1894.8,767.4L1898.4,768.3L1901.9,768.3L1907.3,769.1L1908.2,770.9L1907.3,772.7L1901.9,775.4L1898.4,779.0L1903.7,780.8L1925.2,780.8L1928.8,780.8M1069.6,517.1L1066.9,519.8L1065.1,523.9L1064.2,529.3L1065.1,534.7L1065.1,540.0L1064.2,545.4L1063.3,549.0L1058.9,549.9L1053.5,549.0L1049.9,550.2L1045.4,552.0L1042.7,553.5L1042.0,554.9L1042.7,557.9L1043.1,561.0L1043.6,563.7L1045.1,565.6L1046.7,567.4L1047.2,568.7L1045.4,566.9L1042.7,566.0L1039.2,565.1L1035.6,564.2L1032.9,563.8L1030.2,563.5"/>
<g fill="#000"><circle cx="676.7" cy="603.0" r="1.6"/><circle cx="680.3" cy="606.1" r="1.6"/><circle cx="673.1" cy="601.8" r="1.6"/><circle cx="678.5" cy="603.9" r="1.6"/><circle cx="853.0" cy="733.7" r="1.9"/><circle cx="849.4" cy="733.3" r="1.6"/><circle cx="893.3" cy="738.4" r="1.6"/><circle cx="1083.0" cy="729.4" r="1.8"/><circle cx="1050.8" cy="724.0" r="1.6"/><circle cx="1026.1" cy="724.9" r="1.6"/><circle cx="964.7" cy="738.5" r="1.6"/><circle cx="936.6" cy="707.6" r="1.6"/><circle cx="948.4" cy="669.6" r="1.6"/><circle cx="932.8" cy="655.3" r="1.6"/><circle cx="908.5" cy="572.2" r="1.6"/><circle cx="913.0" cy="573.5" r="1.6"/><circle cx="903.1" cy="570.5" r="1.6"/><circle cx="930.9" cy="590.9" r="1.6"/><circle cx="928.2" cy="590.5" r="1.6"/><circle cx="934.1" cy="589.8" r="1.6"/><circle cx="928.4" cy="582.6" r="1.6"/><circle cx="915.7" cy="613.4" r="1.6"/><circle cx="916.5" cy="614.5" r="1.6"/><circle cx="842.8" cy="583.3" r="1.6"/><circle cx="1061.5" cy="677.5" r="1.6"/><circle cx="1058.0" cy="678.9" r="1.6"/><circle cx="1058.0" cy="649.4" r="1.6"/><circle cx="1090.2" cy="634.0" r="1.6"/><circle cx="1089.6" cy="642.2" r="1.6"/><circle cx="1088.4" cy="628.6" r="1.6"/><circle cx="1277.2" cy="673.0" r="1.6"/><circle cx="1279.9" cy="670.9" r="1.6"/><circle cx="1295.1" cy="665.9" r="1.6"/><circle cx="1289.4" cy="679.1" r="1.6"/><circle cx="691.0" cy="672.7" r="1.6"/><circle cx="708.0" cy="657.3" r="1.6"/><circle cx="672.6" cy="679.1" r="1.6"/><circle cx="1219.4" cy="614.0" r="1.6"/><circle cx="1217.8" cy="617.2" r="1.6"/><circle cx="1257.5" cy="668.9" r="1.6"/><circle cx="1259.3" cy="671.6" r="1.6"/><circle cx="1257.2" cy="642.1" r="1.6"/><circle cx="1268.3" cy="638.5" r="1.6"/><circle cx="1264.7" cy="628.6" r="1.6"/><circle cx="1241.8" cy="628.8" r="1.6"/><circle cx="1230.3" cy="627.9" r="1.6"/><circle cx="1199.4" cy="627.7" r="1.6"/><circle cx="796.6" cy="642.1" r="1.6"/><circle cx="762.8" cy="689.7" r="1.6"/><circle cx="815.4" cy="701.3" r="1.6"/><circle cx="817.6" cy="701.3" r="1.6"/><circle cx="849.4" cy="615.2" r="1.6"/><circle cx="848.5" cy="612.2" r="1.6"/><circle cx="848.9" cy="622.4" r="1.6"/><circle cx="819.9" cy="597.3" r="1.6"/><circle cx="822.6" cy="598.2" r="1.6"/><circle cx="819.0" cy="593.5" r="1.6"/><circle cx="827.0" cy="603.6" r="1.6"/><circle cx="851.2" cy="617.5" r="1.6"/><circle cx="722.3" cy="546.3" r="1.6"/><circle cx="729.5" cy="551.7" r="1.6"/><circle cx="685.6" cy="538.2" r="1.6"/><circle cx="654.3" cy="539.1" r="1.6"/><circle cx="1298.7" cy="539.1" r="1.6"/><circle cx="661.5" cy="544.9" r="1.6"/><circle cx="1305.9" cy="544.9" r="1.6"/><circle cx="657.0" cy="546.3" r="1.6"/><circle cx="1301.4" cy="546.3" r="1.6"/><circle cx="1295.1" cy="547.2" r="1.6"/><circle cx="1288.0" cy="548.4" r="1.6"/><circle cx="1283.5" cy="548.6" r="1.6"/><circle cx="1277.2" cy="548.4" r="1.6"/><circle cx="1270.1" cy="546.6" r="1.6"/><circle cx="655.2" cy="527.5" r="1.6"/><circle cx="1299.6" cy="527.5" r="1.6"/><circle cx="651.6" cy="527.7" r="1.6"/><circle cx="1296.0" cy="527.7" r="1.6"/><circle cx="1227.1" cy="558.8" r="1.6"/><circle cx="1221.7" cy="559.7" r="1.6"/><circle cx="1230.7" cy="556.1" r="1.6"/><circle cx="1235.2" cy="553.5" r="1.6"/><circle cx="1237.0" cy="551.1" r="1.6"/><circle cx="929.1" cy="523.9" r="1.6"/><circle cx="946.1" cy="530.2" r="1.6"/><circle cx="956.3" cy="533.2" r="1.6"/><circle cx="953.2" cy="535.6" r="1.6"/><circle cx="947.0" cy="538.2" r="1.6"/><circle cx="945.5" cy="538.6" r="1.6"/><circle cx="975.6" cy="541.8" r="1.6"/><circle cx="978.3" cy="541.8" r="1.6"/><circle cx="980.1" cy="542.2" r="1.6"/><circle cx="991.7" cy="538.6" r="1.6"/><circle cx="988.2" cy="540.0" r="1.6"/><circle cx="984.7" cy="519.1" r="1.6"/><circle cx="1019.5" cy="555.6" r="1.6"/><circle cx="1149.2" cy="645.3" r="1.6"/><circle cx="1151.0" cy="646.2" r="1.6"/><circle cx="1198.5" cy="653.7" r="1.6"/><circle cx="1194.0" cy="654.6" r="1.6"/><circle cx="1206.5" cy="655.1" r="1.6"/><circle cx="1185.0" cy="647.1" r="1.6"/><circle cx="1201.2" cy="644.0" r="1.6"/><circle cx="1174.3" cy="659.1" r="1.6"/><circle cx="1168.9" cy="656.2" r="1.6"/><circle cx="1161.8" cy="653.7" r="1.6"/><circle cx="1220.8" cy="645.1" r="1.6"/><circle cx="1232.5" cy="648.7" r="1.6"/><circle cx="1211.4" cy="645.8" r="1.6"/><circle cx="1182.4" cy="637.6" r="1.6"/><circle cx="1139.4" cy="648.3" r="1.6"/><circle cx="949.7" cy="576.7" r="1.6"/><circle cx="1104.5" cy="627.7" r="1.6"/><circle cx="1124.5" cy="619.7" r="1.6"/><circle cx="1125.1" cy="628.6" r="1.6"/><circle cx="1133.1" cy="637.6" r="1.6"/><circle cx="1134.0" cy="638.5" r="1.6"/><circle cx="788.6" cy="664.4" r="1.6"/><circle cx="710.7" cy="679.6" r="1.6"/><circle cx="708.0" cy="668.0" r="1.6"/><circle cx="699.1" cy="669.8" r="1.6"/><circle cx="687.4" cy="670.7" r="1.6"/><circle cx="676.2" cy="637.8" r="1.6"/><circle cx="672.2" cy="666.2" r="1.6"/><circle cx="724.1" cy="684.8" r="1.6"/><circle cx="729.0" cy="684.8" r="1.6"/><circle cx="1285.3" cy="590.7" r="1.6"/><circle cx="1295.7" cy="595.0" r="1.6"/><circle cx="661.5" cy="598.6" r="1.6"/><circle cx="1305.9" cy="598.6" r="1.6"/><circle cx="1208.9" cy="661.7" r="1.6"/><circle cx="1190.4" cy="655.8" r="1.6"/><circle cx="708.0" cy="656.4" r="1.6"/><circle cx="710.2" cy="658.7" r="1.6"/><circle cx="1273.7" cy="655.5" r="1.6"/><circle cx="1279.4" cy="656.4" r="1.6"/><circle cx="1268.3" cy="719.2" r="1.6"/><circle cx="1287.1" cy="719.9" r="1.6"/><circle cx="1255.8" cy="731.9" r="1.6"/><circle cx="1243.0" cy="738.9" r="1.6"/><circle cx="1260.9" cy="693.3" r="1.6"/><circle cx="1243.2" cy="697.5" r="1.6"/><circle cx="1156.1" cy="759.7" r="1.6"/><circle cx="944.3" cy="713.3" r="1.6"/><circle cx="911.5" cy="745.7" r="1.6"/><circle cx="910.3" cy="744.1" r="1.6"/><circle cx="878.1" cy="749.6" r="1.6"/><circle cx="853.4" cy="752.5" r="1.6"/></g>
</g>
<line x1="657" y1="766.5" x2="1282" y2="766.5" stroke="#333" stroke-width="1.2"/>
<text x="22.5" y="36.5" font-family="Liberation Sans, sans-serif" font-size="30" font-weight="bold" fill="#1b5f80" textLength="34.5" lengthAdjust="spacingAndGlyphs">(a)</text>
<text x="671.5" y="36.5" font-family="Liberation Sans, sans-serif" font-size="30" font-weight="bold" fill="#1b5f80" textLength="36" lengthAdjust="spacingAndGlyphs">(b)</text>
<text x="19" y="468.5" font-family="Liberation Sans, sans-serif" font-size="30" font-weight="bold" fill="#1b5f80" textLength="33" lengthAdjust="spacingAndGlyphs">(c)</text>
<text x="673.5" y="468.5" font-family="Liberation Sans, sans-serif" font-size="30" font-weight="bold" fill="#1b5f80" textLength="36.5" lengthAdjust="spacingAndGlyphs">(d)</text>
<text x="153.6" y="31.7" font-family="Liberation Sans, sans-serif" font-size="20" font-weight="normal" fill="#262626" stroke="#262626" stroke-width="0.3" textLength="288.4" lengthAdjust="spacingAndGlyphs">Median AGR (CT) in 2004-2016</text>
<text x="800" y="32.2" font-family="Liberation Sans, sans-serif" font-size="20" font-weight="normal" fill="#262626" stroke="#262626" stroke-width="0.3" textLength="321" lengthAdjust="spacingAndGlyphs">Median AGR (CAMS) in 2004-2016</text>
<text x="118" y="464.6" font-family="Liberation Sans, sans-serif" font-size="20" font-weight="normal" fill="#262626" stroke="#262626" stroke-width="0.3" textLength="365" lengthAdjust="spacingAndGlyphs">Median d, CAMS - CT (ppm) 2004-2016</text>
<text x="781" y="464.6" font-family="Liberation Sans, sans-serif" font-size="20" font-weight="normal" fill="#262626" stroke="#262626" stroke-width="0.3" textLength="371.3" lengthAdjust="spacingAndGlyphs">Median r, CAMS vs CT (ppm) 2004-2016</text>
<text x="13.5" y="363.6" font-family="Liberation Sans, sans-serif" font-size="17" font-weight="normal" fill="#262626" stroke="#262626" stroke-width="0.3" textLength="83.5" lengthAdjust="spacingAndGlyphs">AGR (ppm)</text>
<rect x="13.8" y="378.2" width="28" height="15.6" fill="#0e6087"/>
<text x="48.2" y="392.8" font-family="Liberation Sans, sans-serif" font-size="17" font-weight="normal" fill="#262626" stroke="#262626" stroke-width="0.3" textLength="81" lengthAdjust="spacingAndGlyphs">1.00 - 1.98</text>
<rect x="136" y="346.6" width="28" height="15.6" fill="#12b4de"/>
<text x="169.3" y="361.4" font-family="Liberation Sans, sans-serif" font-size="17" font-weight="normal" fill="#262626" stroke="#262626" stroke-width="0.3" textLength="82.4" lengthAdjust="spacingAndGlyphs">1.98 - 2.05</text>
<rect x="136" y="370.9" width="28" height="15.6" fill="#33f5f8"/>
<text x="169.3" y="385.7" font-family="Liberation Sans, sans-serif" font-size="17" font-weight="normal" fill="#262626" stroke="#262626" stroke-width="0.3" textLength="82.4" lengthAdjust="spacingAndGlyphs">2.05 - 2.12</text>
<rect x="257.8" y="346.6" width="28" height="15.6" fill="#ffff00"/>
<text x="290.5" y="361.4" font-family="Liberation Sans, sans-serif" font-size="17" font-weight="normal" fill="#262626" stroke="#262626" stroke-width="0.3" textLength="83.2" lengthAdjust="spacingAndGlyphs">2.12 - 2.19</text>
<rect x="257.8" y="370.9" width="28" height="15.6" fill="#ff9a00"/>
<text x="290.5" y="385.7" font-family="Liberation Sans, sans-serif" font-size="17" font-weight="normal" fill="#262626" stroke="#262626" stroke-width="0.3" textLength="83.2" lengthAdjust="spacingAndGlyphs">2.19 - 2.26</text>
<rect x="379.6" y="346.6" width="28" height="15.6" fill="#ff4500"/>
<text x="412.2" y="361.4" font-family="Liberation Sans, sans-serif" font-size="17" font-weight="normal" fill="#262626" stroke="#262626" stroke-width="0.3" textLength="83.2" lengthAdjust="spacingAndGlyphs">2.26 - 2.33</text>
<rect x="501.6" y="346.6" width="28" height="15.6" fill="#800000"/>
<text x="534.7" y="361.4" font-family="Liberation Sans, sans-serif" font-size="17" font-weight="normal" fill="#262626" stroke="#262626" stroke-width="0.3" textLength="73" lengthAdjust="spacingAndGlyphs">2.33 - 2.4</text>
<text x="659.5" y="363.6" font-family="Liberation Sans, sans-serif" font-size="17" font-weight="normal" fill="#262626" stroke="#262626" stroke-width="0.3" textLength="83.5" lengthAdjust="spacingAndGlyphs">AGR (ppm)</text>
<rect x="659.8" y="378.2" width="28" height="15.6" fill="#0e6087"/>
<text x="694.2" y="392.8" font-family="Liberation Sans, sans-serif" font-size="17" font-weight="normal" fill="#262626" stroke="#262626" stroke-width="0.3" textLength="81" lengthAdjust="spacingAndGlyphs">1.00 - 1.98</text>
<rect x="782" y="346.6" width="28" height="15.6" fill="#12b4de"/>
<text x="815.3" y="361.4" font-family="Liberation Sans, sans-serif" font-size="17" font-weight="normal" fill="#262626" stroke="#262626" stroke-width="0.3" textLength="82.4" lengthAdjust="spacingAndGlyphs">1.98 - 2.05</text>
<rect x="782" y="370.9" width="28" height="15.6" fill="#33f5f8"/>
<text x="815.3" y="385.7" font-family="Liberation Sans, sans-serif" font-size="17" font-weight="normal" fill="#262626" stroke="#262626" stroke-width="0.3" textLength="82.4" lengthAdjust="spacingAndGlyphs">2.05 - 2.12</text>
<rect x="903.8" y="346.6" width="28" height="15.6" fill="#ffff00"/>
<text x="936.5" y="361.4" font-family="Liberation Sans, sans-serif" font-size="17" font-weight="normal" fill="#262626" stroke="#262626" stroke-width="0.3" textLength="83.2" lengthAdjust="spacingAndGlyphs">2.12 - 2.19</text>
<rect x="903.8" y="370.9" width="28" height="15.6" fill="#ff9a00"/>
<text x="936.5" y="385.7" font-family="Liberation Sans, sans-serif" font-size="17" font-weight="normal" fill="#262626" stroke="#262626" stroke-width="0.3" textLength="83.2" lengthAdjust="spacingAndGlyphs">2.19 - 2.26</text>
<rect x="1025.6" y="346.6" width="28" height="15.6" fill="#ff4500"/>
<text x="1058.2" y="361.4" font-family="Liberation Sans, sans-serif" font-size="17" font-weight="normal" fill="#262626" stroke="#262626" stroke-width="0.3" textLength="83.2" lengthAdjust="spacingAndGlyphs">2.26 - 2.33</text>
<rect x="1147.6" y="346.6" width="28" height="15.6" fill="#800000"/>
<text x="1180.7" y="361.4" font-family="Liberation Sans, sans-serif" font-size="17" font-weight="normal" fill="#262626" stroke="#262626" stroke-width="0.3" textLength="73" lengthAdjust="spacingAndGlyphs">2.33 - 2.4</text>
<text x="13.4" y="795.4" font-family="Liberation Sans, sans-serif" font-size="17" font-weight="normal" fill="#262626" stroke="#262626" stroke-width="0.3" textLength="60.3" lengthAdjust="spacingAndGlyphs">d (ppm)</text>
<rect x="13.9" y="809.8" width="28" height="15.6" fill="#fef0d9"/>
<text x="52.1" y="824.8" font-family="Liberation Sans, sans-serif" font-size="17" font-weight="normal" fill="#262626" stroke="#262626" stroke-width="0.3" textLength="113" lengthAdjust="spacingAndGlyphs">-0.027 - -0.001</text>
<rect x="172.3" y="778.7" width="28" height="15.6" fill="#fdd49e"/>
<text x="210.4" y="793.3" font-family="Liberation Sans, sans-serif" font-size="17" font-weight="normal" fill="#262626" stroke="#262626" stroke-width="0.3" textLength="107.6" lengthAdjust="spacingAndGlyphs">-0.001 - 0.024</text>
<rect x="172.3" y="803.1" width="28" height="15.6" fill="#fc9f6c"/>
<text x="210.4" y="817.6" font-family="Liberation Sans, sans-serif" font-size="17" font-weight="normal" fill="#262626" stroke="#262626" stroke-width="0.3" textLength="101" lengthAdjust="spacingAndGlyphs">0.024 - 0.050</text>
<rect x="172.3" y="827.4" width="28" height="15.6" fill="#ef6a45"/>
<text x="210.4" y="842.0" font-family="Liberation Sans, sans-serif" font-size="17" font-weight="normal" fill="#262626" stroke="#262626" stroke-width="0.3" textLength="101" lengthAdjust="spacingAndGlyphs">0.050 - 0.075</text>
<rect x="324.5" y="778.7" width="28" height="15.6" fill="#e34a33"/>
<text x="362.4" y="793.3" font-family="Liberation Sans, sans-serif" font-size="17" font-weight="normal" fill="#262626" stroke="#262626" stroke-width="0.3" textLength="101.3" lengthAdjust="spacingAndGlyphs">0.075 - 0.100</text>
<rect x="324.5" y="803.1" width="28" height="15.6" fill="#b30000"/>
<text x="362.4" y="817.6" font-family="Liberation Sans, sans-serif" font-size="17" font-weight="normal" fill="#262626" stroke="#262626" stroke-width="0.3" textLength="101.3" lengthAdjust="spacingAndGlyphs">0.100 - 0.126</text>
<text x="660.6" y="795.4" font-family="Liberation Sans, sans-serif" font-size="17" font-weight="normal" fill="#262626" stroke="#262626" stroke-width="0.3">r</text>
<rect x="659.5" y="809.8" width="28" height="15.6" fill="#a6611a"/>
<text x="697.7" y="824.8" font-family="Liberation Sans, sans-serif" font-size="17" font-weight="normal" fill="#262626" stroke="#262626" stroke-width="0.3" textLength="101.3" lengthAdjust="spacingAndGlyphs">0.943 - 0.965</text>
<rect x="805.3" y="778.7" width="28" height="15.6" fill="#d8b067"/>
<text x="844.3" y="793.3" font-family="Liberation Sans, sans-serif" font-size="17" font-weight="normal" fill="#262626" stroke="#262626" stroke-width="0.3" textLength="101" lengthAdjust="spacingAndGlyphs">0.965 - 0.983</text>
<rect x="805.3" y="803.1" width="28" height="15.6" fill="#ece0c2"/>
<text x="844.3" y="817.6" font-family="Liberation Sans, sans-serif" font-size="17" font-weight="normal" fill="#262626" stroke="#262626" stroke-width="0.3" textLength="101" lengthAdjust="spacingAndGlyphs">0.983 - 0.988</text>
<rect x="805.3" y="827.4" width="28" height="15.6" fill="#c7e8e4"/>
<text x="844.3" y="842.0" font-family="Liberation Sans, sans-serif" font-size="17" font-weight="normal" fill="#262626" stroke="#262626" stroke-width="0.3" textLength="101" lengthAdjust="spacingAndGlyphs">0.988 - 0.993</text>
<rect x="952" y="778.7" width="28" height="15.6" fill="#6cc4b4"/>
<text x="990.2" y="793.3" font-family="Liberation Sans, sans-serif" font-size="17" font-weight="normal" fill="#262626" stroke="#262626" stroke-width="0.3" textLength="101.7" lengthAdjust="spacingAndGlyphs">0.993 - 0.998</text>
<rect x="952" y="803.1" width="28" height="15.6" fill="#05866f"/>
<text x="990.2" y="817.6" font-family="Liberation Sans, sans-serif" font-size="17" font-weight="normal" fill="#262626" stroke="#262626" stroke-width="0.3" textLength="101.7" lengthAdjust="spacingAndGlyphs">0.998 - 1.000</text>
</svg>
</body></html>
